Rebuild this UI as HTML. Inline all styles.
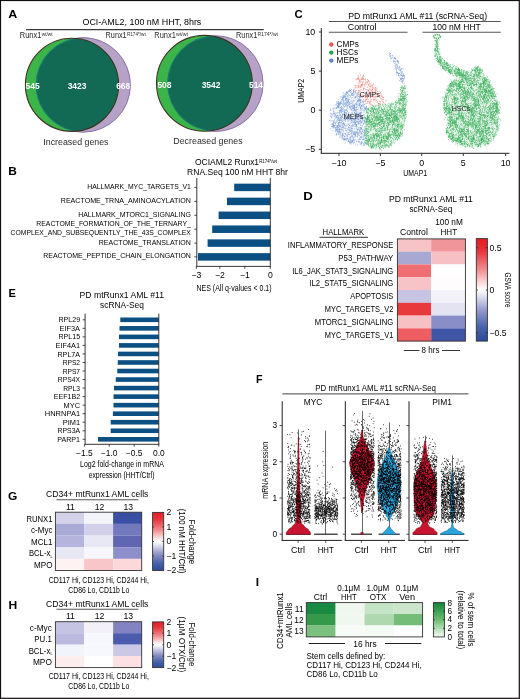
<!DOCTYPE html>
<html><head><meta charset="utf-8"><style>
html,body{margin:0;padding:0;background:#fff;}
body{width:520px;height:699px;overflow:hidden;}
svg{display:block;font-family:"Liberation Sans", sans-serif;filter:blur(0.3px);}

</style></head><body>
<svg width="520" height="699" viewBox="0 0 520 699">
<rect x="0" y="0" width="520" height="699" fill="#fff"/>
<text x="8.38" y="18.30" font-size="11.34" font-weight="bold" fill="#000" textLength="9.02" lengthAdjust="spacingAndGlyphs">A</text>
<text x="82.49" y="25.00" font-size="9.29" textLength="118.84" lengthAdjust="spacingAndGlyphs">OCI-AML2, 100 nM HHT, 8hrs</text>
<line x1="26" y1="29.6" x2="263.7" y2="29.6" stroke="#3a3a3a" stroke-width="1.1"/>
<text x="19.74" y="37.80" font-size="8.42" fill="#2a2a2a" textLength="21.76" lengthAdjust="spacingAndGlyphs">Runx1</text>
<text x="41.73" y="36.10" font-size="4.86" fill="#2a2a2a" textLength="10.94" lengthAdjust="spacingAndGlyphs">wt/wt</text>
<text x="105.54" y="37.50" font-size="8.42" fill="#2a2a2a" textLength="21.16" lengthAdjust="spacingAndGlyphs">Runx1</text>
<text x="126.93" y="35.80" font-size="4.86" fill="#2a2a2a" textLength="18.74" lengthAdjust="spacingAndGlyphs">R174*/wt</text>
<text x="154.34" y="37.50" font-size="8.42" fill="#2a2a2a" textLength="21.56" lengthAdjust="spacingAndGlyphs">Runx1</text>
<text x="176.13" y="35.80" font-size="4.86" fill="#2a2a2a" textLength="11.94" lengthAdjust="spacingAndGlyphs">wt/wt</text>
<text x="236.04" y="37.50" font-size="8.42" fill="#2a2a2a" textLength="21.26" lengthAdjust="spacingAndGlyphs">Runx1</text>
<text x="257.53" y="35.80" font-size="4.86" fill="#2a2a2a" textLength="20.44" lengthAdjust="spacingAndGlyphs">R174*/wt</text>
<defs><clipPath id="cp1"><circle cx="83.1" cy="84.9" r="47.3"/></clipPath><clipPath id="cg1"><circle cx="72.0" cy="84.8" r="46.6"/></clipPath></defs>
<circle cx="83.1" cy="84.9" r="47.3" fill="#b6a2c7" stroke="#8b72a9" stroke-width="1.0"/>
<circle cx="72.0" cy="84.8" r="46.6" fill="#3bb54a"/>
<circle cx="72.0" cy="84.8" r="46.6" fill="#126a54" clip-path="url(#cp1)"/>
<circle cx="83.1" cy="84.9" r="47.0" fill="none" stroke="#1f8a86" stroke-width="0.7" clip-path="url(#cg1)"/>
<circle cx="72.0" cy="84.8" r="46.6" fill="none" stroke="#3d3322" stroke-width="1.1"/>
<text x="32.60" y="89.10" font-size="8.42" text-anchor="middle" font-weight="bold" fill="#fff">545</text>
<text x="77.00" y="89.10" font-size="8.42" text-anchor="middle" font-weight="bold" fill="#fff">3423</text>
<text x="123.20" y="89.10" font-size="8.42" text-anchor="middle" font-weight="bold" fill="#fff">668</text>
<defs><clipPath id="cp2"><circle cx="215.2" cy="83.6" r="47.9"/></clipPath><clipPath id="cg2"><circle cx="204.4" cy="83.3" r="47.9"/></clipPath></defs>
<circle cx="215.2" cy="83.6" r="47.9" fill="#b6a2c7" stroke="#8b72a9" stroke-width="1.0"/>
<circle cx="204.4" cy="83.3" r="47.9" fill="#3bb54a"/>
<circle cx="204.4" cy="83.3" r="47.9" fill="#126a54" clip-path="url(#cp2)"/>
<circle cx="215.2" cy="83.6" r="47.6" fill="none" stroke="#1f8a86" stroke-width="0.7" clip-path="url(#cg2)"/>
<circle cx="204.4" cy="83.3" r="47.9" fill="none" stroke="#3d3322" stroke-width="1.1"/>
<text x="164.40" y="88.20" font-size="8.42" text-anchor="middle" font-weight="bold" fill="#fff">508</text>
<text x="211.00" y="88.20" font-size="8.42" text-anchor="middle" font-weight="bold" fill="#fff">3542</text>
<text x="256.00" y="88.20" font-size="8.42" text-anchor="middle" font-weight="bold" fill="#fff">514</text>
<text x="43.30" y="144.60" font-size="9.18" fill="#2a2a2a" textLength="65.23" lengthAdjust="spacingAndGlyphs">Increased genes</text>
<text x="173.30" y="144.30" font-size="9.18" fill="#2a2a2a" textLength="69.33" lengthAdjust="spacingAndGlyphs">Decreased genes</text>
<text x="8.28" y="175.40" font-size="11.34" font-weight="bold" fill="#000" textLength="8.62" lengthAdjust="spacingAndGlyphs">B</text>
<text x="194.92" y="165.00" font-size="8.75" textLength="64.19" lengthAdjust="spacingAndGlyphs">OCIAML2 Runx1</text>
<text x="259.13" y="162.60" font-size="4.97" textLength="17.75" lengthAdjust="spacingAndGlyphs">R174*/wt</text>
<text x="187.12" y="175.00" font-size="8.75" textLength="100.79" lengthAdjust="spacingAndGlyphs">RNA.Seq 100 nM HHT 8hr</text>
<rect x="234.20" y="183.65" width="36.10" height="7.50" fill="#0b4f83"/>
<line x1="194.3" y1="187.4" x2="196.8" y2="187.4" stroke="#231f20" stroke-width="0.8"/>
<rect x="227.00" y="197.65" width="43.30" height="7.50" fill="#0b4f83"/>
<line x1="194.3" y1="201.4" x2="196.8" y2="201.4" stroke="#231f20" stroke-width="0.8"/>
<rect x="218.60" y="211.55" width="51.70" height="7.50" fill="#0b4f83"/>
<line x1="194.3" y1="215.3" x2="196.8" y2="215.3" stroke="#231f20" stroke-width="0.8"/>
<rect x="212.20" y="225.45" width="58.10" height="7.50" fill="#0b4f83"/>
<line x1="194.3" y1="229.2" x2="196.8" y2="229.2" stroke="#231f20" stroke-width="0.8"/>
<rect x="207.60" y="239.35" width="62.70" height="7.50" fill="#0b4f83"/>
<line x1="194.3" y1="243.1" x2="196.8" y2="243.1" stroke="#231f20" stroke-width="0.8"/>
<rect x="198.00" y="253.15" width="72.30" height="7.50" fill="#0b4f83"/>
<line x1="194.3" y1="256.9" x2="196.8" y2="256.9" stroke="#231f20" stroke-width="0.8"/>
<text x="190.87" y="189.00" font-size="7.78" text-anchor="end" textLength="103.60" lengthAdjust="spacingAndGlyphs">HALLMARK_MYC_TARGETS_V1</text>
<text x="190.87" y="202.80" font-size="7.78" text-anchor="end" textLength="130.10" lengthAdjust="spacingAndGlyphs">REACTOME_TRNA_AMINOACYLATION</text>
<text x="190.87" y="216.50" font-size="7.78" text-anchor="end" textLength="112.70" lengthAdjust="spacingAndGlyphs">HALLMARK_MTORC1_SIGNALING</text>
<text x="190.87" y="226.10" font-size="7.78" text-anchor="end" textLength="154.60" lengthAdjust="spacingAndGlyphs">REACTOME_FORMATION_OF_THE_TERNARY_</text>
<text x="190.87" y="235.30" font-size="7.78" text-anchor="end" textLength="180.30" lengthAdjust="spacingAndGlyphs">COMPLEX_AND_SUBSEQUENTLY_THE_43S_COMPLEX</text>
<text x="190.87" y="245.30" font-size="7.78" text-anchor="end" textLength="92.10" lengthAdjust="spacingAndGlyphs">REACTOME_TRANSLATION</text>
<text x="190.87" y="258.40" font-size="7.78" text-anchor="end" textLength="147.60" lengthAdjust="spacingAndGlyphs">REACTOME_PEPTIDE_CHAIN_ELONGATION</text>
<line x1="196.8" y1="178" x2="196.8" y2="266.8" stroke="#231f20" stroke-width="0.9"/>
<line x1="196.4" y1="266.4" x2="270.7" y2="266.4" stroke="#231f20" stroke-width="0.9"/>
<line x1="270.3" y1="178" x2="270.3" y2="266.4" stroke="#231f20" stroke-width="0.9"/>
<line x1="196.4" y1="266.4" x2="196.4" y2="268.8" stroke="#231f20" stroke-width="0.8"/>
<text x="196.40" y="278.30" font-size="8.64" text-anchor="middle">−3</text>
<line x1="219.8" y1="266.4" x2="219.8" y2="268.8" stroke="#231f20" stroke-width="0.8"/>
<text x="219.80" y="278.30" font-size="8.64" text-anchor="middle">−2</text>
<line x1="244.8" y1="266.4" x2="244.8" y2="268.8" stroke="#231f20" stroke-width="0.8"/>
<text x="244.80" y="278.30" font-size="8.64" text-anchor="middle">−1</text>
<line x1="270.3" y1="266.4" x2="270.3" y2="268.8" stroke="#231f20" stroke-width="0.8"/>
<text x="270.30" y="278.30" font-size="8.64" text-anchor="middle">0</text>
<text x="196.40" y="291.00" font-size="9.07" textLength="75.22" lengthAdjust="spacingAndGlyphs">NES (All q-values &lt; 0.1)</text>
<text x="294.58" y="18.20" font-size="11.34" font-weight="bold" fill="#000" textLength="8.22" lengthAdjust="spacingAndGlyphs">C</text>
<text x="348.31" y="18.60" font-size="8.86" textLength="138.80" lengthAdjust="spacingAndGlyphs">PD mtRunx1 AML #11 (scRNA-Seq)</text>
<line x1="328.8" y1="21.5" x2="500.7" y2="21.5" stroke="#555" stroke-width="1.1"/>
<text x="347.71" y="29.80" font-size="8.86" textLength="28.80" lengthAdjust="spacingAndGlyphs">Control</text>
<text x="432.51" y="29.80" font-size="8.86" textLength="48.30" lengthAdjust="spacingAndGlyphs">100 nM HHT</text>
<line x1="328.8" y1="32.2" x2="407.5" y2="32.2" stroke="#555" stroke-width="1.1"/>
<line x1="422.5" y1="32.2" x2="500.7" y2="32.2" stroke="#555" stroke-width="1.1"/>
<line x1="321.3" y1="28" x2="321.3" y2="153.5" stroke="#231f20" stroke-width="1.0"/>
<line x1="320.8" y1="153.3" x2="509.4" y2="153.3" stroke="#231f20" stroke-width="1.0"/>
<line x1="318.8" y1="32" x2="321.3" y2="32" stroke="#231f20" stroke-width="0.9"/>
<text x="315.30" y="34.90" font-size="8.86" text-anchor="end">10</text>
<line x1="318.8" y1="71.1" x2="321.3" y2="71.1" stroke="#231f20" stroke-width="0.9"/>
<text x="315.30" y="74.00" font-size="8.86" text-anchor="end">5</text>
<line x1="318.8" y1="110.2" x2="321.3" y2="110.2" stroke="#231f20" stroke-width="0.9"/>
<text x="315.30" y="113.10" font-size="8.86" text-anchor="end">0</text>
<line x1="318.8" y1="149.3" x2="321.3" y2="149.3" stroke="#231f20" stroke-width="0.9"/>
<text x="315.30" y="152.20" font-size="8.86" text-anchor="end">−5</text>
<line x1="339" y1="153.3" x2="339" y2="156" stroke="#231f20" stroke-width="0.9"/>
<text x="339.00" y="165.70" font-size="8.86" text-anchor="middle">−10</text>
<line x1="380.4" y1="153.3" x2="380.4" y2="156" stroke="#231f20" stroke-width="0.9"/>
<text x="380.40" y="165.70" font-size="8.86" text-anchor="middle">−5</text>
<line x1="421.7" y1="153.3" x2="421.7" y2="156" stroke="#231f20" stroke-width="0.9"/>
<text x="421.70" y="165.70" font-size="8.86" text-anchor="middle">0</text>
<line x1="463.3" y1="153.3" x2="463.3" y2="156" stroke="#231f20" stroke-width="0.9"/>
<text x="463.30" y="165.70" font-size="8.86" text-anchor="middle">5</text>
<line x1="505.6" y1="153.3" x2="505.6" y2="156" stroke="#231f20" stroke-width="0.9"/>
<text x="505.60" y="165.70" font-size="8.86" text-anchor="middle">10</text>
<text x="403.32" y="176.40" font-size="8.64" textLength="23.78" lengthAdjust="spacingAndGlyphs">UMAP1</text>
<text x="304.30" y="102.68" font-size="8.64" textLength="23.78" lengthAdjust="spacingAndGlyphs" transform="rotate(-90 304.30 102.68)">UMAP2</text>
<circle cx="331.3" cy="44.5" r="2.2" fill="#e8574f"/>
<text x="336.60" y="47.20" font-size="8.21">CMPs</text>
<circle cx="331.3" cy="52.6" r="2.2" fill="#2ca14b"/>
<text x="336.60" y="55.30" font-size="8.21">HSCs</text>
<circle cx="331.3" cy="60.6" r="2.2" fill="#5c86c9"/>
<text x="336.60" y="63.30" font-size="8.21">MEPs</text>
<ellipse cx="437" cy="36.5" rx="3.4" ry="1.9" fill="none" stroke="#34ad55" stroke-width="1.5" stroke-dasharray="1.4 0.6" stroke-opacity="0.85"/>
<polygon points="348.8,90.8 353.5,88.5 360.0,96.0 367.0,106.0 366.0,120.0 365.2,135.0 365.2,144.6 358.5,145.5 348.8,142.7 339.2,137.5 332.0,128.0 329.2,117.7 331.5,109.0 337.0,101.0 343.0,94.0" fill="#6a90d0" fill-opacity="0.06"/>
<path d="M331.0 117.6h.6M333.1 113.2h.6M350.7 144.2h.6M343.9 120.0h.6M354.0 112.3h.6M339.6 120.1h.6M334.3 113.3h.6M357.5 122.6h.6M353.0 119.5h.6M346.7 125.0h.6M341.1 110.6h.6M342.8 138.6h.6M341.6 110.5h.6M350.6 103.9h.6M349.2 142.7h.6M343.8 111.0h.6M335.9 107.9h.6M334.0 108.2h.6M344.2 106.7h.6M347.5 116.6h.6M341.6 136.1h.6M361.4 128.6h.6M358.0 119.5h.6M338.0 118.0h.6M340.8 103.0h.6M365.4 109.9h.6M361.1 115.4h.6M357.8 114.9h.6M357.5 145.3h.6M357.9 100.0h.6M345.1 120.0h.6M345.8 138.9h.6M340.2 103.3h.6M343.4 114.0h.6M346.0 98.4h.6M341.6 117.6h.6M350.5 101.5h.6M349.1 132.3h.6M347.1 118.1h.6M339.3 119.9h.6M333.8 114.1h.6M355.4 134.5h.6M342.0 99.5h.6M349.5 114.8h.6M349.2 89.6h.6M364.2 121.2h.6M356.5 112.2h.6M359.7 113.6h.6M349.3 102.4h.6M336.9 105.5h.6M360.7 112.3h.6M341.5 135.2h.6M358.9 104.0h.6M339.0 106.1h.6M366.8 119.5h.6M344.0 116.7h.6M333.4 111.4h.6M338.0 120.4h.6M336.7 130.3h.6M358.0 96.4h.6M334.9 108.0h.6M349.4 125.3h.6M364.6 116.9h.6M358.7 123.9h.6M338.7 130.8h.6M339.7 118.0h.6M360.1 144.4h.6M345.8 106.4h.6M359.0 135.6h.6M360.4 107.3h.6M339.0 104.5h.6M366.3 120.3h.6M346.9 105.4h.6M338.1 125.5h.6M332.7 108.8h.6M349.8 139.6h.6M336.5 104.6h.6M365.0 135.4h.6M346.6 119.2h.6M354.4 128.8h.6M351.1 110.5h.6M353.6 139.6h.6M366.7 128.8h.6M353.6 110.5h.6M342.6 114.2h.6M358.0 117.1h.6M360.3 100.8h.6M365.4 117.8h.6M353.8 143.0h.6M365.9 106.6h.6M343.5 109.9h.6M359.3 113.3h.6M360.2 132.3h.6M364.5 107.5h.6M339.1 129.4h.6M364.2 111.0h.6M358.0 124.0h.6M336.9 131.5h.6M363.0 145.0h.6M348.1 130.0h.6M361.7 125.7h.6M337.9 104.3h.6M352.2 107.0h.6M338.4 134.6h.6M352.0 140.7h.6M333.4 123.4h.6M338.9 122.8h.6M341.3 127.8h.6M360.1 120.3h.6M350.8 126.3h.6M345.5 104.4h.6M343.0 99.8h.6M344.6 139.0h.6M332.0 123.9h.6M340.8 118.9h.6M361.3 145.3h.6M367.0 115.6h.6M359.6 99.6h.6M343.4 93.4h.6M333.1 122.1h.6M347.9 100.8h.6M336.7 116.2h.6M334.0 114.1h.6M357.6 117.6h.6M358.0 134.8h.6M343.1 131.1h.6M360.6 96.4h.6M339.8 117.5h.6M355.0 139.1h.6M345.4 133.9h.6M336.2 130.2h.6M351.6 126.3h.6M332.7 123.4h.6M353.6 90.1h.6M342.1 100.9h.6M353.5 115.3h.6M343.6 102.5h.6M343.9 124.7h.6M350.5 143.4h.6M337.8 106.8h.6M359.7 127.9h.6M360.1 128.7h.6M357.4 116.3h.6M338.1 130.0h.6M363.7 106.5h.6M350.5 105.8h.6M364.6 108.2h.6M355.4 124.3h.6M361.7 137.7h.6M354.4 105.9h.6M337.7 106.8h.6M338.8 131.6h.6M356.1 118.8h.6M360.7 99.8h.6M348.2 117.6h.6M343.1 135.6h.6M338.4 129.3h.6M354.9 134.2h.6M344.3 139.1h.6M343.2 105.9h.6M357.4 96.9h.6M339.0 107.9h.6M359.7 131.6h.6M334.4 120.7h.6M346.4 100.3h.6M353.3 92.5h.6M353.7 140.1h.6M331.1 117.1h.6M348.4 127.9h.6M337.2 127.0h.6M366.3 109.8h.6M365.0 117.6h.6M347.8 120.3h.6M352.5 135.3h.6M342.1 137.5h.6M345.2 98.3h.6M337.2 106.3h.6M354.3 108.9h.6M361.7 141.6h.6M354.5 88.9h.6M360.0 107.2h.6M353.6 131.9h.6M359.3 99.4h.6M345.7 139.5h.6M333.9 116.7h.6M347.8 116.8h.6M360.0 113.5h.6M333.4 125.1h.6M347.2 138.3h.6M340.8 137.8h.6M357.2 101.1h.6M359.5 105.9h.6M353.6 134.4h.6M362.6 119.7h.6M346.6 132.2h.6M342.4 135.1h.6M339.3 113.1h.6M351.1 89.5h.6M362.9 114.8h.6M364.3 144.6h.6M353.7 100.6h.6M341.7 129.2h.6M330.1 110.0h.6M342.1 125.7h.6M352.2 104.9h.6M352.7 105.5h.6M355.4 122.0h.6M350.1 131.6h.6M346.8 98.5h.6M346.7 92.8h.6M349.2 116.3h.6M335.1 128.1h.6M349.7 97.0h.6M334.0 125.7h.6M345.2 118.7h.6M340.7 132.4h.6M360.8 143.6h.6M352.6 111.0h.6M355.9 113.1h.6M363.7 134.7h.6M341.2 122.8h.6M348.3 99.3h.6M336.2 113.2h.6M360.8 116.3h.6M339.0 113.9h.6M340.9 100.0h.6M338.0 105.5h.6M342.7 95.4h.6M338.2 122.6h.6M357.3 100.4h.6M346.7 103.1h.6M361.4 122.4h.6M345.0 128.8h.6M363.2 138.0h.6M348.0 139.9h.6M343.0 97.8h.6M360.7 107.9h.6M350.0 119.0h.6M339.9 136.0h.6M351.7 120.9h.6M362.9 130.2h.6M347.7 104.7h.6M350.1 136.9h.6M362.6 117.8h.6M339.4 103.3h.6M354.1 109.7h.6M337.1 126.6h.6M341.0 106.8h.6M364.1 118.0h.6M338.3 101.8h.6M352.7 122.5h.6M347.1 107.4h.6M342.5 123.5h.6M337.6 123.1h.6M342.2 133.3h.6M344.4 114.0h.6M355.3 122.5h.6M359.4 121.6h.6M345.5 130.5h.6M361.7 117.8h.6M346.6 140.8h.6M344.5 140.1h.6M348.0 118.6h.6M354.1 119.2h.6M361.6 116.8h.6M343.9 97.3h.6M354.4 122.8h.6M330.3 113.4h.6M336.5 118.3h.6M351.8 113.3h.6M354.1 134.6h.6M341.8 130.0h.6M348.0 124.5h.6M361.2 105.5h.6M343.2 131.4h.6M347.9 134.5h.6M339.2 120.3h.6M342.3 103.2h.6M349.3 102.6h.6M350.9 109.0h.6M348.7 118.5h.6M353.7 121.1h.6M340.5 125.9h.6M347.8 106.1h.6M332.2 130.6h.6M353.4 107.2h.6M344.2 125.8h.6M357.5 129.3h.6M337.5 106.0h.6M349.4 130.0h.6M362.6 133.3h.6M353.5 92.3h.6M352.6 113.3h.6M348.6 141.1h.6M353.2 133.7h.6M354.2 119.8h.6M345.8 101.2h.6M353.5 102.0h.6M365.0 108.2h.6M349.2 130.7h.6M342.7 100.9h.6M355.2 115.0h.6M346.0 98.3h.6M337.6 118.8h.6M340.4 102.8h.6M359.7 103.9h.6M340.0 110.9h.6M347.5 118.2h.6M329.8 128.6h.6M347.7 99.4h.6M339.1 126.6h.6M340.0 114.3h.6M353.3 105.1h.6M353.8 105.4h.6M337.6 127.9h.6M342.0 121.4h.6M345.2 94.2h.6M348.6 102.6h.6M352.4 93.6h.6M342.4 97.6h.6M354.4 137.2h.6M335.7 129.5h.6M352.2 93.7h.6M364.6 128.0h.6M361.4 121.7h.6M359.1 100.5h.6M349.7 127.7h.6M343.4 95.8h.6M359.6 127.3h.6M352.7 94.9h.6M350.8 91.8h.6M353.8 104.0h.6M351.0 118.6h.6M350.6 131.0h.6M353.8 107.2h.6M352.9 108.7h.6M347.5 110.4h.6M351.5 106.1h.6M341.7 129.6h.6M364.6 122.9h.6M343.3 138.2h.6M340.0 103.9h.6M356.2 102.2h.6M361.6 122.9h.6M362.8 109.1h.6M352.2 107.1h.6M358.9 112.0h.6M354.0 122.0h.6M355.5 133.6h.6M350.1 142.2h.6M354.7 132.6h.6M358.0 93.9h.6M349.1 119.8h.6M358.8 141.3h.6M359.9 114.5h.6M337.0 103.2h.6M335.9 134.8h.6M338.7 119.4h.6M339.1 132.2h.6M347.0 138.1h.6M356.8 93.7h.6M358.4 127.8h.6M346.3 94.4h.6M335.9 126.4h.6M366.0 108.0h.6M356.8 104.4h.6M349.7 107.8h.6M351.8 119.6h.6M354.0 112.6h.6M346.1 113.3h.6M344.9 103.5h.6M358.5 139.5h.6M353.7 119.8h.6M341.6 125.7h.6M348.3 100.6h.6M349.0 119.2h.6M361.3 112.9h.6M344.0 136.3h.6M342.3 134.4h.6M359.0 130.9h.6M348.4 102.9h.6M350.6 91.0h.6M333.0 125.8h.6M360.2 124.0h.6M341.9 129.9h.6M352.6 140.9h.6M344.8 127.2h.6M362.3 131.0h.6M345.9 139.3h.6M355.0 119.6h.6M350.3 90.5h.6M359.5 139.2h.6M339.5 105.4h.6M351.0 117.9h.6M338.0 99.8h.6M345.6 117.7h.6M349.2 91.2h.6M350.8 106.1h.6M353.8 134.9h.6M344.7 139.1h.6M333.1 121.9h.6M359.1 116.2h.6M355.0 97.1h.6M360.0 104.8h.6M342.3 133.8h.6M343.1 124.9h.6M349.1 103.9h.6M349.4 95.6h.6M362.5 101.7h.6M353.3 91.6h.6M360.2 122.7h.6M332.1 124.9h.6M344.5 128.4h.6M347.7 96.7h.6M347.4 119.2h.6M349.8 118.3h.6M349.3 138.9h.6M337.8 131.5h.6M344.4 117.8h.6M358.9 130.4h.6M342.3 134.6h.6M356.6 127.6h.6M348.7 115.9h.6M361.0 132.4h.6M355.7 128.9h.6M351.0 142.1h.6M339.1 137.3h.6M366.0 136.3h.6M360.6 133.7h.6M344.7 123.6h.6M342.5 137.1h.6M338.5 126.9h.6M334.0 126.9h.6M349.8 139.5h.6M336.4 120.7h.6M346.1 135.0h.6M362.2 125.7h.6M364.8 108.4h.6M355.1 118.2h.6M356.5 131.7h.6M335.6 122.3h.6M357.5 124.2h.6M351.8 136.1h.6M356.7 129.0h.6M335.2 130.9h.6M337.3 107.3h.6M358.7 105.3h.6M349.1 106.7h.6M337.6 101.9h.6M356.9 132.0h.6M341.7 111.4h.6M354.3 140.2h.6M353.7 121.1h.6M332.8 126.8h.6M353.3 137.1h.6M350.9 103.1h.6M340.8 101.5h.6M343.3 127.6h.6M331.5 113.6h.6M337.1 125.5h.6M338.4 132.2h.6M347.2 111.5h.6M330.4 116.2h.6M356.4 115.4h.6M348.5 112.9h.6M340.9 120.2h.6M358.4 92.2h.6M356.1 124.9h.6M360.1 114.8h.6M363.9 133.3h.6M338.4 102.0h.6M364.8 143.4h.6M360.6 136.5h.6M352.2 108.6h.6M362.2 120.2h.6M355.9 113.2h.6M356.5 114.7h.6M355.4 132.3h.6M365.6 103.7h.6M335.8 115.6h.6M333.4 125.8h.6M333.1 108.9h.6M354.4 122.9h.6M360.0 127.6h.6M346.5 138.2h.6M355.4 103.6h.6M340.3 102.8h.6M362.9 139.3h.6M364.3 134.9h.6M338.5 123.6h.6M350.9 141.2h.6M338.3 102.5h.6M352.3 121.3h.6M340.2 96.7h.6M339.1 112.4h.6M342.5 135.3h.6M334.8 125.5h.6M352.7 101.4h.6M343.1 129.0h.6M343.1 120.1h.6M340.1 110.9h.6M360.4 102.1h.6M347.4 129.8h.6M345.1 96.1h.6M364.9 121.7h.6M365.8 120.2h.6M345.8 130.4h.6M339.1 128.3h.6M346.7 97.8h.6M348.4 101.0h.6M363.5 132.3h.6M351.9 140.2h.6M345.8 95.2h.6M339.1 115.3h.6M346.0 102.3h.6M341.8 127.0h.6M350.5 129.6h.6M347.9 94.0h.6M362.9 120.3h.6M359.6 101.6h.6M343.3 126.8h.6M338.0 104.4h.6M346.3 92.5h.6M335.6 115.4h.6M336.6 134.0h.6M351.4 136.6h.6M338.1 103.6h.6M340.9 118.8h.6M332.5 125.8h.6M357.6 110.1h.6M350.0 90.5h.6M360.8 134.4h.6M350.1 96.1h.6M352.1 102.8h.6M355.6 99.9h.6M351.9 141.3h.6M337.2 130.0h.6M359.2 105.8h.6M351.7 93.5h.6M348.1 117.0h.6M357.6 95.3h.6M338.3 127.6h.6M354.0 133.2h.6M363.1 124.2h.6M358.4 132.9h.6M358.8 96.5h.6M350.1 137.5h.6M345.4 110.4h.6M351.7 103.4h.6M359.9 108.9h.6M361.5 105.9h.6M361.9 119.9h.6M364.3 141.3h.6M338.7 110.1h.6M364.3 130.7h.6M357.2 134.0h.6M364.5 130.7h.6M362.1 101.2h.6M360.8 102.1h.6M358.1 141.3h.6M349.9 115.1h.6M365.7 128.0h.6M346.2 92.2h.6M342.9 100.5h.6M341.1 108.4h.6M352.4 125.4h.6M351.5 133.1h.6M364.4 142.4h.6M333.4 125.1h.6M337.9 104.1h.6M338.8 104.3h.6M351.0 128.1h.6M346.4 92.0h.6M358.7 103.3h.6M352.7 106.2h.6M337.3 115.6h.6M364.4 115.1h.6M342.2 111.8h.6M352.2 141.3h.6M341.8 136.2h.6M351.6 112.9h.6M340.0 117.4h.6M343.8 124.2h.6M349.8 103.7h.6M360.4 97.1h.6M366.9 121.1h.6M346.2 98.7h.6M356.3 125.0h.6M345.9 113.5h.6M353.8 107.0h.6M364.2 121.3h.6M352.2 108.7h.6M340.8 131.3h.6M362.0 116.2h.6M364.5 130.3h.6M363.9 121.8h.6M360.1 95.7h.6M345.7 128.5h.6M335.8 127.4h.6M355.9 115.9h.6M335.9 127.1h.6M331.7 114.0h.6M357.0 129.8h.6M349.1 107.2h.6M359.3 104.9h.6M359.0 123.6h.6M334.8 127.8h.6M334.3 116.3h.6M351.2 133.7h.6M344.4 119.8h.6M352.6 119.7h.6M339.2 122.0h.6M351.7 136.1h.6M345.9 125.8h.6M352.6 124.5h.6M350.1 134.1h.6M345.3 103.9h.6M358.7 100.2h.6M348.4 141.5h.6M332.1 126.6h.6M355.8 116.7h.6M343.0 96.9h.6M342.0 104.7h.6M356.4 113.6h.6M336.8 125.9h.6M365.2 135.8h.6M331.6 126.3h.6M350.9 128.8h.6M363.0 123.6h.6M363.9 120.6h.6M341.3 109.4h.6M338.4 117.9h.6M336.4 117.3h.6M359.8 117.5h.6M342.9 103.3h.6M346.5 130.5h.6M340.7 108.3h.6M337.4 131.9h.6M355.3 104.2h.6M367.3 118.0h.6M338.3 106.1h.6M346.1 109.7h.6M346.4 112.4h.6M363.0 111.9h.6M342.8 111.3h.6M341.9 127.4h.6M355.3 125.2h.6M350.3 108.1h.6M352.2 118.4h.6M340.1 122.4h.6M356.9 104.2h.6M330.0 109.0h.6M339.5 131.4h.6M347.0 100.9h.6M342.8 114.7h.6M343.9 136.9h.6M341.8 124.0h.6M364.6 108.5h.6M341.0 108.1h.6M366.1 110.3h.6M338.5 132.7h.6M346.1 98.5h.6M338.5 124.8h.6M349.2 107.3h.6M352.0 95.0h.6M352.7 134.0h.6M360.1 125.5h.6M364.3 145.8h.6M355.8 120.9h.6M332.4 124.8h.6M347.5 133.0h.6M358.0 100.9h.6M352.0 136.6h.6M359.7 114.3h.6M357.0 134.9h.6M336.8 129.3h.6M338.7 125.6h.6M337.7 112.7h.6M353.7 132.8h.6M345.1 119.5h.6M343.3 96.7h.6M345.3 119.1h.6M358.6 122.7h.6M339.5 129.3h.6M342.3 114.7h.6M346.8 103.0h.6M359.0 129.8h.6M345.2 105.9h.6M358.9 116.8h.6M343.3 126.5h.6M339.3 120.7h.6M361.5 143.2h.6M360.6 116.8h.6M353.2 126.3h.6M351.4 107.0h.6M359.3 105.5h.6M342.1 98.7h.6M340.0 126.4h.6M362.9 102.2h.6M344.6 139.9h.6M344.0 95.8h.6M345.1 102.6h.6M355.2 123.1h.6M335.5 113.0h.6M340.0 124.0h.6M347.7 118.0h.6M355.4 135.6h.6M331.4 126.4h.6M356.1 90.7h.6M356.1 125.1h.6M360.4 99.9h.6M361.0 137.5h.6M342.1 107.9h.6M353.9 97.9h.6M335.6 128.6h.6M361.2 105.8h.6M346.3 109.4h.6M339.1 103.8h.6M350.6 119.8h.6M354.3 134.1h.6M334.5 119.7h.6M355.0 120.2h.6M363.0 136.8h.6M342.6 92.1h.6M358.7 113.0h.6M333.4 125.3h.6M337.5 115.5h.6M344.2 136.6h.6M340.0 115.6h.6M337.1 107.8h.6M347.0 135.8h.6M350.8 122.1h.6M351.8 93.1h.6M357.8 121.4h.6M359.6 139.1h.6M339.8 133.0h.6M355.0 144.3h.6M359.7 103.6h.6M352.1 142.7h.6M359.9 96.2h.6M348.4 141.0h.6M349.6 141.9h.6M360.5 100.2h.6M361.8 142.7h.6M361.3 122.1h.6M362.6 101.9h.6M359.3 132.7h.6M358.6 115.5h.6M343.9 139.4h.6M332.7 128.0h.6M338.6 132.3h.6M355.4 96.5h.6M356.7 102.7h.6M350.6 138.1h.6M345.4 133.6h.6M361.8 108.7h.6M346.5 105.3h.6M336.7 131.7h.6M360.1 130.1h.6M345.2 110.6h.6M354.2 109.8h.6M346.0 110.6h.6M351.5 120.3h.6M351.0 101.1h.6M359.0 138.1h.6M350.9 119.5h.6M355.6 109.4h.6M356.4 124.4h.6M359.0 115.8h.6M351.1 125.5h.6M349.0 125.5h.6M356.1 104.9h.6M354.9 107.6h.6M358.6 105.2h.6M357.9 115.7h.6M351.5 130.9h.6M340.5 116.3h.6M339.2 131.0h.6M364.7 143.8h.6M363.9 104.7h.6M338.2 122.6h.6M360.0 128.9h.6M351.8 117.2h.6M336.2 129.5h.6M335.0 118.2h.6M353.1 139.2h.6M345.0 143.1h.6M350.8 140.7h.6M358.0 122.6h.6M358.4 128.8h.6M346.8 134.7h.6M347.2 92.1h.6M366.2 106.4h.6M358.3 99.6h.6M356.2 117.5h.6M343.7 104.0h.6M347.7 139.0h.6M341.4 106.5h.6M339.3 129.6h.6M359.3 96.4h.6M359.9 117.2h.6M354.1 120.8h.6M332.9 113.3h.6M341.0 112.7h.6M355.7 110.5h.6M361.4 142.2h.6M360.2 100.5h.6M347.5 108.7h.6M357.7 115.3h.6M363.6 123.1h.6M356.1 96.5h.6M342.1 115.0h.6M366.0 107.8h.6M353.3 125.0h.6M352.5 141.2h.6M339.5 134.2h.6M337.3 106.4h.6M349.0 127.9h.6M347.0 119.3h.6M354.7 118.4h.6M349.8 107.9h.6M358.4 107.9h.6M353.8 109.3h.6M357.4 106.1h.6M331.3 124.4h.6M363.4 101.6h.6M336.8 117.3h.6M363.1 115.0h.6M359.7 94.6h.6M332.8 127.9h.6M354.6 107.6h.6M357.7 118.8h.6M361.8 106.7h.6M356.5 133.3h.6M356.5 111.2h.6M342.0 117.1h.6M355.5 110.2h.6M360.3 108.3h.6M348.1 120.8h.6M356.1 141.6h.6M362.4 131.2h.6M353.1 106.0h.6M341.7 139.1h.6M354.9 91.7h.6M343.3 104.4h.6M343.3 122.5h.6M357.3 136.2h.6M360.8 143.4h.6M347.9 105.1h.6M340.3 129.3h.6M345.4 105.1h.6M347.4 95.6h.6M344.0 109.7h.6M342.9 105.6h.6M350.2 130.1h.6M365.1 138.3h.6M339.0 111.0h.6M344.2 96.7h.6M361.4 118.5h.6M344.9 98.5h.6M356.9 94.2h.6M351.2 109.6h.6M352.7 95.7h.6M342.0 107.4h.6M355.9 107.4h.6M353.2 108.5h.6M346.3 114.8h.6M349.1 106.0h.6M364.6 126.8h.6M349.7 123.7h.6M364.7 108.7h.6M338.4 106.8h.6M341.8 124.3h.6M356.4 95.3h.6M354.1 105.7h.6M345.6 93.2h.6M360.7 96.4h.6M360.9 117.5h.6M338.1 107.0h.6M348.1 127.6h.6M362.6 104.8h.6M345.3 121.3h.6M336.5 129.2h.6M353.0 142.9h.6M348.4 115.3h.6M354.1 133.3h.6M359.4 97.2h.6M339.8 110.3h.6M337.9 107.7h.6M357.3 118.7h.6M346.9 99.9h.6M347.6 121.7h.6M354.4 124.6h.6M362.0 139.5h.6M343.1 98.2h.6M339.1 122.2h.6M337.2 119.5h.6M353.0 92.8h.6M350.7 122.0h.6M352.4 118.4h.6M352.1 128.7h.6M357.3 101.1h.6M357.7 101.2h.6M346.6 92.8h.6M348.2 118.9h.6M339.8 107.4h.6M344.2 111.0h.6M353.3 122.6h.6M366.9 119.6h.6M344.2 124.7h.6M338.1 103.9h.6M335.7 134.8h.6M356.9 133.1h.6M346.9 103.2h.6M349.8 137.8h.6M346.3 114.1h.6M363.2 145.3h.6M339.7 131.8h.6M344.5 94.3h.6M341.4 129.2h.6M334.2 123.2h.6M340.5 104.7h.6M352.9 132.9h.6M353.9 94.8h.6M342.5 115.6h.6M339.7 122.9h.6M339.4 102.9h.6M358.1 118.9h.6M364.6 142.6h.6M354.6 107.2h.6M351.3 94.6h.6M351.3 120.4h.6M344.6 118.5h.6M341.4 99.7h.6M365.8 132.3h.6M353.0 90.3h.6M352.0 138.1h.6M343.1 97.4h.6M351.1 142.6h.6M348.9 141.2h.6M354.6 115.5h.6M347.1 128.7h.6M340.3 133.1h.6M361.7 131.5h.6M335.4 130.0h.6M349.7 117.7h.6M338.6 133.4h.6M357.0 136.9h.6M355.4 116.2h.6M342.0 127.6h.6M339.6 125.9h.6M349.7 95.0h.6M363.7 139.6h.6M355.6 126.8h.6M335.1 124.1h.6M356.8 118.4h.6M353.6 100.4h.6M365.9 108.0h.6M345.5 96.5h.6M352.3 97.6h.6M344.8 112.2h.6M354.4 110.3h.6M340.7 118.0h.6M354.5 104.6h.6M354.3 113.3h.6M354.3 108.7h.6M355.5 120.1h.6M346.8 93.4h.6M361.1 109.7h.6M366.8 138.3h.6M344.9 112.5h.6M350.2 138.1h.6M359.8 100.1h.6M359.5 101.8h.6M339.3 125.4h.6M346.1 116.4h.6M344.1 103.9h.6M343.6 123.1h.6M336.9 125.7h.6M348.4 101.5h.6M337.0 127.2h.6M342.9 133.8h.6M354.1 119.3h.6M348.5 95.1h.6M356.6 126.4h.6M364.1 117.7h.6M356.8 94.1h.6M350.8 109.3h.6M362.5 136.1h.6M346.7 138.5h.6M357.3 113.3h.6M344.8 100.3h.6M355.0 116.4h.6M361.2 119.2h.6M346.9 102.6h.6M353.1 95.1h.6M352.7 140.9h.6M355.1 135.1h.6M346.8 136.5h.6M338.5 124.0h.6M336.1 108.1h.6M338.0 126.9h.6M348.7 129.4h.6M348.4 104.0h.6M342.8 139.9h.6M351.6 95.0h.6M364.0 104.3h.6M336.5 134.7h.6M349.9 131.1h.6M349.5 99.2h.6M348.4 127.4h.6M336.9 117.0h.6M360.2 137.6h.6M350.6 127.3h.6M342.1 117.0h.6M351.8 128.5h.6M357.2 121.7h.6M360.6 106.4h.6M339.7 110.8h.6M357.6 118.2h.6M330.8 115.1h.6M363.1 105.0h.6M359.9 142.6h.6M338.6 118.3h.6M354.8 97.7h.6M360.1 136.8h.6M354.1 105.7h.6M365.0 132.3h.6M334.9 127.6h.6M357.0 117.9h.6M349.4 104.4h.6M336.1 116.9h.6M340.1 112.1h.6M357.5 109.4h.6M354.3 141.9h.6M344.6 106.4h.6M363.8 132.3h.6M336.3 108.0h.6M353.5 111.1h.6M340.6 127.9h.6M347.4 92.7h.6M336.3 121.9h.6M359.9 131.5h.6M351.1 95.1h.6M343.9 133.2h.6M360.7 108.6h.6M348.2 132.7h.6M361.3 128.3h.6M346.5 101.7h.6M354.5 126.3h.6M357.3 116.1h.6M341.2 112.5h.6M360.1 110.2h.6M353.0 107.8h.6M352.1 131.4h.6M351.3 97.8h.6M348.4 91.0h.6M365.1 108.6h.6M350.3 142.8h.6M350.2 119.4h.6M341.8 96.6h.6M354.8 123.4h.6M340.9 122.1h.6M359.7 129.8h.6M352.9 90.2h.6M361.1 141.9h.6M346.8 96.2h.6M355.3 113.7h.6M350.5 107.1h.6M365.9 120.2h.6M335.3 117.2h.6M344.8 96.7h.6M356.1 121.7h.6M343.4 118.3h.6M348.3 117.4h.6M344.6 115.6h.6M340.0 135.0h.6M331.6 116.6h.6M356.9 121.6h.6M366.9 130.8h.6M336.1 102.0h.6M348.2 134.0h.6M346.8 136.0h.6M359.9 107.6h.6M351.7 100.1h.6M333.8 122.4h.6M351.6 131.6h.6M362.7 105.6h.6M356.7 132.7h.6M344.4 103.9h.6M351.5 130.6h.6M340.3 119.0h.6M354.8 116.3h.6M356.3 107.0h.6M349.0 116.9h.6M345.2 125.5h.6M355.8 112.9h.6M351.4 115.6h.6M337.8 120.5h.6M351.1 93.4h.6M364.8 110.0h.6M345.6 114.9h.6M355.1 126.5h.6M338.2 107.0h.6M346.3 104.4h.6M343.5 123.8h.6M355.4 131.8h.6M358.7 133.8h.6M366.9 109.3h.6M347.0 106.1h.6M366.5 118.9h.6M347.7 92.6h.6M349.3 134.5h.6M357.2 129.5h.6M356.3 109.4h.6M343.4 108.4h.6M350.8 140.6h.6M357.8 132.7h.6M361.2 129.6h.6M344.4 116.2h.6M334.9 131.7h.6M356.0 106.9h.6M361.6 139.2h.6M355.8 136.4h.6M344.9 113.1h.6M358.6 122.0h.6M341.8 121.1h.6M339.0 129.0h.6M357.7 119.9h.6M362.3 121.8h.6M351.4 135.1h.6M349.0 143.0h.6M353.6 108.9h.6M352.5 130.2h.6M355.7 97.8h.6M356.2 124.7h.6M341.5 111.4h.6M344.5 112.8h.6M334.8 114.9h.6M332.7 115.0h.6M336.6 103.5h.6M361.6 133.8h.6M333.1 110.3h.6M345.8 91.3h.6M356.5 132.3h.6M357.6 117.2h.6M358.0 94.2h.6M361.3 106.2h.6M338.6 117.2h.6M360.7 113.0h.6M350.8 114.5h.6M345.2 99.4h.6M362.7 106.9h.6M354.2 131.3h.6M361.9 110.3h.6M354.8 113.9h.6M359.5 121.5h.6M359.1 100.1h.6M355.7 113.5h.6M363.2 139.6h.6M353.9 93.2h.6M362.3 104.3h.6M357.8 119.8h.6M349.5 90.6h.6M354.4 106.6h.6M359.7 113.8h.6M355.2 92.4h.6M335.0 114.6h.6M333.7 125.8h.6M348.1 123.9h.6M347.7 117.8h.6M360.7 114.5h.6M358.7 100.1h.6M350.9 128.5h.6M350.4 90.5h.6M357.6 134.1h.6M332.9 121.0h.6M344.5 95.9h.6M356.7 140.9h.6M361.3 133.4h.6M337.8 118.9h.6M355.6 93.4h.6M356.1 104.1h.6M353.8 123.0h.6M343.3 101.9h.6M356.2 103.9h.6M340.1 109.8h.6M356.7 118.3h.6M345.0 99.8h.6M351.2 132.9h.6M349.8 141.8h.6M333.0 124.2h.6M338.7 129.5h.6M339.1 129.9h.6M350.1 92.6h.6M339.3 110.9h.6M354.9 124.1h.6M335.5 104.7h.6M340.2 107.6h.6M347.8 91.5h.6M343.1 123.7h.6M338.2 118.4h.6M342.5 114.4h.6M351.3 122.5h.6M352.8 105.7h.6M353.0 138.0h.6M361.0 136.2h.6M337.0 121.8h.6M345.3 94.1h.6M341.6 116.9h.6M360.4 102.6h.6M344.6 136.3h.6M347.8 97.9h.6M356.6 119.1h.6M335.4 122.3h.6M356.1 109.1h.6M336.6 129.3h.6M330.7 120.5h.6M365.0 134.1h.6M344.7 97.4h.6M337.1 130.4h.6M358.7 119.6h.6M337.8 112.4h.6M342.3 98.2h.6M333.8 112.1h.6M343.3 139.4h.6M340.1 120.5h.6M344.9 134.6h.6M355.0 111.4h.6M349.5 116.1h.6M360.1 112.5h.6M356.2 117.8h.6M337.4 128.2h.6M347.4 101.9h.6M357.6 129.6h.6M352.0 124.9h.6M365.6 119.1h.6M356.3 121.9h.6M366.8 109.3h.6M341.0 116.0h.6M341.5 120.4h.6M333.0 126.7h.6M338.6 124.5h.6M358.1 113.9h.6M355.0 110.2h.6M336.5 133.6h.6M355.3 136.0h.6M359.0 141.9h.6M339.7 102.2h.6M361.4 112.1h.6M340.3 102.1h.6M349.2 91.3h.6M348.4 113.5h.6M363.8 110.3h.6M358.3 101.2h.6M359.7 120.5h.6M352.3 126.8h.6M343.8 112.5h.6M338.4 104.2h.6M342.3 119.9h.6M360.3 139.0h.6M350.3 141.0h.6M360.1 121.0h.6M360.7 127.6h.6M329.0 120.5h.6M363.4 143.6h.6M357.7 98.5h.6M365.1 109.0h.6M341.7 109.5h.6M359.6 118.8h.6M345.0 120.1h.6M354.7 97.0h.6M343.7 101.2h.6M330.4 110.3h.6M366.1 106.8h.6M335.6 123.6h.6M354.1 112.5h.6M363.7 117.7h.6M360.4 121.0h.6M344.0 113.3h.6M333.3 126.8h.6M347.6 141.5h.6M333.9 125.6h.6M345.0 139.2h.6M362.6 129.7h.6M365.3 119.0h.6M361.7 127.6h.6M345.9 99.8h.6M341.4 116.4h.6M358.6 142.5h.6M359.1 104.1h.6M341.8 97.6h.6M342.2 109.6h.6M359.6 98.1h.6M338.6 116.1h.6M356.1 126.0h.6M357.5 130.7h.6M357.7 135.2h.6M332.8 121.0h.6M354.1 107.2h.6M353.6 132.0h.6M341.1 103.6h.6M354.7 115.9h.6M364.8 131.4h.6M359.8 113.3h.6M363.2 102.8h.6M353.2 108.5h.6M337.8 114.1h.6M344.4 111.9h.6M356.5 115.2h.6" stroke="#6a90d0" stroke-width="0.8" fill="none"/>
<polygon points="357.5,73.6 360.0,75.0 367.0,79.5 373.0,85.0 379.0,91.0 383.0,96.5 385.4,102.3 378.0,104.5 370.0,106.5 367.0,106.0 360.0,96.0 353.5,88.5 356.0,80.0" fill="#e8665c" fill-opacity="0.03"/>
<path d="M368.0 94.8h.6M372.9 83.9h.6M369.6 96.9h.6M357.8 90.1h.6M375.4 90.0h.6M366.7 83.0h.6M359.9 97.0h.6M361.5 85.4h.6M378.9 95.8h.6M381.7 100.0h.6M355.8 86.1h.6M371.0 85.4h.6M359.4 92.1h.6M375.0 99.1h.6M368.3 85.0h.6M376.3 90.0h.6M358.4 87.2h.6M368.3 93.5h.6M366.6 89.9h.6M371.4 96.9h.6M354.7 85.5h.6M365.3 97.0h.6M383.9 103.8h.6M378.7 91.7h.6M367.1 97.3h.6M362.7 78.0h.6M368.2 90.7h.6M371.7 105.5h.6M376.4 94.3h.6M365.2 101.5h.6M362.0 84.8h.6M358.0 79.0h.6M358.3 77.9h.6M358.0 85.9h.6M380.0 92.7h.6M359.6 82.4h.6M374.2 99.7h.6M379.5 95.6h.6M368.8 95.5h.6M375.6 98.0h.6M376.9 101.7h.6M365.0 80.0h.6M361.4 85.8h.6M360.2 87.6h.6M367.9 81.5h.6M354.9 87.5h.6M386.6 100.3h.6M370.4 97.1h.6M382.6 97.8h.6M375.2 101.0h.6M357.5 92.4h.6M382.6 97.1h.6M365.3 83.2h.6M380.7 98.3h.6M366.0 99.4h.6M367.4 97.9h.6M360.1 91.0h.6M360.5 89.6h.6M372.5 91.5h.6M355.3 85.8h.6M383.1 102.3h.6M364.6 84.8h.6M358.5 77.2h.6M359.4 90.9h.6M362.1 76.9h.6M363.8 88.3h.6M360.4 81.4h.6M367.6 98.0h.6M367.4 101.9h.6M366.0 95.3h.6M378.7 93.3h.6M360.9 84.9h.6M363.5 79.2h.6M372.5 89.4h.6M361.9 79.4h.6M368.9 86.8h.6M373.1 96.2h.6M369.1 82.1h.6M367.3 101.8h.6M373.2 94.9h.6M378.0 104.1h.6M359.6 80.1h.6M365.1 89.7h.6M369.5 88.6h.6M376.6 102.5h.6M367.0 90.1h.6M372.3 105.4h.6M360.7 79.3h.6M361.3 79.3h.6M361.0 96.4h.6M360.4 75.3h.6M359.2 81.3h.6M367.4 79.7h.6M364.6 79.4h.6M379.3 104.3h.6M370.2 102.0h.6M366.5 96.7h.6M378.3 103.7h.6M370.3 101.8h.6M379.6 97.3h.6M373.5 99.7h.6M372.7 88.4h.6M376.0 93.1h.6M358.8 83.0h.6M357.9 87.3h.6M373.1 95.0h.6M366.6 96.5h.6M365.3 94.0h.6M362.2 96.4h.6M365.1 100.7h.6M362.3 82.2h.6M370.1 86.2h.6M368.2 101.3h.6M358.9 95.5h.6M374.7 97.0h.6M359.2 81.2h.6M365.1 79.0h.6M370.1 90.0h.6M362.5 78.2h.6M356.6 78.7h.6M371.9 87.2h.6M375.7 88.8h.6M364.6 86.1h.6M363.2 88.4h.6M368.9 89.7h.6M368.2 84.4h.6M380.9 93.9h.6M369.8 103.5h.6M370.6 99.8h.6M361.6 87.1h.6M367.9 80.5h.6M385.6 101.1h.6M373.3 93.4h.6M363.0 95.5h.6M375.0 90.9h.6M358.8 85.4h.6M366.3 99.8h.6M358.8 78.9h.6M361.2 85.1h.6M364.0 84.6h.6M353.6 91.0h.6M359.7 87.0h.6M370.2 104.7h.6M368.7 85.1h.6M365.0 97.9h.6M370.4 94.4h.6M373.6 87.6h.6M375.6 88.0h.6M363.4 75.8h.6M380.5 98.5h.6M373.7 97.1h.6M362.7 82.8h.6M362.5 77.1h.6M381.8 99.4h.6M362.6 95.5h.6M372.2 85.7h.6M374.6 88.8h.6M359.6 73.3h.6M376.3 100.1h.6M363.0 92.5h.6M369.6 92.2h.6M363.4 89.7h.6M371.9 90.8h.6M366.0 91.4h.6M370.4 97.1h.6M363.8 95.5h.6M358.8 93.9h.6M368.5 96.4h.6M370.5 84.0h.6M371.9 85.9h.6M357.1 79.2h.6M367.8 99.4h.6M363.8 76.6h.6M366.5 97.8h.6M365.2 82.4h.6M358.5 86.6h.6M381.8 96.8h.6M366.6 92.3h.6M356.7 87.9h.6M369.3 83.2h.6M371.7 90.1h.6M368.2 90.6h.6M374.6 94.7h.6M358.5 84.1h.6M371.8 88.0h.6M370.8 104.6h.6M371.0 96.4h.6M373.3 100.2h.6M378.1 96.0h.6M360.6 86.2h.6M372.0 89.6h.6M366.8 82.0h.6M374.2 93.0h.6M366.7 81.5h.6M374.8 91.8h.6M380.4 104.5h.6M376.8 88.1h.6M367.1 87.2h.6M373.8 96.8h.6M363.0 75.7h.6M379.6 101.5h.6M369.5 92.1h.6M380.4 101.9h.6M368.0 90.7h.6M355.2 90.8h.6M357.4 78.1h.6M358.0 75.7h.6M363.3 88.4h.6M375.5 92.5h.6M371.1 90.8h.6M377.2 91.4h.6M362.1 97.6h.6M371.3 92.4h.6M369.4 103.3h.6M361.1 81.8h.6M361.9 84.9h.6M372.9 95.2h.6M373.0 84.6h.6M359.6 97.0h.6M368.8 102.3h.6M378.3 103.5h.6M367.4 82.8h.6M367.4 96.3h.6M375.2 90.9h.6M371.2 94.7h.6M368.6 90.6h.6M381.5 96.2h.6M354.6 91.4h.6M359.9 86.6h.6M358.2 90.9h.6M369.4 101.9h.6M380.7 95.3h.6M383.1 97.5h.6M365.2 96.3h.6M367.9 96.8h.6M377.6 95.8h.6M363.1 78.9h.6M364.2 101.0h.6M360.3 95.3h.6M370.2 85.0h.6M361.0 85.0h.6M358.5 79.6h.6M382.4 101.6h.6M361.6 78.9h.6M383.2 99.5h.6M362.9 84.7h.6M362.6 83.4h.6M360.7 94.5h.6M375.2 96.6h.6M380.3 92.5h.6M366.8 103.3h.6M370.6 87.0h.6M363.3 81.1h.6M366.4 84.3h.6M368.4 80.3h.6M362.4 79.3h.6M363.1 99.7h.6M370.8 99.8h.6M369.0 93.1h.6M365.1 99.5h.6M355.8 79.5h.6M356.9 85.8h.6M383.5 103.1h.6M373.2 98.9h.6M363.1 95.9h.6M359.6 80.4h.6M375.3 87.6h.6M360.7 85.0h.6M367.8 92.7h.6M361.0 77.8h.6M357.8 92.6h.6M357.6 78.7h.6M380.4 103.8h.6" stroke="#e8665c" stroke-width="0.8" fill="none"/>
<polygon points="370.0,106.5 378.0,104.8 385.4,104.0 392.0,103.0 397.5,100.5 399.5,94.0 401.0,88.0 402.5,85.5 405.0,86.5 406.0,95.0 406.0,110.0 405.2,122.0 403.0,132.0 398.0,140.5 390.0,146.0 380.0,148.8 370.0,147.5 365.2,144.6 364.5,135.0 365.5,120.0 367.0,108.0" fill="#34ad55" fill-opacity="0.1"/>
<path d="M368.7 126.6h.6M400.6 127.7h.6M371.6 115.3h.6M372.8 114.9h.6M399.4 110.3h.6M391.0 122.3h.6M398.5 128.8h.6M388.2 141.4h.6M392.5 109.7h.6M400.8 99.8h.6M370.5 129.3h.6M380.7 131.9h.6M386.1 125.6h.6M387.7 127.2h.6M391.4 111.9h.6M377.7 136.5h.6M383.9 137.1h.6M396.3 120.6h.6M385.5 147.0h.6M379.7 143.4h.6M366.8 131.6h.6M402.2 99.0h.6M386.6 129.2h.6M379.1 103.7h.6M370.7 146.2h.6M397.1 130.7h.6M375.1 124.8h.6M367.3 110.0h.6M394.1 111.6h.6M387.9 124.7h.6M396.0 104.0h.6M390.9 137.6h.6M407.2 101.2h.6M382.7 111.4h.6M397.1 140.3h.6M373.4 111.9h.6M395.5 104.7h.6M393.1 139.2h.6M376.7 144.8h.6M387.7 140.8h.6M393.8 117.7h.6M396.2 130.0h.6M377.0 143.8h.6M398.7 124.1h.6M399.8 98.9h.6M372.7 139.7h.6M384.0 140.5h.6M398.4 137.3h.6M397.6 135.3h.6M395.3 109.2h.6M378.9 130.7h.6M378.4 112.9h.6M378.6 116.9h.6M402.1 133.0h.6M380.7 134.3h.6M374.2 120.2h.6M396.4 119.0h.6M371.8 127.3h.6M380.3 146.6h.6M392.0 125.0h.6M366.9 116.9h.6M402.7 92.5h.6M395.5 112.8h.6M385.8 118.6h.6M379.8 142.6h.6M405.6 105.5h.6M405.0 106.1h.6M383.5 145.3h.6M385.1 118.2h.6M371.6 126.3h.6M397.6 115.4h.6M370.1 111.1h.6M393.2 123.9h.6M383.4 137.9h.6M381.6 146.2h.6M381.1 142.0h.6M397.0 131.3h.6M397.4 112.8h.6M393.9 120.1h.6M370.1 137.6h.6M370.1 130.5h.6M391.5 115.7h.6M389.2 114.0h.6M399.3 102.2h.6M370.2 143.4h.6M394.6 120.4h.6M376.8 131.9h.6M365.7 140.5h.6M378.5 107.1h.6M402.7 104.8h.6M404.6 110.9h.6M395.7 117.0h.6M400.7 134.0h.6M400.2 98.9h.6M378.8 119.7h.6M367.4 114.9h.6M404.7 97.8h.6M370.8 139.7h.6M389.6 110.1h.6M395.2 115.4h.6M404.8 88.3h.6M380.5 119.9h.6M372.6 148.1h.6M373.6 106.5h.6M378.7 122.1h.6M365.9 122.7h.6M367.4 118.6h.6M367.4 133.2h.6M372.9 133.8h.6M378.1 146.1h.6M368.9 139.5h.6M374.2 137.7h.6M396.4 137.7h.6M386.8 139.1h.6M381.2 122.3h.6M372.9 111.1h.6M398.9 100.5h.6M390.2 112.3h.6M369.9 124.0h.6M376.2 135.3h.6M366.7 129.4h.6M376.2 111.9h.6M395.9 130.7h.6M374.3 107.9h.6M370.9 141.3h.6M389.1 115.5h.6M378.5 141.5h.6M372.6 109.3h.6M389.4 124.2h.6M404.2 104.5h.6M364.0 138.8h.6M366.3 121.5h.6M393.1 120.9h.6M396.1 113.7h.6M387.7 106.1h.6M372.8 124.7h.6M381.4 126.5h.6M404.6 98.6h.6M372.2 115.9h.6M376.8 137.6h.6M385.4 106.2h.6M396.8 117.5h.6M399.6 111.2h.6M389.5 118.4h.6M383.5 118.9h.6M394.8 127.0h.6M398.7 109.1h.6M368.8 146.7h.6M403.5 98.2h.6M385.5 135.3h.6M380.5 117.1h.6M377.9 135.0h.6M378.7 145.6h.6M387.7 146.1h.6M383.0 126.6h.6M385.0 130.1h.6M380.8 140.5h.6M385.1 144.8h.6M373.2 123.5h.6M386.1 116.6h.6M376.6 124.4h.6M374.7 146.6h.6M377.7 121.0h.6M364.8 126.6h.6M395.8 106.8h.6M403.7 119.9h.6M379.8 116.4h.6M403.1 108.8h.6M397.4 127.4h.6M374.6 145.0h.6M397.8 133.7h.6M378.7 144.4h.6M395.3 104.4h.6M404.9 108.4h.6M404.4 112.9h.6M397.6 132.3h.6M366.3 136.9h.6M398.2 133.2h.6M400.3 100.5h.6M387.2 115.3h.6M379.6 143.1h.6M380.9 139.0h.6M395.3 116.8h.6M393.9 125.1h.6M401.6 85.7h.6M368.2 109.3h.6M366.5 121.6h.6M372.0 146.2h.6M375.2 106.7h.6M384.9 127.9h.6M381.2 136.6h.6M374.0 109.7h.6M400.6 126.3h.6M389.4 136.2h.6M400.9 129.4h.6M374.7 138.1h.6M387.2 126.3h.6M383.4 136.7h.6M392.3 107.3h.6M397.1 136.6h.6M379.6 124.4h.6M382.3 141.7h.6M398.2 131.2h.6M388.5 106.9h.6M398.1 100.4h.6M375.2 117.2h.6M403.0 105.8h.6M367.9 137.4h.6M385.6 110.5h.6M403.7 114.0h.6M396.6 107.8h.6M371.0 119.5h.6M398.9 137.9h.6M394.0 115.6h.6M375.4 117.2h.6M389.2 134.2h.6M400.9 95.9h.6M390.5 114.1h.6M368.3 108.5h.6M371.4 111.9h.6M387.3 137.2h.6M370.8 137.3h.6M401.9 116.0h.6M384.9 145.4h.6M369.1 138.8h.6M383.0 112.9h.6M378.0 118.3h.6M394.9 132.9h.6M387.0 124.9h.6M387.6 110.1h.6M400.9 87.6h.6M380.7 131.0h.6M405.5 93.9h.6M375.3 130.7h.6M383.2 126.4h.6M376.6 133.6h.6M371.9 145.9h.6M375.2 124.6h.6M389.3 120.0h.6M375.3 134.1h.6M373.8 138.9h.6M380.8 115.8h.6M371.1 122.2h.6M393.3 111.1h.6M394.3 130.7h.6M376.6 112.9h.6M386.3 141.0h.6M372.9 126.2h.6M369.5 139.2h.6M403.8 95.7h.6M390.7 131.6h.6M399.5 134.0h.6M383.5 111.1h.6M373.7 140.1h.6M405.1 112.3h.6M381.8 119.7h.6M381.0 135.1h.6M404.5 85.7h.6M375.3 110.9h.6M377.9 122.8h.6M369.8 110.3h.6M371.9 147.8h.6M384.0 145.0h.6M398.0 137.8h.6M403.7 101.1h.6M398.8 102.2h.6M398.1 98.6h.6M377.6 105.1h.6M397.3 119.8h.6M381.4 121.4h.6M391.5 120.3h.6M371.6 147.6h.6M393.9 112.6h.6M387.7 135.7h.6M396.3 125.6h.6M374.9 117.0h.6M370.6 111.5h.6M378.4 131.9h.6M387.4 142.1h.6M367.3 135.3h.6M395.9 130.2h.6M376.0 144.8h.6M388.5 136.4h.6M395.1 117.5h.6M369.8 121.3h.6M382.9 148.4h.6M383.5 134.9h.6M385.1 147.2h.6M375.9 112.4h.6M386.1 145.4h.6M394.5 128.8h.6M377.5 142.1h.6M393.1 122.4h.6M400.9 126.8h.6M401.7 126.2h.6M370.8 148.4h.6M375.4 141.5h.6M398.7 134.2h.6M390.6 107.4h.6M379.9 106.1h.6M389.6 109.3h.6M399.6 111.4h.6M391.7 114.1h.6M392.8 135.6h.6M405.0 98.5h.6M370.7 136.3h.6M384.2 128.6h.6M377.6 118.6h.6M381.2 108.1h.6M383.2 124.9h.6M374.2 120.0h.6M397.9 96.1h.6M367.5 116.7h.6M401.8 109.3h.6M378.9 122.5h.6M365.5 118.5h.6M386.5 125.3h.6M404.3 106.4h.6M404.1 109.9h.6M386.1 112.2h.6M366.2 141.2h.6M397.7 102.5h.6M373.7 144.0h.6M392.7 111.2h.6M402.4 90.9h.6M378.2 140.6h.6M381.5 137.7h.6M379.7 147.9h.6M384.0 108.8h.6M381.2 141.4h.6M387.0 117.3h.6M402.7 115.8h.6M395.5 135.3h.6M383.5 114.1h.6M398.3 93.5h.6M366.0 140.6h.6M393.4 113.3h.6M404.9 112.1h.6M397.9 138.3h.6M366.3 126.4h.6M397.8 102.9h.6M387.8 122.3h.6M367.9 141.3h.6M388.6 129.5h.6M389.2 120.7h.6M401.5 92.2h.6M387.4 114.9h.6M371.3 109.5h.6M399.2 120.8h.6M396.6 116.6h.6M402.9 102.6h.6M402.7 98.6h.6M371.1 115.1h.6M381.0 120.1h.6M368.3 109.5h.6M373.2 144.0h.6M386.6 144.6h.6M377.2 132.9h.6M374.9 119.1h.6M399.5 112.9h.6M400.7 99.6h.6M376.4 131.3h.6M376.5 136.0h.6M387.8 119.0h.6M373.1 106.0h.6M395.0 133.1h.6M402.5 97.2h.6M372.0 107.0h.6M371.4 126.4h.6M373.3 116.9h.6M402.9 103.1h.6M382.6 112.7h.6M399.6 135.3h.6M392.4 127.4h.6M382.2 104.9h.6M372.5 109.0h.6M379.3 147.8h.6M405.5 114.4h.6M389.2 145.7h.6M395.7 132.3h.6M384.0 143.8h.6M389.2 114.2h.6M380.1 128.7h.6M402.3 96.4h.6M387.0 109.0h.6M397.4 109.7h.6M384.1 143.4h.6M376.2 115.4h.6M381.4 109.0h.6M367.9 119.6h.6M398.1 133.5h.6M400.7 133.4h.6M386.0 113.1h.6M366.7 121.1h.6M379.1 128.8h.6M403.8 99.4h.6M397.7 119.3h.6M386.4 145.1h.6M374.7 125.7h.6M383.0 117.0h.6M400.4 111.3h.6M391.7 131.1h.6M371.2 136.9h.6M374.2 113.5h.6M385.7 109.0h.6M393.2 133.2h.6M391.4 117.6h.6M371.2 147.0h.6M386.5 116.0h.6M402.8 107.3h.6M373.3 110.2h.6M366.8 122.8h.6M366.8 119.8h.6M372.2 139.9h.6M397.7 136.1h.6M377.7 135.1h.6M383.7 141.1h.6M373.3 113.0h.6M379.0 133.8h.6M394.6 113.4h.6M379.6 118.0h.6M370.2 134.6h.6M368.0 118.0h.6M381.4 139.6h.6M371.3 147.7h.6M394.3 131.3h.6M372.6 108.9h.6M404.3 91.8h.6M394.9 101.4h.6M377.6 136.4h.6M391.0 145.7h.6M394.5 114.0h.6M396.9 126.1h.6M379.0 122.3h.6M381.6 120.3h.6M396.6 103.0h.6M387.5 127.8h.6M390.3 109.0h.6M375.3 118.7h.6M400.7 126.1h.6M375.5 149.2h.6M382.3 119.1h.6M363.7 135.0h.6M403.8 116.9h.6M382.5 128.0h.6M397.5 127.0h.6M398.0 108.2h.6M370.7 125.4h.6M367.1 140.5h.6M391.2 134.8h.6M393.7 111.1h.6M395.8 106.4h.6M368.3 121.2h.6M387.0 122.3h.6M381.0 140.8h.6M398.0 100.8h.6M379.2 125.5h.6M395.9 132.2h.6M403.9 100.6h.6M376.4 145.5h.6M370.6 115.9h.6M384.1 139.0h.6M394.4 117.0h.6M386.9 119.6h.6M371.7 135.5h.6M391.2 112.1h.6M379.1 117.9h.6M390.9 137.3h.6M392.9 122.6h.6M404.8 112.7h.6M392.3 120.1h.6M399.2 128.1h.6M369.5 136.1h.6M397.2 129.9h.6M386.8 133.4h.6M369.9 111.4h.6M379.9 110.6h.6M382.1 137.1h.6M383.7 111.7h.6M372.6 138.1h.6M401.8 109.7h.6M386.7 123.5h.6M384.4 122.2h.6M388.5 123.7h.6M377.6 117.4h.6M399.4 99.1h.6M380.8 110.4h.6M377.4 128.8h.6M403.7 97.6h.6M372.5 119.4h.6M387.5 118.0h.6M371.2 117.7h.6M405.7 95.8h.6M397.6 136.7h.6M371.2 107.9h.6M381.4 140.7h.6M380.7 141.7h.6M389.4 134.9h.6M398.5 118.7h.6M397.3 110.6h.6M374.3 122.4h.6M401.3 110.2h.6M405.1 110.7h.6M393.3 114.5h.6M367.2 124.7h.6M407.3 94.5h.6M393.8 130.4h.6M375.1 120.0h.6M381.0 138.6h.6M370.7 134.5h.6M377.6 120.4h.6M404.1 100.2h.6M375.7 118.9h.6M401.1 106.3h.6M381.4 147.0h.6M383.0 124.0h.6M388.7 115.5h.6M395.8 139.0h.6M379.3 149.0h.6M394.7 124.0h.6M393.7 117.1h.6M389.8 121.7h.6M405.5 105.7h.6M376.6 113.2h.6M389.7 135.0h.6M385.1 123.8h.6M385.0 134.0h.6M377.9 112.4h.6M393.3 122.7h.6M402.0 93.8h.6M389.2 113.9h.6M401.3 93.1h.6M398.3 119.4h.6M392.4 124.9h.6M395.4 115.9h.6M372.9 147.5h.6M366.8 116.4h.6M403.7 125.3h.6M374.3 108.6h.6M379.4 138.5h.6M388.3 125.4h.6M367.4 142.0h.6M384.2 142.6h.6M381.4 147.4h.6M381.8 146.0h.6M383.9 129.2h.6M396.3 137.4h.6M388.1 132.3h.6M403.2 98.5h.6M396.0 130.0h.6M394.9 112.1h.6M392.1 142.8h.6M394.8 133.3h.6M397.7 121.6h.6M400.3 110.6h.6M397.2 139.3h.6M386.0 145.8h.6M399.8 93.7h.6M379.8 116.7h.6M406.1 114.6h.6M402.5 91.2h.6M387.2 139.2h.6M374.8 118.3h.6M383.9 108.6h.6M382.3 145.8h.6M398.9 103.7h.6M376.0 108.2h.6M397.5 129.8h.6M405.0 118.4h.6M367.1 133.5h.6M401.6 125.1h.6M389.1 131.5h.6M379.8 114.5h.6M381.0 140.6h.6M394.0 129.3h.6M387.6 111.0h.6M400.4 108.4h.6M366.5 129.6h.6M368.2 135.6h.6M403.9 104.6h.6M400.9 111.1h.6M375.2 134.1h.6M381.3 139.7h.6M377.3 115.0h.6M390.1 145.1h.6M377.1 119.1h.6M381.3 109.2h.6M376.5 124.7h.6M392.5 121.7h.6M396.0 119.1h.6M393.3 119.1h.6M394.0 111.5h.6M401.9 114.1h.6M368.8 123.3h.6M372.7 141.7h.6M378.2 107.9h.6M370.6 147.6h.6M404.5 96.4h.6M406.1 95.1h.6M382.4 104.3h.6M390.2 105.6h.6M370.1 145.2h.6M388.5 121.0h.6M390.2 108.7h.6M384.9 146.4h.6M395.1 133.4h.6M368.7 116.3h.6M397.5 136.1h.6M385.7 132.4h.6M388.6 123.4h.6M385.6 136.5h.6M400.3 133.3h.6M380.7 130.5h.6M371.4 147.3h.6M403.4 88.7h.6M376.6 126.2h.6M388.3 135.0h.6M382.6 146.9h.6M390.1 144.3h.6M387.1 122.7h.6M366.4 119.3h.6M373.2 122.5h.6M366.8 140.6h.6M402.8 122.1h.6M397.1 135.6h.6M388.0 137.5h.6M394.8 112.2h.6M368.5 141.7h.6M395.6 121.1h.6M382.3 117.8h.6M382.6 128.5h.6M370.3 138.8h.6M386.3 118.1h.6M366.9 119.1h.6M402.4 118.2h.6M401.7 112.8h.6M402.2 112.9h.6M399.9 122.8h.6M396.9 119.3h.6M382.2 129.5h.6M392.2 110.7h.6M391.0 142.8h.6M385.8 139.7h.6M368.6 116.3h.6M403.8 108.4h.6M380.5 144.1h.6M386.2 138.4h.6M366.0 134.1h.6M370.3 120.2h.6M366.2 111.8h.6M396.8 110.8h.6M367.5 117.3h.6M393.0 124.3h.6M378.1 105.8h.6M376.0 136.8h.6M393.9 122.0h.6M385.9 136.5h.6M392.1 134.2h.6M375.1 144.6h.6M392.1 131.4h.6M399.3 135.6h.6M386.0 119.8h.6M379.1 122.2h.6M393.6 129.2h.6M378.3 108.2h.6M372.7 146.1h.6M378.3 120.6h.6M387.7 139.3h.6M366.5 124.6h.6M388.6 118.8h.6M401.9 96.9h.6M381.1 132.6h.6M373.3 118.1h.6M389.0 130.6h.6M371.8 124.4h.6M371.8 146.5h.6M396.8 110.6h.6M402.0 111.1h.6M378.9 115.0h.6M398.6 118.9h.6M403.5 103.7h.6M399.6 136.2h.6M399.0 108.3h.6M376.4 145.3h.6M370.0 122.4h.6M390.3 141.2h.6M376.0 121.6h.6M403.6 109.8h.6M386.7 123.3h.6M404.4 109.1h.6M379.3 116.9h.6M372.2 118.4h.6M385.0 140.7h.6M376.7 114.1h.6M365.3 140.7h.6M384.6 139.1h.6M376.3 120.0h.6M401.6 134.4h.6M406.8 91.6h.6M372.9 135.6h.6M393.1 133.0h.6M397.0 123.9h.6M366.4 111.8h.6M373.4 106.7h.6M395.2 136.0h.6M366.9 119.4h.6M400.8 133.9h.6M388.1 110.3h.6M371.9 114.9h.6M398.1 124.4h.6M381.0 123.6h.6M397.5 121.7h.6M391.2 109.8h.6M403.6 107.7h.6M388.7 125.5h.6M368.9 115.4h.6M403.7 126.8h.6M401.7 99.6h.6M365.4 140.4h.6M380.1 122.0h.6M365.6 142.5h.6M373.2 111.0h.6M375.2 114.0h.6M370.6 128.3h.6M370.3 122.0h.6M396.0 118.7h.6M381.7 117.9h.6M401.6 117.5h.6M384.2 140.8h.6M379.6 147.3h.6M397.3 126.4h.6M382.0 145.1h.6M402.2 88.3h.6M367.7 118.2h.6M384.7 122.7h.6M400.6 110.3h.6M394.9 116.3h.6M387.5 138.7h.6M403.0 113.4h.6M385.4 135.1h.6M395.9 119.0h.6M374.6 145.4h.6M400.3 133.7h.6M402.8 89.7h.6M369.6 121.8h.6M384.5 111.6h.6M379.9 119.1h.6M396.3 117.4h.6M371.3 124.7h.6M366.8 142.5h.6M398.0 99.1h.6M389.7 103.9h.6M368.0 144.9h.6M372.4 111.5h.6M373.8 112.7h.6M400.6 91.1h.6M382.6 111.9h.6M387.5 107.1h.6M395.6 105.6h.6M399.0 121.7h.6M388.6 105.3h.6M400.3 96.2h.6M382.4 110.1h.6M391.3 140.7h.6M367.9 133.0h.6M386.6 120.8h.6M403.0 107.4h.6M398.9 115.9h.6M369.4 127.7h.6M392.7 104.2h.6M382.4 140.4h.6M399.7 116.6h.6M400.4 94.7h.6M382.8 142.3h.6M384.8 129.0h.6M398.6 107.7h.6M388.9 136.8h.6M403.1 88.0h.6M378.6 119.6h.6M399.4 114.3h.6M371.0 123.4h.6M381.5 126.9h.6M397.1 124.5h.6M395.1 134.0h.6M368.2 110.3h.6M400.6 99.6h.6M393.0 122.1h.6M381.0 142.2h.6M391.3 114.1h.6M376.4 131.3h.6M402.3 94.4h.6M401.8 112.6h.6M395.8 136.8h.6M395.0 107.6h.6M394.8 128.9h.6M376.3 117.9h.6M384.3 109.5h.6M402.0 98.3h.6M376.9 136.2h.6M388.1 137.3h.6M374.3 123.1h.6M391.5 113.5h.6M390.7 143.5h.6M386.9 137.6h.6M387.5 145.5h.6M373.2 147.7h.6M369.1 120.5h.6M382.4 142.6h.6M378.6 123.4h.6M386.1 141.4h.6M372.7 111.1h.6M388.0 142.3h.6M400.4 98.2h.6M390.2 141.4h.6M392.2 138.6h.6M389.4 107.5h.6M366.9 136.2h.6M392.9 128.8h.6M366.9 128.4h.6M392.8 122.5h.6M402.3 109.9h.6M395.8 124.7h.6M399.2 119.0h.6M388.5 103.6h.6M379.1 137.1h.6M378.6 122.5h.6M390.1 129.7h.6M387.8 138.9h.6M401.1 90.9h.6M372.7 113.4h.6M378.6 134.3h.6M402.3 91.0h.6M396.8 115.8h.6M388.4 124.5h.6M380.7 124.4h.6M382.7 109.4h.6M368.5 145.6h.6M392.8 116.1h.6M401.6 88.1h.6M401.7 100.9h.6M369.4 126.0h.6M390.4 121.0h.6M393.8 115.6h.6M368.1 117.3h.6M405.3 104.6h.6M396.8 131.5h.6M382.4 119.7h.6M392.8 128.5h.6M364.1 133.4h.6M395.4 115.8h.6M374.4 135.1h.6M384.4 120.0h.6M394.0 132.4h.6M376.1 120.6h.6M376.8 117.4h.6M395.9 102.3h.6M402.3 107.5h.6M367.9 117.7h.6M393.1 117.3h.6M374.5 137.2h.6M395.1 113.6h.6M399.5 134.4h.6M388.3 113.5h.6M404.8 115.3h.6M405.6 112.2h.6M365.9 118.9h.6M402.3 91.1h.6M383.9 126.6h.6M376.1 120.0h.6M396.6 118.5h.6M395.7 135.2h.6M385.4 128.9h.6M391.7 134.5h.6M372.2 121.4h.6M374.9 126.3h.6M402.5 101.0h.6M393.7 129.8h.6M375.1 128.8h.6M374.8 125.1h.6M404.0 88.4h.6M383.2 111.0h.6M380.7 121.7h.6M405.7 117.0h.6M377.5 120.1h.6M402.5 103.0h.6M395.1 118.8h.6M383.3 138.3h.6M406.6 112.1h.6M383.3 140.7h.6M384.8 142.1h.6M383.2 141.1h.6M402.8 105.4h.6M393.4 111.1h.6M377.6 120.3h.6M397.2 122.1h.6M385.7 115.1h.6M377.0 125.7h.6M371.8 138.8h.6M387.7 113.9h.6M405.3 113.2h.6M386.2 105.5h.6M381.0 150.3h.6M396.9 102.8h.6M395.9 130.1h.6M402.2 125.3h.6M373.2 137.4h.6M379.4 109.9h.6M393.1 134.7h.6M384.2 124.9h.6M389.3 132.2h.6M373.2 125.5h.6M402.2 100.5h.6M366.6 143.8h.6M383.8 145.8h.6M369.3 140.6h.6M398.7 124.5h.6M394.3 135.4h.6M376.7 139.4h.6M384.6 130.6h.6M378.4 117.4h.6M373.2 115.9h.6M377.4 114.0h.6M380.2 140.1h.6M400.8 128.4h.6M381.0 128.0h.6M390.2 121.2h.6M402.9 101.5h.6M397.6 126.1h.6M395.9 128.6h.6M392.0 112.0h.6M387.9 115.4h.6M399.7 112.1h.6M380.8 121.2h.6M365.6 122.0h.6M402.5 127.5h.6M374.8 105.7h.6M374.5 117.8h.6M376.0 133.6h.6M403.8 118.0h.6M384.6 111.4h.6M382.9 111.5h.6M393.6 140.2h.6M380.9 121.7h.6M401.6 86.7h.6M377.7 135.4h.6M400.5 100.0h.6M402.7 98.5h.6M366.3 143.6h.6M377.1 116.9h.6M393.4 142.0h.6M405.1 94.5h.6M401.0 92.6h.6M376.9 108.7h.6M378.1 118.5h.6M373.7 117.5h.6M392.1 120.9h.6M404.6 119.1h.6M390.4 135.0h.6M400.0 102.8h.6M387.4 112.3h.6M378.3 119.4h.6M364.7 122.7h.6M402.4 130.8h.6M381.5 137.8h.6M390.0 116.1h.6M367.5 117.6h.6M388.3 119.0h.6M400.5 132.3h.6M374.0 109.1h.6M374.0 128.4h.6M381.5 137.4h.6M370.7 126.2h.6M399.3 136.2h.6M372.1 107.7h.6M374.4 125.2h.6M368.5 139.2h.6M380.6 142.7h.6M373.9 145.6h.6M392.3 119.6h.6M378.0 111.9h.6M392.1 119.8h.6M372.9 145.3h.6M397.3 131.0h.6M375.2 120.7h.6M372.4 119.6h.6M390.2 137.7h.6M368.2 141.4h.6M396.5 134.8h.6M383.1 106.0h.6M375.7 147.7h.6M366.9 121.7h.6M366.7 143.0h.6M397.2 113.9h.6M397.4 135.3h.6M393.0 118.5h.6M401.9 127.8h.6M401.0 123.7h.6M380.3 125.9h.6M384.4 115.8h.6M386.4 137.6h.6M368.2 109.9h.6M398.8 135.6h.6M369.4 140.7h.6M403.0 115.0h.6M395.8 123.2h.6M403.7 98.3h.6M371.3 108.7h.6M380.9 139.9h.6M376.8 117.3h.6M385.5 114.0h.6M394.4 110.7h.6M380.6 135.0h.6M401.7 99.8h.6M400.0 109.6h.6M385.1 137.1h.6M391.3 111.8h.6M372.8 125.9h.6M393.7 122.3h.6M371.7 143.1h.6M367.9 126.4h.6M402.4 135.1h.6M377.6 136.9h.6M396.1 100.3h.6M376.6 138.2h.6M380.3 111.1h.6M388.7 114.7h.6M365.1 130.0h.6M368.3 145.0h.6M402.9 124.2h.6M392.4 125.7h.6M374.1 136.9h.6M373.3 141.3h.6M370.0 124.5h.6M370.7 146.6h.6M379.8 143.6h.6M403.5 110.6h.6M387.9 110.5h.6M387.5 133.1h.6M379.6 122.0h.6M394.5 107.0h.6M387.9 133.3h.6M386.1 117.4h.6M383.8 119.0h.6M386.2 113.7h.6M378.8 140.4h.6M383.9 126.8h.6M390.8 105.1h.6M365.0 128.6h.6M401.0 125.7h.6M403.8 92.6h.6M383.5 111.5h.6M388.5 123.8h.6M368.3 122.1h.6M385.6 114.7h.6M374.1 136.5h.6M369.5 118.5h.6M395.0 102.2h.6M376.6 113.9h.6M397.9 125.0h.6M395.4 117.9h.6M398.3 117.1h.6M371.7 108.4h.6M378.0 105.5h.6M393.3 117.8h.6M372.3 119.8h.6M371.8 118.7h.6M395.6 131.3h.6M380.6 145.0h.6M401.3 100.4h.6M394.6 116.7h.6M379.8 129.4h.6M405.0 96.1h.6M393.7 134.3h.6M398.9 108.9h.6M376.5 129.8h.6M403.6 88.1h.6M369.3 120.5h.6M400.0 129.3h.6M365.5 143.0h.6M387.3 128.6h.6M389.0 114.9h.6M395.3 102.7h.6M367.2 116.2h.6M379.8 119.7h.6M392.1 126.8h.6M404.2 112.6h.6M394.4 118.5h.6M367.1 121.2h.6M379.2 143.1h.6M369.4 123.2h.6M392.1 124.9h.6M382.6 120.2h.6M392.2 131.4h.6M378.7 122.8h.6M373.3 135.7h.6M401.9 109.0h.6M389.4 115.4h.6M373.0 141.6h.6M398.3 122.9h.6M396.2 117.1h.6M379.1 116.8h.6M385.4 115.0h.6M401.5 100.1h.6M400.7 96.9h.6M398.5 133.9h.6M392.9 124.6h.6M369.8 127.1h.6M389.8 115.2h.6M401.0 125.4h.6M403.2 94.5h.6M375.9 135.7h.6M367.5 141.4h.6M375.5 135.1h.6M381.8 109.9h.6M390.5 121.8h.6M375.7 123.7h.6M387.1 115.7h.6M389.0 129.6h.6M382.4 122.6h.6M372.4 109.3h.6M402.5 96.1h.6M389.8 135.0h.6M393.7 107.9h.6M366.5 135.2h.6M388.3 138.5h.6M366.1 144.4h.6M374.6 120.3h.6M369.1 120.5h.6M366.2 132.0h.6M383.0 113.5h.6M396.7 116.5h.6M400.2 89.5h.6M390.2 115.7h.6M379.1 124.4h.6M397.2 120.7h.6M385.9 111.5h.6M390.7 122.0h.6M390.4 107.0h.6M379.7 107.2h.6M394.4 131.1h.6M382.0 117.7h.6M389.2 135.6h.6M382.2 132.2h.6M387.7 117.7h.6M398.1 125.2h.6M371.4 123.8h.6M366.5 130.7h.6M383.4 130.4h.6M396.3 111.2h.6M378.8 123.8h.6M366.2 112.7h.6M390.0 135.2h.6M396.6 129.4h.6M403.0 87.4h.6M368.4 143.7h.6M366.1 125.0h.6M381.0 108.1h.6M376.7 143.4h.6M399.4 116.0h.6M373.8 134.3h.6M400.2 131.8h.6M389.9 119.0h.6M376.2 118.7h.6M379.3 119.3h.6M383.1 136.8h.6M378.2 143.8h.6M380.4 121.4h.6M372.2 120.2h.6M393.3 103.7h.6M377.0 110.3h.6M387.2 112.3h.6M368.9 139.8h.6M387.7 138.6h.6M386.5 136.2h.6M391.8 104.7h.6M398.8 110.4h.6M394.7 136.1h.6M385.4 116.3h.6M403.8 108.7h.6M389.5 112.1h.6M377.7 134.1h.6M364.4 120.0h.6M384.4 141.1h.6M370.0 113.6h.6M387.2 130.3h.6M379.0 108.2h.6M366.1 140.7h.6M368.3 137.8h.6M401.7 105.9h.6M384.4 114.9h.6M370.6 121.0h.6M401.6 126.4h.6M375.6 126.2h.6M393.5 119.4h.6M382.2 127.9h.6M366.9 117.3h.6M376.6 124.0h.6M370.3 125.5h.6M394.4 116.5h.6M374.5 116.3h.6M402.6 94.6h.6M371.5 141.4h.6M402.9 109.2h.6M388.8 116.8h.6M399.7 132.4h.6M375.9 135.3h.6M400.2 135.3h.6M385.2 120.7h.6M387.5 112.5h.6M364.9 129.1h.6M375.7 131.6h.6M379.9 118.5h.6M370.1 111.0h.6M374.8 127.1h.6M382.8 137.0h.6M399.3 135.5h.6M401.2 122.1h.6M375.4 109.4h.6M374.4 112.7h.6M389.6 133.1h.6M374.0 114.8h.6M388.3 146.2h.6M400.3 110.7h.6M387.1 144.7h.6M399.0 100.0h.6M395.8 114.8h.6M369.8 141.4h.6M385.6 121.3h.6M394.1 129.2h.6M403.9 109.7h.6M368.4 117.8h.6M382.3 141.8h.6M374.6 108.7h.6M368.7 108.2h.6M394.9 121.0h.6M362.9 118.2h.6M405.3 108.0h.6M366.8 123.1h.6M382.9 121.6h.6M374.0 126.0h.6M379.9 132.7h.6M379.9 135.2h.6M375.2 109.3h.6M382.9 148.2h.6M376.9 118.2h.6M373.3 121.5h.6M383.5 113.1h.6M367.5 116.9h.6M403.0 105.9h.6M391.5 117.2h.6M387.1 120.7h.6M401.2 116.5h.6M381.4 128.7h.6M382.5 121.0h.6M399.5 124.6h.6M389.3 121.3h.6M375.8 143.9h.6M368.1 136.2h.6M381.7 130.6h.6M391.4 109.8h.6M406.1 97.3h.6M403.6 115.7h.6M383.0 106.6h.6M394.0 119.1h.6M377.8 134.4h.6M390.1 138.0h.6M387.1 118.0h.6M365.8 138.6h.6M388.4 135.2h.6M376.7 129.5h.6M373.0 123.3h.6M377.3 123.4h.6M370.5 145.2h.6M382.3 121.3h.6M382.8 137.1h.6M371.7 138.3h.6M401.9 118.5h.6M371.4 146.9h.6M365.7 138.5h.6M389.9 128.8h.6M402.3 105.6h.6M390.2 143.6h.6M394.5 120.1h.6M370.8 122.3h.6M403.2 96.6h.6M383.8 131.0h.6M404.9 88.4h.6M374.4 120.9h.6M396.7 102.8h.6M404.6 95.6h.6M369.7 129.8h.6M374.5 113.9h.6M379.7 106.0h.6M387.9 117.9h.6M370.8 122.3h.6M364.6 136.3h.6M374.5 123.1h.6M386.0 119.2h.6M399.4 109.8h.6M399.9 99.9h.6M367.0 116.2h.6M404.3 129.9h.6M395.2 129.6h.6M397.6 126.9h.6M371.7 140.7h.6M395.0 139.9h.6M404.6 86.6h.6M378.3 134.5h.6M380.9 116.3h.6M369.1 121.8h.6M371.5 107.8h.6M406.3 104.5h.6M384.6 134.0h.6M369.7 115.4h.6M402.6 102.7h.6M380.0 114.5h.6M384.7 122.4h.6M380.8 123.2h.6M374.9 134.8h.6M384.8 112.9h.6M385.3 104.7h.6M371.0 137.9h.6M399.0 104.6h.6M393.5 124.4h.6M385.0 115.6h.6M383.6 134.4h.6M396.2 119.0h.6M378.4 115.2h.6M391.1 110.2h.6M394.5 128.3h.6M394.9 126.6h.6M404.7 103.7h.6M404.7 101.8h.6M394.1 130.7h.6M386.1 115.3h.6M403.0 96.8h.6M375.9 140.4h.6M369.3 140.5h.6M367.9 117.0h.6M383.4 136.8h.6M385.9 138.2h.6M396.5 116.0h.6M387.5 139.4h.6M368.3 140.1h.6M394.9 125.1h.6M372.9 110.5h.6M371.7 144.3h.6M390.3 136.5h.6M400.5 96.0h.6M396.1 119.0h.6M402.6 133.2h.6M388.2 136.1h.6M380.8 119.0h.6M391.9 103.8h.6M385.2 118.6h.6M368.6 119.5h.6M392.4 131.9h.6M402.7 104.5h.6M391.0 140.7h.6M380.0 149.1h.6M395.6 115.9h.6M388.3 134.3h.6M401.0 129.2h.6M400.1 112.3h.6M400.4 102.7h.6M374.3 140.7h.6M368.5 122.9h.6M399.4 126.3h.6M383.3 123.5h.6M368.6 144.0h.6M376.9 124.4h.6M391.7 117.4h.6M378.0 124.3h.6M382.2 113.4h.6M379.5 107.2h.6M387.9 135.1h.6M380.4 120.4h.6M392.7 129.2h.6M376.7 109.4h.6M384.8 116.3h.6M368.4 123.4h.6M373.1 112.0h.6M368.5 139.0h.6M379.8 129.1h.6M403.6 116.1h.6M400.2 126.0h.6M375.6 129.1h.6M394.8 139.2h.6M390.9 103.9h.6M381.2 112.1h.6M377.5 111.0h.6M401.9 119.2h.6M403.4 96.1h.6M391.9 121.1h.6M386.5 137.0h.6M389.2 118.1h.6M397.7 112.0h.6M387.7 133.2h.6M388.4 126.2h.6M371.4 114.6h.6M376.0 116.8h.6M371.8 146.5h.6M376.0 138.8h.6M392.5 114.8h.6M392.4 118.4h.6M404.6 115.5h.6M387.6 138.8h.6M394.3 116.8h.6M387.9 147.2h.6M393.9 123.1h.6M371.8 123.1h.6M374.9 134.6h.6M378.4 113.6h.6M394.2 118.6h.6M392.5 117.7h.6M370.1 114.0h.6M379.9 131.0h.6M402.8 98.1h.6M377.5 136.2h.6M399.0 103.4h.6M388.6 115.2h.6M383.8 130.6h.6M400.1 111.1h.6M394.4 120.2h.6M367.9 121.2h.6M399.1 126.8h.6M402.5 90.1h.6M391.9 120.9h.6M394.1 106.7h.6M387.0 128.1h.6M375.8 122.7h.6M402.3 108.3h.6M373.0 136.2h.6M400.5 87.7h.6M406.1 116.3h.6M377.8 146.1h.6M400.2 131.1h.6M365.8 121.7h.6M376.2 116.4h.6M378.3 128.7h.6M396.2 120.9h.6M376.0 140.6h.6M397.7 134.5h.6M383.1 126.1h.6M389.9 108.9h.6M371.8 143.8h.6M372.5 133.7h.6M395.2 111.4h.6M400.3 117.4h.6M387.0 119.1h.6M398.3 127.0h.6M389.9 116.0h.6M374.8 124.0h.6M395.9 114.8h.6M402.1 127.1h.6M382.8 110.4h.6M397.3 117.6h.6M401.6 109.7h.6M403.8 115.3h.6M395.7 125.3h.6M379.2 137.7h.6M381.9 109.7h.6M379.6 116.1h.6M396.6 127.6h.6M398.0 124.5h.6M379.3 112.5h.6M399.1 112.9h.6M404.0 93.8h.6M396.6 118.2h.6M401.3 110.4h.6M366.9 121.4h.6M392.4 109.7h.6M395.4 130.5h.6M394.9 111.2h.6M393.2 136.1h.6M394.4 121.1h.6M375.2 140.2h.6M380.1 115.6h.6M403.2 99.8h.6M367.6 131.5h.6M380.0 122.5h.6M378.6 131.1h.6M390.4 115.8h.6M395.5 119.5h.6M387.1 134.2h.6M372.1 124.7h.6M367.4 124.8h.6M396.7 130.4h.6M374.9 125.8h.6M385.0 111.8h.6M401.5 96.4h.6M387.5 109.9h.6M373.9 117.0h.6M398.2 111.1h.6M404.6 89.0h.6M388.6 113.4h.6M380.9 135.2h.6M384.5 146.8h.6M373.9 108.0h.6M399.2 138.9h.6M386.1 114.1h.6M373.7 137.7h.6M391.4 117.2h.6M405.3 118.0h.6M388.6 135.9h.6M393.8 114.7h.6M399.7 136.8h.6M371.6 127.5h.6M370.8 128.8h.6M394.4 130.5h.6M404.9 114.4h.6M394.4 108.4h.6M387.2 136.6h.6M371.0 118.0h.6M394.3 133.7h.6M379.7 125.4h.6M398.7 123.0h.6M397.9 118.8h.6M373.2 135.0h.6M373.5 144.8h.6M378.9 111.9h.6M380.2 137.7h.6M396.1 138.2h.6M370.3 143.5h.6M384.0 140.9h.6M365.7 123.4h.6M398.0 112.5h.6M395.9 121.6h.6M367.5 113.8h.6M398.2 109.8h.6M375.2 123.5h.6M378.4 134.2h.6M405.6 100.1h.6M382.5 121.0h.6M371.3 121.7h.6M380.0 133.3h.6M385.3 138.1h.6M367.0 112.5h.6M379.2 127.5h.6M371.4 121.5h.6M401.0 103.8h.6M372.1 108.4h.6M382.2 130.8h.6M400.5 89.7h.6M394.8 111.9h.6M383.8 114.0h.6M398.3 118.3h.6M385.7 111.2h.6M379.3 110.9h.6M377.9 109.0h.6M400.3 99.7h.6M386.7 117.6h.6M379.3 131.6h.6M374.0 138.7h.6M377.7 136.2h.6M373.0 111.9h.6M402.3 106.1h.6M406.3 101.1h.6M402.8 105.0h.6M377.5 123.7h.6M396.2 135.5h.6M393.8 134.3h.6M383.3 123.0h.6M383.5 138.3h.6M396.2 135.1h.6M372.3 123.9h.6M390.7 114.1h.6M377.8 142.4h.6M380.4 143.7h.6M391.1 129.0h.6M391.1 116.1h.6M389.3 122.6h.6M389.7 108.0h.6M380.1 141.4h.6M402.3 87.1h.6M391.1 114.6h.6M375.7 105.6h.6M402.9 96.8h.6M388.5 120.6h.6M394.0 131.7h.6M389.0 117.7h.6M376.2 117.6h.6M389.5 119.5h.6M378.2 144.2h.6M382.2 117.2h.6M379.5 135.9h.6M384.9 128.0h.6M378.5 146.1h.6M397.7 101.6h.6M375.8 116.5h.6M389.4 118.3h.6M384.4 121.4h.6M391.8 123.2h.6M399.7 104.0h.6M396.5 116.9h.6M369.2 115.6h.6M374.1 135.8h.6M373.8 123.2h.6M392.1 132.4h.6M387.8 118.6h.6M400.0 103.5h.6M401.4 107.9h.6M386.9 138.9h.6M399.3 103.5h.6M385.7 130.5h.6M398.1 130.3h.6M366.4 129.6h.6M389.7 144.7h.6M393.8 132.3h.6M376.1 138.7h.6M364.7 131.4h.6M393.6 134.0h.6M386.7 127.3h.6M405.3 102.3h.6M371.6 124.6h.6M371.6 112.3h.6M382.9 143.6h.6M405.3 92.8h.6M388.5 135.2h.6M383.9 125.7h.6M381.7 120.1h.6M370.9 110.5h.6M405.7 103.5h.6M378.7 130.7h.6M388.5 143.2h.6M371.9 143.8h.6M392.7 120.7h.6M382.6 119.8h.6M388.9 122.4h.6M389.9 144.9h.6M369.8 137.0h.6M383.7 116.5h.6M404.0 99.2h.6M380.5 113.9h.6M386.3 107.8h.6M374.4 115.7h.6M376.8 110.0h.6M377.7 110.2h.6M381.1 117.5h.6M383.5 136.6h.6M383.7 123.1h.6M376.8 111.5h.6M366.7 112.2h.6M403.3 100.2h.6M368.1 129.4h.6M398.9 106.2h.6M375.6 109.5h.6M377.1 123.8h.6M381.4 131.8h.6M373.6 129.3h.6M395.6 120.2h.6M403.0 109.0h.6M400.1 115.7h.6M382.5 121.3h.6M402.1 125.1h.6M396.0 116.9h.6M376.6 110.0h.6M401.2 93.7h.6M373.0 129.2h.6M391.5 112.2h.6M405.9 110.7h.6M397.9 129.3h.6M386.7 126.5h.6M380.4 142.8h.6M404.0 86.7h.6M393.2 135.7h.6M394.6 123.7h.6M367.1 108.2h.6M369.4 121.7h.6M390.0 122.3h.6M388.5 146.6h.6M402.2 111.4h.6M381.5 124.3h.6M383.2 125.6h.6M384.5 123.1h.6M368.4 142.9h.6M374.5 138.4h.6M379.0 147.7h.6M400.6 124.0h.6M375.6 130.1h.6M383.4 119.0h.6M380.4 117.7h.6M379.2 135.7h.6M381.3 129.1h.6M386.3 136.8h.6M374.2 126.0h.6M367.3 118.8h.6M380.2 128.0h.6M368.1 119.3h.6M367.8 131.7h.6M390.0 109.8h.6M367.8 140.2h.6M391.1 121.1h.6M400.5 115.1h.6M389.7 118.0h.6M367.0 144.4h.6M367.6 139.8h.6M382.3 118.3h.6M373.6 108.7h.6M370.0 108.1h.6M379.2 119.8h.6M381.3 120.1h.6M388.1 118.1h.6M376.3 134.7h.6M374.2 126.5h.6M373.4 127.2h.6M391.6 102.6h.6M370.2 144.3h.6M376.4 135.1h.6M396.7 118.8h.6M373.0 142.7h.6M380.2 142.3h.6M377.7 135.8h.6M404.8 85.8h.6M366.8 118.6h.6M380.7 117.4h.6M397.3 132.7h.6M382.1 145.6h.6M375.1 113.0h.6M372.0 137.7h.6M370.4 138.6h.6M396.4 133.0h.6M395.0 120.0h.6M379.2 141.5h.6M389.1 109.9h.6M390.5 121.7h.6M366.5 134.9h.6M382.5 109.6h.6M377.5 126.7h.6M394.8 121.1h.6M372.9 140.2h.6M402.4 128.3h.6M398.7 101.4h.6M374.6 123.7h.6M391.0 106.4h.6M382.8 139.8h.6M370.2 141.8h.6M400.0 104.8h.6M403.5 124.3h.6M390.3 106.0h.6M372.6 138.3h.6M396.5 135.1h.6M379.7 144.0h.6M384.0 135.6h.6M394.1 118.1h.6M399.7 109.5h.6M369.8 120.4h.6M393.1 111.3h.6M395.1 114.8h.6M401.7 133.5h.6M397.5 125.6h.6M389.0 106.1h.6M367.8 135.4h.6M397.0 124.3h.6M377.9 135.3h.6M373.0 126.7h.6M395.0 138.3h.6M401.2 99.1h.6M390.6 115.4h.6M399.4 108.0h.6M401.4 136.4h.6M398.2 137.7h.6M376.8 117.2h.6M383.4 135.7h.6M363.9 135.5h.6M378.8 136.5h.6M389.2 139.9h.6M394.5 143.0h.6M366.2 138.1h.6M368.2 124.7h.6M376.4 146.2h.6M369.4 122.1h.6M385.0 141.3h.6M369.2 110.7h.6M373.1 125.5h.6M393.6 111.2h.6M404.8 87.9h.6M392.3 114.6h.6M403.9 98.4h.6M390.6 118.6h.6M404.6 110.3h.6M400.6 127.3h.6M382.9 122.0h.6M377.4 130.7h.6M397.4 120.9h.6M391.3 144.9h.6M365.2 117.7h.6M373.6 136.6h.6M396.8 114.5h.6M404.1 96.7h.6M383.1 138.4h.6M378.4 143.3h.6M378.3 139.9h.6M387.1 122.1h.6M381.6 109.7h.6M374.0 112.8h.6M384.4 107.9h.6M382.4 127.7h.6M376.1 136.7h.6M373.6 120.7h.6M391.0 142.0h.6M397.2 119.3h.6M392.1 138.3h.6M368.8 132.0h.6M388.5 132.7h.6M367.1 143.3h.6M371.6 112.8h.6M385.7 115.1h.6M406.5 102.4h.6M385.8 144.4h.6M392.8 129.6h.6M378.5 120.1h.6M372.4 123.7h.6M378.8 131.7h.6M400.4 94.7h.6M370.5 119.5h.6M400.8 98.8h.6M397.1 118.1h.6M389.3 147.1h.6M368.7 139.0h.6M391.5 113.1h.6M375.6 111.9h.6M375.2 133.2h.6M373.8 135.3h.6M406.1 99.6h.6M380.5 133.8h.6M377.3 133.5h.6M395.8 111.2h.6M382.9 125.7h.6M366.7 139.6h.6M391.2 134.1h.6M403.4 114.1h.6M401.6 115.3h.6M398.9 110.6h.6M386.5 125.5h.6M375.0 130.4h.6M379.1 122.8h.6M386.7 113.2h.6M401.7 126.2h.6M393.2 130.0h.6M401.1 113.1h.6M387.4 127.5h.6M401.7 111.2h.6M368.3 129.1h.6M368.5 112.4h.6M387.4 115.7h.6M389.9 120.3h.6M398.0 135.3h.6M388.1 111.6h.6M392.6 120.5h.6M400.3 132.6h.6M395.8 119.1h.6M390.6 135.2h.6M386.9 136.8h.6M368.1 113.7h.6M376.2 147.8h.6M379.4 140.1h.6M364.9 132.7h.6M366.6 134.1h.6M390.5 104.4h.6M394.3 137.7h.6M371.5 130.8h.6M371.6 145.2h.6M377.6 115.9h.6M399.3 120.3h.6M394.6 113.6h.6M392.4 121.8h.6M386.3 140.8h.6M402.0 94.3h.6M388.4 137.1h.6M372.7 134.8h.6M379.1 137.3h.6M407.0 94.3h.6M368.2 141.9h.6M369.4 117.3h.6M385.9 138.3h.6M400.6 125.9h.6M373.0 136.6h.6M403.3 115.4h.6M373.3 109.7h.6M387.1 129.7h.6M380.3 117.3h.6M377.2 140.6h.6M381.8 126.9h.6M389.8 115.3h.6M384.3 124.3h.6M391.4 127.3h.6M395.1 133.9h.6M392.6 121.1h.6M367.0 125.9h.6M383.4 119.8h.6M368.9 124.5h.6M373.9 126.1h.6M388.0 113.1h.6M404.8 112.6h.6M385.7 143.1h.6M385.6 140.3h.6M385.1 140.9h.6M388.2 123.3h.6M389.0 119.0h.6M365.0 133.8h.6M385.9 136.0h.6M395.1 109.2h.6M372.7 145.1h.6M393.4 113.6h.6M405.5 98.4h.6M378.5 143.0h.6M380.9 120.4h.6M378.7 113.6h.6M381.7 139.2h.6M367.9 132.0h.6M375.7 123.9h.6M404.2 121.4h.6M402.6 90.3h.6M394.9 131.4h.6M373.0 143.9h.6M389.9 112.2h.6M370.2 111.0h.6M384.3 136.7h.6M404.7 111.2h.6M396.9 126.1h.6M369.0 119.7h.6M385.6 118.9h.6M366.0 130.8h.6M381.0 112.1h.6M400.8 111.1h.6M403.7 118.2h.6M395.5 135.8h.6M403.3 110.1h.6M377.7 139.5h.6M370.7 129.3h.6M403.8 108.9h.6M392.1 132.7h.6M378.5 123.4h.6M388.2 133.8h.6M385.1 104.4h.6M385.9 112.0h.6M393.1 116.2h.6M368.4 127.2h.6M366.5 128.7h.6M374.0 128.0h.6M372.2 123.2h.6M368.5 132.1h.6M373.6 146.4h.6M396.9 139.4h.6M380.9 120.0h.6M365.2 137.6h.6M377.2 119.3h.6M389.8 124.6h.6M390.3 107.2h.6M401.2 88.0h.6M401.4 113.4h.6M381.8 114.4h.6M392.7 113.7h.6M399.8 112.0h.6M373.3 126.9h.6M381.5 114.4h.6M368.7 121.4h.6M382.3 123.5h.6M403.9 120.7h.6M367.0 111.9h.6M404.7 108.8h.6" stroke="#34ad55" stroke-width="0.8" fill="none"/>
<polygon points="388.8,52.6 391.5,54.5 395.5,58.5 399.5,63.5 402.2,69.0 403.8,75.0 404.3,80.0 403.5,83.5 400.5,83.0 398.0,78.0 396.0,72.0 394.8,66.0 392.0,60.0 389.2,55.5" fill="#5c86c9" fill-opacity="0.03"/>
<path d="M400.8 78.6h.6M397.4 65.1h.6M389.5 54.4h.6M400.6 81.1h.6M403.9 83.8h.6M395.3 59.1h.6M402.2 82.2h.6M401.8 81.1h.6M401.9 78.7h.6M390.1 58.8h.6M395.9 64.2h.6M396.6 72.1h.6M402.7 78.6h.6M397.2 61.2h.6M399.3 66.7h.6M403.5 78.5h.6M401.6 68.4h.6M400.0 70.5h.6M397.9 73.7h.6M389.0 55.2h.6M388.9 52.9h.6M396.7 65.2h.6M394.5 63.5h.6M399.1 73.7h.6M403.3 75.9h.6M398.6 63.3h.6M401.8 78.0h.6M394.8 57.8h.6M402.8 69.0h.6M394.8 58.6h.6M404.1 76.0h.6M401.4 75.4h.6M399.8 75.4h.6M400.3 78.5h.6M404.5 78.8h.6M403.2 76.0h.6M396.9 72.5h.6M402.8 80.0h.6M396.6 60.1h.6M401.5 75.5h.6M398.1 75.7h.6M399.8 72.6h.6M396.8 67.7h.6M391.1 58.5h.6M392.8 61.2h.6M397.0 72.6h.6M395.3 62.7h.6M395.2 58.7h.6M395.5 67.1h.6M394.8 65.2h.6M398.1 73.6h.6M398.2 75.2h.6M398.3 62.4h.6M397.5 61.0h.6M400.8 79.5h.6M404.3 75.8h.6M401.5 71.8h.6M402.1 75.8h.6M402.3 78.5h.6M389.6 56.7h.6M390.4 53.5h.6M392.0 57.8h.6M402.6 78.6h.6M390.4 55.8h.6M400.0 74.6h.6M402.9 75.4h.6M390.3 56.9h.6M396.6 66.7h.6M401.0 73.1h.6M401.8 80.7h.6M391.7 57.3h.6M393.8 61.6h.6M396.9 73.0h.6M397.5 68.4h.6M397.0 60.6h.6M401.0 79.1h.6M400.5 69.1h.6M402.8 74.4h.6M396.0 69.8h.6M395.8 67.9h.6M394.3 58.2h.6M400.6 79.1h.6M398.6 75.0h.6M399.1 80.6h.6M399.3 68.9h.6M394.2 61.3h.6M396.3 72.1h.6M401.1 81.6h.6M401.0 73.6h.6M402.8 80.2h.6M398.8 70.1h.6M394.8 58.4h.6M393.1 60.3h.6M402.4 76.4h.6M397.2 62.0h.6M395.7 64.3h.6M396.3 74.0h.6M402.6 83.1h.6M400.9 69.1h.6M398.0 68.9h.6M399.5 77.1h.6M394.7 68.8h.6M398.6 73.3h.6M391.9 55.4h.6M402.5 72.4h.6M400.8 78.1h.6M398.7 67.6h.6M404.4 77.4h.6M391.8 55.7h.6M400.4 70.8h.6M395.6 65.7h.6M400.1 79.4h.6M393.3 61.9h.6M396.5 71.2h.6M401.6 76.0h.6M402.8 81.1h.6M400.9 69.4h.6M401.7 71.6h.6M399.1 66.8h.6M394.4 57.8h.6M390.0 53.6h.6M399.7 70.3h.6M395.9 69.1h.6M397.0 66.5h.6M401.4 75.1h.6M398.2 61.2h.6M395.6 61.5h.6M397.9 61.6h.6M402.9 73.8h.6" stroke="#5c86c9" stroke-width="0.8" fill="none"/>
<polygon points="458.0,71.5 464.0,71.5 470.0,70.5 474.0,67.5 477.6,65.8 481.0,70.0 484.0,75.0 489.0,82.0 493.0,89.5 496.0,97.0 498.0,105.0 499.0,113.0 498.8,121.0 497.5,129.0 495.9,135.8 492.0,140.5 487.2,143.6 480.0,146.5 473.7,147.6 466.0,146.5 458.3,143.8 452.0,141.0 448.6,137.8 446.0,133.0 446.0,128.0 448.6,124.0 446.5,119.0 444.0,113.0 443.6,105.0 444.2,97.0 446.0,90.0 450.0,83.5 455.0,78.5 458.0,76.5" fill="#34ad55" fill-opacity="0.1"/>
<path d="M483.5 84.7h.6M477.9 108.3h.6M469.3 121.2h.6M468.5 106.8h.6M466.4 104.5h.6M492.2 107.0h.6M455.2 83.7h.6M471.0 87.8h.6M493.5 119.3h.6M485.6 91.8h.6M450.7 98.0h.6M466.5 137.1h.6M456.4 88.3h.6M449.6 108.3h.6M453.1 127.0h.6M450.0 96.2h.6M462.8 84.5h.6M450.3 118.6h.6M488.8 112.1h.6M483.9 137.8h.6M466.0 141.6h.6M467.1 85.1h.6M448.5 108.6h.6M482.6 120.4h.6M465.4 121.9h.6M467.8 123.8h.6M472.3 145.8h.6M472.1 138.2h.6M459.3 88.9h.6M450.9 112.5h.6M491.8 106.1h.6M491.7 117.4h.6M484.3 130.3h.6M445.0 95.3h.6M492.1 124.3h.6M475.1 72.0h.6M479.8 110.0h.6M447.2 95.4h.6M469.3 81.9h.6M472.2 127.7h.6M478.8 139.1h.6M472.1 83.0h.6M473.7 116.5h.6M445.6 97.6h.6M463.2 98.9h.6M457.7 130.8h.6M447.6 89.7h.6M450.2 124.0h.6M488.7 86.0h.6M461.9 85.0h.6M468.3 125.6h.6M466.6 107.1h.6M471.6 106.9h.6M456.6 129.7h.6M474.1 142.7h.6M488.5 128.4h.6M493.3 88.9h.6M460.9 87.5h.6M461.4 97.9h.6M452.1 92.4h.6M458.9 79.1h.6M462.9 128.2h.6M488.1 85.7h.6M457.4 84.8h.6M481.5 115.0h.6M446.4 115.3h.6M486.9 133.7h.6M486.1 134.9h.6M483.6 81.8h.6M454.3 123.3h.6M458.4 101.8h.6M471.5 136.6h.6M474.7 100.4h.6M455.7 103.2h.6M480.5 85.1h.6M462.5 136.8h.6M469.1 85.5h.6M468.8 134.8h.6M491.8 135.0h.6M478.4 100.1h.6M469.9 73.1h.6M492.5 96.0h.6M471.6 139.0h.6M475.6 145.0h.6M481.6 139.5h.6M469.2 124.0h.6M445.0 97.4h.6M484.1 120.8h.6M477.5 70.4h.6M497.1 102.7h.6M466.4 99.6h.6M453.0 141.5h.6M455.8 105.7h.6M455.7 94.8h.6M463.5 92.7h.6M480.5 79.1h.6M445.8 103.5h.6M480.4 119.2h.6M484.3 99.8h.6M470.5 115.9h.6M489.9 92.8h.6M448.2 100.8h.6M484.0 77.5h.6M471.5 85.2h.6M457.3 117.7h.6M485.2 84.6h.6M470.0 87.6h.6M464.8 108.5h.6M447.4 131.7h.6M467.4 103.8h.6M477.3 68.2h.6M487.8 113.2h.6M498.2 105.1h.6M449.6 116.5h.6M466.3 75.6h.6M463.6 81.8h.6M471.6 110.0h.6M470.7 138.2h.6M464.8 92.6h.6M469.4 133.3h.6M452.8 114.7h.6M485.6 111.6h.6M461.1 89.3h.6M465.8 134.9h.6M476.4 112.4h.6M468.0 105.4h.6M495.1 104.5h.6M446.1 98.6h.6M468.2 106.7h.6M467.9 98.5h.6M492.8 134.9h.6M492.6 126.6h.6M444.5 107.4h.6M479.4 134.9h.6M486.0 97.1h.6M467.8 125.0h.6M479.3 130.5h.6M458.8 141.9h.6M459.1 82.8h.6M482.2 98.8h.6M474.2 130.8h.6M470.6 94.6h.6M493.4 98.4h.6M488.7 135.9h.6M461.3 144.6h.6M484.3 107.7h.6M487.6 103.7h.6M486.9 107.5h.6M449.7 125.6h.6M475.1 128.2h.6M485.8 89.7h.6M467.8 92.7h.6M447.5 129.8h.6M470.2 136.6h.6M492.5 91.5h.6M467.4 94.6h.6M453.8 99.2h.6M464.0 121.5h.6M485.9 128.8h.6M486.0 98.0h.6M474.2 84.5h.6M472.1 141.5h.6M456.9 105.5h.6M470.9 136.6h.6M462.2 138.3h.6M472.1 143.7h.6M480.9 140.2h.6M469.5 89.2h.6M475.9 129.0h.6M470.7 108.5h.6M471.0 117.3h.6M476.5 97.7h.6M471.0 74.8h.6M463.7 141.4h.6M484.8 84.4h.6M470.2 78.3h.6M460.9 115.2h.6M458.0 83.6h.6M474.5 106.4h.6M484.1 122.8h.6M465.4 147.2h.6M464.4 89.4h.6M470.4 83.5h.6M492.2 97.6h.6M476.9 140.2h.6M471.1 86.0h.6M480.5 144.8h.6M451.4 111.9h.6M487.9 143.6h.6M462.2 143.7h.6M475.3 128.1h.6M489.0 93.5h.6M496.3 107.5h.6M476.7 70.8h.6M477.0 121.9h.6M462.1 117.0h.6M462.5 76.2h.6M448.7 85.5h.6M450.9 86.8h.6M496.2 123.0h.6M487.8 112.6h.6M488.6 90.8h.6M486.9 95.4h.6M466.9 124.4h.6M448.8 109.1h.6M451.5 138.1h.6M478.5 112.1h.6M455.1 103.6h.6M487.4 116.4h.6M449.6 116.9h.6M487.5 100.6h.6M475.0 125.4h.6M449.8 130.0h.6M472.0 83.8h.6M453.2 112.1h.6M494.5 115.8h.6M456.9 126.3h.6M464.0 134.5h.6M475.0 70.1h.6M462.1 91.4h.6M497.8 113.3h.6M466.6 106.5h.6M468.8 113.0h.6M464.6 127.6h.6M496.9 118.4h.6M467.3 106.8h.6M458.5 113.9h.6M450.5 83.7h.6M461.1 131.0h.6M480.1 94.2h.6M461.6 74.6h.6M470.5 118.4h.6M477.9 91.3h.6M452.3 137.7h.6M494.9 117.1h.6M494.3 121.3h.6M475.0 101.4h.6M480.2 116.4h.6M469.9 110.3h.6M489.0 97.1h.6M496.7 120.0h.6M492.4 119.4h.6M489.9 89.6h.6M474.3 67.5h.6M449.1 104.3h.6M461.8 115.5h.6M444.4 100.4h.6M479.3 125.3h.6M466.3 113.8h.6M475.3 127.3h.6M490.7 113.4h.6M493.5 116.6h.6M485.0 91.1h.6M492.7 114.6h.6M464.6 122.3h.6M480.9 134.0h.6M451.0 104.6h.6M477.6 70.0h.6M485.3 125.2h.6M480.5 146.1h.6M466.7 97.8h.6M480.0 136.1h.6M483.9 101.2h.6M467.2 145.1h.6M451.9 84.7h.6M465.8 133.5h.6M466.2 72.5h.6M478.6 126.0h.6M472.6 90.3h.6M480.4 139.9h.6M470.0 87.0h.6M466.6 81.0h.6M452.3 123.4h.6M486.8 124.8h.6M451.8 139.3h.6M483.7 122.4h.6M478.7 121.3h.6M484.7 80.5h.6M485.1 125.0h.6M471.1 141.3h.6M480.7 124.7h.6M456.3 119.4h.6M473.9 113.0h.6M456.1 119.7h.6M470.1 74.1h.6M491.6 116.9h.6M483.8 116.3h.6M480.3 132.6h.6M448.5 112.7h.6M484.3 78.5h.6M487.0 143.9h.6M482.4 111.3h.6M458.0 83.8h.6M465.2 102.2h.6M482.5 123.5h.6M470.0 88.9h.6M464.9 97.3h.6M474.0 110.6h.6M467.2 111.8h.6M475.1 128.0h.6M484.0 79.2h.6M469.5 123.8h.6M479.8 143.6h.6M475.3 70.3h.6M483.5 116.0h.6M466.4 136.5h.6M480.7 87.7h.6M470.7 95.9h.6M488.2 140.8h.6M490.1 81.0h.6M477.9 118.9h.6M466.5 79.1h.6M479.8 107.2h.6M482.1 97.7h.6M472.9 93.6h.6M472.6 73.3h.6M447.2 119.2h.6M455.0 100.4h.6M476.9 101.7h.6M463.1 129.4h.6M449.8 124.7h.6M485.6 77.5h.6M473.2 122.4h.6M466.6 90.4h.6M476.9 96.0h.6M478.1 141.0h.6M496.6 128.9h.6M494.1 103.2h.6M477.0 80.1h.6M479.6 124.9h.6M494.5 112.1h.6M484.7 86.2h.6M458.9 126.8h.6M490.1 138.3h.6M476.4 123.6h.6M491.3 127.9h.6M480.1 76.8h.6M481.0 96.6h.6M496.4 130.9h.6M494.9 113.6h.6M454.2 129.5h.6M474.5 82.6h.6M487.0 116.6h.6M463.7 81.0h.6M474.6 80.2h.6M464.0 82.5h.6M476.6 99.8h.6M464.3 84.9h.6M463.0 88.5h.6M468.1 138.8h.6M446.8 113.0h.6M457.4 72.5h.6M449.7 120.5h.6M467.3 125.3h.6M477.3 147.1h.6M467.5 129.7h.6M498.3 119.6h.6M491.6 86.8h.6M488.4 93.9h.6M472.1 115.5h.6M456.3 118.5h.6M491.7 117.3h.6M472.8 135.3h.6M462.1 131.7h.6M489.0 97.6h.6M482.3 132.1h.6M462.9 74.8h.6M456.9 104.1h.6M451.8 83.2h.6M455.9 124.5h.6M476.3 131.0h.6M478.5 124.8h.6M452.5 120.4h.6M474.2 112.0h.6M461.9 134.8h.6M480.0 88.7h.6M462.0 116.5h.6M455.5 109.1h.6M466.7 139.3h.6M481.6 125.0h.6M489.3 127.3h.6M451.8 121.2h.6M476.9 112.0h.6M483.8 128.9h.6M451.6 107.3h.6M459.5 139.4h.6M459.6 127.6h.6M454.4 98.1h.6M455.6 82.7h.6M476.1 126.2h.6M474.8 123.7h.6M477.3 132.9h.6M488.7 82.5h.6M485.0 135.8h.6M476.8 68.7h.6M478.1 106.1h.6M445.9 95.9h.6M464.4 97.4h.6M473.4 112.1h.6M470.2 124.4h.6M470.8 98.5h.6M451.1 98.6h.6M480.2 99.3h.6M467.2 123.4h.6M477.9 98.4h.6M461.1 113.6h.6M446.1 90.1h.6M480.0 109.6h.6M479.1 110.5h.6M474.4 103.7h.6M443.1 105.2h.6M446.2 96.5h.6M467.4 145.7h.6M486.5 143.5h.6M450.8 125.7h.6M464.6 75.5h.6M468.2 95.4h.6M478.4 130.7h.6M478.3 131.6h.6M445.2 108.3h.6M494.4 122.3h.6M480.0 83.8h.6M474.7 119.2h.6M450.7 91.5h.6M477.4 71.2h.6M475.2 95.8h.6M496.3 102.8h.6M462.5 136.1h.6M451.5 141.3h.6M461.7 79.5h.6M451.4 120.9h.6M463.9 134.8h.6M489.3 134.7h.6M480.2 136.5h.6M451.2 136.2h.6M445.9 107.4h.6M466.9 92.2h.6M478.8 70.6h.6M463.2 104.6h.6M484.9 78.8h.6M460.1 97.9h.6M482.0 134.1h.6M476.1 142.6h.6M480.8 84.1h.6M485.4 127.5h.6M460.7 124.0h.6M495.5 111.1h.6M461.0 115.0h.6M496.8 111.5h.6M464.3 146.5h.6M494.0 98.8h.6M476.9 67.6h.6M484.6 102.1h.6M471.0 111.0h.6M465.6 94.0h.6M462.0 97.5h.6M460.2 140.8h.6M450.4 130.7h.6M494.5 136.2h.6M470.8 84.1h.6M485.7 115.0h.6M488.0 90.5h.6M451.2 112.6h.6M471.8 126.0h.6M472.0 108.4h.6M452.8 126.0h.6M489.1 108.4h.6M475.3 105.8h.6M473.1 82.6h.6M497.6 102.2h.6M477.2 104.4h.6M473.6 76.4h.6M452.8 138.8h.6M493.2 108.2h.6M464.4 89.1h.6M458.2 83.3h.6M456.9 98.2h.6M449.7 122.2h.6M469.4 95.4h.6M458.8 138.8h.6M465.6 103.5h.6M452.6 136.2h.6M479.2 91.0h.6M492.1 101.4h.6M465.4 116.0h.6M476.8 76.0h.6M467.9 90.7h.6M484.6 121.3h.6M455.6 123.1h.6M485.7 123.6h.6M478.5 119.4h.6M494.3 119.7h.6M487.9 91.1h.6M461.4 81.8h.6M447.6 123.0h.6M460.7 133.8h.6M462.9 120.1h.6M463.5 136.8h.6M469.8 91.8h.6M497.1 127.0h.6M479.8 70.1h.6M478.3 145.6h.6M485.7 83.4h.6M475.2 84.3h.6M470.2 103.6h.6M479.6 139.6h.6M452.4 106.5h.6M479.5 71.9h.6M462.7 120.7h.6M452.9 123.2h.6M472.8 138.8h.6M465.5 88.0h.6M491.1 139.9h.6M448.8 86.7h.6M449.5 120.5h.6M476.5 121.0h.6M476.2 144.3h.6M479.3 80.2h.6M473.2 136.1h.6M479.9 76.3h.6M476.5 74.7h.6M470.3 131.5h.6M470.1 84.1h.6M445.2 111.7h.6M451.2 111.8h.6M496.1 126.0h.6M463.8 134.3h.6M455.3 99.3h.6M470.8 124.1h.6M468.1 112.8h.6M484.3 82.5h.6M456.3 81.0h.6M455.8 97.6h.6M456.5 83.2h.6M463.9 101.1h.6M454.0 98.0h.6M492.9 106.3h.6M476.3 129.4h.6M456.3 86.1h.6M453.8 80.3h.6M459.8 128.8h.6M448.9 89.5h.6M494.1 92.7h.6M479.1 71.9h.6M486.5 79.7h.6M487.3 142.3h.6M488.6 92.2h.6M460.0 129.0h.6M482.4 102.5h.6M462.8 113.4h.6M462.5 117.9h.6M472.8 134.4h.6M462.2 117.0h.6M480.9 114.9h.6M487.7 126.0h.6M489.4 82.3h.6M465.7 136.1h.6M458.2 80.8h.6M472.5 129.1h.6M468.2 92.9h.6M481.5 91.8h.6M484.8 91.1h.6M454.8 116.6h.6M480.0 144.4h.6M478.6 96.6h.6M461.9 119.3h.6M467.9 94.8h.6M488.0 86.6h.6M459.0 87.9h.6M466.5 129.5h.6M461.4 79.3h.6M474.7 140.6h.6M485.7 123.0h.6M470.0 92.4h.6M482.5 79.7h.6M466.8 126.1h.6M456.6 88.9h.6M444.3 101.2h.6M464.5 99.0h.6M475.0 68.5h.6M485.0 116.2h.6M494.4 112.4h.6M466.2 79.0h.6M477.9 66.2h.6M477.5 130.8h.6M479.8 136.5h.6M491.5 89.0h.6M461.1 129.5h.6M475.1 104.2h.6M464.7 90.2h.6M473.1 116.0h.6M466.3 129.5h.6M442.8 106.9h.6M451.1 82.7h.6M473.4 136.3h.6M481.9 93.6h.6M471.4 96.6h.6M461.1 134.3h.6M475.8 101.1h.6M473.2 136.1h.6M453.3 130.0h.6M475.3 134.0h.6M468.5 76.6h.6M487.8 95.9h.6M447.1 127.1h.6M490.6 110.8h.6M485.1 105.0h.6M466.0 144.1h.6M468.1 103.6h.6M443.7 99.0h.6M464.4 88.6h.6M493.6 95.2h.6M454.7 139.7h.6M451.5 139.9h.6M484.8 102.1h.6M450.0 121.6h.6M480.3 76.4h.6M461.3 119.8h.6M450.4 121.6h.6M454.1 119.8h.6M483.4 89.9h.6M488.8 127.8h.6M465.8 104.8h.6M468.3 106.4h.6M461.9 94.8h.6M454.4 102.3h.6M458.6 94.5h.6M464.6 96.4h.6M487.8 100.3h.6M486.4 88.3h.6M462.0 135.3h.6M466.3 134.0h.6M465.9 99.1h.6M456.8 119.2h.6M474.9 105.8h.6M473.6 138.7h.6M458.0 136.5h.6M467.7 132.2h.6M488.7 119.7h.6M466.8 71.1h.6M450.7 133.1h.6M482.2 94.0h.6M460.8 118.1h.6M493.2 137.8h.6M454.6 99.7h.6M485.8 120.0h.6M471.3 140.8h.6M496.3 120.2h.6M452.7 137.6h.6M485.4 83.5h.6M479.8 119.7h.6M499.1 110.1h.6M486.4 100.5h.6M461.3 74.6h.6M470.5 106.0h.6M470.8 86.8h.6M467.2 85.1h.6M495.7 134.5h.6M475.5 75.8h.6M473.0 121.6h.6M473.7 110.1h.6M496.5 111.3h.6M461.4 134.0h.6M470.4 77.6h.6M491.2 120.7h.6M466.1 123.9h.6M449.7 122.9h.6M493.8 134.1h.6M462.1 74.9h.6M461.6 130.6h.6M464.7 100.0h.6M494.2 112.0h.6M455.6 103.3h.6M481.9 119.9h.6M446.1 93.3h.6M458.5 128.6h.6M491.4 122.9h.6M465.0 104.1h.6M475.8 124.9h.6M475.8 144.6h.6M488.1 87.6h.6M485.9 137.8h.6M468.2 75.5h.6M472.8 139.9h.6M465.1 90.9h.6M466.8 146.3h.6M456.7 95.9h.6M483.6 86.0h.6M470.2 141.9h.6M476.8 146.1h.6M459.9 81.2h.6M484.6 140.0h.6M491.8 92.5h.6M478.5 139.7h.6M450.1 117.0h.6M452.0 118.5h.6M496.5 126.2h.6M470.7 122.8h.6M448.7 111.2h.6M498.6 111.9h.6M452.6 91.1h.6M479.4 112.7h.6M470.8 100.1h.6M493.2 121.0h.6M455.8 85.0h.6M489.8 115.0h.6M480.4 146.6h.6M459.6 99.8h.6M479.1 141.5h.6M476.7 105.5h.6M477.9 103.6h.6M477.8 146.5h.6M481.5 117.9h.6M479.5 127.2h.6M466.2 95.6h.6M456.0 101.6h.6M481.7 138.8h.6M471.5 78.5h.6M464.4 106.9h.6M491.4 108.6h.6M452.6 114.2h.6M474.4 77.7h.6M494.6 119.3h.6M483.6 78.2h.6M462.8 131.1h.6M458.6 84.6h.6M445.8 108.9h.6M459.0 141.9h.6M449.5 92.2h.6M462.2 118.2h.6M479.0 72.7h.6M455.4 95.7h.6M459.8 114.9h.6M452.0 89.0h.6M475.9 122.4h.6M463.3 81.3h.6M481.2 89.9h.6M474.3 98.4h.6M495.0 124.0h.6M482.9 139.6h.6M454.1 101.8h.6M451.8 124.0h.6M476.2 132.3h.6M469.4 94.3h.6M486.3 81.8h.6M449.6 91.6h.6M480.8 86.8h.6M454.5 122.5h.6M485.1 94.3h.6M486.7 133.5h.6M481.6 139.1h.6M480.9 92.2h.6M481.8 70.5h.6M466.6 77.6h.6M444.3 112.5h.6M488.7 143.4h.6M460.8 82.1h.6M478.2 100.6h.6M454.1 107.6h.6M494.8 106.5h.6M452.4 137.0h.6M493.7 136.2h.6M496.6 114.4h.6M485.5 130.6h.6M467.5 82.5h.6M479.8 105.2h.6M484.3 97.6h.6M461.8 108.1h.6M447.0 109.1h.6M492.8 120.2h.6M480.4 115.0h.6M448.9 104.9h.6M453.3 128.3h.6M484.5 136.4h.6M445.9 100.8h.6M453.1 141.4h.6M453.6 104.1h.6M478.0 139.1h.6M462.8 145.5h.6M483.0 96.1h.6M486.9 90.8h.6M445.9 132.4h.6M467.0 121.6h.6M472.8 126.1h.6M448.5 135.9h.6M499.6 106.8h.6M463.2 91.4h.6M484.8 115.5h.6M487.8 84.7h.6M480.3 122.8h.6M449.8 126.9h.6M455.0 131.4h.6M492.8 107.5h.6M464.7 127.7h.6M493.5 102.7h.6M458.9 116.3h.6M487.5 132.1h.6M459.1 115.4h.6M488.2 143.2h.6M469.8 75.7h.6M465.5 120.3h.6M470.5 126.3h.6M447.9 123.1h.6M468.2 126.9h.6M478.3 77.3h.6M493.9 96.4h.6M499.0 119.0h.6M450.1 90.0h.6M467.5 85.7h.6M483.0 127.0h.6M446.9 107.9h.6M492.4 118.5h.6M449.8 130.8h.6M464.3 126.1h.6M449.1 102.9h.6M449.9 124.7h.6M480.7 141.2h.6M450.7 123.1h.6M462.9 92.0h.6M491.2 103.1h.6M476.0 81.9h.6M479.4 114.2h.6M483.6 139.7h.6M474.9 102.9h.6M450.5 126.2h.6M474.3 70.1h.6M485.4 144.7h.6M472.7 138.0h.6M461.4 101.0h.6M485.7 135.6h.6M451.2 117.1h.6M453.6 136.3h.6M479.2 116.7h.6M484.2 90.6h.6M482.3 106.6h.6M458.3 86.5h.6M490.5 132.6h.6M483.0 106.5h.6M483.4 87.8h.6M455.2 124.3h.6M450.0 86.0h.6M480.0 100.9h.6M460.5 96.8h.6M484.0 117.2h.6M472.2 121.6h.6M487.0 109.4h.6M449.1 124.2h.6M460.0 132.4h.6M448.1 92.5h.6M447.6 106.2h.6M469.9 93.5h.6M480.5 114.5h.6M486.7 130.4h.6M463.2 98.5h.6M480.0 118.9h.6M449.5 112.0h.6M450.4 119.5h.6M490.4 116.5h.6M474.4 81.8h.6M495.9 109.5h.6M484.8 128.1h.6M482.0 138.8h.6M497.1 126.6h.6M497.6 121.8h.6M475.4 126.5h.6M496.2 122.4h.6M471.3 141.5h.6M493.5 105.1h.6M490.1 98.9h.6M478.2 75.8h.6M479.7 108.2h.6M465.9 91.3h.6M494.0 103.6h.6M487.2 130.5h.6M479.6 142.1h.6M450.2 110.3h.6M465.7 93.1h.6M478.0 88.1h.6M473.7 76.5h.6M490.3 109.5h.6M484.0 97.0h.6M477.3 67.3h.6M484.4 81.6h.6M457.4 118.7h.6M477.8 73.0h.6M458.9 135.3h.6M460.8 103.0h.6M474.0 75.1h.6M485.2 91.2h.6M485.1 94.6h.6M480.6 86.7h.6M468.8 105.3h.6M469.0 93.9h.6M474.1 124.0h.6M457.0 113.8h.6M471.4 118.5h.6M489.6 91.5h.6M462.0 90.5h.6M495.8 105.0h.6M469.6 141.0h.6M497.3 111.9h.6M455.2 85.4h.6M480.3 114.3h.6M489.8 134.9h.6M468.9 93.8h.6M492.2 128.8h.6M460.9 141.2h.6M465.9 103.4h.6M452.7 123.0h.6M478.8 96.0h.6M445.9 109.0h.6M462.4 85.2h.6M450.6 117.8h.6M478.2 90.9h.6M487.5 84.3h.6M480.5 147.1h.6M488.8 127.5h.6M474.3 91.2h.6M495.3 114.6h.6M459.4 140.4h.6M477.0 144.7h.6M476.2 134.4h.6M462.3 145.0h.6M473.8 144.1h.6M463.7 117.9h.6M478.9 100.0h.6M471.9 97.2h.6M472.9 104.0h.6M456.5 120.4h.6M461.7 125.3h.6M489.0 129.1h.6M491.6 132.4h.6M472.5 81.4h.6M479.5 121.5h.6M469.3 85.0h.6M458.3 137.3h.6M453.8 96.9h.6M472.3 96.3h.6M458.2 136.4h.6M460.0 140.3h.6M492.5 104.2h.6M478.7 116.7h.6M476.4 68.0h.6M454.0 115.2h.6M494.9 94.8h.6M490.1 107.1h.6M472.5 138.2h.6M489.5 86.2h.6M458.4 88.7h.6M460.8 125.0h.6M451.6 112.4h.6M461.4 117.7h.6M451.7 84.7h.6M493.0 103.4h.6M466.9 118.4h.6M492.5 117.9h.6M456.0 124.6h.6M460.5 121.3h.6M478.0 108.1h.6M447.8 117.3h.6M478.0 123.5h.6M456.0 110.1h.6M448.9 104.2h.6M447.5 108.5h.6M475.2 71.1h.6M453.2 86.0h.6M479.7 94.0h.6M458.9 135.1h.6M457.6 133.8h.6M458.6 116.7h.6M446.8 103.1h.6M451.4 120.4h.6M486.6 134.3h.6M480.5 103.2h.6M486.9 138.0h.6M491.2 124.8h.6M476.7 118.9h.6M477.7 136.7h.6M491.8 92.7h.6M477.7 113.6h.6M482.5 117.0h.6M447.3 130.3h.6M480.0 133.9h.6M486.1 97.3h.6M473.5 116.4h.6M470.5 120.2h.6M476.0 111.3h.6M479.2 97.5h.6M456.4 116.9h.6M493.8 119.3h.6M485.7 139.3h.6M465.7 77.9h.6M449.0 113.4h.6M455.5 121.5h.6M484.8 78.0h.6M486.0 80.6h.6M453.4 134.6h.6M473.7 76.8h.6M454.5 84.5h.6M487.6 127.8h.6M475.6 114.2h.6M451.0 115.0h.6M484.3 96.2h.6M495.9 104.9h.6M478.0 129.6h.6M462.0 129.7h.6M462.6 100.9h.6M467.6 81.7h.6M453.8 84.5h.6M490.2 113.4h.6M493.3 106.4h.6M478.3 146.8h.6M482.6 83.3h.6M478.0 99.8h.6M481.3 138.3h.6M460.9 131.1h.6M491.9 89.6h.6M463.7 89.8h.6M458.7 137.7h.6M450.3 137.6h.6M456.3 135.2h.6M473.0 108.5h.6M465.0 125.2h.6M471.5 115.4h.6M478.7 92.8h.6M463.5 144.1h.6M467.4 125.7h.6M457.9 119.1h.6M490.4 108.0h.6M455.6 125.6h.6M447.2 86.3h.6M463.7 106.8h.6M447.3 127.7h.6M458.8 85.4h.6M470.7 75.4h.6M474.5 101.1h.6M497.8 104.5h.6M469.8 124.4h.6M482.6 78.0h.6M450.0 104.9h.6M455.2 130.1h.6M477.1 102.9h.6M478.4 138.9h.6M477.7 127.3h.6M486.4 88.0h.6M451.6 108.1h.6M485.8 125.3h.6M465.5 146.1h.6M471.5 111.5h.6M479.3 136.3h.6M487.5 124.0h.6M480.1 69.9h.6M492.6 129.1h.6M476.6 138.2h.6M452.3 138.6h.6M455.8 137.1h.6M490.3 101.0h.6M474.9 127.1h.6M462.3 141.5h.6M470.2 95.7h.6M473.4 113.4h.6M483.1 82.3h.6M482.3 79.6h.6M451.5 133.2h.6M464.7 141.8h.6M457.3 125.8h.6M474.8 81.7h.6M464.6 100.7h.6M484.4 115.7h.6M461.9 131.8h.6M487.3 88.3h.6M486.9 85.4h.6M462.9 120.6h.6M467.5 82.3h.6M463.4 121.9h.6M471.2 81.7h.6M450.1 127.0h.6M471.5 111.9h.6M461.8 135.9h.6M492.0 132.2h.6M468.2 116.9h.6M484.4 144.2h.6M466.6 137.6h.6M481.0 130.7h.6M468.3 139.3h.6M464.2 97.6h.6M476.0 85.0h.6M492.5 88.0h.6M493.7 92.0h.6M467.8 133.7h.6M481.6 140.1h.6M450.2 133.7h.6M473.6 139.2h.6M458.7 85.6h.6M449.7 91.9h.6M454.7 126.6h.6M486.4 89.6h.6M464.6 97.2h.6M489.0 110.1h.6M457.4 106.5h.6M473.9 121.3h.6M495.1 96.2h.6M478.9 74.3h.6M483.5 140.8h.6M484.6 98.5h.6M463.9 133.2h.6M484.1 82.2h.6M482.7 91.9h.6M461.0 101.3h.6M479.6 124.0h.6M489.8 91.2h.6M456.4 84.4h.6M476.2 126.0h.6M457.8 115.3h.6M471.1 142.7h.6M482.0 109.8h.6M473.0 80.5h.6M457.1 125.4h.6M467.2 96.6h.6M458.7 133.7h.6M469.1 97.8h.6M460.1 140.1h.6M468.1 87.6h.6M483.3 97.3h.6M471.0 88.9h.6M484.8 123.8h.6M487.1 113.4h.6M458.7 110.0h.6M491.2 113.1h.6M491.4 90.0h.6M479.1 70.2h.6M461.5 81.8h.6M459.9 77.0h.6M470.4 138.7h.6M481.4 139.8h.6M454.5 86.3h.6M463.2 95.8h.6M463.4 133.4h.6M474.5 111.8h.6M490.0 85.6h.6M483.1 133.3h.6M483.7 107.2h.6M475.4 121.4h.6M479.2 68.7h.6M492.0 101.8h.6M494.3 96.6h.6M459.6 106.6h.6M446.0 109.0h.6M462.1 139.6h.6M484.4 118.3h.6M456.5 85.7h.6M454.8 104.7h.6M482.5 91.2h.6M494.0 91.5h.6M453.3 84.6h.6M458.0 115.0h.6M485.8 92.1h.6M459.3 116.4h.6M466.6 134.2h.6M467.3 131.2h.6M487.0 123.3h.6M459.1 77.7h.6M464.2 140.7h.6M493.0 90.1h.6M468.9 75.2h.6M472.8 98.2h.6M482.4 115.0h.6M483.6 139.8h.6M466.2 93.1h.6M460.2 82.0h.6M464.8 123.3h.6M459.2 88.0h.6M483.0 121.9h.6M485.9 79.4h.6M473.9 84.1h.6M463.3 82.6h.6M460.8 139.5h.6M486.2 138.5h.6M491.8 97.7h.6M450.1 133.7h.6M484.2 94.9h.6M488.0 81.7h.6M472.1 81.6h.6M477.4 92.1h.6M487.6 115.5h.6M464.6 142.3h.6M488.3 132.8h.6M444.6 99.0h.6M448.3 131.0h.6M456.5 90.2h.6M470.5 106.0h.6M462.1 87.3h.6M488.0 94.4h.6M495.8 134.6h.6M459.0 84.7h.6M462.5 90.9h.6M466.5 107.5h.6M459.9 138.2h.6M449.3 108.4h.6M480.9 118.7h.6M451.7 112.0h.6M479.9 89.4h.6M467.9 138.0h.6M463.7 129.2h.6M480.9 142.7h.6M444.6 99.4h.6M464.0 130.0h.6M451.5 85.4h.6M486.7 141.4h.6M477.1 100.2h.6M477.6 89.1h.6M490.7 109.9h.6M451.6 134.3h.6M482.4 96.5h.6M456.6 88.9h.6M470.2 80.7h.6M450.0 91.1h.6M446.3 132.3h.6M462.8 130.4h.6M491.3 107.2h.6M488.9 132.9h.6M492.8 91.1h.6M468.3 91.3h.6M468.9 85.6h.6M481.8 87.9h.6M489.1 105.5h.6M460.1 118.7h.6M482.2 81.5h.6M455.9 83.2h.6M494.3 108.5h.6M478.8 72.4h.6M484.9 83.4h.6M493.6 105.9h.6M475.8 78.0h.6M477.3 82.0h.6M481.0 138.5h.6M452.9 106.7h.6M465.8 80.7h.6M487.2 80.2h.6M474.1 79.2h.6M464.2 139.9h.6M457.4 98.3h.6M455.8 109.1h.6M477.4 133.2h.6M473.9 125.1h.6M477.7 146.3h.6M474.2 122.1h.6M470.5 143.8h.6M457.0 76.3h.6M456.7 143.9h.6M484.3 110.3h.6M481.5 132.0h.6M452.0 85.1h.6M497.1 128.9h.6M452.2 123.1h.6M477.9 132.9h.6M453.5 83.8h.6M476.1 92.4h.6M461.0 75.9h.6M467.3 98.7h.6M471.9 89.4h.6M455.0 82.8h.6M475.6 100.4h.6M453.9 103.4h.6M478.1 82.5h.6M482.7 98.8h.6M453.3 102.5h.6M482.9 115.0h.6M494.2 93.7h.6M449.1 137.4h.6M487.2 120.1h.6M457.6 138.7h.6M498.7 128.6h.6M484.1 127.2h.6M456.5 140.8h.6M493.2 136.5h.6M456.8 97.5h.6M449.6 84.1h.6M484.8 93.1h.6M479.6 84.1h.6M480.2 92.6h.6M451.3 83.3h.6M463.5 93.5h.6M471.0 103.0h.6M447.5 104.1h.6M498.8 103.1h.6M453.4 81.2h.6M464.3 141.4h.6M479.0 113.4h.6M459.5 75.5h.6M472.1 104.4h.6M454.0 122.3h.6M449.3 121.0h.6M465.3 78.3h.6M456.1 91.6h.6M491.2 111.9h.6M478.0 137.3h.6M450.1 114.1h.6M472.7 135.8h.6M451.8 92.4h.6M467.0 106.5h.6M479.2 142.2h.6M447.6 132.3h.6M466.1 78.0h.6M496.6 129.3h.6M484.2 79.7h.6M450.6 79.8h.6M448.5 107.6h.6M484.2 91.6h.6M487.0 112.7h.6M457.4 143.3h.6M457.5 99.6h.6M491.7 90.0h.6M450.2 93.1h.6M488.2 113.4h.6M494.7 133.6h.6M459.1 112.8h.6M461.7 128.5h.6M484.1 125.7h.6M453.6 90.3h.6M478.1 130.9h.6M460.1 88.4h.6M460.8 81.2h.6M469.9 75.5h.6M472.3 70.2h.6M459.8 96.5h.6M492.5 93.5h.6M463.5 129.6h.6M471.4 127.4h.6M455.1 98.1h.6M459.5 128.6h.6M458.2 112.9h.6M461.8 139.3h.6M459.4 130.0h.6M494.2 96.8h.6M462.7 113.8h.6M468.0 119.4h.6M490.5 112.1h.6M473.4 115.0h.6M461.5 140.6h.6M472.7 139.0h.6M481.6 91.5h.6M448.9 90.0h.6M487.4 76.7h.6M446.7 96.8h.6M465.2 106.9h.6M476.3 133.0h.6M473.7 140.8h.6M464.6 143.8h.6M491.3 122.7h.6M452.7 122.3h.6M482.5 124.3h.6M446.9 128.0h.6M471.4 109.4h.6M486.5 91.8h.6M450.7 119.3h.6M478.1 73.0h.6M477.1 128.3h.6M454.5 122.8h.6M458.0 122.3h.6M454.5 139.9h.6M493.2 108.3h.6M488.7 90.7h.6M468.4 131.4h.6M499.4 124.5h.6M491.0 93.3h.6M483.6 85.8h.6M492.6 91.9h.6M469.0 122.8h.6M458.1 112.1h.6M464.2 98.6h.6M447.5 94.2h.6M482.9 136.1h.6M459.9 74.3h.6M459.4 91.5h.6M471.9 70.5h.6M494.9 132.6h.6M484.9 131.4h.6M481.0 72.3h.6M446.0 111.0h.6M486.4 121.5h.6M462.8 84.1h.6M496.6 113.1h.6M470.1 140.1h.6M462.1 138.8h.6M477.8 123.6h.6M473.4 98.8h.6M481.0 85.0h.6M475.7 101.6h.6M462.0 117.4h.6M493.9 136.7h.6M445.0 109.1h.6M473.9 142.6h.6M464.3 97.5h.6M460.4 145.0h.6M467.3 109.4h.6M473.6 103.4h.6M480.2 136.2h.6M477.7 131.3h.6M455.6 135.2h.6M479.4 94.4h.6M463.8 123.6h.6M490.9 141.2h.6M497.2 104.5h.6M473.0 78.9h.6M476.6 68.0h.6M456.8 138.6h.6M493.3 106.2h.6M478.7 78.3h.6M490.2 117.8h.6M443.9 101.5h.6M447.2 127.5h.6M471.5 126.6h.6M493.3 130.1h.6M479.2 107.8h.6M452.0 135.9h.6M484.2 101.5h.6M467.2 73.9h.6M484.7 122.9h.6M495.7 103.2h.6M473.8 70.7h.6M451.9 99.6h.6M469.2 136.4h.6M492.0 131.8h.6M463.7 100.7h.6M477.9 103.6h.6M481.2 139.8h.6M454.5 81.4h.6M444.3 108.4h.6M485.4 118.4h.6M483.6 86.9h.6M487.6 82.8h.6M456.5 126.2h.6M481.2 115.7h.6M469.8 113.6h.6M453.0 134.3h.6M470.6 134.9h.6M485.5 137.7h.6M479.5 76.3h.6M482.5 69.8h.6M473.1 85.4h.6M459.7 101.1h.6M474.9 104.8h.6M465.1 98.2h.6M497.3 124.6h.6M486.1 136.4h.6M472.5 109.7h.6M481.8 121.0h.6M480.1 114.4h.6M458.9 111.7h.6M453.9 84.6h.6M463.2 101.1h.6M444.0 103.3h.6M452.9 94.9h.6M465.3 101.2h.6M451.2 120.4h.6M487.6 128.8h.6M459.9 73.4h.6M471.0 83.3h.6M478.3 93.3h.6M467.0 131.4h.6M475.1 74.1h.6M459.7 137.9h.6M485.2 141.2h.6M494.5 122.9h.6M492.8 115.2h.6M452.8 86.2h.6M474.7 113.5h.6M493.7 96.1h.6M471.9 147.5h.6M455.2 124.0h.6M480.2 87.9h.6M492.1 136.4h.6M455.9 106.3h.6M456.4 128.2h.6M466.0 96.5h.6M469.6 103.2h.6M453.2 129.2h.6M481.9 122.8h.6M484.9 116.3h.6M479.1 118.5h.6M461.6 89.4h.6M489.6 92.4h.6M477.1 75.0h.6M476.0 75.2h.6M454.5 140.6h.6M466.4 136.0h.6M476.3 137.7h.6M479.6 94.5h.6M487.7 110.5h.6M472.0 70.7h.6M469.0 96.8h.6M487.5 83.3h.6M475.8 99.9h.6M456.4 122.4h.6M479.2 137.2h.6M490.4 131.7h.6M469.9 112.0h.6M482.4 121.8h.6M449.8 123.8h.6M453.3 135.0h.6M472.9 98.8h.6M491.5 120.3h.6M460.9 103.8h.6M485.2 141.1h.6M478.8 129.0h.6M460.8 87.1h.6M476.0 83.6h.6M495.0 111.2h.6M471.7 146.7h.6M451.3 90.5h.6M448.6 112.4h.6M471.2 105.0h.6M464.1 135.7h.6M498.7 113.5h.6M489.8 114.7h.6M464.3 122.5h.6M483.2 99.5h.6M452.3 109.0h.6M447.7 110.3h.6M484.9 128.0h.6M488.5 91.0h.6M498.6 110.9h.6M483.7 82.2h.6M462.6 101.3h.6M472.1 111.1h.6M480.2 144.5h.6M490.3 92.4h.6M449.8 85.5h.6M483.2 83.6h.6M463.7 92.9h.6M462.6 103.8h.6M454.6 122.2h.6M454.5 105.0h.6M463.1 115.0h.6M489.6 114.4h.6M451.4 119.3h.6M490.4 103.6h.6M481.3 83.4h.6M474.3 115.3h.6M497.6 108.7h.6M480.0 117.7h.6M491.8 132.7h.6M496.9 100.8h.6M483.5 86.1h.6M472.9 90.2h.6M475.1 104.9h.6M459.0 83.1h.6M464.1 133.6h.6M460.6 137.7h.6M454.0 98.7h.6M473.2 137.6h.6M451.8 94.1h.6M486.1 101.3h.6M454.7 118.5h.6M462.9 86.9h.6M466.8 97.1h.6M461.6 112.2h.6M482.2 108.2h.6M477.4 123.3h.6M482.2 136.3h.6M466.4 81.9h.6M474.7 106.2h.6M480.6 142.4h.6M465.7 121.3h.6M460.2 141.9h.6M493.0 113.5h.6M472.9 100.1h.6M485.1 80.6h.6M481.5 115.9h.6M472.8 100.0h.6M442.0 97.2h.6M467.6 97.0h.6M469.7 98.6h.6M474.3 134.5h.6M471.6 125.4h.6M457.8 72.2h.6M478.4 103.9h.6M473.5 79.3h.6M489.7 87.3h.6M495.8 106.4h.6M462.6 121.3h.6M451.8 117.3h.6M479.1 132.7h.6M472.4 141.0h.6M486.0 102.7h.6M452.5 136.8h.6M460.9 141.7h.6M474.5 75.5h.6M451.2 116.8h.6M464.4 88.7h.6M461.3 92.6h.6M467.6 130.8h.6M496.9 123.1h.6M498.9 102.0h.6M476.3 103.9h.6M451.9 99.9h.6M487.3 137.6h.6M468.2 135.3h.6M468.5 92.5h.6M462.4 139.4h.6M482.3 89.4h.6M483.0 82.4h.6M470.8 110.1h.6M468.4 124.5h.6M488.0 139.8h.6M487.0 121.7h.6M483.5 98.6h.6M484.6 112.9h.6M475.3 127.3h.6M463.3 117.9h.6M479.3 108.7h.6M447.6 123.4h.6M480.6 90.8h.6M457.9 138.1h.6M478.6 94.9h.6M493.3 136.3h.6M475.2 72.8h.6M470.6 95.4h.6M455.7 140.8h.6M451.6 125.2h.6M489.1 127.6h.6M465.5 125.7h.6M445.4 96.7h.6M465.3 100.7h.6M483.7 89.2h.6M478.0 129.5h.6M481.8 104.1h.6M459.6 82.6h.6M487.6 99.7h.6M479.1 84.8h.6M471.1 112.5h.6M454.8 102.1h.6M496.4 111.0h.6M464.4 98.6h.6M478.0 80.3h.6M480.1 70.8h.6M475.2 104.3h.6M482.0 109.9h.6M444.4 109.7h.6M447.8 137.0h.6M480.6 69.7h.6M472.1 95.3h.6M480.7 127.3h.6M471.7 124.4h.6M450.3 126.5h.6M474.8 109.1h.6M461.1 128.3h.6M480.7 115.1h.6M457.0 88.7h.6M468.3 143.8h.6M446.2 133.1h.6M460.1 86.7h.6M486.8 86.0h.6M480.0 138.3h.6M471.2 136.1h.6M458.4 90.3h.6M468.0 131.3h.6M489.8 86.7h.6M456.4 118.1h.6M459.5 84.1h.6M475.3 90.1h.6M461.4 113.1h.6M482.3 131.9h.6M495.5 101.5h.6M454.1 122.2h.6M456.8 141.1h.6M485.8 90.4h.6M468.1 112.9h.6M473.8 142.6h.6M489.7 91.0h.6M469.8 124.9h.6M445.5 108.7h.6M452.2 82.2h.6M464.4 128.5h.6M494.7 117.2h.6M455.2 138.3h.6M496.8 122.9h.6M471.1 87.9h.6M491.4 93.3h.6M484.4 85.3h.6M486.1 125.6h.6M477.6 125.7h.6M460.9 108.7h.6M484.1 79.2h.6M473.6 122.3h.6M465.2 79.7h.6M471.3 73.1h.6M472.9 112.1h.6M461.4 129.7h.6M453.0 134.5h.6M461.3 79.9h.6M452.7 140.8h.6M455.9 123.6h.6M449.7 121.8h.6M493.9 117.6h.6M456.3 112.1h.6M445.6 107.9h.6M465.5 135.2h.6M471.4 133.3h.6M446.1 105.1h.6M470.8 97.4h.6M496.7 124.1h.6M478.1 121.5h.6M466.2 83.1h.6M448.9 91.2h.6M444.5 109.5h.6M492.2 116.0h.6M472.8 137.3h.6M476.6 113.8h.6M482.1 133.4h.6M480.1 126.4h.6M448.6 87.6h.6M451.1 134.8h.6M482.2 91.1h.6M476.2 126.7h.6M463.6 121.9h.6M461.0 81.5h.6M457.4 102.2h.6M459.5 111.0h.6M480.8 142.9h.6M489.2 128.5h.6M477.7 111.4h.6M467.1 105.7h.6M479.1 123.8h.6M498.0 130.1h.6M448.5 113.1h.6M483.0 138.6h.6M455.4 125.8h.6M466.3 94.0h.6M491.3 89.4h.6M473.9 102.4h.6M463.2 97.5h.6M470.3 143.4h.6M454.2 89.4h.6M471.3 87.8h.6M460.2 142.2h.6M486.7 136.2h.6M470.1 85.0h.6M452.8 99.0h.6M477.7 130.4h.6M462.5 106.3h.6M481.8 139.5h.6M454.2 99.1h.6M448.6 137.4h.6M449.2 90.7h.6M473.5 107.8h.6M462.1 79.0h.6M469.9 87.6h.6M465.4 79.7h.6M471.0 85.9h.6M464.5 89.6h.6M458.3 92.6h.6M458.1 98.4h.6M468.8 96.0h.6M484.7 129.9h.6M490.9 115.3h.6M454.9 103.4h.6M478.3 120.7h.6M479.7 83.2h.6M468.0 108.8h.6M449.6 108.9h.6M492.8 111.5h.6M462.6 98.7h.6M479.2 105.5h.6M480.3 92.0h.6M486.5 97.0h.6M450.4 121.9h.6M462.7 104.8h.6M485.9 116.3h.6M454.8 93.8h.6M480.0 73.9h.6M470.5 119.2h.6M483.1 100.5h.6M480.6 138.2h.6M444.5 107.4h.6M456.2 133.8h.6M456.9 107.8h.6M472.0 126.2h.6M464.7 88.2h.6M477.6 70.0h.6M452.0 137.8h.6M489.5 85.5h.6M491.6 114.8h.6M483.1 126.5h.6M473.5 124.6h.6M485.2 99.0h.6M471.7 124.3h.6M488.3 139.7h.6M459.2 138.1h.6M478.0 83.8h.6M468.5 117.3h.6M460.0 94.8h.6M445.0 117.6h.6M485.4 121.8h.6M457.9 103.2h.6M479.2 134.1h.6M475.8 93.7h.6M496.5 107.3h.6M459.6 142.0h.6M449.9 138.8h.6M456.4 140.6h.6M488.3 92.0h.6M466.0 124.7h.6M495.8 126.3h.6M496.4 103.0h.6M496.0 105.3h.6M472.8 94.0h.6M481.0 133.6h.6M481.2 95.9h.6M478.8 73.7h.6M468.9 112.1h.6M491.7 94.4h.6M486.4 124.8h.6M460.3 80.2h.6M466.7 119.6h.6M462.5 117.1h.6M479.4 113.6h.6M460.1 104.9h.6M460.2 88.3h.6M487.9 129.1h.6M472.2 93.0h.6M468.5 83.4h.6M465.1 92.7h.6M446.6 106.9h.6M452.2 129.7h.6M484.7 89.4h.6M466.1 108.1h.6M476.0 101.8h.6M482.8 73.5h.6M458.4 85.7h.6M448.3 113.7h.6M490.9 96.5h.6M486.8 98.9h.6M486.1 117.6h.6M471.6 88.8h.6M482.4 130.6h.6M484.5 97.1h.6M458.7 110.4h.6M482.8 95.4h.6M464.6 102.9h.6M496.5 108.6h.6M488.4 109.9h.6M455.9 79.2h.6M446.2 128.6h.6M466.6 127.7h.6M464.6 143.8h.6M454.1 124.6h.6M476.5 140.1h.6M459.6 139.6h.6M488.7 84.1h.6M474.4 94.8h.6M483.2 101.8h.6M487.9 102.4h.6M483.6 122.8h.6M459.8 83.8h.6M460.4 93.9h.6M445.7 107.7h.6M473.3 137.7h.6M470.3 116.1h.6M483.1 108.0h.6M481.8 112.7h.6M463.1 131.7h.6M486.4 81.9h.6M458.0 138.8h.6M476.1 98.8h.6M481.8 70.2h.6M490.7 90.2h.6M468.3 97.3h.6M483.2 87.0h.6M461.0 140.0h.6M491.5 115.0h.6M482.2 139.0h.6M486.5 115.4h.6M493.8 100.3h.6M451.6 86.0h.6M449.2 118.6h.6M461.9 101.0h.6M485.6 132.4h.6M479.9 131.6h.6M446.5 130.1h.6M452.0 95.4h.6M463.9 101.3h.6M454.0 123.5h.6M449.8 84.1h.6M482.3 129.0h.6M480.0 133.4h.6M452.9 110.6h.6M493.4 132.0h.6M459.6 129.7h.6M451.2 117.7h.6M487.8 143.7h.6M449.5 112.2h.6M479.3 101.7h.6M497.0 108.8h.6M452.6 125.3h.6M479.0 128.4h.6M479.1 97.5h.6M482.0 117.5h.6M475.7 103.2h.6M486.7 85.7h.6M483.5 112.7h.6M487.7 120.3h.6M484.0 110.0h.6M468.3 113.0h.6M477.3 141.7h.6M472.3 123.1h.6M450.4 110.2h.6M471.3 80.6h.6M479.8 112.7h.6M464.8 78.0h.6M446.8 105.8h.6M474.4 107.7h.6M473.9 74.7h.6M445.1 101.1h.6M475.6 106.7h.6M490.7 84.8h.6M444.3 109.5h.6M464.4 121.4h.6M469.3 119.9h.6M461.1 135.2h.6M476.7 78.3h.6M482.0 111.7h.6M460.2 134.3h.6M482.1 98.9h.6M472.3 108.6h.6M466.0 117.0h.6M463.7 126.5h.6M489.9 95.7h.6M488.2 130.8h.6M460.8 88.8h.6M486.4 86.7h.6M450.0 122.4h.6M474.7 84.3h.6M480.1 84.8h.6M471.9 143.4h.6M462.0 143.7h.6M462.1 78.2h.6M474.4 116.9h.6M452.7 99.0h.6M487.1 118.5h.6M444.3 97.3h.6M474.3 74.1h.6M472.1 97.1h.6M451.0 131.9h.6M462.0 112.9h.6M475.4 106.9h.6M490.8 100.1h.6M485.2 90.1h.6M452.0 101.0h.6M448.3 132.9h.6M497.2 102.1h.6M444.2 113.0h.6M480.0 118.0h.6M476.0 101.6h.6M487.6 100.8h.6M465.1 120.5h.6M471.9 118.7h.6M463.7 143.4h.6M473.0 127.2h.6M478.3 107.6h.6M461.3 83.3h.6M475.5 141.3h.6M490.4 136.4h.6M453.4 86.4h.6M462.7 94.3h.6M467.9 99.5h.6M467.0 142.1h.6M467.4 107.7h.6M468.2 78.0h.6M468.2 90.6h.6M454.7 81.8h.6M491.0 95.4h.6M454.9 140.6h.6M478.6 74.3h.6M462.8 87.5h.6M490.5 121.1h.6M490.6 105.6h.6M488.2 115.5h.6M457.3 88.5h.6M497.4 119.6h.6M462.6 105.9h.6M462.1 110.0h.6M464.9 99.8h.6M454.9 127.2h.6M486.5 119.6h.6M498.3 118.1h.6M448.1 91.7h.6M489.0 87.1h.6M449.6 113.7h.6M489.6 140.7h.6M475.4 101.3h.6M472.4 69.9h.6M445.4 96.6h.6M488.4 86.3h.6M491.4 114.2h.6M460.1 141.6h.6M482.4 142.3h.6M454.1 118.2h.6M478.0 88.0h.6M451.4 118.0h.6M475.6 71.5h.6M474.9 130.0h.6M469.8 110.0h.6M476.5 95.6h.6M446.7 110.7h.6M449.5 111.8h.6M462.0 80.1h.6M455.2 108.1h.6M479.6 131.8h.6M471.9 107.5h.6M457.4 139.5h.6M497.7 112.9h.6M488.2 96.9h.6M462.4 81.7h.6M474.4 69.6h.6M443.7 103.5h.6M446.0 104.8h.6M458.9 109.2h.6M482.9 87.7h.6M451.6 128.8h.6M490.0 94.4h.6M488.1 79.6h.6M474.4 119.9h.6M452.2 116.7h.6M481.3 86.8h.6M482.8 128.8h.6M492.5 118.3h.6M478.6 69.4h.6M476.3 93.4h.6M448.3 107.8h.6M472.8 96.9h.6M470.7 132.1h.6M471.7 139.4h.6M468.1 134.2h.6M452.7 109.9h.6M461.8 142.0h.6M496.8 107.1h.6M450.6 136.0h.6M483.2 131.1h.6M451.1 106.5h.6M478.8 117.7h.6M455.5 97.7h.6M476.1 105.8h.6M461.9 85.9h.6M468.3 91.8h.6M471.5 99.2h.6M464.4 144.5h.6M465.2 99.4h.6M464.7 142.4h.6M493.4 105.4h.6M447.6 120.3h.6M497.3 111.0h.6M457.8 132.9h.6M462.5 120.4h.6M493.6 115.5h.6M481.3 69.6h.6M462.0 101.0h.6M454.6 125.0h.6M489.2 88.0h.6M483.2 84.5h.6M495.9 104.2h.6M457.3 106.0h.6M453.0 138.0h.6M456.2 119.2h.6M480.6 83.2h.6M451.5 135.9h.6M448.3 108.3h.6M458.4 124.1h.6M474.3 85.4h.6M460.4 98.2h.6M468.0 126.0h.6M471.8 88.5h.6M457.5 139.2h.6M491.5 107.6h.6M463.5 123.9h.6M480.9 112.9h.6M457.3 131.2h.6M446.2 114.6h.6M495.9 111.1h.6M450.4 84.4h.6M484.8 91.2h.6M481.9 138.7h.6M470.1 80.2h.6M492.6 111.6h.6M451.4 81.6h.6M483.4 114.8h.6M474.7 70.5h.6M485.7 125.5h.6M458.0 139.6h.6M479.8 89.7h.6M459.5 137.1h.6M454.3 121.3h.6M455.5 114.0h.6M468.8 116.8h.6M478.1 72.8h.6M453.5 110.9h.6M470.7 141.4h.6M455.4 124.1h.6M461.1 105.6h.6M464.7 112.8h.6M462.7 76.2h.6M443.7 104.1h.6M467.3 83.1h.6M477.8 91.9h.6M461.4 115.7h.6M463.0 132.2h.6M450.6 105.6h.6M454.4 135.6h.6M491.0 112.2h.6M474.8 122.5h.6M481.9 140.1h.6M474.0 142.2h.6M485.4 133.0h.6M472.2 114.1h.6M467.7 83.4h.6M487.3 87.3h.6M455.9 139.9h.6M492.5 134.5h.6M486.8 141.8h.6M492.2 103.7h.6M477.5 66.6h.6M448.8 133.9h.6M449.9 112.9h.6M461.6 136.0h.6M444.1 105.6h.6M489.4 95.1h.6M469.2 145.1h.6M451.7 113.5h.6M472.0 108.0h.6M478.6 103.0h.6M453.5 122.3h.6M480.7 97.2h.6M484.0 140.6h.6M483.8 74.3h.6M462.0 119.2h.6M458.9 106.8h.6M458.9 85.1h.6M479.7 140.7h.6M480.6 114.9h.6M468.2 88.4h.6M485.6 146.1h.6M473.2 118.7h.6M460.0 133.9h.6M470.4 72.2h.6M497.5 129.2h.6M490.1 93.2h.6M493.1 118.7h.6M476.4 135.2h.6M477.2 80.7h.6M463.7 115.9h.6M493.7 135.1h.6M467.9 134.0h.6M462.0 84.9h.6M461.1 82.2h.6M473.7 105.5h.6M454.9 137.8h.6M458.0 89.7h.6M470.0 107.2h.6M475.9 135.9h.6M450.1 125.8h.6M467.8 76.4h.6M490.6 125.1h.6M447.5 113.5h.6M469.0 137.3h.6M472.1 96.0h.6M460.0 140.9h.6M472.2 120.3h.6M457.8 74.6h.6M463.5 118.9h.6M478.4 75.9h.6M461.4 97.0h.6M481.8 84.0h.6M479.3 105.4h.6M483.2 81.1h.6M456.6 141.7h.6M455.7 142.1h.6M473.1 118.1h.6M497.1 120.1h.6M455.0 122.0h.6M493.5 104.1h.6M453.8 111.6h.6M479.3 145.4h.6M485.4 91.9h.6M456.2 87.2h.6M495.7 110.5h.6M449.7 89.9h.6M450.6 125.6h.6M452.0 121.6h.6M471.3 72.4h.6M453.3 85.1h.6M462.2 100.2h.6M461.6 130.2h.6M452.4 119.5h.6M483.2 82.7h.6M473.8 75.2h.6M491.8 114.5h.6M480.3 98.2h.6M485.7 105.4h.6M467.4 138.4h.6M479.2 88.2h.6M449.8 86.1h.6M472.2 78.4h.6M479.2 134.5h.6M466.5 96.9h.6M496.7 112.3h.6M474.8 84.6h.6M447.7 88.3h.6M471.9 142.2h.6M448.9 133.2h.6M480.4 88.6h.6M446.7 97.3h.6M452.0 90.0h.6M448.3 136.9h.6M464.8 78.5h.6M476.7 125.2h.6M458.5 119.1h.6M492.1 121.9h.6M465.6 84.7h.6M454.9 144.0h.6M458.3 142.5h.6M485.7 79.3h.6M482.8 87.1h.6M465.2 126.1h.6M498.1 110.8h.6M460.5 134.8h.6M488.9 128.8h.6M480.0 68.8h.6M490.3 106.1h.6M458.7 127.9h.6M452.4 121.1h.6M465.6 84.1h.6M480.5 93.4h.6M444.2 104.3h.6M476.4 132.1h.6M481.5 128.8h.6M475.1 106.6h.6M477.8 80.4h.6M475.6 108.2h.6M484.2 96.3h.6M477.5 68.2h.6M476.5 115.6h.6M483.6 89.2h.6M480.8 89.8h.6M473.2 70.0h.6M490.5 93.7h.6M479.8 135.3h.6M459.3 74.6h.6M490.6 104.5h.6M445.6 94.5h.6M464.3 98.1h.6M455.8 120.4h.6M496.8 109.0h.6M448.4 137.0h.6M475.8 69.0h.6M474.5 99.3h.6M471.0 133.8h.6M463.0 74.9h.6M494.4 108.1h.6M470.8 123.2h.6M457.8 88.8h.6M450.3 112.6h.6M485.4 92.7h.6M465.4 72.2h.6M467.4 80.7h.6M465.7 143.9h.6M458.9 88.2h.6M461.8 71.9h.6M465.4 123.4h.6M496.2 116.9h.6M466.9 105.8h.6M484.4 128.3h.6M463.0 93.2h.6M462.8 80.1h.6M468.1 113.1h.6M465.8 91.8h.6M470.3 109.2h.6M479.7 71.1h.6M444.3 119.2h.6M471.9 143.8h.6M498.2 127.7h.6M456.9 114.3h.6M481.7 137.9h.6M449.4 89.0h.6M468.0 133.0h.6M484.8 123.8h.6M473.5 90.9h.6M448.3 111.7h.6M450.0 115.5h.6M482.7 129.3h.6M481.1 135.4h.6M471.8 145.5h.6M465.4 133.7h.6M467.0 79.6h.6M448.2 123.5h.6M484.1 96.1h.6M480.7 80.1h.6M458.7 131.2h.6M476.8 137.6h.6M452.4 83.5h.6M487.0 141.9h.6M461.1 101.6h.6M457.8 99.4h.6M482.3 131.6h.6M463.7 91.2h.6M472.3 111.9h.6M474.2 131.5h.6M486.4 78.8h.6M483.2 131.6h.6M467.6 85.4h.6M462.4 133.6h.6M463.9 97.2h.6M490.4 93.7h.6M462.8 126.8h.6M483.1 126.5h.6M488.4 123.9h.6M472.9 117.7h.6M472.4 110.9h.6M459.7 86.3h.6M479.6 93.1h.6M474.6 99.4h.6M473.3 139.0h.6M464.6 91.3h.6M454.6 98.6h.6M474.0 98.2h.6M454.1 121.1h.6M481.8 78.3h.6M482.0 115.2h.6M483.1 83.1h.6M456.1 89.2h.6M464.8 93.1h.6M454.6 82.0h.6M476.5 84.6h.6M448.8 86.1h.6M463.6 123.0h.6M446.1 108.8h.6M453.0 123.5h.6M478.4 130.2h.6M476.6 127.6h.6M483.2 87.5h.6M470.6 95.9h.6M448.7 120.8h.6M493.6 115.9h.6M457.9 138.4h.6M477.0 77.2h.6M452.8 130.2h.6M487.2 91.9h.6M466.9 134.3h.6M464.7 90.0h.6M484.8 102.5h.6M461.9 130.0h.6M470.8 108.7h.6M476.0 108.4h.6M451.1 84.8h.6M444.0 106.0h.6M461.1 79.2h.6M450.9 88.8h.6M452.2 117.7h.6M492.3 116.3h.6M466.2 123.3h.6M472.6 114.3h.6M479.6 131.7h.6M471.9 83.3h.6M473.8 84.4h.6M451.5 126.4h.6M456.7 119.2h.6M478.1 100.0h.6M479.2 104.3h.6M474.4 105.7h.6M479.7 143.5h.6M496.1 108.7h.6M454.3 98.1h.6M466.9 144.7h.6M453.9 120.4h.6M487.5 93.5h.6M497.3 122.3h.6M496.1 125.4h.6M471.8 137.9h.6M495.7 112.8h.6M486.2 91.6h.6M481.8 83.4h.6M455.1 126.5h.6M448.4 90.3h.6M459.5 116.8h.6M463.9 118.7h.6M472.8 134.0h.6M484.5 94.0h.6M451.6 123.2h.6M446.9 101.4h.6M470.3 109.7h.6M471.9 70.3h.6M462.1 118.0h.6M452.9 110.4h.6M457.3 127.1h.6M473.1 104.9h.6M485.4 98.4h.6M486.4 90.6h.6M488.1 127.5h.6M492.9 108.4h.6M449.7 116.5h.6M491.6 107.8h.6M461.2 115.1h.6M456.8 93.6h.6M480.3 72.7h.6M480.5 140.1h.6M461.8 98.1h.6M480.4 129.3h.6M499.4 112.6h.6M472.9 83.8h.6M476.6 77.0h.6M457.0 89.2h.6M460.0 140.8h.6M479.2 72.7h.6M472.3 120.0h.6M455.4 131.5h.6M485.9 91.7h.6M471.8 87.1h.6M486.5 91.2h.6M475.3 105.8h.6M493.6 123.0h.6M446.3 112.0h.6M485.3 109.8h.6M479.8 91.8h.6M458.2 116.7h.6M466.1 135.9h.6M487.0 101.9h.6M476.8 129.6h.6M465.2 79.5h.6M457.2 124.9h.6M483.7 112.6h.6M485.4 106.8h.6M448.0 91.9h.6M495.1 123.8h.6M461.4 129.1h.6M467.0 116.5h.6M467.6 137.1h.6M493.8 103.0h.6M487.7 130.0h.6M479.1 118.8h.6M482.0 99.1h.6M484.3 117.5h.6M496.3 103.7h.6M459.7 142.1h.6M491.8 128.5h.6M489.8 89.0h.6M461.3 141.8h.6M455.7 128.0h.6M451.1 95.9h.6M460.0 131.6h.6M475.3 70.5h.6M475.9 72.2h.6M479.8 119.1h.6M474.0 99.9h.6M466.5 78.0h.6M477.3 92.4h.6M460.2 118.0h.6M451.2 139.0h.6M476.6 75.0h.6M451.6 106.3h.6M484.8 96.6h.6M488.2 139.4h.6M457.3 137.8h.6M487.0 115.8h.6M486.9 95.3h.6M490.9 97.1h.6M481.7 93.1h.6M460.5 134.9h.6M485.0 115.2h.6M465.9 131.3h.6M472.3 107.2h.6M471.4 139.5h.6M465.1 96.3h.6M492.4 103.5h.6M495.1 124.0h.6M459.4 72.5h.6M479.2 121.4h.6M482.8 118.2h.6M469.3 145.7h.6M491.8 96.2h.6M473.5 110.8h.6M446.0 98.1h.6M479.4 86.9h.6M469.9 146.4h.6M472.1 123.5h.6M459.1 82.5h.6M493.4 115.8h.6M484.2 125.8h.6M488.9 90.6h.6M467.5 79.4h.6M488.9 127.9h.6M486.6 123.2h.6M473.3 103.6h.6M479.0 136.5h.6M459.8 87.8h.6M445.9 103.4h.6M496.7 114.7h.6M474.7 105.3h.6M470.8 105.8h.6M459.8 75.8h.6M483.6 140.4h.6M478.5 129.5h.6M495.7 94.6h.6M476.7 71.8h.6M461.6 89.6h.6M460.0 124.5h.6M495.4 95.2h.6M468.0 119.7h.6M474.5 139.8h.6M466.5 113.4h.6M448.7 93.0h.6M458.7 75.8h.6M463.1 106.3h.6M448.3 135.9h.6M448.9 133.4h.6M473.2 77.0h.6M473.0 85.7h.6M471.4 81.3h.6M463.3 74.2h.6M493.2 95.1h.6M477.8 87.8h.6M495.4 107.8h.6M487.6 120.8h.6M477.8 119.0h.6M443.6 110.8h.6M447.0 102.7h.6M448.2 105.7h.6M478.0 105.8h.6M464.8 109.0h.6M493.1 106.6h.6M472.0 122.7h.6M449.5 91.0h.6M468.2 128.8h.6M471.8 124.9h.6M453.8 138.0h.6M469.3 80.4h.6M480.4 85.5h.6M448.1 98.6h.6M474.1 115.6h.6M469.1 92.8h.6M479.4 88.2h.6M489.1 91.7h.6M459.5 131.7h.6M470.9 111.5h.6M466.0 124.9h.6M473.9 85.7h.6M464.8 92.4h.6M494.5 100.4h.6M485.4 107.1h.6M459.6 81.7h.6M478.8 130.2h.6M483.3 84.4h.6M459.4 130.8h.6M468.4 78.9h.6M476.6 93.5h.6M496.6 103.6h.6M464.0 143.1h.6M450.1 120.6h.6M468.2 124.9h.6M479.9 124.7h.6M489.0 96.1h.6M484.4 94.9h.6M474.9 118.5h.6M483.5 136.6h.6M484.8 89.4h.6M460.8 118.1h.6M487.5 143.6h.6M480.4 111.5h.6M472.3 140.3h.6M446.4 110.0h.6M447.1 93.6h.6M497.2 105.8h.6M444.3 110.1h.6M479.5 90.0h.6M485.8 90.5h.6M485.1 100.6h.6M458.9 86.9h.6M469.8 82.6h.6M475.9 125.2h.6M475.7 111.3h.6M461.5 103.7h.6M488.3 84.7h.6M468.8 83.1h.6M486.2 112.9h.6M475.3 135.7h.6M467.8 107.6h.6M453.7 90.7h.6M473.9 116.6h.6M461.6 116.0h.6M461.6 115.5h.6M462.1 104.8h.6M486.6 124.7h.6M467.4 109.5h.6M488.3 140.7h.6M489.4 87.8h.6M473.6 139.2h.6M460.1 112.9h.6M456.8 126.1h.6M460.6 128.4h.6M457.6 99.7h.6M491.6 98.0h.6M476.6 134.9h.6M489.2 85.6h.6M497.3 110.6h.6M481.5 142.6h.6M467.1 144.7h.6M470.5 130.7h.6M443.5 101.3h.6M488.2 100.3h.6M464.0 126.0h.6M446.4 125.2h.6M454.7 94.1h.6M479.0 86.4h.6M471.5 109.7h.6M489.7 107.6h.6M454.1 101.0h.6M464.6 93.4h.6M455.3 90.5h.6M462.7 122.0h.6M480.8 86.8h.6M455.4 127.6h.6M457.3 141.0h.6M495.3 131.2h.6M461.9 73.4h.6M455.9 90.5h.6M463.8 78.2h.6M483.9 138.1h.6M468.1 92.0h.6M488.8 90.4h.6M478.8 113.5h.6M477.5 84.8h.6M500.1 120.0h.6M468.4 86.0h.6M448.8 136.1h.6M468.4 78.5h.6M479.7 96.1h.6M469.2 108.1h.6M490.3 122.3h.6M464.8 80.8h.6M485.4 108.2h.6M463.7 118.9h.6M458.7 82.4h.6M467.0 75.8h.6M453.1 121.8h.6M485.5 132.5h.6M461.9 139.3h.6M473.0 74.6h.6M497.3 125.4h.6M496.8 93.5h.6M474.6 128.1h.6M484.7 101.0h.6M471.1 71.6h.6M448.4 123.2h.6M478.7 70.7h.6M449.7 109.0h.6M451.6 110.3h.6M477.5 76.3h.6M492.9 96.6h.6M497.8 125.7h.6M457.4 99.2h.6M444.0 105.7h.6M489.3 111.7h.6M487.9 95.1h.6M460.9 136.6h.6M493.2 120.1h.6M447.1 106.5h.6M479.2 87.2h.6M488.0 107.3h.6M462.2 105.4h.6M485.8 142.5h.6M462.4 81.2h.6M480.0 84.6h.6M489.6 106.2h.6M443.4 107.9h.6M458.6 90.7h.6M449.9 85.8h.6M449.5 112.3h.6M473.8 76.1h.6M487.8 86.8h.6M481.4 97.6h.6M476.6 76.1h.6M456.2 100.2h.6M484.5 132.1h.6M468.7 84.6h.6M450.6 107.3h.6M474.1 136.9h.6M488.2 114.1h.6M470.3 122.7h.6M481.5 113.2h.6M495.7 103.6h.6M471.2 79.7h.6M463.9 78.4h.6M460.3 141.2h.6M475.7 131.8h.6M449.0 86.9h.6M446.2 114.5h.6M478.3 101.4h.6M459.8 116.0h.6M463.5 76.0h.6M467.5 100.2h.6M448.0 97.4h.6M446.2 97.9h.6M453.4 97.9h.6M485.3 143.9h.6M459.1 130.9h.6M466.9 78.8h.6M485.7 80.4h.6M476.5 104.5h.6M473.1 94.4h.6M487.2 116.7h.6M471.8 141.0h.6M471.2 117.7h.6M473.7 124.7h.6M492.0 119.0h.6M485.3 94.1h.6M462.2 100.4h.6M453.1 140.1h.6M483.5 142.3h.6M477.6 136.4h.6M448.5 90.6h.6M479.7 117.3h.6M490.3 128.3h.6M452.0 132.1h.6M493.3 93.9h.6M456.0 122.1h.6M468.1 128.9h.6M485.9 141.1h.6M450.0 85.1h.6M466.6 115.7h.6M475.7 117.7h.6M493.0 113.0h.6M489.2 135.5h.6M461.0 75.0h.6M465.7 106.9h.6M488.3 99.9h.6M475.1 125.1h.6M479.5 143.5h.6M477.1 68.3h.6M475.2 123.8h.6M470.6 132.5h.6M466.9 124.5h.6M469.3 108.9h.6M462.5 99.2h.6M495.1 110.0h.6M474.2 96.6h.6M460.8 94.1h.6M468.0 137.4h.6M492.7 111.3h.6M471.9 83.4h.6M447.8 124.5h.6M453.0 113.8h.6M457.8 140.6h.6M464.7 98.6h.6M496.2 97.0h.6M463.3 77.2h.6M459.4 114.1h.6M476.6 127.3h.6M455.1 120.7h.6M481.9 88.1h.6M465.6 105.8h.6M450.7 90.9h.6M474.3 139.2h.6M475.7 67.7h.6M446.0 132.5h.6M497.5 103.8h.6M460.8 93.6h.6M465.9 131.7h.6M452.5 123.0h.6M492.1 112.0h.6M491.2 88.7h.6M481.3 130.0h.6M477.7 101.2h.6M478.1 103.6h.6M488.6 127.9h.6M455.3 98.0h.6M461.5 87.1h.6M448.2 125.6h.6M466.8 92.5h.6M469.3 146.6h.6M460.9 102.6h.6M455.8 138.5h.6M466.7 111.1h.6M468.5 97.8h.6M467.5 105.3h.6M461.2 114.7h.6M470.4 92.5h.6M460.7 111.0h.6M489.3 130.5h.6M456.5 83.5h.6M459.9 116.5h.6M464.8 100.1h.6M445.4 112.0h.6M484.3 89.2h.6M461.7 110.9h.6M486.1 130.5h.6M448.9 90.8h.6M490.7 95.9h.6M489.9 112.5h.6M452.4 138.2h.6M487.8 144.3h.6M475.6 115.7h.6M459.1 73.3h.6M470.3 111.0h.6M464.0 102.1h.6M473.2 128.5h.6M481.3 77.0h.6M463.6 78.1h.6M486.3 111.2h.6M465.4 134.2h.6M474.3 98.6h.6M462.8 131.5h.6M461.2 131.8h.6M476.0 83.9h.6M469.5 78.7h.6M462.7 116.3h.6M467.5 90.0h.6M462.7 100.7h.6M456.4 129.5h.6M492.3 134.1h.6M471.3 84.1h.6M453.4 132.5h.6M486.9 92.6h.6M489.7 111.1h.6M451.4 85.3h.6M457.9 92.9h.6M459.0 109.8h.6M458.0 110.9h.6M458.2 113.8h.6M462.7 138.9h.6M471.0 125.2h.6M476.3 94.0h.6M483.3 129.8h.6M448.7 96.9h.6M470.6 121.1h.6M447.8 119.9h.6M488.6 107.1h.6M479.9 95.3h.6M484.8 90.9h.6M472.7 133.2h.6M487.7 89.4h.6M480.3 114.5h.6M490.9 96.7h.6M456.1 114.7h.6M452.3 104.4h.6M471.3 113.2h.6M489.3 109.2h.6M471.5 92.8h.6M464.3 134.2h.6M477.9 100.6h.6M491.7 118.1h.6M486.1 120.8h.6M497.5 130.6h.6M496.1 112.5h.6M494.2 88.4h.6M469.8 108.0h.6M471.2 94.8h.6M469.4 77.8h.6M458.7 114.0h.6M473.8 133.4h.6M481.0 139.6h.6M475.1 99.5h.6M463.0 133.9h.6M466.0 110.2h.6M495.9 109.6h.6M453.8 96.2h.6M478.9 85.0h.6M470.6 78.9h.6M473.3 136.1h.6M454.8 140.2h.6M471.7 118.7h.6M455.3 111.0h.6M487.6 127.2h.6M483.6 141.3h.6M482.9 134.1h.6M472.8 111.6h.6M485.6 126.1h.6M484.2 82.9h.6M451.9 124.8h.6M485.0 82.2h.6M482.8 98.2h.6M473.0 141.5h.6M468.5 121.0h.6M446.2 132.8h.6M452.9 101.4h.6M477.0 124.3h.6M464.2 130.0h.6M472.1 125.4h.6M479.4 113.5h.6M477.1 118.5h.6M490.1 120.4h.6M452.3 125.4h.6M476.3 133.5h.6M471.6 109.8h.6M482.4 91.7h.6M460.8 142.2h.6M458.9 87.5h.6M488.9 98.5h.6M475.5 111.2h.6M492.2 88.1h.6M457.8 83.8h.6M483.2 143.7h.6M467.1 106.1h.6M451.5 81.2h.6M478.3 105.1h.6M462.1 131.7h.6M475.0 130.0h.6M454.4 116.7h.6M455.5 98.7h.6M472.1 100.7h.6M473.6 107.2h.6M490.8 91.2h.6M476.9 144.2h.6M485.4 79.3h.6M463.8 106.5h.6M452.1 82.5h.6M487.3 113.8h.6M470.9 91.5h.6M451.3 130.3h.6M467.0 130.2h.6M453.4 87.5h.6M485.6 132.7h.6M460.0 87.4h.6M463.9 117.9h.6M475.0 74.0h.6M481.2 134.5h.6M475.9 69.6h.6M490.3 109.8h.6M452.1 110.5h.6M472.5 94.1h.6M471.1 114.5h.6M466.9 95.4h.6M479.2 111.7h.6M463.5 87.9h.6M476.4 109.0h.6M478.9 114.2h.6M466.4 81.8h.6M477.2 132.8h.6M484.1 120.9h.6M462.2 143.8h.6M478.6 144.3h.6M470.6 119.1h.6M477.2 76.7h.6M467.8 122.0h.6M483.0 95.1h.6M456.2 100.2h.6M454.5 83.0h.6M455.7 86.1h.6M465.0 100.9h.6M467.1 89.7h.6M496.8 132.0h.6M494.3 120.8h.6M474.8 78.5h.6M495.0 107.1h.6M454.9 126.7h.6M463.7 95.4h.6M458.5 93.7h.6M480.7 86.5h.6M486.8 123.0h.6M489.2 134.4h.6M473.3 148.3h.6M447.9 110.3h.6M478.0 122.4h.6M477.1 75.3h.6M464.5 86.5h.6M452.8 114.7h.6M493.4 136.7h.6M454.7 103.7h.6M475.0 79.6h.6M452.6 119.9h.6M457.0 81.1h.6M478.0 101.3h.6M461.3 120.2h.6M468.0 129.3h.6M470.3 119.7h.6M475.3 125.5h.6M488.0 106.4h.6M472.7 123.9h.6M490.6 95.7h.6M487.1 98.2h.6M451.3 102.4h.6M473.3 81.1h.6M459.6 137.4h.6M472.1 116.1h.6M463.2 116.9h.6M458.7 135.3h.6M493.4 94.9h.6M458.4 119.0h.6M459.2 89.0h.6M462.4 92.3h.6M495.8 104.6h.6M460.0 82.8h.6M459.4 118.9h.6M475.1 69.0h.6M481.7 134.2h.6M452.4 142.5h.6M469.5 110.2h.6M465.2 94.9h.6M465.3 78.7h.6M472.5 139.2h.6M495.7 108.6h.6M454.3 122.1h.6M488.6 139.9h.6M481.6 131.0h.6M457.6 145.4h.6M471.8 143.2h.6M480.1 135.1h.6M468.7 74.6h.6M452.6 83.3h.6M480.3 73.2h.6M487.4 81.6h.6M484.3 94.8h.6M481.4 143.2h.6M463.3 102.0h.6M453.5 99.6h.6M499.2 110.2h.6M483.7 83.3h.6M478.9 124.0h.6M449.8 90.1h.6M479.5 120.4h.6M479.8 87.2h.6M495.7 129.2h.6M485.0 86.8h.6M446.9 112.5h.6M464.6 93.5h.6M482.9 131.6h.6M462.7 124.0h.6M492.2 109.3h.6M484.3 90.0h.6M494.5 98.8h.6M459.9 95.5h.6M483.1 96.8h.6M479.0 69.3h.6M479.4 128.9h.6M475.8 106.6h.6M455.6 80.5h.6M460.9 108.7h.6M465.3 135.6h.6M464.4 107.3h.6M464.6 102.6h.6M470.4 90.7h.6M455.3 114.7h.6M464.5 98.3h.6M496.3 106.8h.6M450.4 136.7h.6M450.8 94.1h.6M450.7 122.7h.6M482.2 120.8h.6M464.0 132.6h.6M475.2 82.2h.6M448.7 108.1h.6M474.2 110.6h.6M467.1 76.6h.6M463.0 119.5h.6M467.4 94.7h.6M475.7 104.3h.6M471.2 76.0h.6M449.1 127.3h.6M461.7 89.2h.6M448.6 109.5h.6M451.5 86.4h.6M453.3 128.3h.6M472.5 119.2h.6M483.9 96.9h.6M462.7 128.2h.6M469.0 85.3h.6M477.3 67.2h.6M452.3 122.4h.6M456.9 131.0h.6M470.9 120.7h.6M464.6 76.1h.6M467.5 112.2h.6M461.2 106.5h.6M492.7 127.4h.6M462.6 129.7h.6M466.7 132.8h.6M480.5 86.1h.6M471.1 96.5h.6M472.5 114.7h.6M461.2 143.8h.6M485.9 121.4h.6M495.5 118.8h.6M456.8 84.9h.6M453.5 90.7h.6M461.4 77.0h.6M444.3 98.6h.6M452.6 136.2h.6M460.1 132.5h.6M473.6 116.3h.6M496.3 103.5h.6M478.0 74.4h.6M495.4 121.7h.6M473.2 113.0h.6M454.6 124.0h.6M481.2 86.2h.6M460.8 123.5h.6M467.4 91.7h.6M485.9 136.3h.6M453.5 96.7h.6M465.9 100.2h.6M467.3 109.3h.6M470.3 114.8h.6M467.6 130.3h.6M458.9 114.8h.6M481.8 108.8h.6M480.6 100.6h.6M471.8 82.8h.6M490.8 89.0h.6M446.7 93.7h.6M448.8 84.5h.6M473.3 98.1h.6M461.7 143.3h.6M477.1 105.0h.6M466.2 139.2h.6M460.4 85.2h.6M482.9 126.7h.6M472.8 108.8h.6M479.9 117.2h.6M482.5 119.3h.6M486.7 77.3h.6M465.5 104.6h.6M449.4 117.4h.6M472.2 76.8h.6M476.2 140.6h.6M459.7 106.8h.6M490.4 116.2h.6M479.8 118.0h.6M467.3 104.6h.6M482.3 79.9h.6M469.5 83.7h.6M489.0 84.4h.6M485.3 121.7h.6M465.3 94.0h.6M483.2 132.7h.6M446.2 132.1h.6M471.6 78.1h.6M445.7 95.5h.6M485.6 80.6h.6M470.1 119.8h.6M474.8 112.7h.6M478.9 121.2h.6M448.0 128.6h.6M454.1 98.7h.6M483.9 97.9h.6M450.6 110.9h.6M471.7 88.6h.6M468.2 80.1h.6M450.9 88.8h.6M476.9 129.8h.6M469.3 141.0h.6M475.7 68.7h.6M474.4 129.3h.6M497.7 108.4h.6M459.6 131.7h.6M474.4 78.8h.6M481.6 137.7h.6M465.3 101.4h.6M479.9 136.2h.6M495.7 135.5h.6M460.1 86.4h.6M449.1 106.6h.6M464.7 144.1h.6M488.1 108.1h.6M493.8 128.5h.6M458.7 73.6h.6M460.6 84.3h.6M457.3 84.1h.6M460.9 116.4h.6M481.2 139.8h.6M484.0 97.4h.6M460.2 115.5h.6M462.0 96.5h.6M446.9 132.5h.6M462.1 117.9h.6M496.5 110.4h.6M452.0 129.6h.6M465.0 114.5h.6M478.8 70.3h.6M471.2 144.3h.6M448.0 90.9h.6M458.5 112.0h.6M457.8 87.4h.6M465.0 136.4h.6M448.6 88.9h.6M453.3 83.8h.6M486.6 92.3h.6M473.6 100.2h.6M450.3 129.7h.6M487.9 111.3h.6M486.9 130.8h.6M460.9 120.7h.6M483.5 98.6h.6M486.3 101.8h.6M454.2 101.2h.6M463.3 94.1h.6M466.2 80.0h.6M445.2 114.7h.6M459.3 86.4h.6M456.8 111.1h.6M494.4 123.2h.6M446.3 130.3h.6M475.9 131.9h.6M491.8 123.2h.6M458.0 139.1h.6M495.0 108.4h.6M465.8 80.0h.6M477.8 126.0h.6M462.5 103.9h.6M458.3 80.7h.6M471.4 69.1h.6M459.8 117.3h.6M483.5 88.3h.6M463.4 95.9h.6M476.8 99.2h.6M487.5 99.7h.6M454.1 138.9h.6M462.6 81.1h.6M448.8 120.3h.6M478.1 75.4h.6M452.5 123.8h.6M459.1 85.3h.6M464.2 87.5h.6M451.7 138.7h.6M493.5 113.7h.6M450.7 119.6h.6M481.4 139.5h.6M479.8 121.8h.6M496.2 127.3h.6M489.1 108.9h.6M473.5 126.0h.6M456.9 140.9h.6M473.3 123.9h.6M479.7 132.0h.6M462.0 78.9h.6M458.2 132.5h.6M451.3 133.0h.6M482.5 138.4h.6M479.4 73.6h.6M495.9 121.6h.6M463.8 90.7h.6M465.4 123.9h.6M491.4 119.3h.6M483.4 135.0h.6M482.6 81.9h.6M485.6 90.4h.6M488.8 85.1h.6M464.9 146.6h.6M479.1 128.0h.6M495.1 111.2h.6M491.1 92.7h.6M483.4 131.5h.6M494.4 122.1h.6M484.2 80.1h.6M449.3 135.7h.6M449.4 112.3h.6M480.6 125.9h.6M490.7 112.5h.6M479.0 78.0h.6M486.1 90.6h.6M467.2 109.4h.6M463.8 138.5h.6M492.9 129.9h.6M450.1 109.3h.6M455.3 120.9h.6M485.2 94.4h.6M479.8 95.0h.6M484.7 126.1h.6M481.4 128.5h.6M489.0 132.6h.6M482.8 141.7h.6M485.9 91.6h.6M455.9 102.8h.6M482.4 141.6h.6M451.2 105.6h.6M479.2 91.5h.6M460.4 105.5h.6M472.9 100.6h.6M462.1 108.6h.6M473.6 108.2h.6M494.3 112.0h.6M488.8 80.8h.6M476.0 81.3h.6M481.8 131.9h.6M457.2 125.7h.6M476.2 83.2h.6M488.9 109.7h.6M462.3 94.4h.6M449.3 108.9h.6M488.7 101.6h.6M454.0 84.5h.6M486.7 103.8h.6M452.4 102.4h.6M462.2 77.1h.6M458.9 143.7h.6M452.4 123.5h.6M451.0 111.1h.6M460.0 82.5h.6M492.0 93.3h.6M497.1 107.3h.6M468.0 115.9h.6M463.5 91.2h.6M447.9 95.9h.6M454.2 94.5h.6M474.1 103.9h.6M456.0 102.5h.6M471.7 108.3h.6M474.6 120.3h.6M473.8 121.0h.6M459.1 125.8h.6M454.3 84.0h.6M484.8 80.5h.6M461.8 130.0h.6M496.6 105.4h.6M452.1 91.9h.6M463.2 91.1h.6M469.7 125.4h.6M476.0 126.2h.6M488.0 129.7h.6M468.0 121.8h.6M496.8 109.1h.6M490.4 141.4h.6M452.9 121.8h.6M468.3 106.0h.6M471.8 113.2h.6M449.2 136.6h.6M485.8 91.9h.6M460.3 100.4h.6M495.6 133.0h.6M475.3 132.9h.6M475.9 108.1h.6M469.3 93.4h.6M478.2 95.4h.6M449.5 117.2h.6M485.9 80.4h.6M466.2 87.3h.6M481.2 92.0h.6M458.4 106.5h.6M448.6 117.7h.6M445.6 108.4h.6M462.0 78.0h.6M484.6 103.4h.6M488.1 92.9h.6M483.7 84.4h.6M468.4 139.0h.6M468.3 117.8h.6M488.5 141.2h.6M474.5 116.9h.6M482.2 83.5h.6M462.1 131.5h.6M467.4 97.5h.6M452.5 140.4h.6M471.6 140.0h.6M473.3 114.6h.6M488.4 96.0h.6M446.3 131.4h.6M468.4 136.8h.6M454.5 101.4h.6M443.6 101.4h.6M477.6 70.5h.6M475.7 73.8h.6M464.1 131.1h.6M491.8 115.0h.6M492.4 95.9h.6M460.1 142.1h.6M497.1 107.4h.6M492.6 94.4h.6M491.9 118.9h.6M497.7 109.4h.6M475.4 114.6h.6M456.8 127.3h.6M474.4 103.2h.6M462.9 80.1h.6M484.0 114.8h.6M455.6 98.6h.6M460.9 131.2h.6M467.4 144.3h.6M458.0 141.0h.6M476.6 89.7h.6M473.6 148.6h.6M494.8 105.8h.6M457.1 139.0h.6M471.3 115.4h.6M497.9 117.1h.6M449.1 94.6h.6M475.5 120.3h.6M493.9 122.6h.6M452.1 128.6h.6M455.0 103.3h.6M482.2 89.6h.6M481.1 101.5h.6M489.7 107.0h.6M476.5 125.5h.6M467.2 125.2h.6M449.9 136.3h.6M458.0 85.6h.6M495.6 123.2h.6M480.8 84.2h.6M492.7 114.1h.6M472.4 82.5h.6M459.3 87.3h.6M452.5 137.9h.6M480.6 123.9h.6M482.6 135.9h.6M469.8 78.1h.6M472.9 119.4h.6M461.7 87.0h.6M474.3 71.9h.6M477.0 99.7h.6M461.2 131.4h.6M455.7 125.7h.6M452.2 129.0h.6M477.4 127.4h.6M478.1 86.3h.6M460.9 141.7h.6M465.9 131.6h.6M471.6 111.9h.6M494.4 135.3h.6M473.8 120.8h.6M486.9 87.0h.6M458.6 117.6h.6M448.3 111.3h.6M481.4 72.9h.6M451.1 114.3h.6M481.6 71.7h.6M446.0 131.3h.6M456.0 117.8h.6M468.1 145.7h.6M467.5 93.7h.6M467.7 122.5h.6M459.5 112.3h.6M480.3 124.2h.6M465.1 104.0h.6M488.0 99.2h.6M470.5 91.0h.6M481.8 140.7h.6M488.0 135.4h.6M482.3 132.3h.6M470.3 144.2h.6M494.8 103.3h.6M454.2 96.3h.6M483.6 135.6h.6M477.4 131.4h.6M456.6 114.9h.6M486.9 122.5h.6M455.7 84.2h.6M462.8 75.5h.6M488.9 116.6h.6M490.3 115.7h.6M485.2 92.5h.6M469.2 138.7h.6M464.7 79.2h.6M457.8 130.9h.6M461.8 137.9h.6M468.1 144.0h.6M489.7 91.9h.6M485.7 142.2h.6M486.6 111.9h.6M453.1 115.7h.6M477.9 94.9h.6M490.0 113.5h.6M481.0 131.1h.6M481.8 130.5h.6M474.4 138.0h.6M454.9 110.8h.6M486.4 131.0h.6M479.0 122.3h.6M446.2 103.5h.6M479.0 125.8h.6M483.8 80.6h.6M467.7 130.5h.6M485.4 130.2h.6M451.9 91.3h.6M486.6 96.2h.6M485.5 81.6h.6M490.4 118.3h.6M495.1 111.2h.6M485.3 88.9h.6M466.9 97.5h.6M478.8 73.2h.6M494.3 122.9h.6M458.3 132.9h.6M475.4 127.7h.6M449.9 87.5h.6M491.5 118.1h.6M476.3 89.9h.6M478.0 102.2h.6M481.3 127.6h.6M449.7 134.1h.6M467.6 121.7h.6M479.8 96.3h.6M450.6 86.8h.6M449.2 127.4h.6M458.9 140.4h.6M467.6 78.3h.6M453.6 82.1h.6M475.0 139.9h.6M488.3 132.4h.6M455.6 98.7h.6M445.8 99.6h.6M471.0 138.2h.6M467.6 93.2h.6M483.4 82.1h.6M452.3 125.5h.6M461.9 136.1h.6M487.1 98.5h.6M459.7 130.9h.6M446.1 131.3h.6M455.4 122.4h.6M472.2 119.7h.6M481.4 131.2h.6M465.7 115.5h.6M467.3 129.7h.6M484.3 109.0h.6M478.7 125.6h.6M477.6 101.9h.6M452.2 86.5h.6M492.9 109.2h.6M484.0 135.4h.6M488.0 95.3h.6M460.4 86.8h.6M450.5 125.0h.6M489.6 120.2h.6M489.7 108.3h.6M493.7 116.5h.6M483.3 99.3h.6M457.2 99.8h.6M460.9 143.6h.6M466.8 91.5h.6M467.1 92.6h.6M455.5 83.7h.6M476.2 109.4h.6M454.6 100.5h.6M457.2 86.6h.6M486.3 95.0h.6M467.3 94.0h.6M485.3 128.6h.6M459.3 94.8h.6M460.5 142.1h.6M474.0 120.3h.6M474.8 72.0h.6M482.4 71.4h.6M472.7 78.2h.6M484.5 111.2h.6M499.9 107.6h.6M489.4 97.7h.6M463.2 117.1h.6M495.2 114.6h.6M445.5 100.9h.6M482.8 86.7h.6M491.3 113.9h.6M482.7 83.4h.6M485.5 125.9h.6M494.9 100.6h.6M495.0 104.7h.6M467.9 133.1h.6M473.4 76.0h.6M454.0 79.9h.6M496.2 107.6h.6M476.5 72.9h.6M445.1 111.5h.6M482.9 120.5h.6M487.4 139.2h.6M449.4 115.0h.6M458.0 118.2h.6M476.9 69.9h.6M453.7 86.1h.6M481.1 140.6h.6M458.3 90.7h.6M452.6 122.8h.6M463.6 133.6h.6M470.7 81.9h.6M466.1 121.3h.6M491.0 86.3h.6M461.8 134.7h.6M461.0 113.0h.6M474.7 98.9h.6M460.6 136.9h.6M496.2 101.8h.6M495.8 100.0h.6M475.1 142.9h.6M493.6 96.8h.6M449.8 109.5h.6M477.6 113.8h.6M452.7 134.2h.6M489.4 138.5h.6M468.2 109.7h.6M447.6 90.4h.6M496.2 111.4h.6M477.1 98.4h.6M476.0 115.4h.6M466.0 103.9h.6M473.8 138.5h.6M465.6 127.5h.6M483.1 140.5h.6M475.8 86.4h.6M473.4 84.0h.6M487.4 102.6h.6M475.8 89.9h.6M479.4 132.7h.6M497.2 112.7h.6M450.3 122.1h.6M470.6 130.8h.6M447.0 90.0h.6M473.5 135.5h.6M490.4 105.6h.6M455.1 114.3h.6M467.5 94.2h.6M474.5 101.8h.6M459.7 144.6h.6M474.3 120.9h.6M490.8 117.8h.6M467.9 125.0h.6M485.6 129.0h.6M473.3 117.8h.6M484.4 82.1h.6M458.4 114.3h.6M468.6 126.6h.6M477.2 97.0h.6M477.6 82.6h.6M446.0 108.7h.6M459.9 132.4h.6M444.8 92.3h.6M486.3 134.2h.6M481.3 96.3h.6M459.9 91.0h.6M474.1 138.4h.6M472.8 113.8h.6M497.0 127.3h.6M489.7 122.5h.6M490.1 116.3h.6M478.0 122.0h.6M463.1 142.1h.6M473.9 124.9h.6M470.9 87.7h.6M496.4 106.4h.6M468.1 131.7h.6M480.9 129.0h.6M458.9 86.6h.6M467.8 137.9h.6M453.7 127.8h.6M476.0 68.4h.6M443.8 104.2h.6M483.1 115.2h.6M460.8 144.9h.6M455.5 84.2h.6M456.9 86.1h.6M452.8 110.5h.6M450.7 139.1h.6M459.1 107.7h.6M462.6 79.3h.6M486.1 84.1h.6M493.1 111.3h.6M495.4 120.6h.6M485.6 133.9h.6M488.9 91.7h.6M468.8 122.0h.6M455.9 118.1h.6M479.6 86.9h.6M486.8 130.5h.6M473.1 92.6h.6M455.7 104.9h.6M456.7 86.1h.6M479.7 106.7h.6M464.8 135.3h.6M489.1 84.2h.6M445.4 110.5h.6M486.1 133.8h.6M488.5 132.1h.6M483.5 137.3h.6M485.7 138.8h.6M476.5 132.3h.6M477.6 130.1h.6M449.2 119.4h.6M484.8 123.8h.6M461.9 86.8h.6M460.9 87.3h.6M479.2 78.2h.6M488.7 128.4h.6M457.5 118.5h.6M469.2 114.3h.6M473.5 104.7h.6M481.4 112.8h.6M478.0 146.0h.6M491.7 112.3h.6M483.9 83.1h.6M488.7 124.9h.6M467.9 81.8h.6M472.9 131.9h.6M462.0 143.7h.6M468.1 130.9h.6M460.0 88.5h.6M464.2 105.4h.6M465.1 137.2h.6M492.7 93.1h.6M483.3 135.1h.6M471.2 108.5h.6M491.8 109.4h.6M469.4 80.2h.6M488.4 138.8h.6M482.2 92.8h.6M475.1 131.9h.6M459.7 74.6h.6M454.9 108.3h.6M480.2 84.4h.6M484.2 91.8h.6M493.9 128.7h.6M453.9 99.2h.6M473.0 84.6h.6M498.5 109.2h.6M450.0 93.6h.6M460.7 132.2h.6M491.5 99.2h.6M479.6 134.1h.6M470.8 116.1h.6M470.3 138.0h.6M483.1 78.6h.6M470.5 111.2h.6M489.5 132.0h.6M461.3 114.4h.6M475.4 142.3h.6M494.4 105.1h.6M463.8 95.7h.6M455.8 91.5h.6M490.1 93.1h.6M483.5 77.5h.6M468.1 92.0h.6M464.9 133.8h.6M458.4 117.1h.6M456.9 101.8h.6M476.4 143.2h.6M490.3 134.9h.6M448.1 139.7h.6M452.5 94.8h.6M451.1 88.7h.6M485.7 131.5h.6M456.2 124.8h.6M469.9 135.2h.6M464.1 78.0h.6M459.4 83.7h.6M452.2 122.1h.6M466.0 94.7h.6M486.8 112.3h.6M475.8 80.6h.6M494.4 113.1h.6M458.8 120.9h.6M472.2 94.7h.6M450.9 91.6h.6M465.6 94.7h.6M461.4 102.7h.6M460.1 141.2h.6M461.5 74.1h.6M465.3 118.5h.6M478.1 66.8h.6M465.2 92.3h.6M456.4 128.9h.6M449.8 117.5h.6M483.7 120.1h.6M496.9 106.2h.6M460.9 117.9h.6M479.7 67.3h.6M485.8 108.7h.6M479.2 104.5h.6M472.4 115.0h.6M483.7 124.5h.6M494.7 105.1h.6M482.4 102.5h.6M471.6 112.4h.6M490.0 90.1h.6M472.2 94.2h.6M458.3 141.5h.6M474.9 66.7h.6M485.6 127.9h.6M484.1 117.6h.6M473.2 88.7h.6M446.4 131.1h.6M489.6 102.1h.6M469.3 120.6h.6M456.5 127.3h.6M449.3 89.9h.6M487.1 128.7h.6M471.2 110.5h.6M460.0 84.5h.6M486.8 88.5h.6M492.4 129.9h.6M453.7 89.4h.6M479.0 75.3h.6M466.2 143.7h.6M486.8 143.8h.6M487.9 106.6h.6M468.1 123.3h.6M481.1 133.0h.6M472.0 132.0h.6M459.6 85.1h.6M485.7 97.7h.6M483.5 95.4h.6M477.4 116.5h.6M449.0 123.7h.6M468.7 80.8h.6M460.6 116.9h.6M476.8 68.9h.6M462.4 93.2h.6M455.8 140.2h.6M486.6 124.9h.6M472.7 98.7h.6M489.3 127.6h.6M490.0 131.6h.6M483.4 92.3h.6M453.9 113.6h.6M470.6 94.2h.6M462.8 116.0h.6M487.3 85.2h.6M498.0 110.6h.6M492.4 104.9h.6M446.5 100.2h.6M456.6 100.2h.6M450.4 83.4h.6M482.6 76.4h.6M476.9 71.9h.6M461.0 133.7h.6M468.2 79.9h.6M474.2 108.7h.6M464.5 75.6h.6M492.4 106.9h.6M458.2 84.7h.6M462.3 104.2h.6M453.4 109.2h.6M479.7 143.7h.6M461.1 105.8h.6M460.2 73.0h.6M478.5 105.3h.6M485.6 93.3h.6M478.6 73.7h.6M466.5 106.3h.6M492.6 110.7h.6M468.3 122.7h.6M443.3 108.2h.6M476.0 122.9h.6M475.4 126.3h.6M473.0 126.8h.6M491.8 96.3h.6M475.4 97.4h.6M482.7 103.2h.6M495.3 103.9h.6M454.8 103.5h.6M467.9 72.5h.6M448.9 111.3h.6M470.9 93.0h.6M455.2 134.8h.6M476.5 126.2h.6M469.5 139.7h.6M465.2 76.9h.6M484.7 89.3h.6M472.3 120.0h.6M462.8 119.1h.6M483.0 121.6h.6M477.4 144.7h.6M478.1 145.5h.6M452.7 139.8h.6M467.1 85.5h.6M482.9 115.8h.6M485.7 100.9h.6M474.0 97.1h.6M470.8 122.4h.6M493.1 123.7h.6M477.5 108.0h.6M484.4 115.5h.6M473.0 115.3h.6M470.1 84.7h.6M451.9 134.1h.6M484.6 101.4h.6M481.9 118.8h.6M452.6 88.0h.6M449.2 110.4h.6M453.8 96.8h.6M446.8 131.8h.6M490.8 95.3h.6M467.1 98.5h.6M460.8 77.5h.6M461.0 103.5h.6M470.5 82.8h.6M469.0 112.3h.6M448.9 95.3h.6M463.5 129.8h.6M493.2 138.8h.6M494.1 115.4h.6M471.8 107.4h.6M482.5 131.4h.6M478.1 127.0h.6M495.6 107.7h.6M446.6 134.3h.6M498.7 126.3h.6M481.6 136.9h.6M454.8 122.5h.6M473.7 80.4h.6M493.3 93.6h.6M476.9 104.5h.6M446.4 106.1h.6M452.6 138.8h.6M483.9 102.1h.6M482.0 126.5h.6M455.9 91.1h.6M491.2 133.3h.6M453.1 137.1h.6M482.9 90.1h.6M465.6 124.5h.6M456.0 138.5h.6M468.4 136.7h.6M469.8 124.2h.6M487.5 93.2h.6M475.5 124.4h.6M460.9 94.9h.6M445.0 107.7h.6M448.8 113.9h.6M476.4 105.5h.6M456.6 129.4h.6M484.9 116.9h.6M450.9 94.6h.6M445.9 102.4h.6M458.6 113.5h.6M481.5 103.4h.6M490.7 138.3h.6M454.0 79.9h.6M488.8 81.3h.6M449.4 134.5h.6M464.3 96.9h.6M472.4 122.2h.6M464.9 91.6h.6M458.4 137.4h.6M473.3 138.4h.6M471.8 115.3h.6M469.9 117.8h.6M447.0 90.5h.6M476.9 105.6h.6M464.2 113.6h.6M459.6 135.5h.6M459.1 107.8h.6M460.7 132.4h.6M452.3 134.0h.6M484.4 141.6h.6M490.0 87.4h.6M460.4 142.0h.6M475.7 97.7h.6M448.2 99.6h.6M455.8 98.4h.6M495.4 115.3h.6M459.0 81.6h.6M449.3 128.0h.6M465.1 91.1h.6M489.6 118.6h.6M480.6 106.7h.6M466.4 96.4h.6M486.8 96.4h.6M497.0 121.9h.6M463.3 133.2h.6M480.3 120.5h.6M490.4 117.3h.6M485.1 86.5h.6M492.6 112.2h.6M484.2 81.8h.6M456.3 94.5h.6M472.4 110.4h.6M486.3 92.7h.6M486.0 104.1h.6M497.2 108.4h.6M485.7 128.6h.6M467.3 89.6h.6M487.0 79.5h.6M484.5 142.6h.6M495.3 122.9h.6M498.1 110.7h.6M478.3 74.4h.6M476.2 84.7h.6M461.8 125.7h.6M480.0 109.7h.6M491.5 108.2h.6M464.8 124.0h.6M483.1 97.5h.6M480.6 111.6h.6M461.7 80.8h.6M485.3 95.8h.6M476.7 87.2h.6M447.6 92.9h.6M469.0 78.4h.6M456.9 140.4h.6M458.8 126.8h.6M446.9 106.4h.6M467.3 94.5h.6M459.8 82.5h.6M492.8 88.5h.6M473.7 123.9h.6M454.8 140.3h.6M465.1 73.8h.6M449.3 127.8h.6M449.3 135.8h.6M479.2 113.5h.6M466.9 127.2h.6M482.1 137.2h.6M450.7 138.6h.6M487.9 133.5h.6M491.4 95.3h.6M466.4 77.0h.6M462.4 74.2h.6M468.4 106.1h.6M453.5 137.2h.6M474.6 75.9h.6M446.6 89.3h.6M470.6 119.8h.6M471.2 115.7h.6M489.5 117.4h.6M471.9 141.4h.6M472.9 109.7h.6M450.5 83.9h.6M446.4 97.0h.6M477.3 121.4h.6M452.1 135.5h.6M476.0 103.0h.6M466.2 122.4h.6M472.6 122.9h.6M484.5 138.4h.6M474.0 90.9h.6M486.5 138.0h.6M478.5 144.3h.6M487.1 123.1h.6M492.1 98.6h.6M471.5 112.8h.6M496.6 106.9h.6M485.4 99.1h.6M473.7 80.3h.6M482.3 92.2h.6M486.7 107.8h.6M486.2 103.7h.6M478.0 144.9h.6M475.5 144.6h.6M477.3 130.5h.6M479.0 133.5h.6M457.2 92.2h.6M477.8 140.8h.6M479.9 132.0h.6M446.5 105.2h.6M452.8 82.2h.6M482.9 126.2h.6M471.2 110.4h.6M479.3 140.6h.6M462.0 84.9h.6M483.5 75.0h.6M455.7 140.4h.6M472.7 107.5h.6M474.4 70.2h.6M474.3 135.1h.6M491.9 117.2h.6M449.6 84.8h.6M483.4 105.0h.6M476.7 109.0h.6M456.0 121.4h.6M451.3 114.5h.6M470.3 123.3h.6M478.0 72.4h.6M460.9 90.5h.6M463.1 122.1h.6M488.9 82.0h.6M484.1 145.5h.6M480.2 99.8h.6M466.7 91.6h.6M449.1 107.7h.6M478.5 119.1h.6M488.9 140.1h.6M464.9 121.2h.6M468.6 88.8h.6M493.0 139.9h.6M489.8 108.6h.6M487.0 134.1h.6M469.1 123.7h.6M456.7 141.1h.6M458.3 86.0h.6M474.8 100.1h.6M462.6 102.1h.6M470.1 80.6h.6M445.6 128.8h.6M489.8 104.1h.6M488.3 87.2h.6M475.3 111.0h.6M474.0 80.1h.6M481.5 85.5h.6M482.5 136.2h.6M453.4 119.6h.6M454.1 124.7h.6M490.8 114.9h.6M476.2 84.1h.6M481.0 142.0h.6M451.5 117.3h.6M480.7 110.4h.6M490.5 90.6h.6M479.7 76.3h.6M471.4 112.9h.6M473.0 96.8h.6M460.2 91.1h.6M485.8 117.6h.6M484.8 121.8h.6M451.1 139.1h.6M447.9 132.3h.6M477.8 143.3h.6M478.5 91.6h.6M494.1 104.7h.6M480.1 95.0h.6M478.9 129.2h.6M453.0 120.5h.6M472.8 135.6h.6M479.1 144.4h.6M473.0 139.9h.6M487.9 117.2h.6M448.0 88.3h.6M488.7 142.3h.6M484.9 131.3h.6M448.1 110.3h.6M489.3 109.1h.6M447.0 113.9h.6M473.2 76.6h.6M487.8 84.6h.6M463.8 97.4h.6M469.1 85.1h.6M486.7 139.8h.6M457.6 118.0h.6M474.2 106.1h.6M481.0 141.1h.6M486.0 130.9h.6M453.9 110.5h.6M484.8 126.4h.6M478.5 102.6h.6M485.1 95.1h.6M490.3 111.3h.6M447.3 108.7h.6M496.4 104.5h.6M485.0 88.3h.6M463.7 88.4h.6M495.0 96.5h.6M477.8 90.3h.6M474.9 102.4h.6M467.2 104.6h.6M493.9 117.7h.6M443.3 97.4h.6M488.3 89.4h.6M465.3 142.2h.6M481.2 140.5h.6M456.2 80.4h.6M447.5 110.8h.6M459.8 87.0h.6M471.5 144.2h.6M449.3 107.9h.6M465.1 96.1h.6M452.4 83.0h.6M489.4 122.6h.6M484.4 114.9h.6M483.2 80.8h.6M448.9 109.1h.6M476.6 74.1h.6M483.1 97.3h.6M464.0 130.8h.6M461.6 89.8h.6M483.2 114.7h.6" stroke="#34ad55" stroke-width="0.8" fill="none"/>
<polygon points="434.6,39.5 438.0,39.5 438.2,50.0 439.2,55.5 442.5,59.5 448.0,63.2 455.0,66.8 462.0,69.8 468.0,71.5 466.0,77.0 460.0,77.0 452.0,74.5 444.0,70.0 438.5,64.0 435.2,57.0 434.4,48.0" fill="#34ad55" fill-opacity="0.04"/>
<path d="M447.0 67.1h.6M437.5 59.9h.6M449.4 72.4h.6M443.5 64.2h.6M445.9 65.0h.6M445.7 68.8h.6M434.5 50.9h.6M448.0 68.0h.6M449.2 67.5h.6M442.4 58.7h.6M458.4 70.7h.6M459.3 69.4h.6M445.3 66.3h.6M447.2 63.2h.6M449.9 73.3h.6M445.4 63.6h.6M435.8 42.7h.6M444.2 64.4h.6M442.9 68.2h.6M435.0 48.9h.6M455.6 71.9h.6M440.8 62.0h.6M437.4 61.9h.6M438.8 60.1h.6M435.9 58.2h.6M438.6 58.0h.6M442.9 67.7h.6M436.8 48.1h.6M462.0 75.0h.6M448.9 69.7h.6M434.9 41.6h.6M450.4 69.6h.6M457.1 71.6h.6M445.2 66.5h.6M449.7 73.0h.6M434.5 56.6h.6M440.4 62.0h.6M451.4 67.5h.6M447.1 68.8h.6M444.5 66.8h.6M447.4 63.6h.6M440.4 61.0h.6M439.7 60.1h.6M437.2 43.9h.6M455.9 72.4h.6M448.9 69.6h.6M448.1 70.1h.6M447.4 63.1h.6M458.4 68.6h.6M439.7 59.9h.6M447.0 70.3h.6M452.4 67.4h.6M438.9 39.9h.6M458.0 70.5h.6M453.0 70.9h.6M437.7 48.3h.6M454.8 73.0h.6M442.4 68.2h.6M436.5 50.8h.6M437.0 56.4h.6M464.6 75.5h.6M443.8 68.8h.6M437.2 50.6h.6M434.8 56.3h.6M454.7 73.5h.6M450.1 72.5h.6M456.4 75.4h.6M442.9 62.4h.6M459.4 75.5h.6M450.7 71.5h.6M448.7 71.2h.6M455.5 67.1h.6M454.1 71.4h.6M458.9 70.4h.6M451.5 71.0h.6M437.6 55.0h.6M458.6 70.3h.6M437.5 46.7h.6M466.9 71.9h.6M442.2 63.9h.6M464.5 74.9h.6M444.2 69.0h.6M438.7 60.8h.6M458.1 73.6h.6M443.9 66.3h.6M461.3 71.4h.6M448.7 72.1h.6M444.4 62.1h.6M444.2 66.1h.6M438.7 59.4h.6M455.5 74.6h.6M439.2 48.9h.6M441.3 61.9h.6M456.8 70.6h.6M436.5 50.5h.6M435.5 46.1h.6M436.0 47.5h.6M452.4 73.5h.6M457.3 73.6h.6M436.5 43.8h.6M437.6 41.2h.6M454.3 73.3h.6M439.6 57.1h.6M437.5 41.0h.6M456.4 68.5h.6M448.3 68.0h.6M443.1 68.0h.6M459.3 70.4h.6M443.7 63.0h.6M458.5 73.9h.6M437.6 57.3h.6M449.6 70.5h.6M462.6 75.6h.6M441.9 66.4h.6M458.0 72.4h.6M436.4 46.0h.6M445.9 63.6h.6M442.3 67.2h.6M457.0 69.8h.6M450.3 72.3h.6M439.1 56.9h.6M436.8 46.6h.6M456.9 69.2h.6M438.9 61.7h.6M466.1 73.2h.6M460.1 70.9h.6M455.0 69.1h.6M451.2 70.5h.6M446.7 64.9h.6M437.3 42.2h.6M444.1 67.3h.6M448.0 64.1h.6M443.9 66.2h.6M438.1 46.2h.6M456.7 67.3h.6M465.3 74.3h.6M435.2 49.0h.6M435.5 40.6h.6M450.7 69.9h.6M451.5 73.3h.6M454.6 70.1h.6M458.6 75.3h.6M465.8 75.8h.6M440.5 56.8h.6M446.2 69.9h.6M463.0 71.8h.6M436.1 53.3h.6M437.3 59.5h.6M437.2 47.0h.6M455.7 73.5h.6M435.9 48.0h.6M440.0 62.7h.6M446.5 67.8h.6M437.3 58.1h.6M436.2 46.3h.6M445.4 66.9h.6M450.2 67.7h.6M435.7 55.1h.6M447.5 66.8h.6M445.5 67.3h.6M445.7 63.2h.6M436.8 53.8h.6M446.7 65.2h.6M465.0 75.3h.6M436.0 45.6h.6M449.5 70.1h.6M434.8 49.1h.6M439.8 54.5h.6M459.0 72.1h.6M438.7 61.8h.6M448.3 67.9h.6M451.7 68.8h.6M434.7 53.8h.6M446.4 64.1h.6M451.6 69.7h.6M445.4 70.5h.6M464.3 70.4h.6M458.1 75.1h.6M465.0 77.0h.6M436.7 45.9h.6M450.8 70.4h.6M460.3 72.2h.6M448.8 66.2h.6M450.1 71.5h.6M437.5 57.0h.6M442.2 68.1h.6M445.2 65.0h.6M438.9 64.6h.6M456.5 76.8h.6M466.6 72.9h.6M438.4 54.2h.6M466.8 74.2h.6M461.4 73.2h.6M435.7 50.2h.6M456.2 74.0h.6M440.5 63.6h.6M438.6 64.0h.6M440.6 60.4h.6M446.4 62.7h.6M437.7 42.8h.6M447.5 65.1h.6M437.3 51.3h.6M439.6 52.8h.6M442.1 66.9h.6M453.1 75.4h.6M454.5 71.4h.6M453.2 66.8h.6M452.3 75.1h.6M437.4 59.8h.6M438.5 61.3h.6M440.4 59.8h.6M447.5 65.3h.6M442.3 62.6h.6M439.0 62.3h.6M463.2 72.5h.6M461.6 70.2h.6M441.0 63.5h.6M459.8 75.1h.6M438.1 52.1h.6M448.9 69.7h.6M455.4 68.3h.6M460.8 75.6h.6M437.0 57.2h.6M440.8 65.5h.6M456.3 75.4h.6M461.8 75.3h.6M458.1 68.7h.6M448.4 71.0h.6M447.9 65.3h.6M435.8 54.1h.6M434.6 50.1h.6M460.4 74.1h.6M435.9 54.9h.6M440.7 65.4h.6M440.4 65.1h.6M439.7 56.3h.6M441.9 63.3h.6M463.9 75.5h.6M437.3 48.5h.6M434.7 55.1h.6M446.2 63.2h.6M444.2 60.8h.6M454.0 70.1h.6M446.2 67.1h.6M464.6 76.6h.6M437.5 61.9h.6M448.7 70.2h.6M446.2 68.5h.6M458.5 72.7h.6M440.5 63.8h.6M452.0 68.0h.6M449.8 66.0h.6M439.8 57.9h.6M437.0 45.7h.6M447.4 68.6h.6M436.1 41.1h.6M453.9 65.6h.6M448.7 71.9h.6M445.8 62.2h.6M452.1 64.6h.6M439.0 62.7h.6M462.3 75.9h.6M455.2 70.4h.6M446.2 69.9h.6M463.3 71.2h.6M439.2 58.9h.6M440.2 62.8h.6M448.4 69.6h.6M462.5 74.0h.6M467.6 76.7h.6M434.5 40.4h.6M457.9 69.8h.6M453.0 66.1h.6M449.1 72.2h.6M457.2 75.8h.6M453.8 69.7h.6M465.2 75.9h.6M438.2 61.3h.6M447.4 65.2h.6M438.2 62.7h.6M448.4 68.2h.6M465.7 74.4h.6M451.7 72.7h.6M439.4 54.4h.6M444.3 69.9h.6M457.9 69.5h.6M455.2 69.3h.6M434.4 50.6h.6M434.8 52.9h.6M461.1 70.1h.6M455.9 70.1h.6M447.6 65.8h.6M439.9 58.6h.6M436.6 58.4h.6M442.9 65.8h.6M454.8 75.3h.6M462.9 70.6h.6M444.6 63.2h.6M449.7 72.2h.6M436.6 43.6h.6M439.5 56.9h.6M450.0 66.6h.6M438.9 54.7h.6M458.8 71.3h.6M450.1 73.8h.6M436.3 44.8h.6M445.7 62.3h.6M444.5 68.5h.6M437.2 43.5h.6M441.7 64.4h.6M467.1 74.6h.6M457.0 69.3h.6M462.0 76.3h.6M443.5 60.1h.6M456.4 72.2h.6M457.9 68.3h.6M440.3 60.0h.6M458.6 72.9h.6M449.5 69.7h.6M440.0 57.2h.6M449.4 72.1h.6M442.7 67.8h.6M437.4 49.2h.6M436.5 47.0h.6M456.0 66.6h.6M448.2 70.2h.6M440.4 60.1h.6M438.3 51.4h.6M447.7 67.7h.6M467.6 72.1h.6M445.9 64.3h.6M448.5 71.5h.6M443.9 62.7h.6M446.3 68.4h.6M440.9 60.6h.6M459.0 72.2h.6M444.8 69.8h.6M444.3 60.5h.6M463.0 76.7h.6M452.2 69.6h.6M435.6 51.1h.6M461.3 72.9h.6M457.4 74.0h.6M465.8 71.8h.6M454.2 70.7h.6M434.8 55.8h.6M436.9 48.2h.6M434.8 44.5h.6M446.3 67.2h.6M437.6 61.6h.6M439.8 62.5h.6M447.5 72.3h.6M449.7 71.4h.6M455.3 74.0h.6M460.2 72.1h.6M440.3 60.1h.6M434.9 58.4h.6M445.7 63.9h.6M447.5 65.3h.6M445.0 70.9h.6M454.7 72.0h.6M460.9 72.6h.6M443.2 69.3h.6M437.0 51.2h.6M441.8 66.0h.6M461.8 69.4h.6M434.0 48.7h.6M435.8 40.2h.6M466.1 71.4h.6M458.0 68.4h.6M448.5 65.0h.6M455.7 74.9h.6M460.2 74.9h.6M441.9 58.6h.6M437.2 50.0h.6M453.9 72.3h.6M435.0 44.3h.6M437.9 58.9h.6M437.0 40.2h.6M456.4 76.1h.6M436.1 60.2h.6M448.9 65.2h.6M442.9 66.4h.6M442.1 65.5h.6M436.4 42.7h.6M445.3 68.4h.6M434.9 48.1h.6M437.1 49.4h.6M437.3 58.1h.6M440.5 61.6h.6M456.3 69.1h.6M444.2 64.6h.6M437.6 51.7h.6M450.2 64.8h.6M460.7 76.9h.6M439.0 59.1h.6M449.2 70.5h.6M439.1 61.5h.6M434.9 49.9h.6M435.1 49.3h.6M434.5 50.1h.6M436.8 51.1h.6M444.3 60.8h.6M443.2 64.3h.6M464.6 72.1h.6M436.6 39.9h.6M451.9 68.5h.6M441.0 64.8h.6M440.9 57.3h.6M450.6 69.0h.6M438.3 60.8h.6M437.8 52.1h.6M454.1 73.3h.6M441.4 59.7h.6M435.5 40.7h.6M459.5 69.9h.6M462.5 74.1h.6M435.4 51.1h.6M438.4 49.1h.6M459.7 74.8h.6M459.4 71.8h.6M458.2 69.6h.6M458.1 69.4h.6M459.1 70.0h.6M452.2 73.4h.6M437.5 39.6h.6M457.6 73.6h.6M449.7 71.9h.6M451.6 72.1h.6M458.4 67.9h.6M435.3 51.0h.6M440.5 66.0h.6M452.2 71.0h.6M448.7 70.8h.6M435.4 56.0h.6M455.7 71.7h.6M437.0 44.5h.6M439.3 60.2h.6M459.3 73.9h.6M436.2 41.7h.6M456.6 69.4h.6M455.8 73.2h.6M436.3 49.9h.6M437.7 52.1h.6M450.0 73.9h.6M461.4 75.8h.6M454.2 71.4h.6M456.4 73.4h.6M439.7 63.1h.6M442.6 66.5h.6M436.3 42.7h.6M450.7 71.8h.6M463.5 74.9h.6M457.6 71.8h.6M435.7 55.8h.6M459.1 74.2h.6M461.2 69.4h.6M446.7 67.8h.6M457.9 70.0h.6M438.4 60.4h.6M434.9 46.0h.6M463.3 73.3h.6M441.3 59.2h.6M457.4 72.4h.6M444.4 61.4h.6M459.1 69.3h.6M440.9 61.3h.6M438.8 53.2h.6M437.7 44.5h.6M456.9 71.7h.6M467.4 73.5h.6M448.9 65.9h.6M436.0 41.3h.6" stroke="#34ad55" stroke-width="0.8" fill="none"/>
<text x="369.80" y="97.30" font-size="7.56" text-anchor="middle" fill="#222">CMPs</text>
<text x="353.60" y="118.80" font-size="7.56" text-anchor="middle" fill="#222">MEPs</text>
<text x="461.00" y="111.20" font-size="7.13" text-anchor="middle" fill="#222">HSCs</text>
<text x="303.38" y="200.20" font-size="11.34" font-weight="bold" fill="#000" textLength="9.52" lengthAdjust="spacingAndGlyphs">D</text>
<text x="389.01" y="202.40" font-size="8.86" textLength="83.80" lengthAdjust="spacingAndGlyphs">PD mtRunx1 AML #11</text>
<text x="409.51" y="212.00" font-size="8.86" textLength="42.80" lengthAdjust="spacingAndGlyphs">scRNA-Seq</text>
<text x="322.55" y="235.40" font-size="8.21" textLength="41.74" lengthAdjust="spacingAndGlyphs">HALLMARK</text>
<line x1="319.5" y1="237.3" x2="368" y2="237.3" stroke="#231f20" stroke-width="0.9"/>
<text x="400.01" y="235.00" font-size="8.86" textLength="27.80" lengthAdjust="spacingAndGlyphs">Control</text>
<text x="435.21" y="225.40" font-size="8.86" textLength="27.60" lengthAdjust="spacingAndGlyphs">100 nM</text>
<text x="440.51" y="235.40" font-size="8.86" textLength="16.60" lengthAdjust="spacingAndGlyphs">HHT</text>
<rect x="397.40" y="238.90" width="33.80" height="12.83" fill="#f7c3c6"/>
<rect x="431.20" y="238.90" width="34.20" height="12.83" fill="#f0959a"/>
<text x="393.29" y="248.09" font-size="8.42" text-anchor="end" textLength="105.46" lengthAdjust="spacingAndGlyphs">INFLAMMATORY_RESPONSE</text>
<rect x="397.40" y="251.68" width="33.80" height="12.83" fill="#a7a9d3"/>
<rect x="431.20" y="251.68" width="34.20" height="12.83" fill="#f7c0c4"/>
<text x="393.29" y="260.87" font-size="8.42" text-anchor="end" textLength="54.96" lengthAdjust="spacingAndGlyphs">P53_PATHWAY</text>
<rect x="397.40" y="264.46" width="33.80" height="12.83" fill="#ee6e72"/>
<rect x="431.20" y="264.46" width="34.20" height="12.83" fill="#ffffff"/>
<text x="393.29" y="273.65" font-size="8.42" text-anchor="end" textLength="101.06" lengthAdjust="spacingAndGlyphs">IL6_JAK_STAT3_SIGNALING</text>
<rect x="397.40" y="277.24" width="33.80" height="12.83" fill="#f7c3c6"/>
<rect x="431.20" y="277.24" width="34.20" height="12.83" fill="#fefcfc"/>
<text x="393.29" y="286.43" font-size="8.42" text-anchor="end" textLength="83.96" lengthAdjust="spacingAndGlyphs">IL2_STAT5_SIGNALING</text>
<rect x="397.40" y="290.02" width="33.80" height="12.83" fill="#c6c4e2"/>
<rect x="431.20" y="290.02" width="34.20" height="12.83" fill="#f3f2f8"/>
<text x="393.29" y="299.21" font-size="8.42" text-anchor="end" textLength="43.06" lengthAdjust="spacingAndGlyphs">APOPTOSIS</text>
<rect x="397.40" y="302.80" width="33.80" height="12.83" fill="#e8393d"/>
<rect x="431.20" y="302.80" width="34.20" height="12.83" fill="#e4e3f1"/>
<text x="393.29" y="311.99" font-size="8.42" text-anchor="end" textLength="68.46" lengthAdjust="spacingAndGlyphs">MYC_TARGETS_V2</text>
<rect x="397.40" y="315.58" width="33.80" height="12.83" fill="#f7c0c3"/>
<rect x="431.20" y="315.58" width="34.20" height="12.83" fill="#8a8ec8"/>
<text x="393.29" y="324.77" font-size="8.42" text-anchor="end" textLength="78.46" lengthAdjust="spacingAndGlyphs">MTORC1_SIGNALING</text>
<rect x="397.40" y="328.36" width="33.80" height="12.83" fill="#ee5d62"/>
<rect x="431.20" y="328.36" width="34.20" height="12.83" fill="#3f56a6"/>
<text x="393.29" y="337.55" font-size="8.42" text-anchor="end" textLength="68.46" lengthAdjust="spacingAndGlyphs">MYC_TARGETS_V1</text>
<rect x="397.40" y="238.90" width="68.00" height="102.20" fill="none" stroke="#333" stroke-width="0.9"/>
<defs><linearGradient id="gsva" x1="0" y1="0" x2="0" y2="1"><stop offset="0" stop-color="#e31a22"/><stop offset="0.12" stop-color="#e6353b"/><stop offset="0.3" stop-color="#f08b8e"/><stop offset="0.44" stop-color="#fbdfe0"/><stop offset="0.5" stop-color="#ffffff"/><stop offset="0.56" stop-color="#e2e3f0"/><stop offset="0.7" stop-color="#9399ca"/><stop offset="0.86" stop-color="#4a62ac"/><stop offset="1" stop-color="#2a4a9a"/></linearGradient></defs>
<rect x="476.30" y="238.60" width="11.10" height="102.50" fill="url(#gsva)" stroke="#333" stroke-width="0.9"/>
<line x1="476.3" y1="247.7" x2="477.9" y2="247.7" stroke="#231f20" stroke-width="0.8"/>
<line x1="485.8" y1="247.7" x2="487.4" y2="247.7" stroke="#231f20" stroke-width="0.8"/>
<text x="489.50" y="250.60" font-size="8.64">0.5</text>
<line x1="476.3" y1="290" x2="477.9" y2="290" stroke="#231f20" stroke-width="0.8"/>
<line x1="485.8" y1="290" x2="487.4" y2="290" stroke="#231f20" stroke-width="0.8"/>
<text x="489.50" y="292.90" font-size="8.64">0</text>
<line x1="476.3" y1="332.6" x2="477.9" y2="332.6" stroke="#231f20" stroke-width="0.8"/>
<line x1="485.8" y1="332.6" x2="487.4" y2="332.6" stroke="#231f20" stroke-width="0.8"/>
<text x="489.50" y="335.50" font-size="8.64">−0.5</text>
<text x="504.70" y="272.39" font-size="9.29" textLength="35.14" lengthAdjust="spacingAndGlyphs" transform="rotate(90 504.70 272.39)">GSVA score</text>
<text x="430.50" y="353.20" font-size="8.64" text-anchor="middle" textLength="17.78" lengthAdjust="spacingAndGlyphs">8 hrs</text>
<line x1="403.8" y1="350.5" x2="419.5" y2="350.5" stroke="#231f20" stroke-width="0.9"/>
<line x1="442" y1="350.5" x2="460" y2="350.5" stroke="#231f20" stroke-width="0.9"/>
<text x="8.58" y="296.60" font-size="11.34" font-weight="bold" fill="#000" textLength="7.42" lengthAdjust="spacingAndGlyphs">E</text>
<text x="79.62" y="298.40" font-size="8.75" textLength="84.39" lengthAdjust="spacingAndGlyphs">PD mtRunx1 AML #11</text>
<text x="100.12" y="307.70" font-size="8.75" textLength="43.79" lengthAdjust="spacingAndGlyphs">scRNA-Seq</text>
<rect x="120.30" y="317.50" width="38.50" height="4.60" fill="#0b4f83"/>
<line x1="82.6" y1="319.8" x2="85.1" y2="319.8" stroke="#231f20" stroke-width="0.8"/>
<text x="80.07" y="322.40" font-size="7.78" text-anchor="end" textLength="21.60" lengthAdjust="spacingAndGlyphs">RPL29</text>
<rect x="119.50" y="326.04" width="39.30" height="4.60" fill="#0b4f83"/>
<line x1="82.6" y1="328.336" x2="85.1" y2="328.336" stroke="#231f20" stroke-width="0.8"/>
<text x="80.07" y="330.94" font-size="7.78" text-anchor="end" textLength="20.60" lengthAdjust="spacingAndGlyphs">EIF3A</text>
<rect x="119.00" y="334.57" width="39.80" height="4.60" fill="#0b4f83"/>
<line x1="82.6" y1="336.872" x2="85.1" y2="336.872" stroke="#231f20" stroke-width="0.8"/>
<text x="80.07" y="339.47" font-size="7.78" text-anchor="end" textLength="21.60" lengthAdjust="spacingAndGlyphs">RPL15</text>
<rect x="119.00" y="343.11" width="39.80" height="4.60" fill="#0b4f83"/>
<line x1="82.6" y1="345.408" x2="85.1" y2="345.408" stroke="#231f20" stroke-width="0.8"/>
<text x="80.07" y="348.01" font-size="7.78" text-anchor="end" textLength="24.60" lengthAdjust="spacingAndGlyphs">EIF4A1</text>
<rect x="118.00" y="351.64" width="40.80" height="4.60" fill="#0b4f83"/>
<line x1="82.6" y1="353.944" x2="85.1" y2="353.944" stroke="#231f20" stroke-width="0.8"/>
<text x="80.07" y="356.54" font-size="7.78" text-anchor="end" textLength="22.60" lengthAdjust="spacingAndGlyphs">RPL7A</text>
<rect x="117.75" y="360.18" width="41.05" height="4.60" fill="#0b4f83"/>
<line x1="82.6" y1="362.48" x2="85.1" y2="362.48" stroke="#231f20" stroke-width="0.8"/>
<text x="80.07" y="365.08" font-size="7.78" text-anchor="end" textLength="17.40" lengthAdjust="spacingAndGlyphs">RPS2</text>
<rect x="117.25" y="368.72" width="41.55" height="4.60" fill="#0b4f83"/>
<line x1="82.6" y1="371.016" x2="85.1" y2="371.016" stroke="#231f20" stroke-width="0.8"/>
<text x="80.07" y="373.62" font-size="7.78" text-anchor="end" textLength="17.40" lengthAdjust="spacingAndGlyphs">RPS7</text>
<rect x="115.75" y="377.25" width="43.05" height="4.60" fill="#0b4f83"/>
<line x1="82.6" y1="379.552" x2="85.1" y2="379.552" stroke="#231f20" stroke-width="0.8"/>
<text x="80.07" y="382.15" font-size="7.78" text-anchor="end" textLength="22.20" lengthAdjust="spacingAndGlyphs">RPS4X</text>
<rect x="114.00" y="385.79" width="44.80" height="4.60" fill="#0b4f83"/>
<line x1="82.6" y1="388.088" x2="85.1" y2="388.088" stroke="#231f20" stroke-width="0.8"/>
<text x="80.07" y="390.69" font-size="7.78" text-anchor="end" textLength="16.90" lengthAdjust="spacingAndGlyphs">RPL3</text>
<rect x="113.50" y="394.32" width="45.30" height="4.60" fill="#0b4f83"/>
<line x1="82.6" y1="396.624" x2="85.1" y2="396.624" stroke="#231f20" stroke-width="0.8"/>
<text x="80.07" y="399.22" font-size="7.78" text-anchor="end" textLength="26.30" lengthAdjust="spacingAndGlyphs">EEF1B2</text>
<rect x="113.50" y="402.86" width="45.30" height="4.60" fill="#0b4f83"/>
<line x1="82.6" y1="405.16" x2="85.1" y2="405.16" stroke="#231f20" stroke-width="0.8"/>
<text x="80.07" y="407.76" font-size="7.78" text-anchor="end" textLength="16.50" lengthAdjust="spacingAndGlyphs">MYC</text>
<rect x="112.90" y="411.40" width="45.90" height="4.60" fill="#0b4f83"/>
<line x1="82.6" y1="413.696" x2="85.1" y2="413.696" stroke="#231f20" stroke-width="0.8"/>
<text x="80.07" y="416.30" font-size="7.78" text-anchor="end" textLength="35.30" lengthAdjust="spacingAndGlyphs">HNRNPA1</text>
<rect x="110.70" y="419.93" width="48.10" height="4.60" fill="#0b4f83"/>
<line x1="82.6" y1="422.23199999999997" x2="85.1" y2="422.23199999999997" stroke="#231f20" stroke-width="0.8"/>
<text x="80.07" y="424.83" font-size="7.78" text-anchor="end" textLength="17.30" lengthAdjust="spacingAndGlyphs">PIM1</text>
<rect x="110.70" y="428.47" width="48.10" height="4.60" fill="#0b4f83"/>
<line x1="82.6" y1="430.76800000000003" x2="85.1" y2="430.76800000000003" stroke="#231f20" stroke-width="0.8"/>
<text x="80.07" y="433.37" font-size="7.78" text-anchor="end" textLength="22.50" lengthAdjust="spacingAndGlyphs">RPS3A</text>
<rect x="98.00" y="437.00" width="60.80" height="4.60" fill="#0b4f83"/>
<line x1="82.6" y1="439.304" x2="85.1" y2="439.304" stroke="#231f20" stroke-width="0.8"/>
<text x="80.07" y="441.90" font-size="7.78" text-anchor="end" textLength="22.90" lengthAdjust="spacingAndGlyphs">PARP1</text>
<line x1="85.1" y1="313.6" x2="85.1" y2="444.7" stroke="#231f20" stroke-width="0.9"/>
<line x1="84.7" y1="444.3" x2="159.3" y2="444.3" stroke="#231f20" stroke-width="0.9"/>
<line x1="158.8" y1="313.6" x2="158.8" y2="444.3" stroke="#231f20" stroke-width="0.9"/>
<line x1="84.4" y1="444.3" x2="84.4" y2="446.7" stroke="#231f20" stroke-width="0.8"/>
<text x="84.40" y="456.20" font-size="8.42" text-anchor="middle">−1.5</text>
<line x1="109.2" y1="444.3" x2="109.2" y2="446.7" stroke="#231f20" stroke-width="0.8"/>
<text x="109.20" y="456.20" font-size="8.42" text-anchor="middle">−1.0</text>
<line x1="134.2" y1="444.3" x2="134.2" y2="446.7" stroke="#231f20" stroke-width="0.8"/>
<text x="134.20" y="456.20" font-size="8.42" text-anchor="middle">−0.5</text>
<line x1="158.8" y1="444.3" x2="158.8" y2="446.7" stroke="#231f20" stroke-width="0.8"/>
<text x="158.80" y="456.20" font-size="8.42" text-anchor="middle">0.0</text>
<text x="80.07" y="467.40" font-size="9.61" textLength="83.86" lengthAdjust="spacingAndGlyphs">Log2 fold-change in mRNA</text>
<text x="88.67" y="478.40" font-size="9.61" textLength="65.76" lengthAdjust="spacingAndGlyphs">expression (HHT/Ctrl)</text>
<text x="255.88" y="383.20" font-size="11.34" font-weight="bold" fill="#000" textLength="6.62" lengthAdjust="spacingAndGlyphs">F</text>
<text x="315.35" y="390.80" font-size="8.21" textLength="120.64" lengthAdjust="spacingAndGlyphs">PD mtRunx1 AML #11 scRNA-Seq</text>
<line x1="282.3" y1="393.9" x2="468.5" y2="393.9" stroke="#444" stroke-width="1.0"/>
<text x="303.72" y="405.20" font-size="8.64" textLength="18.58" lengthAdjust="spacingAndGlyphs">MYC</text>
<line x1="282.2" y1="401.2" x2="282.2" y2="540.8" stroke="#231f20" stroke-width="1.0"/>
<line x1="281.7" y1="540.4" x2="341.8" y2="540.4" stroke="#231f20" stroke-width="1.0"/>
<line x1="279.59999999999997" y1="534.2" x2="282.2" y2="534.2" stroke="#231f20" stroke-width="0.8"/>
<line x1="279.59999999999997" y1="498.00000000000006" x2="282.2" y2="498.00000000000006" stroke="#231f20" stroke-width="0.8"/>
<line x1="279.59999999999997" y1="461.80000000000007" x2="282.2" y2="461.80000000000007" stroke="#231f20" stroke-width="0.8"/>
<line x1="279.59999999999997" y1="425.6" x2="282.2" y2="425.6" stroke="#231f20" stroke-width="0.8"/>
<line x1="298.1" y1="540.4" x2="298.1" y2="542.8" stroke="#231f20" stroke-width="0.8"/>
<text x="298.10" y="553.30" font-size="8.64" text-anchor="middle" textLength="13.98" lengthAdjust="spacingAndGlyphs">Ctrl</text>
<line x1="325.75" y1="540.4" x2="325.75" y2="542.8" stroke="#231f20" stroke-width="0.8"/>
<text x="325.75" y="553.30" font-size="8.64" text-anchor="middle" textLength="15.98" lengthAdjust="spacingAndGlyphs">HHT</text>
<text x="361.82" y="405.20" font-size="8.64" textLength="27.98" lengthAdjust="spacingAndGlyphs">EIF4A1</text>
<line x1="345.3" y1="401.2" x2="345.3" y2="540.8" stroke="#231f20" stroke-width="1.0"/>
<line x1="344.8" y1="540.4" x2="405.0" y2="540.4" stroke="#231f20" stroke-width="1.0"/>
<line x1="342.7" y1="534.2" x2="345.3" y2="534.2" stroke="#231f20" stroke-width="0.8"/>
<line x1="342.7" y1="498.00000000000006" x2="345.3" y2="498.00000000000006" stroke="#231f20" stroke-width="0.8"/>
<line x1="342.7" y1="461.80000000000007" x2="345.3" y2="461.80000000000007" stroke="#231f20" stroke-width="0.8"/>
<line x1="342.7" y1="425.6" x2="345.3" y2="425.6" stroke="#231f20" stroke-width="0.8"/>
<line x1="361.4" y1="540.4" x2="361.4" y2="542.8" stroke="#231f20" stroke-width="0.8"/>
<text x="361.40" y="553.30" font-size="8.64" text-anchor="middle" textLength="13.98" lengthAdjust="spacingAndGlyphs">Ctrl</text>
<line x1="388.7" y1="540.4" x2="388.7" y2="542.8" stroke="#231f20" stroke-width="0.8"/>
<text x="388.70" y="553.30" font-size="8.64" text-anchor="middle" textLength="15.98" lengthAdjust="spacingAndGlyphs">HHT</text>
<text x="432.22" y="405.20" font-size="8.64" textLength="19.68" lengthAdjust="spacingAndGlyphs">PIM1</text>
<line x1="409.0" y1="401.2" x2="409.0" y2="540.8" stroke="#231f20" stroke-width="1.0"/>
<line x1="408.5" y1="540.4" x2="468.5" y2="540.4" stroke="#231f20" stroke-width="1.0"/>
<line x1="406.4" y1="534.2" x2="409.0" y2="534.2" stroke="#231f20" stroke-width="0.8"/>
<line x1="406.4" y1="498.00000000000006" x2="409.0" y2="498.00000000000006" stroke="#231f20" stroke-width="0.8"/>
<line x1="406.4" y1="461.80000000000007" x2="409.0" y2="461.80000000000007" stroke="#231f20" stroke-width="0.8"/>
<line x1="406.4" y1="425.6" x2="409.0" y2="425.6" stroke="#231f20" stroke-width="0.8"/>
<line x1="425.0" y1="540.4" x2="425.0" y2="542.8" stroke="#231f20" stroke-width="0.8"/>
<text x="425.00" y="553.30" font-size="8.64" text-anchor="middle" textLength="13.98" lengthAdjust="spacingAndGlyphs">Ctrl</text>
<line x1="452.3" y1="540.4" x2="452.3" y2="542.8" stroke="#231f20" stroke-width="0.8"/>
<text x="452.30" y="553.30" font-size="8.64" text-anchor="middle" textLength="15.98" lengthAdjust="spacingAndGlyphs">HHT</text>
<text x="277.20" y="537.00" font-size="8.42" text-anchor="end">0</text>
<text x="277.20" y="500.80" font-size="8.42" text-anchor="end">1</text>
<text x="277.20" y="464.60" font-size="8.42" text-anchor="end">2</text>
<text x="277.20" y="428.40" font-size="8.42" text-anchor="end">3</text>
<text x="268.40" y="498.68" font-size="8.64" textLength="56.78" lengthAdjust="spacingAndGlyphs" transform="rotate(-90 268.40 498.68)">mRNA expression</text>
<line x1="298.5" y1="429.4" x2="298.5" y2="534" stroke="#444" stroke-width="0.8"/>
<rect x="286.60" y="533.6" width="23.60" height="1.2" fill="#222"/>
<path d="M298.20 437.00 L298.20 437.50 L298.20 438.00 L298.19 438.50 L298.19 439.00 L298.18 439.50 L298.17 440.00 L298.16 440.50 L298.15 441.00 L298.14 441.50 L298.13 442.00 L298.12 442.50 L298.10 443.00 L298.09 443.50 L298.07 444.00 L298.06 444.50 L298.04 445.00 L298.03 445.50 L298.01 446.00 L298.00 446.50 L297.98 447.00 L297.97 447.50 L297.96 448.00 L297.94 448.50 L297.93 449.00 L297.92 449.50 L297.90 450.00 L297.89 450.50 L297.88 451.00 L297.87 451.50 L297.87 452.00 L297.86 452.50 L297.86 453.00 L297.85 453.50 L297.85 454.00 L297.85 454.50 L297.85 455.00 L297.84 455.50 L297.84 456.00 L297.83 456.50 L297.82 457.00 L297.81 457.50 L297.80 458.00 L297.79 458.50 L297.78 459.00 L297.76 459.50 L297.75 460.00 L297.73 460.50 L297.72 461.00 L297.70 461.50 L297.68 462.00 L297.66 462.50 L297.65 463.00 L297.63 463.50 L297.61 464.00 L297.59 464.50 L297.58 465.00 L297.56 465.50 L297.55 466.00 L297.53 466.50 L297.52 467.00 L297.50 467.50 L297.49 468.00 L297.48 468.50 L297.47 469.00 L297.46 469.50 L297.46 470.00 L297.45 470.50 L297.45 471.00 L297.45 471.50 L297.45 472.00 L297.44 472.50 L297.44 473.00 L297.43 473.50 L297.42 474.00 L297.41 474.50 L297.39 475.00 L297.37 475.50 L297.36 476.00 L297.34 476.50 L297.32 477.00 L297.29 477.50 L297.27 478.00 L297.25 478.50 L297.23 479.00 L297.20 479.50 L297.18 480.00 L297.15 480.50 L297.13 481.00 L297.11 481.50 L297.08 482.00 L297.06 482.50 L297.04 483.00 L297.02 483.50 L297.00 484.00 L296.98 484.50 L296.96 485.00 L296.95 485.50 L296.93 486.00 L296.92 486.50 L296.91 487.00 L296.91 487.50 L296.90 488.00 L296.90 488.50 L296.90 489.00 L296.89 489.50 L296.88 490.00 L296.86 490.50 L296.83 491.00 L296.81 491.50 L296.78 492.00 L296.74 492.50 L296.71 493.00 L296.67 493.50 L296.63 494.00 L296.58 494.50 L296.54 495.00 L296.50 495.50 L296.45 496.00 L296.41 496.50 L296.37 497.00 L296.33 497.50 L296.29 498.00 L296.25 498.50 L296.22 499.00 L296.19 499.50 L296.16 500.00 L296.14 500.50 L296.12 501.00 L296.11 501.50 L296.10 502.00 L296.10 502.50 L296.10 503.00 L296.10 503.50 L296.10 504.00 L296.10 504.50 L296.10 505.00 L296.10 505.50 L296.10 506.00 L296.10 506.50 L296.10 507.00 L296.10 507.50 L296.10 508.00 L296.10 508.50 L296.10 509.00 L296.10 509.50 L296.10 510.00 L296.10 510.50 L296.10 511.00 L296.11 511.50 L296.14 512.00 L296.17 512.50 L296.23 513.00 L296.28 513.50 L296.35 514.00 L296.41 514.50 L296.48 515.00 L296.54 515.50 L296.60 516.00 L296.64 516.50 L296.68 517.00 L296.70 517.50 L296.69 518.00 L296.64 518.50 L296.52 519.00 L296.37 519.50 L296.20 520.00 L296.01 520.50 L295.83 521.00 L295.66 521.50 L295.53 522.00 L295.43 522.50 L295.40 523.00 L295.21 523.50 L294.74 524.00 L294.10 524.50 L293.43 525.00 L292.84 525.50 L292.47 526.00 L292.36 526.50 L291.98 527.00 L291.31 527.50 L290.49 528.00 L289.65 528.50 L288.93 529.00 L288.48 529.50 L288.36 530.00 L288.02 530.50 L287.46 531.00 L286.88 531.50 L286.48 532.00 L286.39 532.50 L286.32 533.00 L286.22 533.50 L286.13 534.00 L286.10 534.40 L310.70 534.40 L310.67 534.00 L310.58 533.50 L310.48 533.00 L310.41 532.50 L310.32 532.00 L309.92 531.50 L309.34 531.00 L308.78 530.50 L308.44 530.00 L308.32 529.50 L307.87 529.00 L307.15 528.50 L306.31 528.00 L305.49 527.50 L304.82 527.00 L304.44 526.50 L304.33 526.00 L303.96 525.50 L303.37 525.00 L302.70 524.50 L302.06 524.00 L301.59 523.50 L301.40 523.00 L301.37 522.50 L301.27 522.00 L301.14 521.50 L300.97 521.00 L300.79 520.50 L300.60 520.00 L300.43 519.50 L300.28 519.00 L300.16 518.50 L300.11 518.00 L300.10 517.50 L300.12 517.00 L300.16 516.50 L300.20 516.00 L300.26 515.50 L300.32 515.00 L300.39 514.50 L300.45 514.00 L300.52 513.50 L300.57 513.00 L300.63 512.50 L300.66 512.00 L300.69 511.50 L300.70 511.00 L300.70 510.50 L300.70 510.00 L300.70 509.50 L300.70 509.00 L300.70 508.50 L300.70 508.00 L300.70 507.50 L300.70 507.00 L300.70 506.50 L300.70 506.00 L300.70 505.50 L300.70 505.00 L300.70 504.50 L300.70 504.00 L300.70 503.50 L300.70 503.00 L300.70 502.50 L300.70 502.00 L300.69 501.50 L300.68 501.00 L300.66 500.50 L300.64 500.00 L300.61 499.50 L300.58 499.00 L300.55 498.50 L300.51 498.00 L300.47 497.50 L300.43 497.00 L300.39 496.50 L300.35 496.00 L300.30 495.50 L300.26 495.00 L300.22 494.50 L300.17 494.00 L300.13 493.50 L300.09 493.00 L300.06 492.50 L300.02 492.00 L299.99 491.50 L299.97 491.00 L299.94 490.50 L299.92 490.00 L299.91 489.50 L299.90 489.00 L299.90 488.50 L299.90 488.00 L299.89 487.50 L299.89 487.00 L299.88 486.50 L299.87 486.00 L299.85 485.50 L299.84 485.00 L299.82 484.50 L299.80 484.00 L299.78 483.50 L299.76 483.00 L299.74 482.50 L299.72 482.00 L299.69 481.50 L299.67 481.00 L299.65 480.50 L299.62 480.00 L299.60 479.50 L299.57 479.00 L299.55 478.50 L299.53 478.00 L299.51 477.50 L299.48 477.00 L299.46 476.50 L299.44 476.00 L299.43 475.50 L299.41 475.00 L299.39 474.50 L299.38 474.00 L299.37 473.50 L299.36 473.00 L299.36 472.50 L299.35 472.00 L299.35 471.50 L299.35 471.00 L299.35 470.50 L299.34 470.00 L299.34 469.50 L299.33 469.00 L299.32 468.50 L299.31 468.00 L299.30 467.50 L299.28 467.00 L299.27 466.50 L299.25 466.00 L299.24 465.50 L299.22 465.00 L299.21 464.50 L299.19 464.00 L299.17 463.50 L299.15 463.00 L299.14 462.50 L299.12 462.00 L299.10 461.50 L299.08 461.00 L299.07 460.50 L299.05 460.00 L299.04 459.50 L299.02 459.00 L299.01 458.50 L299.00 458.00 L298.99 457.50 L298.98 457.00 L298.97 456.50 L298.96 456.00 L298.96 455.50 L298.95 455.00 L298.95 454.50 L298.95 454.00 L298.95 453.50 L298.94 453.00 L298.94 452.50 L298.93 452.00 L298.93 451.50 L298.92 451.00 L298.91 450.50 L298.90 450.00 L298.88 449.50 L298.87 449.00 L298.86 448.50 L298.84 448.00 L298.83 447.50 L298.82 447.00 L298.80 446.50 L298.79 446.00 L298.77 445.50 L298.76 445.00 L298.74 444.50 L298.73 444.00 L298.71 443.50 L298.70 443.00 L298.68 442.50 L298.67 442.00 L298.66 441.50 L298.65 441.00 L298.64 440.50 L298.63 440.00 L298.62 439.50 L298.61 439.00 L298.61 438.50 L298.60 438.00 L298.60 437.50 L298.60 437.00Z" fill="#c8142f" stroke="#6e0d1a" stroke-width="0.5" stroke-linejoin="round"/>
<line x1="325.5" y1="430.6" x2="325.5" y2="534" stroke="#444" stroke-width="0.8"/>
<rect x="314.10" y="533.6" width="23.60" height="1.2" fill="#222"/>
<line x1="362.5" y1="410.8" x2="362.5" y2="534" stroke="#444" stroke-width="0.8"/>
<rect x="351.10" y="533.6" width="21.00" height="1.2" fill="#222"/>
<path d="M361.60 430.00 L361.59 430.50 L361.56 431.00 L361.51 431.50 L361.44 432.00 L361.37 432.50 L361.30 433.00 L361.23 433.50 L361.16 434.00 L361.09 434.50 L361.04 435.00 L361.01 435.50 L361.00 436.00 L360.96 436.50 L360.84 437.00 L360.66 437.50 L360.43 438.00 L360.18 438.50 L359.92 439.00 L359.66 439.50 L359.43 440.00 L359.23 440.50 L359.08 441.00 L359.01 441.50 L358.98 442.00 L358.84 442.50 L358.62 443.00 L358.31 443.50 L357.96 444.00 L357.58 444.50 L357.19 445.00 L356.82 445.50 L356.50 446.00 L356.24 446.50 L356.06 447.00 L356.00 447.50 L355.95 448.00 L355.81 448.50 L355.58 449.00 L355.30 449.50 L354.96 450.00 L354.59 450.50 L354.20 451.00 L353.80 451.50 L353.41 452.00 L353.04 452.50 L352.70 453.00 L352.42 453.50 L352.19 454.00 L352.05 454.50 L352.00 455.00 L351.97 455.50 L351.89 456.00 L351.77 456.50 L351.61 457.00 L351.42 457.50 L351.21 458.00 L350.98 458.50 L350.75 459.00 L350.52 459.50 L350.29 460.00 L350.08 460.50 L349.89 461.00 L349.73 461.50 L349.61 462.00 L349.53 462.50 L349.50 463.00 L349.52 463.50 L349.57 464.00 L349.65 464.50 L349.76 465.00 L349.88 465.50 L350.02 466.00 L350.16 466.50 L350.31 467.00 L350.45 467.50 L350.59 468.00 L350.72 468.50 L350.83 469.00 L350.91 469.50 L350.97 470.00 L351.00 470.50 L351.02 471.00 L351.11 471.50 L351.26 472.00 L351.45 472.50 L351.68 473.00 L351.94 473.50 L352.21 474.00 L352.50 474.50 L352.79 475.00 L353.06 475.50 L353.32 476.00 L353.55 476.50 L353.74 477.00 L353.89 477.50 L353.98 478.00 L354.00 478.50 L354.05 479.00 L354.17 479.50 L354.34 480.00 L354.56 480.50 L354.81 481.00 L355.09 481.50 L355.38 482.00 L355.68 482.50 L355.97 483.00 L356.24 483.50 L356.49 484.00 L356.70 484.50 L356.86 485.00 L356.96 485.50 L357.00 486.00 L357.02 486.50 L357.09 487.00 L357.19 487.50 L357.33 488.00 L357.48 488.50 L357.66 489.00 L357.85 489.50 L358.04 490.00 L358.23 490.50 L358.41 491.00 L358.58 491.50 L358.73 492.00 L358.85 492.50 L358.94 493.00 L358.99 493.50 L359.00 494.00 L359.03 494.50 L359.10 495.00 L359.19 495.50 L359.30 496.00 L359.42 496.50 L359.56 497.00 L359.71 497.50 L359.85 498.00 L359.99 498.50 L360.13 499.00 L360.25 499.50 L360.35 500.00 L360.43 500.50 L360.48 501.00 L360.50 501.50 L360.51 502.00 L360.54 502.50 L360.58 503.00 L360.63 503.50 L360.70 504.00 L360.77 504.50 L360.85 505.00 L360.92 505.50 L361.00 506.00 L361.07 506.50 L361.14 507.00 L361.20 507.50 L361.25 508.00 L361.28 508.50 L361.30 509.00 L361.31 509.50 L361.36 510.00 L361.43 510.50 L361.51 511.00 L361.57 511.50 L361.60 512.00 L362.40 512.00 L362.43 511.50 L362.49 511.00 L362.57 510.50 L362.64 510.00 L362.69 509.50 L362.70 509.00 L362.72 508.50 L362.75 508.00 L362.80 507.50 L362.86 507.00 L362.93 506.50 L363.00 506.00 L363.08 505.50 L363.15 505.00 L363.23 504.50 L363.30 504.00 L363.37 503.50 L363.42 503.00 L363.46 502.50 L363.49 502.00 L363.50 501.50 L363.52 501.00 L363.57 500.50 L363.65 500.00 L363.75 499.50 L363.87 499.00 L364.01 498.50 L364.15 498.00 L364.29 497.50 L364.44 497.00 L364.58 496.50 L364.70 496.00 L364.81 495.50 L364.90 495.00 L364.97 494.50 L365.00 494.00 L365.01 493.50 L365.06 493.00 L365.15 492.50 L365.27 492.00 L365.42 491.50 L365.59 491.00 L365.77 490.50 L365.96 490.00 L366.15 489.50 L366.34 489.00 L366.52 488.50 L366.67 488.00 L366.81 487.50 L366.91 487.00 L366.98 486.50 L367.00 486.00 L367.04 485.50 L367.14 485.00 L367.30 484.50 L367.51 484.00 L367.76 483.50 L368.03 483.00 L368.32 482.50 L368.62 482.00 L368.91 481.50 L369.19 481.00 L369.44 480.50 L369.66 480.00 L369.83 479.50 L369.95 479.00 L370.00 478.50 L370.02 478.00 L370.11 477.50 L370.26 477.00 L370.45 476.50 L370.68 476.00 L370.94 475.50 L371.21 475.00 L371.50 474.50 L371.79 474.00 L372.06 473.50 L372.32 473.00 L372.55 472.50 L372.74 472.00 L372.89 471.50 L372.98 471.00 L373.00 470.50 L373.03 470.00 L373.09 469.50 L373.17 469.00 L373.28 468.50 L373.41 468.00 L373.55 467.50 L373.69 467.00 L373.84 466.50 L373.98 466.00 L374.12 465.50 L374.24 465.00 L374.35 464.50 L374.43 464.00 L374.48 463.50 L374.50 463.00 L374.47 462.50 L374.39 462.00 L374.27 461.50 L374.11 461.00 L373.92 460.50 L373.71 460.00 L373.48 459.50 L373.25 459.00 L373.02 458.50 L372.79 458.00 L372.58 457.50 L372.39 457.00 L372.23 456.50 L372.11 456.00 L372.03 455.50 L372.00 455.00 L371.95 454.50 L371.81 454.00 L371.58 453.50 L371.30 453.00 L370.96 452.50 L370.59 452.00 L370.20 451.50 L369.80 451.00 L369.41 450.50 L369.04 450.00 L368.70 449.50 L368.42 449.00 L368.19 448.50 L368.05 448.00 L368.00 447.50 L367.94 447.00 L367.76 446.50 L367.50 446.00 L367.18 445.50 L366.81 445.00 L366.42 444.50 L366.04 444.00 L365.69 443.50 L365.38 443.00 L365.16 442.50 L365.02 442.00 L364.99 441.50 L364.92 441.00 L364.77 440.50 L364.57 440.00 L364.34 439.50 L364.08 439.00 L363.82 438.50 L363.57 438.00 L363.34 437.50 L363.16 437.00 L363.04 436.50 L363.00 436.00 L362.99 435.50 L362.96 435.00 L362.91 434.50 L362.84 434.00 L362.77 433.50 L362.70 433.00 L362.63 432.50 L362.56 432.00 L362.49 431.50 L362.44 431.00 L362.41 430.50 L362.40 430.00Z" fill="#c8142f" stroke="#6e0d1a" stroke-width="0.5" stroke-linejoin="round"/>
<path d="M360.80 532.40 L360.80 532.90 L360.80 533.40 L360.80 533.90 L360.80 534.40 L363.20 534.40 L363.20 533.90 L363.20 533.40 L363.20 532.90 L363.20 532.40Z" fill="#c8142f" stroke="#6e0d1a" stroke-width="0.5" stroke-linejoin="round"/>
<line x1="389.5" y1="422.4" x2="389.5" y2="534" stroke="#444" stroke-width="0.8"/>
<rect x="378.60" y="533.6" width="21.20" height="1.2" fill="#222"/>
<path d="M388.50 447.50 L388.47 448.00 L388.38 448.50 L388.25 449.00 L388.08 449.50 L387.88 450.00 L387.66 450.50 L387.42 451.00 L387.18 451.50 L386.94 452.00 L386.71 452.50 L386.50 453.00 L386.31 453.50 L386.16 454.00 L386.06 454.50 L386.00 455.00 L385.98 455.50 L385.90 456.00 L385.74 456.50 L385.53 457.00 L385.27 457.50 L384.97 458.00 L384.65 458.50 L384.32 459.00 L383.98 459.50 L383.65 460.00 L383.35 460.50 L383.07 461.00 L382.84 461.50 L382.66 462.00 L382.54 462.50 L382.50 463.00 L382.46 463.50 L382.36 464.00 L382.20 464.50 L381.99 465.00 L381.74 465.50 L381.47 466.00 L381.18 466.50 L380.88 467.00 L380.59 467.50 L380.31 468.00 L380.06 468.50 L379.84 469.00 L379.67 469.50 L379.55 470.00 L379.50 470.50 L379.48 471.00 L379.43 471.50 L379.33 472.00 L379.20 472.50 L379.05 473.00 L378.88 473.50 L378.69 474.00 L378.50 474.50 L378.31 475.00 L378.12 475.50 L377.95 476.00 L377.80 476.50 L377.67 477.00 L377.57 477.50 L377.52 478.00 L377.50 478.50 L377.49 479.00 L377.47 479.50 L377.44 480.00 L377.41 480.50 L377.36 481.00 L377.32 481.50 L377.27 482.00 L377.22 482.50 L377.17 483.00 L377.13 483.50 L377.09 484.00 L377.05 484.50 L377.02 485.00 L377.01 485.50 L377.00 486.00 L377.01 486.50 L377.05 487.00 L377.10 487.50 L377.16 488.00 L377.24 488.50 L377.33 489.00 L377.42 489.50 L377.52 490.00 L377.61 490.50 L377.71 491.00 L377.79 491.50 L377.86 492.00 L377.93 492.50 L377.97 493.00 L378.00 493.50 L378.00 494.00 L378.05 494.50 L378.13 495.00 L378.25 495.50 L378.40 496.00 L378.57 496.50 L378.75 497.00 L378.94 497.50 L379.14 498.00 L379.33 498.50 L379.50 499.00 L379.67 499.50 L379.80 500.00 L379.91 500.50 L379.98 501.00 L380.00 501.50 L380.04 502.00 L380.14 502.50 L380.30 503.00 L380.50 503.50 L380.74 504.00 L381.01 504.50 L381.30 505.00 L381.59 505.50 L381.88 506.00 L382.15 506.50 L382.41 507.00 L382.63 507.50 L382.80 508.00 L382.93 508.50 L382.99 509.00 L383.02 509.50 L383.16 510.00 L383.38 510.50 L383.69 511.00 L384.04 511.50 L384.42 512.00 L384.81 512.50 L385.18 513.00 L385.50 513.50 L385.76 514.00 L385.94 514.50 L386.00 515.00 L386.09 515.50 L386.31 516.00 L386.63 516.50 L387.00 517.00 L387.37 517.50 L387.69 518.00 L387.91 518.50 L388.00 519.00 L388.09 519.50 L388.30 520.00 L388.51 520.50 L388.60 521.00 L389.40 521.00 L389.49 520.50 L389.70 520.00 L389.91 519.50 L390.00 519.00 L390.09 518.50 L390.31 518.00 L390.63 517.50 L391.00 517.00 L391.37 516.50 L391.69 516.00 L391.91 515.50 L392.00 515.00 L392.06 514.50 L392.24 514.00 L392.50 513.50 L392.82 513.00 L393.19 512.50 L393.58 512.00 L393.96 511.50 L394.31 511.00 L394.62 510.50 L394.84 510.00 L394.98 509.50 L395.01 509.00 L395.07 508.50 L395.20 508.00 L395.37 507.50 L395.59 507.00 L395.85 506.50 L396.12 506.00 L396.41 505.50 L396.70 505.00 L396.99 504.50 L397.26 504.00 L397.50 503.50 L397.70 503.00 L397.86 502.50 L397.96 502.00 L398.00 501.50 L398.02 501.00 L398.09 500.50 L398.20 500.00 L398.33 499.50 L398.50 499.00 L398.67 498.50 L398.86 498.00 L399.06 497.50 L399.25 497.00 L399.43 496.50 L399.60 496.00 L399.75 495.50 L399.87 495.00 L399.95 494.50 L400.00 494.00 L400.00 493.50 L400.03 493.00 L400.07 492.50 L400.14 492.00 L400.21 491.50 L400.29 491.00 L400.39 490.50 L400.48 490.00 L400.58 489.50 L400.67 489.00 L400.76 488.50 L400.84 488.00 L400.90 487.50 L400.95 487.00 L400.99 486.50 L401.00 486.00 L400.99 485.50 L400.98 485.00 L400.95 484.50 L400.91 484.00 L400.87 483.50 L400.83 483.00 L400.78 482.50 L400.73 482.00 L400.68 481.50 L400.64 481.00 L400.59 480.50 L400.56 480.00 L400.53 479.50 L400.51 479.00 L400.50 478.50 L400.48 478.00 L400.43 477.50 L400.33 477.00 L400.20 476.50 L400.05 476.00 L399.88 475.50 L399.69 475.00 L399.50 474.50 L399.31 474.00 L399.12 473.50 L398.95 473.00 L398.80 472.50 L398.67 472.00 L398.57 471.50 L398.52 471.00 L398.50 470.50 L398.45 470.00 L398.33 469.50 L398.16 469.00 L397.94 468.50 L397.69 468.00 L397.41 467.50 L397.12 467.00 L396.82 466.50 L396.53 466.00 L396.26 465.50 L396.01 465.00 L395.80 464.50 L395.64 464.00 L395.54 463.50 L395.50 463.00 L395.46 462.50 L395.34 462.00 L395.16 461.50 L394.93 461.00 L394.65 460.50 L394.35 460.00 L394.02 459.50 L393.68 459.00 L393.35 458.50 L393.03 458.00 L392.73 457.50 L392.47 457.00 L392.26 456.50 L392.10 456.00 L392.02 455.50 L392.00 455.00 L391.94 454.50 L391.84 454.00 L391.69 453.50 L391.50 453.00 L391.29 452.50 L391.06 452.00 L390.82 451.50 L390.58 451.00 L390.34 450.50 L390.12 450.00 L389.92 449.50 L389.75 449.00 L389.62 448.50 L389.53 448.00 L389.50 447.50Z" fill="#2aa5dd" stroke="#155a7e" stroke-width="0.5" stroke-linejoin="round"/>
<path d="M388.50 526.60 L388.28 527.10 L387.80 527.60 L387.35 528.10 L387.19 528.60 L386.88 529.10 L386.30 529.60 L385.65 530.10 L385.15 530.60 L384.99 531.10 L384.61 531.60 L383.91 532.10 L383.15 532.60 L382.61 533.10 L382.47 533.60 L382.26 534.10 L382.20 534.40 L395.80 534.40 L395.74 534.10 L395.53 533.60 L395.39 533.10 L394.85 532.60 L394.09 532.10 L393.39 531.60 L393.01 531.10 L392.85 530.60 L392.35 530.10 L391.70 529.60 L391.12 529.10 L390.81 528.60 L390.65 528.10 L390.20 527.60 L389.72 527.10 L389.50 526.60Z" fill="#2aa5dd" stroke="#155a7e" stroke-width="0.5" stroke-linejoin="round"/>
<line x1="425.5" y1="435.7" x2="425.5" y2="534" stroke="#444" stroke-width="0.8"/>
<rect x="413.20" y="533.6" width="23.60" height="1.2" fill="#222"/>
<path d="M424.50 441.00 L424.49 441.50 L424.46 442.00 L424.42 442.50 L424.37 443.00 L424.30 443.50 L424.23 444.00 L424.14 444.50 L424.06 445.00 L423.97 445.50 L423.89 446.00 L423.81 446.50 L423.73 447.00 L423.66 447.50 L423.60 448.00 L423.55 448.50 L423.52 449.00 L423.50 449.50 L423.50 450.00 L423.47 450.50 L423.43 451.00 L423.36 451.50 L423.29 452.00 L423.20 452.50 L423.11 453.00 L423.01 453.50 L422.91 454.00 L422.81 454.50 L422.72 455.00 L422.63 455.50 L422.55 456.00 L422.49 456.50 L422.44 457.00 L422.41 457.50 L422.40 458.00 L422.36 458.50 L422.26 459.00 L422.11 459.50 L421.93 460.00 L421.71 460.50 L421.47 461.00 L421.21 461.50 L420.95 462.00 L420.69 462.50 L420.43 463.00 L420.19 463.50 L419.97 464.00 L419.79 464.50 L419.64 465.00 L419.54 465.50 L419.50 466.00 L419.48 466.50 L419.38 467.00 L419.23 467.50 L419.02 468.00 L418.78 468.50 L418.50 469.00 L418.19 469.50 L417.88 470.00 L417.56 470.50 L417.24 471.00 L416.95 471.50 L416.67 472.00 L416.43 472.50 L416.24 473.00 L416.09 473.50 L416.01 474.00 L416.00 474.50 L415.96 475.00 L415.89 475.50 L415.78 476.00 L415.65 476.50 L415.50 477.00 L415.34 477.50 L415.16 478.00 L414.98 478.50 L414.80 479.00 L414.63 479.50 L414.47 480.00 L414.32 480.50 L414.19 481.00 L414.10 481.50 L414.03 482.00 L414.00 482.50 L414.00 483.00 L413.99 483.50 L413.98 484.00 L413.97 484.50 L413.96 485.00 L413.94 485.50 L413.93 486.00 L413.91 486.50 L413.89 487.00 L413.87 487.50 L413.85 488.00 L413.84 488.50 L413.82 489.00 L413.81 489.50 L413.81 490.00 L413.80 490.50 L413.80 491.00 L413.80 491.50 L413.81 492.00 L413.82 492.50 L413.84 493.00 L413.85 493.50 L413.87 494.00 L413.89 494.50 L413.90 495.00 L413.92 495.50 L413.94 496.00 L413.96 496.50 L413.97 497.00 L413.98 497.50 L413.99 498.00 L414.00 498.50 L414.00 499.00 L414.01 499.50 L414.02 500.00 L414.04 500.50 L414.07 501.00 L414.11 501.50 L414.15 502.00 L414.20 502.50 L414.24 503.00 L414.29 503.50 L414.33 504.00 L414.37 504.50 L414.41 505.00 L414.44 505.50 L414.47 506.00 L414.49 506.50 L414.50 507.00 L414.51 507.50 L414.56 508.00 L414.65 508.50 L414.77 509.00 L414.92 509.50 L415.08 510.00 L415.25 510.50 L415.42 511.00 L415.58 511.50 L415.73 512.00 L415.85 512.50 L415.94 513.00 L415.99 513.50 L416.02 514.00 L416.21 514.50 L416.58 515.00 L417.07 515.50 L417.64 516.00 L418.24 516.50 L418.82 517.00 L419.33 517.50 L419.73 518.00 L419.96 518.50 L420.02 519.00 L420.19 519.50 L420.52 520.00 L420.93 520.50 L421.39 521.00 L421.82 521.50 L422.19 522.00 L422.43 522.50 L422.50 523.00 L422.37 523.50 L422.11 524.00 L421.78 524.50 L421.45 525.00 L421.17 525.50 L421.02 526.00 L420.88 526.50 L420.22 527.00 L419.19 527.50 L418.03 528.00 L416.96 528.50 L416.21 529.00 L415.99 529.50 L415.74 530.00 L415.22 530.50 L414.57 531.00 L413.90 531.50 L413.35 532.00 L413.03 532.50 L412.98 533.00 L412.86 533.50 L412.74 534.00 L412.70 534.40 L437.30 534.40 L437.26 534.00 L437.14 533.50 L437.02 533.00 L436.97 532.50 L436.65 532.00 L436.10 531.50 L435.43 531.00 L434.78 530.50 L434.26 530.00 L434.01 529.50 L433.79 529.00 L433.04 528.50 L431.97 528.00 L430.81 527.50 L429.78 527.00 L429.12 526.50 L428.98 526.00 L428.83 525.50 L428.55 525.00 L428.22 524.50 L427.89 524.00 L427.63 523.50 L427.50 523.00 L427.57 522.50 L427.81 522.00 L428.18 521.50 L428.61 521.00 L429.07 520.50 L429.48 520.00 L429.81 519.50 L429.98 519.00 L430.04 518.50 L430.27 518.00 L430.67 517.50 L431.18 517.00 L431.76 516.50 L432.36 516.00 L432.93 515.50 L433.42 515.00 L433.79 514.50 L433.98 514.00 L434.01 513.50 L434.06 513.00 L434.15 512.50 L434.27 512.00 L434.42 511.50 L434.58 511.00 L434.75 510.50 L434.92 510.00 L435.08 509.50 L435.23 509.00 L435.35 508.50 L435.44 508.00 L435.49 507.50 L435.50 507.00 L435.51 506.50 L435.53 506.00 L435.56 505.50 L435.59 505.00 L435.63 504.50 L435.67 504.00 L435.71 503.50 L435.76 503.00 L435.80 502.50 L435.85 502.00 L435.89 501.50 L435.93 501.00 L435.96 500.50 L435.98 500.00 L435.99 499.50 L436.00 499.00 L436.00 498.50 L436.01 498.00 L436.02 497.50 L436.03 497.00 L436.04 496.50 L436.06 496.00 L436.08 495.50 L436.10 495.00 L436.11 494.50 L436.13 494.00 L436.15 493.50 L436.16 493.00 L436.18 492.50 L436.19 492.00 L436.20 491.50 L436.20 491.00 L436.20 490.50 L436.19 490.00 L436.19 489.50 L436.18 489.00 L436.16 488.50 L436.15 488.00 L436.13 487.50 L436.11 487.00 L436.09 486.50 L436.07 486.00 L436.06 485.50 L436.04 485.00 L436.03 484.50 L436.02 484.00 L436.01 483.50 L436.00 483.00 L436.00 482.50 L435.97 482.00 L435.90 481.50 L435.81 481.00 L435.68 480.50 L435.53 480.00 L435.37 479.50 L435.20 479.00 L435.02 478.50 L434.84 478.00 L434.66 477.50 L434.50 477.00 L434.35 476.50 L434.22 476.00 L434.11 475.50 L434.04 475.00 L434.00 474.50 L433.99 474.00 L433.91 473.50 L433.76 473.00 L433.57 472.50 L433.33 472.00 L433.05 471.50 L432.76 471.00 L432.44 470.50 L432.12 470.00 L431.81 469.50 L431.50 469.00 L431.22 468.50 L430.98 468.00 L430.77 467.50 L430.62 467.00 L430.52 466.50 L430.50 466.00 L430.46 465.50 L430.36 465.00 L430.21 464.50 L430.03 464.00 L429.81 463.50 L429.57 463.00 L429.31 462.50 L429.05 462.00 L428.79 461.50 L428.53 461.00 L428.29 460.50 L428.07 460.00 L427.89 459.50 L427.74 459.00 L427.64 458.50 L427.60 458.00 L427.59 457.50 L427.56 457.00 L427.51 456.50 L427.45 456.00 L427.37 455.50 L427.28 455.00 L427.19 454.50 L427.09 454.00 L426.99 453.50 L426.89 453.00 L426.80 452.50 L426.71 452.00 L426.64 451.50 L426.57 451.00 L426.53 450.50 L426.50 450.00 L426.50 449.50 L426.48 449.00 L426.45 448.50 L426.40 448.00 L426.34 447.50 L426.27 447.00 L426.19 446.50 L426.11 446.00 L426.03 445.50 L425.94 445.00 L425.86 444.50 L425.77 444.00 L425.70 443.50 L425.63 443.00 L425.58 442.50 L425.54 442.00 L425.51 441.50 L425.50 441.00Z" fill="#c8142f" stroke="#6e0d1a" stroke-width="0.5" stroke-linejoin="round"/>
<line x1="452.5" y1="455.4" x2="452.5" y2="534" stroke="#444" stroke-width="0.8"/>
<rect x="440.50" y="533.6" width="23.60" height="1.2" fill="#222"/>
<path d="M451.90 470.00 L451.90 470.50 L451.89 471.00 L451.88 471.50 L451.87 472.00 L451.86 472.50 L451.84 473.00 L451.82 473.50 L451.79 474.00 L451.77 474.50 L451.74 475.00 L451.71 475.50 L451.68 476.00 L451.65 476.50 L451.62 477.00 L451.59 477.50 L451.55 478.00 L451.52 478.50 L451.48 479.00 L451.45 479.50 L451.41 480.00 L451.38 480.50 L451.35 481.00 L451.32 481.50 L451.29 482.00 L451.26 482.50 L451.23 483.00 L451.21 483.50 L451.18 484.00 L451.16 484.50 L451.14 485.00 L451.13 485.50 L451.12 486.00 L451.11 486.50 L451.10 487.00 L451.10 487.50 L451.09 488.00 L451.07 488.50 L451.04 489.00 L450.99 489.50 L450.94 490.00 L450.89 490.50 L450.83 491.00 L450.77 491.50 L450.71 492.00 L450.66 492.50 L450.61 493.00 L450.56 493.50 L450.53 494.00 L450.51 494.50 L450.50 495.00 L450.50 495.50 L450.51 496.00 L450.52 496.50 L450.54 497.00 L450.56 497.50 L450.59 498.00 L450.61 498.50 L450.64 499.00 L450.67 499.50 L450.70 500.00 L450.73 500.50 L450.76 501.00 L450.79 501.50 L450.81 502.00 L450.84 502.50 L450.86 503.00 L450.88 503.50 L450.89 504.00 L450.90 504.50 L450.90 505.00 L450.89 505.50 L450.88 506.00 L450.85 506.50 L450.82 507.00 L450.78 507.50 L450.74 508.00 L450.70 508.50 L450.66 509.00 L450.62 509.50 L450.58 510.00 L450.55 510.50 L450.52 511.00 L450.51 511.50 L450.50 512.00 L450.52 512.50 L450.58 513.00 L450.67 513.50 L450.78 514.00 L450.90 514.50 L451.02 515.00 L451.13 515.50 L451.22 516.00 L451.28 516.50 L451.30 517.00 L451.31 517.50 L451.33 518.00 L451.36 518.50 L451.41 519.00 L451.46 519.50 L451.51 520.00 L451.57 520.50 L451.62 521.00 L451.67 521.50 L451.72 522.00 L451.76 522.50 L451.78 523.00 L451.80 523.50 L451.79 524.00 L451.73 524.50 L451.63 525.00 L451.52 525.50 L451.41 526.00 L451.33 526.50 L451.30 527.00 L451.04 527.50 L450.39 528.00 L449.55 528.50 L448.71 529.00 L448.06 529.50 L447.80 530.00 L447.28 530.50 L446.04 531.00 L444.56 531.50 L443.32 532.00 L442.80 532.50 L442.07 533.00 L440.80 533.50 L440.30 534.00 L440.30 534.40 L464.30 534.40 L464.30 534.00 L463.80 533.50 L462.53 533.00 L461.80 532.50 L461.28 532.00 L460.04 531.50 L458.56 531.00 L457.32 530.50 L456.80 530.00 L456.54 529.50 L455.89 529.00 L455.05 528.50 L454.21 528.00 L453.56 527.50 L453.30 527.00 L453.27 526.50 L453.19 526.00 L453.08 525.50 L452.97 525.00 L452.87 524.50 L452.81 524.00 L452.80 523.50 L452.82 523.00 L452.84 522.50 L452.88 522.00 L452.93 521.50 L452.98 521.00 L453.03 520.50 L453.09 520.00 L453.14 519.50 L453.19 519.00 L453.24 518.50 L453.27 518.00 L453.29 517.50 L453.30 517.00 L453.32 516.50 L453.38 516.00 L453.47 515.50 L453.58 515.00 L453.70 514.50 L453.82 514.00 L453.93 513.50 L454.02 513.00 L454.08 512.50 L454.10 512.00 L454.09 511.50 L454.08 511.00 L454.05 510.50 L454.02 510.00 L453.98 509.50 L453.94 509.00 L453.90 508.50 L453.86 508.00 L453.82 507.50 L453.78 507.00 L453.75 506.50 L453.72 506.00 L453.71 505.50 L453.70 505.00 L453.70 504.50 L453.71 504.00 L453.72 503.50 L453.74 503.00 L453.76 502.50 L453.79 502.00 L453.81 501.50 L453.84 501.00 L453.87 500.50 L453.90 500.00 L453.93 499.50 L453.96 499.00 L453.99 498.50 L454.01 498.00 L454.04 497.50 L454.06 497.00 L454.08 496.50 L454.09 496.00 L454.10 495.50 L454.10 495.00 L454.09 494.50 L454.07 494.00 L454.04 493.50 L453.99 493.00 L453.94 492.50 L453.89 492.00 L453.83 491.50 L453.77 491.00 L453.71 490.50 L453.66 490.00 L453.61 489.50 L453.56 489.00 L453.53 488.50 L453.51 488.00 L453.50 487.50 L453.50 487.00 L453.49 486.50 L453.48 486.00 L453.47 485.50 L453.46 485.00 L453.44 484.50 L453.42 484.00 L453.39 483.50 L453.37 483.00 L453.34 482.50 L453.31 482.00 L453.28 481.50 L453.25 481.00 L453.22 480.50 L453.19 480.00 L453.15 479.50 L453.12 479.00 L453.08 478.50 L453.05 478.00 L453.01 477.50 L452.98 477.00 L452.95 476.50 L452.92 476.00 L452.89 475.50 L452.86 475.00 L452.83 474.50 L452.81 474.00 L452.78 473.50 L452.76 473.00 L452.74 472.50 L452.73 472.00 L452.72 471.50 L452.71 471.00 L452.70 470.50 L452.70 470.00Z" fill="#2aa5dd" stroke="#155a7e" stroke-width="0.5" stroke-linejoin="round"/>
<path d="M297.6 517.9h.7M298.7 496.0h.7M305.1 492.6h.7M305.5 510.4h.7M288.0 480.4h.7M301.0 435.0h.7M287.3 512.3h.7M292.5 477.3h.7M297.6 506.3h.7M301.6 501.7h.7M302.1 503.6h.7M309.7 515.5h.7M303.1 431.3h.7M288.6 507.7h.7M296.1 473.8h.7M306.3 518.2h.7M291.8 491.0h.7M296.1 503.0h.7M301.4 503.2h.7M294.6 488.0h.7M304.3 451.3h.7M288.4 508.7h.7M291.1 479.6h.7M303.7 497.2h.7M301.7 506.6h.7M293.2 515.5h.7M305.3 452.8h.7M296.0 503.3h.7M301.6 494.6h.7M292.9 501.4h.7M294.5 487.9h.7M300.3 504.6h.7M300.7 506.8h.7M298.0 500.9h.7M290.5 480.2h.7M305.6 465.9h.7M308.4 502.3h.7M308.7 492.3h.7M289.4 500.7h.7M308.9 515.7h.7M305.8 511.2h.7M293.7 499.2h.7M292.2 509.6h.7M306.4 493.2h.7M291.7 494.0h.7M293.1 485.0h.7M295.4 502.6h.7M290.0 483.4h.7M302.0 485.3h.7M300.3 516.1h.7M307.8 506.8h.7M309.0 486.5h.7M303.7 517.0h.7M309.8 518.3h.7M307.5 513.9h.7M307.9 495.4h.7M306.9 518.1h.7M300.1 503.4h.7M295.7 518.6h.7M301.6 492.3h.7M307.1 462.4h.7M300.2 507.4h.7M306.1 497.4h.7M300.7 508.9h.7M292.2 511.5h.7M308.0 509.6h.7M287.3 508.6h.7M290.9 512.0h.7M302.0 468.0h.7M302.2 501.3h.7M296.8 514.9h.7M295.8 458.3h.7M294.2 504.4h.7M306.4 508.4h.7M290.9 474.7h.7M293.3 511.6h.7M298.3 521.9h.7M306.1 501.0h.7M287.7 464.3h.7M287.9 485.3h.7M305.0 499.8h.7M290.1 512.9h.7M292.4 488.7h.7M288.1 505.7h.7M301.9 508.8h.7M308.9 479.6h.7M291.1 481.4h.7M297.8 497.1h.7M294.9 481.5h.7M298.9 475.4h.7M305.1 486.5h.7M289.0 474.5h.7M297.3 459.7h.7M307.7 495.6h.7M305.2 518.2h.7M291.7 481.2h.7M305.7 481.8h.7M307.5 489.4h.7M309.3 469.2h.7M307.7 483.5h.7M294.9 501.0h.7M304.5 521.7h.7M287.6 503.9h.7M290.9 460.3h.7M305.0 501.2h.7M303.5 501.1h.7M302.7 471.3h.7M289.0 497.9h.7M299.0 507.6h.7M298.9 510.9h.7M299.8 510.2h.7M307.5 494.6h.7M299.0 492.0h.7M291.6 521.7h.7M287.6 509.3h.7M298.8 458.6h.7M298.2 504.5h.7M288.5 507.0h.7M308.1 522.1h.7M297.8 494.8h.7M307.5 500.8h.7M301.1 511.8h.7M290.0 448.5h.7M292.2 476.5h.7M294.3 485.6h.7M303.7 512.6h.7M298.6 512.4h.7M297.0 504.6h.7M296.4 496.2h.7M301.4 481.2h.7M299.1 477.9h.7M292.3 511.7h.7M305.5 507.9h.7M308.0 463.9h.7M309.8 500.2h.7M303.6 450.2h.7M289.2 502.9h.7M289.9 512.5h.7M302.6 499.8h.7M307.8 503.9h.7M289.6 434.7h.7M302.6 486.2h.7M288.6 521.7h.7M298.7 495.5h.7M290.3 482.3h.7M309.6 502.9h.7M308.7 453.4h.7M304.4 506.7h.7M296.8 521.6h.7M287.3 483.1h.7M297.4 481.4h.7M296.2 495.7h.7M287.4 502.2h.7M305.3 441.4h.7M296.2 472.4h.7M298.5 504.8h.7M307.8 453.9h.7M304.7 499.0h.7M307.1 515.9h.7M304.5 467.8h.7M288.6 508.8h.7M297.7 499.2h.7M301.2 518.4h.7M308.5 496.7h.7M300.0 499.7h.7M295.9 466.8h.7M304.4 474.0h.7M287.5 477.9h.7M296.2 488.0h.7M291.5 517.2h.7M307.6 502.1h.7M298.6 480.0h.7M301.5 506.5h.7M288.7 509.2h.7M308.2 486.9h.7M297.8 512.2h.7M288.3 508.4h.7M300.6 475.7h.7M293.5 502.5h.7M303.3 499.5h.7M287.3 512.2h.7M304.2 502.7h.7M307.5 507.2h.7M308.5 440.7h.7M307.6 498.8h.7M292.6 504.8h.7M297.7 463.0h.7M305.6 468.2h.7M297.4 470.1h.7M288.2 498.8h.7M302.2 474.6h.7M293.0 500.6h.7M299.1 511.9h.7M308.7 444.5h.7M307.4 486.6h.7M301.2 479.2h.7M299.9 511.1h.7M301.4 462.6h.7M309.3 482.6h.7M307.0 446.7h.7M296.7 500.8h.7M289.3 482.3h.7M302.4 480.9h.7M301.4 484.1h.7M294.8 516.3h.7M306.1 485.6h.7M301.2 494.4h.7M291.9 466.9h.7M295.4 509.9h.7M309.6 457.5h.7M308.0 514.3h.7M307.0 512.2h.7M288.9 505.3h.7M293.8 511.8h.7M288.7 484.8h.7M293.9 511.2h.7M302.8 492.9h.7M303.6 502.5h.7M289.7 500.9h.7M308.4 520.2h.7M297.0 473.6h.7M296.1 491.9h.7M307.4 444.8h.7M295.3 515.5h.7M295.8 500.9h.7M299.3 516.4h.7M304.3 496.5h.7M293.4 491.0h.7M299.9 522.4h.7M301.8 460.2h.7M305.0 468.3h.7M288.9 503.5h.7M301.5 481.6h.7M304.0 511.6h.7M304.5 486.8h.7M304.4 475.6h.7M302.3 484.6h.7M303.1 512.5h.7M296.4 464.2h.7M305.4 503.1h.7M307.3 514.8h.7M303.2 470.8h.7M296.6 502.5h.7M309.6 498.0h.7M290.8 494.7h.7M309.1 516.9h.7M294.0 504.8h.7M291.1 520.1h.7M307.7 522.8h.7M289.5 505.2h.7M303.4 507.2h.7M292.1 475.5h.7M304.3 510.2h.7M299.5 502.3h.7M307.2 499.7h.7M294.8 456.6h.7M292.0 469.1h.7M308.6 512.2h.7M298.8 502.1h.7M309.6 500.1h.7M297.8 487.0h.7M305.2 507.3h.7M290.6 494.6h.7M292.9 512.8h.7M309.6 510.2h.7M299.2 510.4h.7M305.7 508.8h.7M305.7 488.0h.7M289.2 511.0h.7M297.7 491.8h.7M293.9 485.7h.7M296.5 503.8h.7M291.8 432.5h.7M299.0 470.7h.7M294.1 504.2h.7M294.0 517.0h.7M302.7 511.1h.7M296.0 518.9h.7M301.9 488.9h.7M295.6 513.1h.7M297.4 485.5h.7M309.6 494.9h.7M293.6 481.1h.7M299.3 494.4h.7M302.2 514.5h.7M291.6 499.6h.7M299.8 505.9h.7M294.6 452.7h.7M289.2 479.6h.7M303.1 482.2h.7M300.5 496.9h.7M289.8 507.9h.7M288.7 502.6h.7M301.8 475.7h.7M305.7 478.5h.7M287.4 514.3h.7M303.0 499.1h.7M300.9 452.3h.7M301.8 513.7h.7M295.6 500.2h.7M300.9 479.8h.7M299.5 506.4h.7M303.3 514.9h.7M298.8 458.2h.7M308.5 481.6h.7M291.5 496.4h.7M302.9 508.4h.7M308.2 494.6h.7M309.2 514.3h.7M307.6 507.6h.7M293.0 506.5h.7M309.6 466.0h.7M305.8 493.8h.7M307.5 512.2h.7M291.2 518.0h.7M291.1 483.5h.7M308.4 456.3h.7M303.8 495.8h.7M300.5 493.7h.7M297.7 476.3h.7M295.8 508.1h.7M293.0 478.0h.7M294.6 469.6h.7M290.3 463.5h.7M300.7 452.5h.7M302.7 521.8h.7M304.1 475.1h.7M306.5 488.1h.7M296.9 509.6h.7M299.0 470.7h.7M307.6 516.3h.7M307.5 492.4h.7M300.6 478.3h.7M288.6 494.5h.7M297.2 495.1h.7M302.8 491.4h.7M292.5 483.9h.7M288.6 515.2h.7M309.0 450.9h.7M305.4 475.8h.7M304.0 517.3h.7M305.1 481.0h.7M299.3 511.7h.7M293.8 446.0h.7M288.4 508.8h.7M295.1 451.6h.7M288.0 502.2h.7M298.4 501.4h.7M309.3 466.5h.7M308.0 506.4h.7M291.5 445.1h.7M290.9 498.4h.7M309.7 472.5h.7M307.1 513.6h.7M289.4 514.1h.7M306.8 500.6h.7M290.1 454.9h.7M288.8 470.8h.7M294.0 513.3h.7M292.4 483.7h.7M305.0 477.4h.7M300.4 520.7h.7M302.2 516.7h.7M301.6 485.3h.7M299.0 497.2h.7M288.0 489.0h.7M305.3 489.8h.7M293.5 500.8h.7M299.5 486.8h.7M307.5 500.1h.7M304.1 440.5h.7M308.2 506.3h.7M301.7 478.3h.7M302.0 496.3h.7M306.3 506.4h.7M298.9 489.2h.7M290.8 445.1h.7M292.4 462.0h.7M305.0 506.1h.7M300.2 516.5h.7M287.8 486.4h.7M306.9 491.8h.7M290.5 522.7h.7M297.1 520.5h.7M305.2 508.6h.7M299.4 497.1h.7M292.4 498.8h.7M294.2 510.1h.7M299.0 482.7h.7M305.7 512.8h.7M292.8 511.3h.7M304.9 516.3h.7M291.9 517.6h.7M288.0 449.9h.7M290.3 506.6h.7M292.5 509.0h.7M290.2 462.8h.7M288.7 512.3h.7M309.7 498.0h.7M292.8 488.3h.7M292.5 498.9h.7M294.7 499.4h.7M300.9 464.6h.7M288.3 521.8h.7M302.8 499.9h.7M297.5 515.7h.7M306.2 521.1h.7M294.9 507.4h.7M299.5 516.3h.7M297.7 506.7h.7M297.2 501.6h.7M291.7 472.2h.7M295.3 493.9h.7M287.4 501.5h.7M308.1 509.7h.7M293.1 470.9h.7M295.2 494.3h.7M303.5 455.7h.7M295.8 443.9h.7M307.1 507.6h.7M288.3 507.2h.7M292.4 521.9h.7M287.7 500.3h.7M296.7 497.0h.7M292.9 470.4h.7M302.2 467.9h.7M303.3 506.4h.7M295.8 500.4h.7M294.9 485.1h.7M287.9 499.9h.7M305.4 518.4h.7M293.8 473.6h.7M302.7 477.2h.7M308.8 492.7h.7M289.0 484.9h.7M295.9 493.6h.7M298.3 516.1h.7M290.6 502.4h.7M302.2 515.3h.7M289.1 507.8h.7M300.3 514.3h.7M299.6 482.8h.7M295.3 471.1h.7M296.2 507.3h.7M297.7 523.3h.7M292.8 508.5h.7M299.9 522.0h.7M302.2 490.1h.7M308.8 506.0h.7M304.6 520.8h.7M296.5 499.3h.7M305.9 516.6h.7M287.9 513.5h.7M298.6 492.8h.7M290.4 485.9h.7M292.3 506.7h.7M299.4 492.6h.7M301.8 508.0h.7M301.2 468.2h.7M294.6 466.2h.7M303.3 501.7h.7M302.7 496.4h.7M301.2 453.9h.7M299.9 495.7h.7M299.2 512.9h.7M292.7 491.3h.7M289.9 503.1h.7M288.6 497.1h.7M297.3 510.3h.7M298.0 494.8h.7M288.2 494.2h.7M295.9 509.8h.7M294.5 487.4h.7M304.3 491.6h.7M296.6 477.1h.7M301.2 505.7h.7M295.6 484.5h.7M292.3 495.1h.7M308.5 494.5h.7M290.0 456.3h.7M296.0 507.3h.7M309.5 447.0h.7M288.0 510.1h.7M303.7 514.2h.7M287.6 447.6h.7M298.0 477.1h.7M306.1 515.9h.7M295.9 490.7h.7M295.9 482.7h.7M290.3 515.2h.7M289.4 514.4h.7M289.7 458.3h.7M287.4 496.3h.7M293.2 473.0h.7M298.0 496.9h.7M288.5 509.1h.7M294.1 452.9h.7M309.7 503.7h.7M306.8 497.5h.7M296.0 498.8h.7M301.2 513.8h.7M309.7 488.7h.7M306.0 517.0h.7M290.8 485.4h.7M288.7 506.6h.7M298.7 508.7h.7M291.8 518.2h.7M305.5 438.3h.7M303.8 485.8h.7M304.5 502.2h.7M289.3 487.0h.7M292.7 479.0h.7M287.5 443.5h.7M295.4 484.8h.7M305.5 471.2h.7M293.4 515.4h.7M294.3 469.8h.7M291.8 517.9h.7M299.5 464.1h.7M290.3 483.7h.7M296.8 504.3h.7M294.3 519.9h.7M308.7 487.4h.7M304.2 501.9h.7M309.5 515.4h.7M296.3 501.4h.7M291.1 489.8h.7M294.3 520.5h.7M290.4 483.2h.7M291.8 504.0h.7M307.2 470.9h.7M299.9 500.5h.7M306.1 518.2h.7M296.6 510.2h.7M292.2 504.2h.7M287.7 504.7h.7M297.2 495.8h.7M290.5 518.4h.7M309.6 522.9h.7M309.6 497.4h.7M306.8 492.5h.7M292.3 496.3h.7M301.8 488.3h.7M298.7 444.3h.7M288.5 483.8h.7M305.4 490.1h.7M299.2 516.9h.7M301.7 482.7h.7M299.7 500.6h.7M305.2 499.2h.7M304.6 486.4h.7M290.5 463.0h.7M289.3 519.7h.7M306.0 521.2h.7M291.1 491.0h.7M307.6 500.1h.7M309.5 521.1h.7M302.2 509.9h.7M287.4 516.0h.7M293.4 515.0h.7M302.8 466.1h.7M297.6 497.3h.7M289.6 496.8h.7M291.5 470.0h.7M302.8 467.9h.7M296.3 496.1h.7M301.4 501.7h.7M297.4 504.1h.7M308.5 502.3h.7M300.2 511.1h.7M306.9 516.5h.7M297.4 498.9h.7M295.8 477.6h.7M288.5 501.4h.7M293.4 515.9h.7M302.8 500.2h.7M292.6 491.0h.7M292.7 493.3h.7M294.8 491.8h.7M299.4 474.3h.7M307.4 520.6h.7M303.5 515.7h.7M294.8 475.2h.7M301.4 454.8h.7M295.2 509.6h.7M300.8 515.4h.7M309.3 436.0h.7M301.8 482.4h.7M309.7 468.4h.7M302.0 519.6h.7M309.6 506.3h.7M296.0 513.0h.7M288.9 480.5h.7M303.9 517.9h.7M305.5 521.1h.7M297.7 485.8h.7M306.6 514.3h.7M295.0 455.3h.7M299.2 489.3h.7M298.6 506.6h.7M299.9 517.8h.7M293.7 497.8h.7M292.6 476.9h.7M297.3 501.7h.7M297.5 483.3h.7M290.5 462.0h.7M299.0 438.8h.7M309.0 522.9h.7M305.7 502.6h.7M303.2 486.5h.7M289.5 511.4h.7M309.0 509.4h.7M296.5 484.3h.7M292.9 511.6h.7M298.1 500.4h.7M307.2 494.2h.7M307.6 475.7h.7M293.8 514.2h.7M296.8 488.0h.7M295.2 498.5h.7M306.1 512.2h.7M299.0 507.8h.7M289.3 496.5h.7M294.2 504.3h.7M298.1 506.6h.7M296.3 490.9h.7M308.9 436.3h.7M300.6 508.2h.7M300.4 513.6h.7M298.3 494.7h.7M289.1 487.0h.7M293.2 512.4h.7M296.2 516.0h.7M302.5 499.1h.7M294.5 488.5h.7M305.7 510.9h.7M304.4 490.6h.7M301.2 511.8h.7M287.5 466.3h.7M304.2 468.4h.7M296.5 460.5h.7M309.4 486.2h.7M297.0 432.9h.7M295.6 474.3h.7M294.3 513.9h.7M288.6 484.0h.7M299.5 500.8h.7M289.7 522.8h.7M308.0 495.5h.7M296.5 512.8h.7M306.9 482.7h.7M287.7 513.6h.7M308.2 520.5h.7M302.7 470.2h.7M303.9 507.9h.7M300.4 513.9h.7M295.0 512.6h.7M298.9 479.1h.7M295.2 518.3h.7M294.5 481.5h.7M303.7 485.8h.7M292.9 474.5h.7M303.3 504.1h.7M301.1 518.3h.7M297.4 451.8h.7M292.3 512.5h.7M306.3 476.0h.7M302.9 503.3h.7M290.5 501.0h.7M304.4 462.8h.7M292.0 463.8h.7M299.2 497.9h.7M300.3 467.0h.7M308.1 439.1h.7M303.4 513.4h.7M306.6 488.7h.7M287.5 488.3h.7M292.8 474.9h.7M298.1 509.0h.7M293.5 503.1h.7M290.7 510.1h.7M299.4 473.5h.7M299.2 504.8h.7M292.9 462.5h.7M308.4 518.0h.7M297.3 507.0h.7M303.6 516.6h.7M295.0 479.2h.7M308.7 509.4h.7M288.6 494.1h.7M289.3 466.9h.7M294.1 451.5h.7M288.4 453.8h.7M300.0 483.5h.7M302.6 456.5h.7M288.8 482.8h.7M291.2 506.4h.7M291.5 498.8h.7M296.5 472.0h.7M299.7 497.8h.7M299.8 449.2h.7M303.0 511.9h.7M309.3 444.2h.7M308.3 429.4h.7M298.2 518.6h.7M301.0 496.0h.7M289.0 478.8h.7M289.5 483.1h.7M308.8 488.2h.7M302.7 488.8h.7M300.2 481.0h.7M288.5 486.9h.7M309.2 487.7h.7M294.9 499.5h.7M304.6 503.5h.7M294.6 520.3h.7M297.4 497.3h.7M290.4 503.9h.7M297.9 513.4h.7M301.9 493.1h.7M298.9 501.9h.7M292.3 503.9h.7M294.5 513.7h.7M299.3 500.4h.7M292.0 508.2h.7M309.6 517.0h.7M309.6 490.1h.7M304.8 496.2h.7M305.0 494.4h.7M303.9 512.2h.7M305.7 494.7h.7M288.5 519.5h.7M290.3 458.1h.7M308.2 489.0h.7M303.3 503.4h.7M291.4 462.0h.7M303.6 518.7h.7M297.3 488.5h.7M308.4 502.5h.7M291.2 502.9h.7M291.2 500.0h.7M299.0 506.0h.7M299.0 512.3h.7M288.9 469.6h.7M304.3 500.6h.7M298.5 451.7h.7M293.7 515.7h.7M309.2 468.7h.7M297.6 521.5h.7M287.6 480.7h.7M296.1 502.6h.7M303.8 505.4h.7M287.4 503.1h.7M301.9 505.0h.7M291.2 521.0h.7M292.9 509.9h.7M295.4 482.7h.7M295.1 515.6h.7M300.2 468.2h.7M294.6 520.5h.7M292.3 462.7h.7M290.7 437.9h.7M309.4 514.0h.7M292.4 500.6h.7M290.6 464.2h.7M302.7 459.7h.7M299.8 504.1h.7M295.6 469.8h.7M298.3 515.0h.7M297.5 522.6h.7M298.3 515.8h.7M288.9 511.1h.7M292.3 469.8h.7M307.6 483.4h.7M296.7 499.1h.7M298.0 469.3h.7M306.2 513.1h.7M291.9 493.1h.7M305.3 478.1h.7M305.2 436.7h.7M305.5 499.5h.7M293.9 473.8h.7M308.0 491.0h.7M305.1 518.8h.7M307.8 488.2h.7M302.2 461.8h.7M309.4 512.0h.7M302.8 491.0h.7M309.5 477.4h.7M288.3 468.6h.7M304.5 468.6h.7M308.5 472.3h.7M298.2 502.2h.7M290.7 510.3h.7M292.2 484.3h.7M298.8 483.2h.7M301.8 509.9h.7M308.5 476.8h.7M293.6 487.4h.7M301.1 474.0h.7M293.4 456.0h.7M298.1 501.6h.7M297.8 500.1h.7M292.7 502.5h.7M294.5 515.9h.7M288.2 512.8h.7M301.6 513.3h.7M297.8 515.5h.7M289.8 451.6h.7M299.7 516.1h.7M308.4 512.5h.7M309.7 458.3h.7M291.3 466.8h.7M299.6 478.4h.7M303.4 506.7h.7M301.8 498.9h.7M297.4 461.9h.7M308.8 499.2h.7M288.3 446.7h.7M297.0 510.9h.7M296.7 492.3h.7M301.8 487.7h.7M301.0 503.7h.7M288.2 510.3h.7M287.4 514.4h.7M289.4 518.3h.7M306.4 446.6h.7M309.4 516.9h.7M293.9 513.8h.7M296.4 500.3h.7M307.2 518.5h.7M297.2 504.5h.7M294.2 519.9h.7M296.4 480.2h.7M297.8 507.2h.7M297.4 504.9h.7M304.9 485.0h.7M293.8 517.3h.7M308.7 510.7h.7M301.9 495.6h.7M304.6 519.0h.7M303.2 472.4h.7M296.5 510.1h.7M292.0 488.5h.7M309.7 493.9h.7M300.3 505.6h.7M306.1 490.1h.7M304.4 523.3h.7M300.2 501.0h.7M299.4 512.7h.7M290.1 478.3h.7M308.7 499.0h.7M299.9 493.3h.7M301.3 497.0h.7M302.1 457.9h.7M290.3 505.0h.7M297.5 503.1h.7M308.7 466.0h.7M304.3 509.6h.7M302.7 514.0h.7M295.7 463.4h.7M287.6 517.4h.7M302.0 498.4h.7M308.3 517.1h.7M291.1 488.4h.7M303.8 492.3h.7M298.2 499.0h.7M306.6 457.5h.7M303.0 505.3h.7M292.0 504.5h.7M294.2 489.8h.7M300.9 503.5h.7M292.1 477.7h.7M309.0 513.4h.7M297.0 513.1h.7M302.4 497.5h.7M291.9 519.3h.7M306.9 438.0h.7M303.4 514.0h.7M302.9 503.0h.7M300.3 501.5h.7M288.0 520.3h.7M306.7 494.2h.7M289.3 510.3h.7M293.2 511.1h.7M302.9 496.7h.7M299.8 517.6h.7M295.2 507.0h.7M287.4 511.1h.7M300.5 500.7h.7M297.7 492.9h.7M294.1 466.6h.7M302.0 457.6h.7M298.4 509.9h.7M297.7 518.8h.7M299.2 474.8h.7M287.5 478.1h.7M287.7 513.7h.7M291.4 496.9h.7M306.1 496.3h.7M297.4 496.8h.7M309.6 516.2h.7M292.6 454.9h.7M299.4 463.7h.7M298.8 499.0h.7M287.3 434.6h.7M289.5 520.8h.7M308.4 472.3h.7M300.3 507.7h.7M302.4 503.6h.7M294.7 521.7h.7M301.4 480.5h.7M291.9 505.9h.7M304.4 493.3h.7M289.3 495.5h.7M293.0 492.6h.7M288.3 491.6h.7M291.6 507.1h.7M290.7 514.6h.7M292.9 499.6h.7M291.2 490.9h.7M288.0 515.7h.7M295.7 512.4h.7M291.2 487.5h.7M309.1 461.3h.7M302.4 513.2h.7M291.3 485.0h.7M303.0 514.1h.7M295.7 469.3h.7M298.3 507.2h.7M299.1 519.5h.7M287.6 508.3h.7M290.4 468.2h.7M307.9 476.6h.7M304.5 521.6h.7M292.4 487.2h.7M306.7 509.6h.7M291.3 513.2h.7M304.0 500.5h.7M303.5 506.0h.7M290.7 506.1h.7M287.6 514.3h.7M288.1 492.2h.7M300.7 482.4h.7M293.5 450.4h.7M289.6 507.6h.7M290.8 513.0h.7M295.6 494.8h.7M295.8 520.6h.7M287.9 514.2h.7M287.2 482.0h.7M300.4 444.4h.7M290.0 515.6h.7M303.1 511.6h.7M287.9 473.4h.7M304.9 513.7h.7M308.1 461.0h.7M304.5 495.7h.7M306.7 491.2h.7M300.8 511.1h.7M307.3 441.1h.7M306.1 471.0h.7M296.2 478.3h.7M290.0 489.4h.7M293.4 465.9h.7M300.8 503.0h.7M309.5 501.9h.7M291.3 520.0h.7M291.5 468.4h.7M287.0 487.5h.7M294.5 508.4h.7M288.5 493.4h.7M292.3 488.4h.7M308.3 512.5h.7M294.1 513.4h.7M297.6 472.2h.7M309.0 470.7h.7M301.1 493.4h.7M291.2 497.9h.7M300.0 483.4h.7M289.2 481.6h.7M297.5 509.6h.7M306.5 495.4h.7M289.6 521.4h.7M287.7 475.5h.7M288.5 507.6h.7M305.8 471.8h.7M289.7 498.2h.7M299.6 491.7h.7M306.7 520.6h.7M304.7 473.9h.7M297.7 489.2h.7M300.7 517.3h.7M298.6 485.3h.7M302.6 498.8h.7M305.1 441.8h.7M305.3 521.3h.7M308.0 505.3h.7M295.1 518.8h.7M288.1 447.0h.7M290.4 494.5h.7M296.7 501.0h.7M293.7 485.6h.7M307.3 520.6h.7M298.0 486.3h.7M290.1 507.2h.7M302.4 458.2h.7M297.2 512.8h.7M294.6 450.9h.7M304.8 500.9h.7M297.7 493.5h.7M305.0 452.7h.7M297.7 494.7h.7M307.9 504.7h.7M308.1 511.5h.7M301.1 463.2h.7M305.1 512.7h.7M299.5 514.8h.7M306.7 458.4h.7M290.8 517.9h.7M304.3 491.7h.7M303.6 500.8h.7M290.9 505.3h.7M298.3 482.2h.7M291.0 497.4h.7M300.8 446.4h.7M301.0 513.2h.7M300.9 508.2h.7M301.8 470.8h.7M296.4 511.0h.7M295.0 515.0h.7M305.2 499.3h.7M301.7 478.2h.7M294.2 517.8h.7M293.9 501.5h.7M301.6 504.4h.7M288.9 452.1h.7M307.0 508.4h.7M297.8 516.6h.7M293.3 511.8h.7M287.7 470.6h.7M291.4 482.4h.7M288.8 518.0h.7M297.3 489.4h.7M294.3 488.9h.7M309.2 517.8h.7M308.0 504.0h.7M305.4 494.7h.7M299.7 511.4h.7M290.6 499.5h.7M300.2 449.0h.7M301.7 431.8h.7M304.7 513.8h.7M296.4 476.2h.7M303.3 470.4h.7M305.8 513.2h.7M290.3 517.0h.7M294.1 494.2h.7M297.6 485.6h.7M294.6 492.3h.7M305.3 459.3h.7M307.2 513.4h.7M293.1 510.3h.7M296.4 507.5h.7" stroke="#000" stroke-width="1.0" fill="none"/>
<path d="M317.6 516.5h.7M323.0 518.9h.7M328.3 508.5h.7M329.6 520.0h.7M335.3 515.0h.7M333.3 510.5h.7M323.7 513.8h.7M314.7 508.3h.7M316.4 505.8h.7M336.3 489.8h.7M321.6 514.5h.7M318.1 510.3h.7M333.2 508.4h.7M324.0 510.6h.7M315.0 517.4h.7M336.7 510.9h.7M322.7 487.8h.7M329.9 516.4h.7M326.2 511.2h.7M325.9 494.1h.7M326.3 509.1h.7M324.2 517.3h.7M327.1 511.4h.7M330.4 514.4h.7M329.1 512.6h.7M325.0 506.5h.7M336.5 513.1h.7M336.5 505.3h.7M318.7 506.9h.7M335.5 514.3h.7M322.2 512.9h.7M314.5 501.9h.7M337.5 523.9h.7M314.9 523.1h.7M329.1 509.2h.7M326.5 522.4h.7M336.3 514.9h.7M318.1 506.1h.7M336.2 508.5h.7M330.4 515.1h.7M320.2 510.7h.7M330.4 507.1h.7M319.9 507.2h.7M337.0 515.7h.7M336.6 521.0h.7M324.0 520.9h.7M327.8 503.5h.7M322.8 517.7h.7M330.8 512.7h.7M332.8 502.2h.7M332.6 493.3h.7M316.6 515.6h.7M330.3 516.9h.7M328.7 499.3h.7M323.4 520.5h.7M323.7 513.7h.7M316.4 513.0h.7M330.4 514.7h.7M322.8 519.0h.7M325.6 523.2h.7M322.2 508.1h.7M321.9 504.0h.7M320.8 494.1h.7M324.3 511.5h.7M330.5 505.8h.7M325.1 515.1h.7M325.0 509.3h.7M333.6 506.7h.7M323.5 521.3h.7M329.7 514.1h.7M322.4 513.0h.7M321.8 514.7h.7M317.5 514.9h.7M326.9 507.9h.7M320.9 501.7h.7M328.2 497.5h.7M321.7 503.1h.7M329.2 520.6h.7M323.9 512.5h.7M320.4 518.1h.7M323.6 515.9h.7M318.2 496.2h.7M326.4 512.2h.7M333.7 496.3h.7M331.3 498.4h.7M317.5 516.7h.7M334.7 498.9h.7M321.5 515.2h.7M330.9 510.1h.7M318.7 508.7h.7M328.4 516.1h.7M330.2 501.1h.7M329.4 518.5h.7M326.0 498.5h.7M323.3 519.8h.7M326.3 510.1h.7M325.7 514.1h.7M330.3 483.8h.7M323.7 505.1h.7M331.8 517.3h.7M316.8 499.7h.7M315.6 510.2h.7M330.2 511.7h.7M336.7 508.9h.7M315.0 502.0h.7M319.1 505.9h.7M324.1 514.7h.7M316.3 513.5h.7M336.4 507.8h.7M322.7 476.3h.7M329.8 504.8h.7M319.6 515.4h.7M331.9 513.0h.7M323.2 522.5h.7M318.8 492.5h.7M326.7 512.2h.7M328.5 511.1h.7M326.8 506.1h.7M324.0 501.8h.7M331.4 516.2h.7M328.1 508.4h.7M323.1 505.3h.7M322.0 524.1h.7M325.0 495.9h.7M321.8 514.9h.7M322.4 509.4h.7M329.6 503.7h.7M326.3 506.8h.7M316.6 504.0h.7M333.1 507.9h.7M324.5 484.5h.7M333.8 514.9h.7M329.1 509.0h.7M325.4 504.0h.7M323.4 519.7h.7M322.6 508.2h.7M326.5 511.7h.7M325.9 516.0h.7M322.5 518.6h.7M314.9 517.9h.7M336.7 499.7h.7M317.8 509.3h.7M320.3 507.7h.7M315.5 509.4h.7M318.0 508.1h.7M333.6 508.4h.7M335.9 519.6h.7M319.6 511.3h.7M326.6 486.1h.7M318.7 519.0h.7M332.7 500.6h.7M326.7 519.1h.7M318.6 493.1h.7M333.8 494.7h.7M325.8 512.9h.7M323.6 511.3h.7M327.3 505.6h.7M335.1 506.3h.7M322.9 522.6h.7M314.9 505.8h.7M337.3 512.6h.7M323.8 513.2h.7M332.3 501.8h.7M334.5 518.8h.7M316.2 514.9h.7M315.3 508.2h.7M317.4 465.9h.7M326.7 493.3h.7M337.0 506.4h.7M323.6 521.9h.7M330.6 513.3h.7M333.4 504.4h.7M324.4 513.9h.7M314.8 502.3h.7M325.7 513.4h.7M321.8 509.8h.7M337.2 518.7h.7M321.2 504.0h.7M315.6 509.1h.7M335.9 499.3h.7M317.1 512.8h.7M315.8 506.8h.7M330.1 521.5h.7M332.4 467.2h.7M315.5 507.5h.7M334.7 505.3h.7M319.4 515.6h.7M316.5 511.3h.7M326.2 501.1h.7M325.2 519.9h.7M333.9 516.3h.7M325.2 514.7h.7M317.9 513.6h.7M328.8 514.8h.7M337.2 509.9h.7M323.4 517.9h.7M336.6 512.4h.7M317.6 508.4h.7M318.2 518.5h.7M319.7 514.8h.7M325.5 513.6h.7M336.1 499.8h.7M330.4 509.7h.7M325.8 502.3h.7M317.7 484.0h.7M334.2 515.9h.7M316.1 513.1h.7M334.7 513.7h.7M324.2 497.8h.7M318.9 510.3h.7M334.3 514.4h.7M314.5 500.1h.7M317.6 506.9h.7M335.7 510.1h.7M326.7 493.4h.7M332.7 509.6h.7M314.9 495.7h.7M316.2 508.5h.7M334.9 512.6h.7M329.6 512.3h.7M328.1 514.6h.7M337.1 507.3h.7M336.3 516.0h.7M320.6 497.9h.7M334.8 511.8h.7M314.4 511.0h.7M314.5 518.3h.7M334.3 503.8h.7M323.4 506.5h.7M316.4 516.8h.7M317.9 511.7h.7M333.5 515.4h.7M321.2 520.6h.7M321.6 500.5h.7M321.6 508.3h.7M315.8 510.3h.7M328.8 509.0h.7M322.5 461.8h.7M322.3 511.5h.7M315.7 515.8h.7M335.8 509.7h.7M331.4 501.2h.7M316.8 512.9h.7M317.6 490.3h.7M326.7 513.3h.7M328.7 508.0h.7M316.2 497.1h.7M317.5 515.7h.7M325.8 506.5h.7M324.6 510.5h.7M315.7 508.7h.7M332.1 502.8h.7M336.4 508.8h.7M316.0 517.0h.7M315.2 497.7h.7M315.7 501.1h.7M336.7 522.2h.7M325.5 519.1h.7M327.7 507.2h.7M327.9 518.5h.7M332.2 495.3h.7M325.5 512.5h.7M331.2 515.9h.7M328.7 509.5h.7M327.3 508.8h.7M328.2 506.7h.7M324.4 509.9h.7M337.2 513.9h.7M330.1 516.6h.7M335.8 500.0h.7M336.3 511.9h.7M327.4 502.1h.7M328.8 502.6h.7M314.4 516.7h.7M330.7 519.2h.7M317.7 511.3h.7M335.1 513.4h.7M323.2 509.3h.7M315.0 513.5h.7M318.4 510.0h.7M336.3 517.2h.7M320.8 515.8h.7M330.2 519.0h.7M319.1 511.3h.7M324.9 498.6h.7M328.8 505.6h.7M316.4 519.5h.7M323.0 520.6h.7M323.2 507.8h.7M315.6 513.5h.7M320.5 511.6h.7M322.0 501.5h.7M319.9 502.3h.7M316.3 519.7h.7M334.1 511.3h.7M317.8 514.7h.7M336.6 515.7h.7M325.4 511.8h.7M316.6 509.2h.7M328.7 508.2h.7M328.6 492.1h.7M327.4 509.5h.7M337.0 508.7h.7M333.9 516.6h.7M335.4 510.3h.7M330.1 513.4h.7M321.2 507.0h.7M321.3 508.9h.7M337.2 516.8h.7M332.7 513.3h.7M332.1 515.6h.7M316.9 503.6h.7M336.6 503.9h.7M329.3 520.4h.7M324.0 510.7h.7M330.1 502.7h.7M328.3 506.4h.7M334.4 502.2h.7M317.2 507.0h.7M318.9 503.8h.7M318.9 519.0h.7M331.7 504.2h.7M328.9 511.3h.7M323.0 521.5h.7M328.2 509.1h.7M333.3 502.1h.7M324.2 508.4h.7M321.8 518.3h.7M321.5 507.9h.7M326.4 509.9h.7M318.3 517.0h.7M326.2 516.8h.7M329.3 510.0h.7M336.8 504.8h.7M321.7 509.2h.7M335.1 515.4h.7M320.7 513.6h.7M327.3 508.2h.7M324.2 498.7h.7M333.8 501.8h.7M320.8 509.1h.7M316.8 514.9h.7M329.6 514.4h.7M324.3 505.6h.7M334.8 502.1h.7M329.1 517.8h.7M319.9 511.6h.7M335.8 516.3h.7M331.2 504.0h.7M332.5 508.3h.7M317.1 510.9h.7M322.2 506.9h.7M335.1 515.1h.7M326.3 509.3h.7M335.3 511.6h.7M334.5 501.0h.7M335.2 490.7h.7M314.8 507.1h.7M314.4 505.3h.7M322.2 518.0h.7M321.6 514.7h.7M329.4 506.5h.7M314.8 510.8h.7M331.3 505.4h.7M337.0 514.8h.7M333.2 508.7h.7M335.8 519.3h.7M322.8 451.4h.7M335.0 519.3h.7M314.6 510.2h.7M315.7 515.8h.7M318.0 510.4h.7M332.2 503.9h.7M314.8 500.5h.7M330.9 499.3h.7M316.5 519.0h.7M320.1 522.0h.7M332.9 519.7h.7M324.1 510.0h.7M323.4 505.5h.7M333.8 500.6h.7M326.6 489.1h.7M332.3 511.9h.7M329.8 504.3h.7M333.6 511.3h.7M329.7 508.1h.7M322.2 514.9h.7M320.7 502.4h.7M320.2 506.0h.7M316.1 523.4h.7M333.7 511.3h.7M337.3 493.6h.7M321.7 473.0h.7M335.1 512.8h.7M337.3 509.9h.7M335.2 507.8h.7M318.3 517.0h.7M316.9 508.0h.7M323.2 504.8h.7M319.6 514.6h.7M320.3 491.1h.7M315.4 521.0h.7M316.5 492.8h.7M326.2 514.1h.7M330.2 515.1h.7M319.4 507.4h.7M315.5 499.9h.7M334.3 511.4h.7M325.8 513.3h.7M325.7 511.8h.7M320.2 494.6h.7M316.7 507.3h.7M335.8 502.5h.7M321.8 523.3h.7M314.4 513.9h.7M334.3 517.1h.7M320.6 516.0h.7M330.4 507.5h.7M327.8 506.7h.7M329.3 484.6h.7M316.8 516.5h.7M327.3 504.6h.7M333.7 519.6h.7M322.1 507.5h.7M322.4 513.2h.7M328.7 503.9h.7M318.0 523.7h.7M327.7 503.2h.7M331.5 508.7h.7M318.3 512.8h.7M317.6 514.2h.7M327.0 509.9h.7M321.3 515.5h.7M331.5 507.4h.7M329.3 512.2h.7M329.7 504.9h.7M327.0 501.3h.7M317.0 495.6h.7M320.6 498.5h.7M321.4 516.2h.7M316.6 512.5h.7M333.6 511.5h.7M322.7 495.6h.7M331.8 508.7h.7M326.5 515.9h.7M319.6 513.1h.7M315.5 510.9h.7M319.9 515.9h.7M324.8 505.6h.7M330.8 509.8h.7M322.0 492.9h.7M315.9 520.8h.7M323.8 517.9h.7M318.0 503.8h.7M319.4 477.7h.7M331.8 520.5h.7M333.1 512.7h.7M329.3 506.5h.7M335.7 519.1h.7M331.7 512.5h.7M330.4 511.9h.7M317.3 513.9h.7M321.4 502.5h.7M321.1 505.3h.7M317.8 517.9h.7M333.6 519.1h.7M324.0 512.2h.7M333.8 518.2h.7M328.9 502.8h.7M320.8 515.7h.7M328.5 508.3h.7M314.8 514.6h.7M327.7 516.3h.7M317.7 499.2h.7M322.0 510.3h.7M332.5 510.2h.7M323.4 514.7h.7M321.0 515.4h.7M328.9 487.0h.7M333.1 507.9h.7M315.9 510.7h.7M332.4 499.5h.7M327.8 512.3h.7M315.0 514.9h.7M322.5 505.8h.7M322.4 501.2h.7M337.0 513.2h.7M337.3 505.8h.7M330.9 510.1h.7M330.7 508.2h.7M321.0 522.1h.7M317.6 508.2h.7M316.0 507.6h.7M326.6 510.6h.7M320.0 494.8h.7M324.2 517.9h.7M320.8 512.6h.7M322.2 516.3h.7M315.4 506.1h.7M332.1 510.4h.7M323.5 465.5h.7M319.0 499.3h.7M320.2 518.3h.7M324.2 508.2h.7M315.1 514.8h.7M324.1 515.8h.7M316.1 500.7h.7M315.0 494.7h.7M316.4 516.2h.7M333.4 504.3h.7M322.2 498.2h.7M330.0 510.8h.7M319.4 506.4h.7M315.9 515.7h.7M319.4 496.6h.7M319.6 507.4h.7M322.5 510.8h.7M324.7 512.6h.7M334.0 488.7h.7M331.4 514.3h.7M334.0 507.2h.7M327.9 514.9h.7M318.5 502.1h.7M327.3 521.5h.7M331.6 500.9h.7M320.2 504.6h.7M327.3 514.2h.7M315.4 508.8h.7M320.6 497.1h.7M315.0 504.3h.7M315.6 519.2h.7M331.9 503.4h.7M330.8 519.6h.7M320.5 508.8h.7M329.2 510.9h.7M318.1 514.2h.7M327.3 502.0h.7M334.4 507.2h.7M327.9 503.3h.7M328.4 510.8h.7M318.5 508.3h.7M316.5 516.5h.7M323.4 515.7h.7M331.9 513.4h.7M320.3 508.6h.7M323.6 505.5h.7M329.0 516.0h.7M318.0 511.9h.7M319.2 509.2h.7M318.1 513.9h.7M318.9 504.5h.7M320.1 510.9h.7M327.1 507.5h.7M325.8 507.1h.7M324.0 505.7h.7M320.0 510.3h.7M334.1 511.2h.7M316.0 506.6h.7M336.4 509.6h.7M317.6 518.3h.7M333.9 511.7h.7M325.6 511.0h.7M327.6 504.7h.7M332.4 521.5h.7M325.1 497.4h.7M334.8 509.9h.7M337.5 513.8h.7M326.1 508.2h.7M319.0 493.3h.7M332.5 505.1h.7M335.8 503.8h.7M328.1 508.0h.7M332.4 501.2h.7M321.0 504.5h.7M319.6 504.0h.7M333.1 508.6h.7M329.8 515.1h.7M332.4 518.8h.7M335.2 505.6h.7M334.1 506.9h.7M336.8 510.4h.7M317.7 517.4h.7M325.1 518.7h.7M329.2 498.5h.7M321.0 499.3h.7M316.7 480.2h.7M324.9 507.8h.7M336.7 491.2h.7M337.4 505.9h.7M324.4 504.1h.7M327.3 482.1h.7M315.2 512.1h.7M336.0 501.4h.7M315.4 517.6h.7M329.7 516.2h.7M325.3 501.2h.7M319.2 492.0h.7M326.9 493.2h.7M331.1 515.0h.7M317.6 509.1h.7M318.0 515.2h.7M330.9 508.5h.7M325.9 513.2h.7M321.1 506.5h.7M314.3 495.9h.7M330.4 509.1h.7M328.3 500.9h.7M320.7 515.8h.7M322.2 503.1h.7M332.8 521.9h.7M319.0 494.9h.7M329.5 506.3h.7M335.1 513.9h.7M319.1 514.5h.7M320.4 500.5h.7M331.9 505.7h.7M334.0 504.9h.7M323.0 511.8h.7M317.1 508.3h.7M320.5 510.1h.7M320.3 510.2h.7M328.0 512.6h.7M332.4 509.1h.7M330.9 513.6h.7M321.3 511.9h.7M331.5 509.5h.7M326.8 492.0h.7" stroke="#000" stroke-width="1.0" fill="none"/>
<path d="M370.4 472.7h.7M355.5 484.8h.7M353.1 459.8h.7M355.1 439.2h.7M364.6 490.0h.7M356.6 451.5h.7M369.3 444.5h.7M367.9 508.6h.7M370.4 434.2h.7M368.1 474.9h.7M360.3 476.7h.7M352.8 457.4h.7M366.6 473.0h.7M368.0 505.9h.7M354.2 470.9h.7M362.5 478.4h.7M359.5 483.7h.7M361.8 458.4h.7M358.8 462.7h.7M365.6 453.7h.7M372.4 449.8h.7M353.4 448.1h.7M353.8 474.9h.7M370.8 482.1h.7M370.5 483.5h.7M367.2 473.3h.7M367.3 443.3h.7M364.8 467.3h.7M367.5 475.7h.7M357.1 471.4h.7M355.4 466.6h.7M365.4 470.4h.7M360.6 467.7h.7M352.2 464.8h.7M357.2 455.9h.7M364.3 463.7h.7M370.0 477.9h.7M358.0 460.9h.7M361.4 445.6h.7M357.1 490.8h.7M367.7 497.0h.7M366.4 463.9h.7M358.5 488.3h.7M356.9 443.4h.7M359.5 466.1h.7M368.2 460.2h.7M354.6 437.4h.7M363.3 462.9h.7M353.3 467.6h.7M352.7 470.3h.7M359.3 484.4h.7M353.1 450.9h.7M373.8 492.7h.7M362.8 452.5h.7M371.4 459.2h.7M353.0 476.3h.7M353.6 463.2h.7M358.9 433.0h.7M367.2 460.2h.7M372.4 497.8h.7M363.8 449.2h.7M370.2 471.5h.7M362.8 480.5h.7M362.8 481.3h.7M352.1 451.2h.7M350.7 466.6h.7M370.8 466.9h.7M369.4 425.7h.7M367.2 484.3h.7M368.3 483.6h.7M361.3 481.8h.7M368.8 416.3h.7M356.2 459.9h.7M372.5 463.5h.7M360.0 446.1h.7M368.3 453.7h.7M371.6 464.8h.7M354.7 446.7h.7M363.8 473.4h.7M369.7 462.1h.7M357.4 447.4h.7M361.9 474.1h.7M367.9 458.3h.7M360.3 472.7h.7M353.4 415.0h.7M353.7 482.7h.7M356.2 498.3h.7M364.6 463.8h.7M360.8 465.7h.7M358.2 487.6h.7M360.3 441.2h.7M367.8 479.2h.7M369.6 433.4h.7M366.4 506.5h.7M356.2 498.0h.7M367.4 481.2h.7M364.6 443.2h.7M368.6 456.0h.7M362.0 509.1h.7M359.9 444.6h.7M358.1 473.4h.7M359.0 466.1h.7M361.5 475.6h.7M373.7 453.2h.7M359.9 488.1h.7M355.2 463.6h.7M357.8 469.8h.7M372.4 453.4h.7M354.9 465.7h.7M353.1 432.0h.7M359.3 459.7h.7M366.8 462.1h.7M355.6 461.3h.7M367.0 447.0h.7M369.1 503.1h.7M364.9 484.1h.7M362.5 459.4h.7M360.2 475.5h.7M355.9 442.5h.7M371.8 480.6h.7M367.2 472.8h.7M370.6 468.8h.7M356.1 441.7h.7M352.5 484.5h.7M352.5 450.9h.7M367.0 502.3h.7M358.0 470.9h.7M352.1 431.9h.7M369.1 463.2h.7M353.3 503.3h.7M362.5 458.5h.7M350.5 444.4h.7M368.0 436.8h.7M363.5 466.2h.7M372.6 448.0h.7M361.8 509.8h.7M369.6 478.8h.7M369.0 465.8h.7M360.3 461.4h.7M370.0 478.1h.7M363.4 468.9h.7M368.0 505.9h.7M367.8 479.8h.7M354.5 506.5h.7M360.4 470.5h.7M358.4 460.0h.7M361.0 490.0h.7M360.3 472.1h.7M351.4 441.6h.7M363.5 455.5h.7M350.9 487.0h.7M364.7 511.8h.7M371.0 455.5h.7M373.3 457.4h.7M360.7 465.3h.7M351.4 449.4h.7M365.3 488.6h.7M372.4 451.6h.7M361.2 476.0h.7M367.5 458.7h.7M373.1 472.6h.7M350.4 457.0h.7M357.1 487.0h.7M361.9 463.7h.7M356.0 469.0h.7M351.6 445.5h.7M354.3 447.4h.7M365.0 460.2h.7M371.3 485.8h.7M365.1 478.1h.7M354.2 463.8h.7M368.9 462.5h.7M363.7 467.3h.7M354.1 466.8h.7M355.9 481.5h.7M352.6 487.8h.7M355.6 456.0h.7M367.3 482.0h.7M355.2 474.5h.7M364.4 490.4h.7M368.8 470.1h.7M360.6 473.6h.7M356.5 481.5h.7M351.7 451.7h.7M352.6 499.3h.7M371.6 480.1h.7M363.7 478.9h.7M361.2 512.4h.7M373.0 481.9h.7M371.3 464.7h.7M370.6 502.1h.7M353.7 509.7h.7M366.5 445.6h.7M369.5 454.6h.7M363.9 460.4h.7M351.1 454.2h.7M366.4 446.6h.7M351.7 466.3h.7M364.8 461.7h.7M350.3 479.1h.7M357.9 430.0h.7M367.8 485.9h.7M353.2 471.8h.7M368.0 430.5h.7M366.2 484.2h.7M355.0 451.4h.7M373.7 477.2h.7M371.4 460.9h.7M370.2 472.1h.7M354.6 438.8h.7M373.3 435.2h.7M352.5 464.9h.7M360.6 499.2h.7M360.2 468.8h.7M370.7 465.7h.7M355.0 458.0h.7M354.1 468.1h.7M354.6 472.2h.7M353.0 476.3h.7M360.1 469.3h.7M358.8 467.4h.7M366.6 458.1h.7M351.6 452.1h.7M369.9 455.9h.7M365.0 475.5h.7M362.4 477.4h.7M352.6 441.9h.7M369.5 435.0h.7M352.5 508.4h.7M359.5 464.7h.7M362.5 442.8h.7M360.8 491.3h.7M358.8 475.9h.7M373.2 469.9h.7M356.9 435.3h.7M354.4 455.8h.7M352.1 472.6h.7M372.3 461.1h.7M357.0 441.7h.7M363.8 457.2h.7M358.4 462.4h.7M354.3 451.9h.7M351.7 462.2h.7M354.1 470.4h.7M368.2 462.0h.7M363.0 426.9h.7M351.9 466.5h.7M368.8 475.3h.7M357.1 473.5h.7M371.7 498.4h.7M364.5 468.6h.7M360.6 448.0h.7M368.5 482.7h.7M362.7 513.6h.7M357.6 482.1h.7M363.3 443.9h.7M355.0 435.4h.7M368.2 453.3h.7M360.3 491.7h.7M351.2 448.4h.7M362.2 449.3h.7M358.0 460.7h.7M372.0 493.8h.7M357.3 480.7h.7M368.8 454.8h.7M361.1 466.5h.7M350.1 437.2h.7M362.1 436.2h.7M357.2 483.3h.7M366.6 502.6h.7M359.3 471.6h.7M368.8 471.1h.7M362.5 497.0h.7M358.2 445.6h.7M351.0 449.8h.7M364.9 439.1h.7M355.0 442.4h.7M354.2 466.4h.7M371.6 458.2h.7M373.0 445.1h.7M356.1 473.8h.7M366.3 480.6h.7M352.4 504.5h.7M356.0 474.0h.7M357.9 465.7h.7M354.2 460.4h.7M359.7 473.5h.7M354.0 449.8h.7M353.6 434.1h.7M353.5 465.2h.7M352.5 449.8h.7M364.1 464.0h.7M358.7 446.4h.7M364.0 469.5h.7M356.0 503.3h.7M373.8 487.5h.7M353.8 466.9h.7M364.8 476.7h.7M370.6 496.0h.7M360.3 484.8h.7M362.6 452.2h.7M371.9 508.9h.7M367.1 460.4h.7M360.6 446.8h.7M351.4 493.8h.7M365.3 441.8h.7M365.9 511.2h.7M360.8 465.2h.7M368.6 441.6h.7M368.1 440.8h.7M361.2 455.3h.7M371.0 446.8h.7M371.2 480.3h.7M364.3 446.7h.7M373.4 482.8h.7M363.2 465.8h.7M351.1 452.6h.7M361.0 437.5h.7M350.7 474.6h.7M355.2 458.2h.7M357.4 420.1h.7M352.9 464.8h.7M372.0 460.2h.7M371.4 456.5h.7M366.6 454.7h.7M362.1 445.7h.7M360.7 476.8h.7M352.4 463.6h.7M366.2 457.8h.7M371.2 473.6h.7M371.8 457.2h.7M350.3 506.0h.7M370.8 463.6h.7M366.2 459.0h.7M365.6 447.0h.7M373.4 511.2h.7M363.1 478.4h.7M373.0 468.9h.7M372.8 440.5h.7M351.2 448.5h.7M356.1 481.5h.7M361.6 459.4h.7M362.1 427.2h.7M373.9 445.9h.7M360.8 505.8h.7M372.3 460.0h.7M361.2 466.8h.7M356.5 459.8h.7M361.6 452.1h.7M366.9 462.4h.7M356.8 468.3h.7M364.9 439.4h.7M373.3 497.6h.7M373.3 510.0h.7M353.0 511.2h.7M362.1 436.4h.7M355.0 478.8h.7M352.0 499.5h.7M353.5 469.1h.7M367.1 428.2h.7M351.8 460.1h.7M363.3 470.2h.7M371.1 480.4h.7M353.5 467.4h.7M352.7 449.8h.7M373.7 487.7h.7M351.1 438.6h.7M354.1 445.1h.7M357.9 475.4h.7M372.8 447.4h.7M355.4 439.6h.7M369.6 467.5h.7M357.1 468.8h.7M371.4 441.9h.7M356.4 483.0h.7M373.2 456.1h.7M361.4 461.3h.7M369.2 491.8h.7M361.2 424.8h.7M353.1 498.3h.7M362.2 468.9h.7M366.3 474.1h.7M371.9 476.1h.7M370.4 505.8h.7M369.5 462.6h.7M364.6 465.0h.7M353.3 450.5h.7M352.0 464.2h.7M365.8 479.3h.7M370.8 451.6h.7M364.7 458.3h.7M371.3 449.4h.7M353.8 478.3h.7M360.6 481.7h.7M354.9 471.8h.7M352.1 465.1h.7M355.3 466.1h.7M350.8 478.7h.7M364.0 464.2h.7M353.9 443.1h.7M358.9 464.1h.7M370.9 494.5h.7M369.3 469.2h.7M351.7 491.7h.7M364.0 451.5h.7M359.2 468.3h.7M360.3 465.8h.7M372.5 501.7h.7M360.8 476.8h.7M359.0 462.8h.7M363.9 470.7h.7M369.7 413.8h.7M350.5 479.9h.7M355.2 449.4h.7M350.6 430.9h.7M366.7 452.0h.7M366.7 491.8h.7M367.9 464.5h.7M372.0 503.5h.7M351.5 473.1h.7M368.6 494.0h.7M367.6 498.0h.7M351.3 460.7h.7M362.4 469.1h.7M359.0 473.7h.7M363.4 503.6h.7M369.1 478.5h.7M373.6 495.5h.7M357.0 511.3h.7M373.8 465.3h.7M367.1 478.0h.7M366.4 456.3h.7M365.5 457.5h.7M363.3 488.7h.7M361.0 484.4h.7M372.9 439.1h.7M369.9 455.6h.7M353.2 482.5h.7M364.2 465.4h.7M358.8 453.0h.7M355.0 446.1h.7M352.2 488.7h.7M358.6 442.5h.7M367.4 471.5h.7M365.1 469.4h.7M351.3 452.7h.7M351.5 495.5h.7M362.2 488.7h.7M352.6 460.9h.7M366.8 465.6h.7M359.6 488.6h.7M351.0 498.2h.7M359.4 479.7h.7M371.6 469.8h.7M373.1 477.4h.7M350.5 485.6h.7M372.8 496.5h.7M353.2 453.0h.7M366.8 481.8h.7M367.3 463.5h.7M365.0 467.6h.7M366.3 471.4h.7M360.6 460.5h.7M368.5 467.6h.7M355.8 496.7h.7M366.7 450.4h.7M367.5 461.8h.7M358.0 501.9h.7M363.6 469.5h.7M373.0 483.2h.7M368.3 484.4h.7M373.0 494.1h.7M363.1 470.0h.7M362.3 467.2h.7M371.1 485.4h.7M357.2 457.3h.7M364.1 454.2h.7M372.6 475.5h.7M356.5 492.2h.7M359.8 454.3h.7M369.7 487.2h.7M353.7 478.7h.7M369.6 496.9h.7M365.7 442.5h.7M356.5 486.5h.7M373.6 503.1h.7M373.3 485.3h.7M367.9 481.8h.7M368.4 472.8h.7M373.1 504.5h.7M357.1 474.5h.7M360.0 434.7h.7M360.6 476.3h.7M357.4 515.6h.7M357.1 438.7h.7M369.4 479.8h.7M353.7 481.1h.7M371.1 436.3h.7M368.8 452.9h.7M372.7 454.9h.7M363.3 464.5h.7M368.8 459.6h.7M365.8 501.7h.7M373.9 473.8h.7M371.2 460.3h.7M367.2 464.2h.7M361.4 453.7h.7M351.7 436.0h.7M360.3 471.8h.7M357.0 467.3h.7M358.7 449.3h.7M358.6 446.0h.7M355.1 486.8h.7M372.0 470.2h.7M356.2 459.7h.7M359.9 454.5h.7M357.8 471.5h.7M353.8 452.0h.7M352.0 442.8h.7M358.7 476.0h.7M355.8 463.7h.7M369.4 459.3h.7M372.3 504.3h.7M359.9 462.6h.7M357.9 497.0h.7M371.9 487.3h.7M372.3 496.0h.7M371.6 449.9h.7M354.7 501.0h.7M358.2 477.0h.7M356.8 448.1h.7M362.4 464.6h.7M353.8 478.9h.7M371.8 504.7h.7M356.2 452.8h.7M353.7 498.5h.7M370.5 488.9h.7M358.2 443.2h.7M364.7 478.3h.7M362.6 467.3h.7M362.3 494.8h.7M356.6 460.6h.7M363.4 492.6h.7M371.6 447.1h.7M368.4 470.1h.7M362.0 430.5h.7M350.6 484.2h.7M364.4 447.0h.7M367.8 451.3h.7M359.5 506.3h.7M364.8 467.8h.7M366.2 427.7h.7M373.2 470.4h.7M371.3 443.2h.7M368.2 430.0h.7M371.8 472.6h.7M363.9 490.8h.7M363.6 479.8h.7M362.4 453.7h.7M351.7 467.7h.7M370.0 469.6h.7M364.4 459.6h.7M364.7 478.0h.7M358.1 443.2h.7M366.1 498.2h.7M367.0 462.3h.7M351.0 477.2h.7M365.4 460.0h.7M366.6 453.0h.7M367.5 495.0h.7M350.8 454.1h.7M357.1 465.4h.7M350.9 447.7h.7M373.8 441.1h.7M358.6 470.3h.7M353.9 484.1h.7M350.9 473.0h.7M353.8 482.9h.7M372.7 418.0h.7M355.4 484.6h.7M367.9 474.6h.7M355.5 452.4h.7M369.7 486.3h.7M369.7 444.9h.7M372.7 453.2h.7M371.3 419.4h.7M365.9 463.9h.7M357.9 445.4h.7M353.2 490.9h.7M353.0 439.8h.7M356.5 488.0h.7M353.1 476.2h.7M370.1 445.8h.7M355.0 488.3h.7M358.5 484.6h.7M363.4 469.5h.7M373.5 494.8h.7M371.3 455.1h.7M367.4 459.7h.7M366.6 466.1h.7M355.4 473.4h.7M366.0 477.3h.7M361.3 424.8h.7M355.7 505.2h.7M351.3 457.8h.7M350.8 475.8h.7M360.7 458.8h.7M359.0 454.1h.7M363.2 490.2h.7M363.3 485.6h.7M363.2 503.9h.7M361.4 489.4h.7M368.5 455.8h.7M355.7 496.0h.7M360.9 440.8h.7M355.0 487.4h.7M365.6 463.0h.7M351.8 481.7h.7M353.2 476.4h.7M357.2 461.3h.7M367.1 459.9h.7M355.0 445.7h.7M373.9 494.1h.7M364.2 488.0h.7M360.5 477.9h.7M360.5 455.0h.7M371.6 511.0h.7M355.9 487.0h.7M359.0 456.7h.7M352.3 468.0h.7M369.0 478.4h.7M352.7 474.3h.7M369.6 471.0h.7M365.3 473.5h.7M369.6 500.9h.7M356.2 437.0h.7M357.6 457.5h.7M371.7 498.5h.7M354.3 430.3h.7M368.5 470.9h.7M350.6 451.4h.7M361.2 451.7h.7M363.6 483.2h.7M351.1 488.2h.7M364.3 484.5h.7M367.9 463.0h.7M365.7 495.0h.7M355.0 497.0h.7M360.7 471.7h.7M359.1 456.6h.7M355.8 478.3h.7M366.4 487.7h.7M351.5 445.0h.7M351.8 483.4h.7M365.2 490.7h.7M362.3 450.0h.7M364.6 460.5h.7M365.3 452.7h.7M354.0 463.2h.7M350.3 495.7h.7M350.0 487.8h.7M364.7 481.0h.7M356.6 460.2h.7M350.7 476.5h.7M370.2 475.4h.7M364.5 463.4h.7M367.1 471.9h.7M354.1 458.4h.7M368.4 510.2h.7M362.7 509.0h.7M351.0 458.1h.7M371.6 470.2h.7M368.3 466.0h.7M354.6 454.4h.7M368.8 490.4h.7M360.9 500.2h.7M350.8 490.5h.7M364.6 492.6h.7M353.6 458.4h.7M365.0 469.5h.7M350.9 475.7h.7M354.2 468.7h.7M362.2 501.2h.7M352.5 477.7h.7M371.9 460.8h.7M358.4 452.8h.7M359.5 465.1h.7M366.3 475.0h.7M372.7 423.6h.7M361.4 474.2h.7M364.3 467.3h.7M362.5 484.7h.7M369.6 508.9h.7M362.6 460.2h.7M350.3 452.7h.7M366.7 469.8h.7M360.0 473.6h.7M370.0 475.6h.7M356.2 477.3h.7M366.1 474.6h.7M358.4 447.3h.7M362.1 463.5h.7M373.6 421.3h.7M362.3 458.7h.7M371.7 446.5h.7M352.9 467.5h.7M352.9 473.5h.7M357.1 451.8h.7M360.6 459.2h.7M353.7 476.0h.7M353.9 422.3h.7M368.5 457.4h.7M372.7 469.4h.7M356.6 481.1h.7M368.0 443.8h.7M365.9 502.1h.7M365.5 439.8h.7M368.2 449.0h.7M371.3 443.1h.7M350.6 474.3h.7M351.0 469.2h.7M357.4 440.7h.7M369.1 461.9h.7M363.3 453.5h.7M373.6 477.0h.7M358.2 438.0h.7M373.3 456.9h.7M367.8 497.6h.7M368.2 474.0h.7M364.7 439.6h.7M368.1 476.4h.7M351.4 431.7h.7M368.4 473.3h.7M365.7 445.9h.7M367.0 487.2h.7M361.8 448.2h.7M367.4 493.9h.7M372.0 464.7h.7M351.0 508.8h.7M359.4 475.2h.7M367.5 469.0h.7M366.1 474.4h.7M373.5 503.4h.7M362.3 481.9h.7M373.4 491.6h.7M371.9 449.8h.7M357.5 477.4h.7M364.6 505.6h.7M358.6 501.9h.7M351.6 448.2h.7M372.2 446.9h.7M369.3 473.8h.7M363.8 462.5h.7M360.1 462.5h.7M356.2 469.2h.7M364.7 456.6h.7M359.1 489.5h.7M350.1 462.1h.7M351.2 478.3h.7M353.4 456.1h.7M366.6 449.4h.7M350.5 477.7h.7M373.4 456.0h.7M358.1 443.0h.7M370.8 453.2h.7M362.2 452.1h.7M360.3 454.7h.7M367.7 481.9h.7M361.9 489.8h.7M357.7 483.7h.7M353.0 447.4h.7M356.0 490.0h.7M362.3 446.4h.7M366.3 450.3h.7M353.4 460.8h.7M368.5 468.9h.7M370.4 461.5h.7M370.9 479.8h.7M361.1 465.2h.7M369.4 473.2h.7M368.8 462.3h.7M357.4 457.7h.7M372.0 486.8h.7M362.5 465.0h.7M358.1 459.0h.7M354.4 513.5h.7M353.5 494.2h.7M357.8 451.8h.7M365.4 467.0h.7M367.9 483.0h.7M372.9 442.5h.7M366.9 444.1h.7M353.9 470.4h.7M364.9 501.7h.7M353.1 476.7h.7M352.8 480.6h.7M373.0 491.6h.7M361.8 462.4h.7M353.3 439.5h.7M350.1 453.8h.7M354.5 475.2h.7M358.0 432.7h.7M352.3 446.3h.7M353.7 442.6h.7M356.7 437.3h.7M360.0 471.6h.7M360.4 456.4h.7M369.2 470.0h.7M352.1 459.5h.7M351.5 472.1h.7M373.6 472.9h.7M373.1 454.2h.7M362.1 461.2h.7M359.9 482.6h.7M359.4 472.7h.7M373.4 459.9h.7M363.5 477.5h.7M360.5 437.4h.7M354.6 489.6h.7M356.7 445.1h.7M362.1 508.0h.7M370.3 481.8h.7M360.8 486.0h.7M354.8 449.3h.7M362.2 461.6h.7M353.7 463.6h.7M363.8 454.0h.7M370.7 448.7h.7M367.3 459.8h.7M357.2 491.0h.7M363.2 481.8h.7M366.9 455.2h.7M358.7 452.1h.7M362.1 454.1h.7M354.8 461.4h.7M357.8 497.2h.7M358.1 481.7h.7M360.6 480.7h.7M362.0 450.7h.7M354.7 465.5h.7M367.2 456.6h.7M369.9 465.3h.7M362.6 466.9h.7M358.1 501.7h.7M366.6 510.7h.7M361.2 462.7h.7M359.2 495.0h.7M353.9 497.2h.7M362.2 439.4h.7M363.5 483.6h.7M351.3 470.2h.7M370.2 475.2h.7M356.1 476.8h.7M353.8 451.4h.7M351.7 420.8h.7M362.5 463.3h.7M371.5 459.7h.7M371.8 453.5h.7M363.1 428.3h.7M373.5 502.3h.7M353.4 492.1h.7M367.4 467.1h.7M358.3 460.8h.7M351.8 483.9h.7M372.4 494.7h.7M367.8 473.3h.7M364.7 473.2h.7M351.4 440.6h.7M363.1 504.8h.7M372.9 470.2h.7M361.6 470.8h.7M373.0 438.1h.7M366.5 479.0h.7M364.5 459.6h.7M361.3 479.6h.7M369.7 457.4h.7M352.9 484.0h.7M361.1 477.3h.7M351.2 484.4h.7M358.6 492.2h.7M361.1 484.4h.7M356.8 486.3h.7M350.5 435.3h.7M367.0 442.6h.7M370.0 447.7h.7M366.3 465.2h.7M372.1 463.7h.7M350.9 455.3h.7M367.2 453.8h.7M358.7 452.2h.7M356.9 478.3h.7M350.2 465.7h.7M362.4 448.8h.7M356.7 485.9h.7M356.1 439.5h.7M351.1 489.2h.7M366.9 453.2h.7M360.8 452.8h.7M366.2 490.6h.7M365.5 467.7h.7M362.9 482.6h.7M358.7 466.8h.7M370.6 442.1h.7M355.3 483.5h.7M354.5 462.5h.7M351.2 483.1h.7M367.3 471.1h.7M366.1 493.9h.7M354.6 467.6h.7M373.1 468.4h.7M364.6 466.5h.7M367.5 452.7h.7M357.7 453.4h.7M372.2 499.5h.7M354.5 431.0h.7M367.5 474.6h.7M357.7 481.6h.7M363.7 480.8h.7M362.6 495.4h.7M358.5 483.0h.7M371.4 451.6h.7M357.5 459.2h.7M352.4 455.4h.7M368.1 444.4h.7M356.7 476.6h.7M352.3 466.8h.7M373.5 470.8h.7M353.4 451.9h.7M352.4 481.7h.7M350.6 471.4h.7M371.5 490.8h.7M357.5 469.3h.7M363.8 488.7h.7M358.1 478.8h.7M365.2 466.1h.7M351.2 454.4h.7M352.6 452.6h.7M356.0 504.8h.7M355.7 439.4h.7M372.4 464.6h.7M357.4 503.1h.7M364.4 433.3h.7M354.8 425.1h.7M354.9 455.5h.7M358.3 488.3h.7M364.1 473.2h.7M355.9 446.3h.7M358.6 485.1h.7M358.9 456.6h.7M362.9 445.8h.7M366.2 457.8h.7M364.5 432.7h.7M366.7 429.1h.7M362.6 476.2h.7M370.5 449.9h.7M373.5 488.1h.7M363.6 461.2h.7M354.5 485.8h.7M366.4 451.7h.7M367.0 473.2h.7M363.0 449.6h.7M351.5 439.2h.7M357.1 466.7h.7M360.7 479.8h.7M372.9 492.7h.7M359.7 469.5h.7M369.1 474.2h.7M358.3 479.7h.7M354.3 498.8h.7M369.1 445.7h.7M360.8 450.6h.7M373.3 439.6h.7M365.9 465.0h.7M354.2 459.5h.7M369.8 455.9h.7M365.2 455.9h.7M373.8 481.4h.7M367.5 499.2h.7M360.5 463.6h.7M371.1 459.0h.7M371.9 497.0h.7M352.7 446.5h.7M372.0 455.9h.7M367.9 455.7h.7M370.5 471.5h.7M360.1 482.6h.7M361.2 452.7h.7M362.1 500.0h.7M359.8 453.3h.7M372.0 460.7h.7M353.1 475.8h.7M373.8 427.6h.7M368.3 458.0h.7M369.3 499.6h.7M354.7 501.9h.7M355.0 459.0h.7M358.8 458.6h.7M372.1 458.1h.7M355.8 457.6h.7M357.1 466.4h.7M361.5 510.9h.7M371.4 495.5h.7M363.2 488.7h.7M365.0 469.7h.7M359.1 458.1h.7M367.4 461.0h.7M361.2 498.6h.7M358.8 505.5h.7M361.6 467.8h.7M367.3 424.8h.7M361.1 470.3h.7M372.3 469.1h.7M352.6 464.0h.7M371.5 457.8h.7M355.5 434.3h.7M357.8 495.8h.7M363.2 505.4h.7M368.8 468.8h.7M369.1 486.8h.7M369.1 487.3h.7M373.7 475.3h.7M360.0 493.6h.7M373.7 486.5h.7M355.2 477.1h.7M350.5 487.6h.7M356.3 483.7h.7M355.0 477.7h.7M364.4 444.9h.7M360.2 457.2h.7M357.2 452.7h.7M352.4 480.7h.7M364.1 435.8h.7M367.8 478.6h.7M362.8 475.3h.7M366.8 516.8h.7M368.0 454.1h.7M363.1 461.0h.7M367.7 461.9h.7M351.7 460.8h.7M368.3 433.7h.7M356.2 471.2h.7M372.3 455.6h.7M369.9 456.3h.7M367.5 470.7h.7M365.9 475.3h.7M357.5 466.5h.7M354.2 495.4h.7M364.8 434.5h.7M361.1 495.3h.7M353.7 449.6h.7M358.0 491.2h.7M371.4 451.5h.7M369.1 462.0h.7M370.3 464.3h.7M354.7 466.7h.7M366.2 436.2h.7M361.3 470.3h.7M364.0 481.0h.7M363.9 471.9h.7M373.1 451.8h.7M355.9 482.7h.7M355.2 433.7h.7M355.8 462.3h.7M371.3 451.6h.7M359.4 471.9h.7M352.2 461.9h.7M366.8 494.2h.7M352.9 458.1h.7M361.3 445.2h.7M364.0 423.0h.7M366.9 470.0h.7M367.9 462.0h.7M370.3 440.9h.7M353.9 460.1h.7M373.8 493.4h.7M363.3 477.3h.7M368.7 456.8h.7M353.1 432.0h.7M352.0 438.1h.7M369.8 455.1h.7M356.0 465.3h.7M355.3 460.8h.7M355.3 489.6h.7M357.4 445.6h.7M362.8 441.3h.7M367.9 492.3h.7M360.8 432.9h.7M351.4 461.8h.7M361.5 458.0h.7M368.1 471.6h.7M354.3 455.9h.7M353.2 458.2h.7M364.7 436.3h.7M372.1 517.1h.7M365.3 454.8h.7M357.2 446.8h.7M367.9 490.9h.7M354.5 473.5h.7M355.3 456.5h.7M363.8 457.7h.7M355.3 458.9h.7M357.3 461.1h.7M373.6 463.7h.7M369.5 447.0h.7M354.6 471.8h.7M355.3 466.8h.7M351.9 464.8h.7M356.4 453.1h.7M353.0 457.3h.7M368.6 489.4h.7M356.9 425.1h.7M359.4 466.2h.7M350.5 477.8h.7M370.8 445.2h.7M368.9 476.4h.7M371.4 478.7h.7M356.2 439.6h.7M369.3 479.6h.7M359.8 466.6h.7M356.1 451.7h.7M366.2 478.1h.7M353.9 460.4h.7M364.5 468.1h.7M367.7 450.5h.7M354.3 476.7h.7M356.9 480.5h.7M364.7 469.3h.7M353.5 484.2h.7M361.4 473.4h.7M366.5 494.2h.7M360.1 449.8h.7M373.5 461.2h.7M365.0 472.4h.7M354.1 413.4h.7M362.1 469.1h.7M373.7 454.9h.7M363.8 446.7h.7M350.9 447.9h.7M359.6 488.4h.7M361.2 455.9h.7M368.3 503.1h.7M356.5 472.8h.7M351.8 486.7h.7M352.1 465.3h.7M361.0 464.2h.7M373.5 492.0h.7M365.5 435.2h.7M356.7 447.0h.7M353.6 460.4h.7M369.2 508.6h.7M373.8 469.4h.7M357.2 421.3h.7M367.8 466.6h.7M367.2 474.1h.7M370.3 456.7h.7M360.0 462.4h.7M373.9 468.6h.7M356.1 424.4h.7M354.6 494.8h.7M365.6 480.4h.7M359.0 458.5h.7M360.9 480.5h.7M364.7 483.2h.7M353.8 445.4h.7M358.2 495.0h.7M355.0 461.9h.7M357.8 481.1h.7M370.8 477.1h.7M350.1 460.1h.7M356.0 484.4h.7M360.3 476.4h.7M363.2 469.2h.7M362.8 452.1h.7M367.2 450.8h.7M364.0 475.8h.7M361.8 457.0h.7M367.2 466.6h.7M371.4 466.3h.7M356.9 456.1h.7M368.9 475.2h.7M359.6 459.2h.7M353.8 443.8h.7M353.1 469.5h.7M356.0 447.8h.7M354.3 475.0h.7M360.5 483.9h.7M355.6 516.3h.7M366.8 481.9h.7M360.1 450.3h.7M355.2 485.7h.7M372.3 485.0h.7M373.4 432.0h.7M363.4 468.8h.7M363.0 469.7h.7M372.3 476.6h.7M359.1 474.8h.7M368.4 428.9h.7M365.1 453.6h.7M371.3 439.5h.7M364.4 445.9h.7M362.1 480.1h.7M372.6 443.2h.7M363.7 460.3h.7M355.8 507.3h.7M362.1 431.9h.7M357.8 460.6h.7M373.5 467.0h.7M356.6 472.5h.7M369.9 430.7h.7M365.6 492.3h.7M352.0 472.0h.7M370.8 467.9h.7M357.0 468.9h.7M364.5 480.5h.7M359.9 464.9h.7M350.7 478.1h.7M373.3 454.7h.7M360.7 444.7h.7M354.7 478.3h.7M351.8 477.3h.7M373.1 493.0h.7M366.4 480.1h.7M358.2 504.3h.7M365.8 432.3h.7M363.2 460.0h.7M364.5 420.4h.7M359.1 471.4h.7M359.5 483.3h.7M373.3 447.3h.7M361.7 457.2h.7M371.3 488.2h.7M355.3 461.5h.7M355.9 449.9h.7M370.5 480.2h.7M351.8 460.2h.7M358.8 437.5h.7M364.9 441.2h.7M371.9 446.0h.7M371.8 483.6h.7M352.3 480.5h.7M352.9 453.1h.7M370.0 474.8h.7M362.3 443.1h.7M357.6 463.4h.7M356.0 483.4h.7M366.4 500.5h.7M350.9 466.8h.7M358.7 490.5h.7M361.8 445.9h.7M350.6 475.1h.7M368.2 452.3h.7M358.7 440.1h.7M371.5 479.5h.7M364.1 458.6h.7M356.1 459.0h.7M361.2 442.6h.7M361.3 457.3h.7M357.1 462.2h.7M373.5 464.9h.7M359.1 485.9h.7M362.6 462.8h.7M357.8 475.3h.7M368.2 494.4h.7M364.3 491.6h.7M361.8 478.4h.7M367.6 462.4h.7M362.3 478.6h.7M370.0 451.9h.7M353.2 465.9h.7M370.8 469.9h.7M353.9 468.6h.7M373.8 473.5h.7M351.8 474.4h.7M353.1 459.0h.7M369.0 497.7h.7M354.1 467.9h.7M370.1 451.5h.7M364.1 443.3h.7M358.0 463.8h.7M372.1 460.6h.7M360.7 499.4h.7M358.9 474.2h.7M367.4 445.3h.7M351.7 448.6h.7M359.2 422.7h.7M358.3 440.4h.7M362.8 475.7h.7M366.5 449.5h.7M367.4 470.1h.7M353.8 485.3h.7M365.7 465.2h.7M361.9 449.3h.7M361.5 480.1h.7M370.2 456.0h.7M350.8 458.1h.7M354.5 442.8h.7M373.7 458.5h.7M363.1 476.1h.7M360.8 437.2h.7M363.0 419.5h.7M371.2 443.1h.7M368.6 479.2h.7M366.9 450.7h.7M366.5 472.3h.7M368.7 479.2h.7M357.3 439.2h.7M358.3 474.4h.7M371.4 440.2h.7M350.8 468.1h.7M372.4 471.7h.7M371.8 489.5h.7M367.2 465.1h.7M356.8 463.3h.7M361.1 453.6h.7M360.7 458.8h.7M358.3 474.9h.7M350.1 477.7h.7M367.2 460.9h.7M358.2 464.4h.7M356.0 508.4h.7M362.2 467.1h.7M359.4 443.1h.7M370.6 465.9h.7M356.1 495.9h.7M357.8 478.7h.7M372.8 481.6h.7M362.1 488.1h.7M356.5 454.5h.7M361.3 421.4h.7M361.2 489.5h.7M357.6 422.4h.7M352.0 447.4h.7M354.8 451.0h.7M356.0 461.4h.7M362.5 445.4h.7M350.6 482.6h.7M372.9 453.4h.7M351.1 443.1h.7M364.6 471.8h.7M370.1 471.9h.7M358.2 436.0h.7M360.7 456.3h.7M355.4 490.4h.7M358.6 457.5h.7M369.9 473.0h.7M373.3 503.0h.7M369.6 466.6h.7M352.8 470.2h.7M350.3 463.6h.7M351.6 488.2h.7M373.8 499.1h.7M368.6 448.4h.7M365.9 439.4h.7M368.6 471.7h.7M369.8 482.5h.7M372.5 469.6h.7M350.1 476.5h.7M362.4 491.2h.7M354.1 462.9h.7M357.2 437.9h.7M368.4 466.7h.7M355.5 493.6h.7M352.8 475.6h.7M366.7 475.2h.7M359.5 469.2h.7M364.8 463.6h.7M373.0 460.2h.7M368.4 454.0h.7M366.9 465.3h.7M351.7 476.3h.7M359.9 456.4h.7M363.8 430.7h.7M368.4 473.0h.7M362.5 441.4h.7M358.9 496.6h.7M366.1 468.5h.7M371.5 466.9h.7M363.2 458.8h.7M351.8 474.6h.7M370.0 462.2h.7M371.3 442.2h.7M350.8 439.7h.7M364.3 495.1h.7M351.5 482.4h.7M351.5 488.9h.7M371.1 462.1h.7M363.8 464.9h.7M364.8 480.6h.7M356.6 444.2h.7M367.4 448.7h.7M351.0 498.5h.7M362.2 509.2h.7M355.1 461.6h.7M353.2 442.6h.7M351.9 445.4h.7M361.7 451.7h.7M356.2 514.4h.7M359.7 493.3h.7M361.5 450.4h.7M363.5 486.6h.7M352.4 496.3h.7M368.9 434.4h.7M360.2 485.9h.7M371.9 453.3h.7M365.9 485.7h.7M358.4 465.1h.7M371.3 451.8h.7M350.9 511.5h.7M365.3 500.1h.7M359.7 467.4h.7M355.0 471.9h.7M365.0 439.5h.7M367.8 467.6h.7M370.0 489.6h.7M360.2 458.6h.7M363.8 452.2h.7M352.2 457.4h.7M368.9 444.3h.7M364.6 439.2h.7M370.5 445.0h.7M360.1 493.0h.7M351.3 473.0h.7M350.1 459.4h.7M363.8 439.2h.7M356.5 471.2h.7M370.0 457.1h.7M361.2 494.5h.7M365.3 486.7h.7M355.4 497.0h.7M370.9 491.3h.7M368.3 478.6h.7M350.6 440.6h.7M350.2 461.1h.7M359.8 489.7h.7M366.4 467.9h.7M367.8 448.6h.7M353.8 442.2h.7M353.4 484.9h.7M361.7 441.3h.7M372.9 439.4h.7M359.0 479.1h.7M368.5 442.8h.7M370.1 456.2h.7M369.7 478.1h.7M351.9 473.4h.7M353.5 471.5h.7M357.0 455.8h.7M364.2 443.8h.7M368.3 472.4h.7M351.5 490.4h.7M356.3 477.1h.7M357.4 477.7h.7M361.9 454.6h.7M352.9 441.4h.7M362.2 455.0h.7M363.8 442.7h.7M358.5 473.2h.7M357.6 467.7h.7M369.7 454.6h.7M366.5 470.3h.7M371.1 439.8h.7M364.7 470.0h.7M372.2 507.2h.7M364.0 460.2h.7M361.0 457.6h.7M369.4 482.5h.7M362.9 456.4h.7M366.1 477.2h.7M373.6 443.7h.7M366.6 438.6h.7M358.6 476.7h.7M367.5 432.8h.7M370.3 479.6h.7M360.8 489.4h.7M359.6 470.6h.7M352.2 462.0h.7M372.0 435.3h.7M364.3 476.9h.7M351.2 469.2h.7M369.1 479.9h.7M351.4 486.6h.7M367.0 484.1h.7M357.4 440.5h.7M360.5 469.8h.7M350.3 469.6h.7M361.4 451.8h.7M360.6 446.0h.7M352.5 437.3h.7M352.2 484.3h.7M357.0 475.0h.7M366.8 444.6h.7M366.3 468.1h.7M357.2 476.5h.7M353.8 463.4h.7M364.8 484.1h.7M373.8 471.0h.7M361.8 503.4h.7M351.4 494.8h.7M369.2 486.6h.7M351.2 461.3h.7M367.7 445.4h.7M356.9 429.6h.7M373.5 475.1h.7M371.8 515.0h.7M355.0 470.9h.7M365.7 497.2h.7M365.8 455.7h.7M355.4 473.3h.7M357.6 491.4h.7M361.5 500.1h.7M370.3 436.5h.7M350.2 439.8h.7" stroke="#000" stroke-width="1.0" fill="none"/>
<path d="M399.4 491.5h.7M383.5 505.4h.7M393.5 471.1h.7M395.6 495.7h.7M385.9 480.1h.7M396.3 454.6h.7M393.0 451.5h.7M392.7 470.5h.7M382.3 488.5h.7M387.0 505.6h.7M397.8 520.3h.7M380.2 455.2h.7M379.8 491.4h.7M389.5 471.3h.7M396.1 495.0h.7M380.0 482.3h.7M378.2 452.4h.7M380.2 456.6h.7M393.5 471.5h.7M388.2 476.2h.7M379.8 503.3h.7M383.1 477.8h.7M380.9 458.0h.7M390.9 465.9h.7M387.4 495.0h.7M390.8 518.7h.7M382.0 509.5h.7M388.5 473.1h.7M384.8 488.3h.7M391.2 507.3h.7M383.4 472.8h.7M381.0 490.7h.7M383.7 481.6h.7M391.6 456.1h.7M386.2 512.8h.7M391.4 461.6h.7M397.1 508.4h.7M386.5 502.6h.7M384.9 513.3h.7M399.3 514.0h.7M385.5 492.4h.7M393.7 477.6h.7M383.6 479.5h.7M395.8 498.9h.7M386.2 489.3h.7M381.0 478.2h.7M381.0 455.2h.7M392.8 459.5h.7M399.2 464.8h.7M387.0 468.3h.7M388.5 486.9h.7M393.4 506.7h.7M390.2 511.3h.7M400.3 475.1h.7M396.8 476.4h.7M384.7 494.2h.7M386.4 474.6h.7M395.8 469.5h.7M389.9 484.8h.7M393.4 474.6h.7M377.6 465.8h.7M399.1 506.4h.7M397.4 481.8h.7M399.3 497.9h.7M380.8 480.8h.7M400.1 503.9h.7M397.0 506.6h.7M387.8 480.9h.7M396.0 488.5h.7M387.3 501.4h.7M378.3 519.7h.7M389.7 479.6h.7M382.8 483.2h.7M383.3 486.3h.7M397.7 456.7h.7M393.5 464.0h.7M395.6 459.3h.7M392.1 481.6h.7M381.9 437.0h.7M391.6 490.5h.7M395.1 498.6h.7M384.8 512.5h.7M392.4 485.0h.7M398.6 478.1h.7M381.2 494.4h.7M392.3 492.2h.7M399.9 500.6h.7M389.4 484.4h.7M380.7 488.4h.7M386.9 475.1h.7M391.6 492.4h.7M390.5 502.2h.7M396.6 462.5h.7M384.7 510.3h.7M381.6 508.2h.7M397.3 483.5h.7M386.6 492.2h.7M387.8 466.3h.7M395.3 445.4h.7M383.2 473.5h.7M382.4 509.4h.7M390.0 485.2h.7M397.6 499.4h.7M394.9 482.5h.7M390.5 490.5h.7M388.6 479.7h.7M386.6 489.3h.7M386.0 504.8h.7M388.2 512.7h.7M395.7 502.7h.7M377.9 446.3h.7M386.3 481.4h.7M395.8 471.6h.7M398.9 502.3h.7M387.4 469.1h.7M396.7 451.8h.7M399.5 463.8h.7M399.5 492.0h.7M383.3 489.4h.7M381.5 496.9h.7M392.3 503.9h.7M382.6 478.0h.7M394.8 485.1h.7M384.8 461.3h.7M400.0 514.8h.7M396.4 489.0h.7M387.4 432.0h.7M399.5 484.8h.7M398.1 485.1h.7M394.1 480.7h.7M399.3 425.7h.7M398.7 489.6h.7M378.3 470.6h.7M385.1 499.8h.7M390.1 488.6h.7M377.9 449.7h.7M387.8 484.5h.7M399.3 448.8h.7M383.1 496.3h.7M384.3 452.7h.7M394.8 507.6h.7M399.6 496.1h.7M388.1 495.6h.7M397.6 494.1h.7M386.1 485.5h.7M394.5 499.7h.7M396.9 508.6h.7M393.0 508.3h.7M387.2 481.0h.7M397.2 510.2h.7M378.5 479.2h.7M399.2 492.0h.7M382.4 493.2h.7M380.1 446.3h.7M382.8 483.1h.7M398.0 485.4h.7M391.9 509.0h.7M378.0 476.2h.7M378.2 457.2h.7M387.6 481.6h.7M380.0 464.7h.7M378.6 483.5h.7M385.1 450.0h.7M399.9 507.0h.7M398.0 447.1h.7M395.8 466.9h.7M383.9 481.7h.7M378.6 502.0h.7M396.0 468.8h.7M384.9 477.5h.7M390.3 500.1h.7M385.9 491.1h.7M378.3 510.7h.7M395.1 480.0h.7M395.3 507.5h.7M380.6 495.8h.7M380.4 475.7h.7M397.4 479.0h.7M397.8 488.7h.7M392.3 478.8h.7M400.7 517.6h.7M399.1 474.8h.7M392.4 466.6h.7M385.3 474.6h.7M379.6 514.6h.7M382.6 458.8h.7M388.9 456.4h.7M384.4 485.2h.7M390.4 497.1h.7M393.6 510.2h.7M388.7 495.4h.7M377.6 509.4h.7M399.0 458.7h.7M381.2 494.5h.7M391.9 465.4h.7M389.0 480.6h.7M382.3 454.2h.7M387.2 476.5h.7M380.0 466.2h.7M387.2 492.3h.7M387.0 484.4h.7M397.9 509.2h.7M383.4 515.6h.7M388.5 479.8h.7M386.9 443.6h.7M381.8 505.4h.7M386.4 459.5h.7M391.0 447.4h.7M388.7 481.5h.7M380.1 487.0h.7M394.3 482.5h.7M397.0 486.4h.7M380.9 437.1h.7M383.1 462.4h.7M382.6 485.8h.7M385.2 495.4h.7M388.0 514.7h.7M394.7 476.8h.7M388.7 479.4h.7M389.0 475.9h.7M395.7 502.4h.7M385.8 488.2h.7M400.1 475.0h.7M390.7 480.0h.7M378.1 471.8h.7M393.2 458.5h.7M400.7 482.4h.7M379.4 475.7h.7M389.9 488.8h.7M384.4 445.6h.7M396.1 498.7h.7M378.4 458.2h.7M378.4 483.9h.7M388.4 442.1h.7M381.1 468.9h.7M399.0 465.1h.7M379.4 445.5h.7M395.7 476.5h.7M389.6 496.8h.7M400.1 470.4h.7M384.2 460.4h.7M394.1 452.5h.7M387.8 467.9h.7M381.2 468.9h.7M395.7 482.4h.7M379.2 466.8h.7M400.6 511.4h.7M380.7 495.1h.7M398.1 489.3h.7M384.2 482.7h.7M382.5 503.5h.7M380.0 464.1h.7M399.4 454.6h.7M388.9 510.9h.7M398.8 480.1h.7M378.5 507.5h.7M385.6 432.3h.7M387.0 502.7h.7M395.6 483.7h.7M379.9 475.3h.7M389.6 506.4h.7M388.1 490.3h.7M392.1 475.1h.7M395.1 497.9h.7M388.8 514.9h.7M380.2 428.8h.7M377.8 470.7h.7M391.3 445.5h.7M400.7 482.5h.7M381.3 470.8h.7M382.9 463.2h.7M390.1 480.0h.7M392.6 479.9h.7M379.9 475.3h.7M385.1 491.4h.7M389.7 514.2h.7M389.4 489.6h.7M396.1 500.9h.7M388.2 494.5h.7M397.9 485.4h.7M390.8 490.3h.7M381.2 491.6h.7M384.5 487.5h.7M392.7 483.9h.7M381.8 491.9h.7M398.4 496.2h.7M389.6 494.9h.7M394.0 477.9h.7M388.7 469.4h.7M383.3 496.3h.7M388.8 462.8h.7M393.7 469.3h.7M390.1 485.5h.7M382.8 468.5h.7M380.6 491.5h.7M400.5 473.2h.7M386.6 452.2h.7M388.3 506.3h.7M380.6 486.5h.7M390.9 455.3h.7M392.5 497.7h.7M384.7 482.6h.7M388.2 493.9h.7M400.3 469.7h.7M389.6 476.0h.7M393.4 469.2h.7M396.7 478.4h.7M397.1 512.3h.7M385.6 490.4h.7M381.3 481.1h.7M384.6 474.6h.7M380.2 503.8h.7M382.1 464.7h.7M379.6 442.9h.7M382.5 501.4h.7M399.8 456.3h.7M385.5 474.9h.7M378.4 457.8h.7M382.5 501.2h.7M386.8 467.4h.7M380.6 506.6h.7M399.7 468.0h.7M393.2 464.2h.7M381.9 502.4h.7M389.3 487.0h.7M385.8 470.8h.7M390.7 459.9h.7M392.2 495.9h.7M391.8 473.4h.7M383.8 493.1h.7M383.0 481.2h.7M381.7 509.1h.7M385.9 474.1h.7M400.5 465.2h.7M393.9 501.6h.7M398.9 512.3h.7M393.3 512.8h.7M380.0 504.6h.7M377.8 458.9h.7M400.1 498.2h.7M379.6 480.4h.7M390.4 436.7h.7M385.8 511.2h.7M388.3 472.5h.7M392.1 489.9h.7M385.1 461.8h.7M393.6 458.3h.7M400.0 490.9h.7M385.9 507.4h.7M392.9 505.8h.7M384.1 468.7h.7M394.3 479.5h.7M389.6 485.6h.7M397.7 505.4h.7M398.0 492.7h.7M390.0 471.8h.7M382.8 479.5h.7M400.3 499.0h.7M398.9 480.5h.7M396.7 477.0h.7M380.0 518.6h.7M393.2 462.2h.7M396.0 483.3h.7M390.4 468.2h.7M378.5 447.4h.7M380.5 475.9h.7M388.8 482.9h.7M377.8 486.7h.7M392.2 509.2h.7M382.4 485.2h.7M400.6 465.2h.7M390.9 502.7h.7M378.7 448.6h.7M393.0 496.1h.7M396.2 487.5h.7M380.5 487.2h.7M386.6 457.7h.7M400.2 445.9h.7M393.5 482.6h.7M388.0 458.8h.7M389.9 477.2h.7M393.7 474.8h.7M392.1 489.0h.7M389.2 441.1h.7M393.5 502.1h.7M378.1 461.0h.7M392.5 509.6h.7M384.9 487.9h.7M394.5 477.8h.7M386.8 490.1h.7M390.1 483.9h.7M399.5 482.5h.7M381.3 500.6h.7M395.7 450.4h.7M393.7 458.7h.7M392.9 489.7h.7M386.2 461.8h.7M379.7 486.8h.7M395.4 459.2h.7M382.5 480.8h.7M392.4 469.4h.7M378.5 507.3h.7M396.4 487.0h.7M397.1 455.9h.7M390.4 486.7h.7M378.1 491.5h.7M379.9 455.6h.7M379.9 479.7h.7M381.1 511.9h.7M385.5 496.7h.7M394.2 482.2h.7M384.4 477.3h.7M381.2 471.3h.7M392.8 460.9h.7M379.1 492.1h.7M389.6 478.5h.7M395.0 463.6h.7M380.2 449.4h.7M396.0 456.3h.7M386.1 494.7h.7M385.2 490.9h.7M396.8 470.9h.7M392.9 484.1h.7M379.9 480.0h.7M381.3 475.6h.7M383.3 437.7h.7M388.2 481.3h.7M388.2 480.6h.7M395.4 505.9h.7M387.8 482.2h.7M396.4 454.5h.7M379.2 460.2h.7M399.6 486.3h.7M388.4 501.1h.7M392.1 463.0h.7M388.2 513.4h.7M384.3 483.2h.7M391.6 492.4h.7M383.3 479.3h.7M386.4 479.8h.7M395.1 479.7h.7M386.0 493.2h.7M389.5 493.9h.7M383.4 464.3h.7M399.0 448.2h.7M386.9 461.4h.7M398.3 511.2h.7M379.0 510.3h.7M379.4 475.8h.7M380.1 458.0h.7M381.7 451.7h.7M379.2 490.0h.7M387.1 505.3h.7M378.3 474.5h.7M387.7 464.2h.7M378.9 504.7h.7M381.1 434.7h.7M388.8 476.0h.7M381.6 478.5h.7M384.3 474.0h.7M393.1 496.1h.7M383.1 445.2h.7M389.6 494.8h.7M394.3 487.3h.7M381.2 478.8h.7M386.1 502.1h.7M378.4 500.3h.7M392.3 497.7h.7M396.7 498.9h.7M381.4 495.6h.7M398.4 485.1h.7M391.0 490.5h.7M379.4 457.9h.7M383.0 470.8h.7M393.4 480.6h.7M393.2 483.5h.7M398.1 482.6h.7M388.6 501.2h.7M398.8 504.4h.7M393.1 493.6h.7M379.4 486.8h.7M399.2 502.2h.7M400.0 480.9h.7M400.1 459.5h.7M388.2 501.4h.7M380.5 480.2h.7M382.0 476.1h.7M391.2 477.2h.7M397.7 502.0h.7M398.0 463.9h.7M388.1 518.8h.7M387.5 504.6h.7M387.4 484.6h.7M400.6 502.6h.7M387.0 478.7h.7M393.3 475.0h.7M382.7 448.8h.7M378.4 452.2h.7M391.0 491.0h.7M381.9 503.9h.7M392.4 468.9h.7M388.6 491.0h.7M392.6 482.5h.7M393.1 488.5h.7M397.1 466.5h.7M400.8 448.8h.7M387.1 487.2h.7M394.4 488.7h.7M377.9 484.9h.7M383.9 442.2h.7M390.1 512.6h.7M378.0 515.5h.7M383.4 487.9h.7M384.0 478.6h.7M388.6 489.3h.7M384.4 477.8h.7M392.4 462.0h.7M396.9 439.8h.7M399.9 453.6h.7M381.2 495.9h.7M381.8 440.3h.7M398.2 520.7h.7M391.1 488.6h.7M388.0 482.6h.7M384.2 511.6h.7M377.9 501.6h.7M384.0 489.9h.7M388.2 485.9h.7M397.3 480.7h.7M380.7 513.7h.7M391.4 471.0h.7M397.3 493.9h.7M387.0 466.2h.7M382.1 466.4h.7M383.7 491.9h.7M384.5 499.2h.7M382.6 490.5h.7M397.6 477.8h.7M397.5 478.3h.7M380.9 490.8h.7M383.8 448.9h.7M386.5 475.9h.7M397.5 482.6h.7M381.0 503.2h.7M391.3 456.9h.7M399.3 470.7h.7M377.9 463.7h.7M389.4 485.1h.7M382.4 452.4h.7M400.5 513.2h.7M394.3 495.3h.7M388.3 453.4h.7M386.1 506.3h.7M380.8 489.8h.7M378.7 450.4h.7M379.4 467.9h.7M391.3 477.3h.7M396.0 455.3h.7M390.3 491.1h.7M396.7 483.1h.7M393.5 482.2h.7M381.5 468.9h.7M395.5 494.3h.7M385.4 471.8h.7M393.3 446.0h.7M398.1 508.0h.7M383.8 479.9h.7M386.8 470.8h.7M390.3 471.5h.7M397.9 478.7h.7M395.2 482.6h.7M383.4 433.9h.7M392.7 475.5h.7M382.2 509.0h.7M391.7 505.0h.7M399.5 467.6h.7M399.1 487.5h.7M392.8 480.5h.7M391.1 449.2h.7M381.2 496.0h.7M386.0 469.4h.7M381.1 498.3h.7M378.0 500.5h.7M391.7 513.8h.7M395.9 474.9h.7M379.0 464.6h.7M388.8 492.1h.7M382.6 506.6h.7M397.2 497.6h.7M378.7 506.6h.7M379.1 472.0h.7M378.4 470.0h.7M395.6 480.6h.7M387.1 488.6h.7M380.3 468.6h.7M388.0 473.0h.7M392.7 488.6h.7M381.9 454.2h.7M379.4 489.2h.7M381.0 505.2h.7M381.4 482.0h.7M388.4 473.1h.7M386.5 478.7h.7M383.6 474.4h.7M390.4 456.1h.7M389.1 508.5h.7M384.3 482.1h.7M395.1 464.1h.7M393.7 484.1h.7M399.4 481.4h.7M383.0 424.7h.7M399.0 490.3h.7M387.2 480.7h.7M394.3 459.7h.7M384.2 479.3h.7M393.5 430.7h.7M400.0 495.4h.7M397.9 491.3h.7M398.0 482.8h.7M390.7 472.4h.7M388.1 468.6h.7M381.7 480.7h.7M399.9 516.3h.7M379.4 458.0h.7M398.1 475.4h.7M398.7 478.7h.7M379.2 460.0h.7M382.3 506.1h.7M395.9 504.1h.7M382.6 486.6h.7M397.7 489.6h.7M385.4 474.2h.7M396.9 439.9h.7M381.2 490.5h.7M393.4 482.3h.7M396.6 486.4h.7M398.5 494.0h.7M397.4 503.2h.7M386.3 503.5h.7M390.3 479.3h.7M378.1 497.1h.7M379.8 449.4h.7M377.8 440.9h.7M389.2 472.0h.7M395.8 467.0h.7M386.5 497.5h.7M392.5 468.9h.7M387.7 452.2h.7M386.4 501.5h.7M398.1 482.0h.7M396.4 455.2h.7M396.7 493.1h.7M399.6 476.3h.7M389.7 508.9h.7M377.8 474.4h.7M386.1 490.7h.7M399.9 500.0h.7M399.7 475.7h.7M387.6 486.2h.7M395.5 512.1h.7M378.9 490.0h.7M394.1 487.5h.7M388.0 491.2h.7M380.2 511.2h.7M398.3 466.3h.7M388.8 466.0h.7M378.6 468.9h.7M382.5 504.6h.7M394.3 509.4h.7M378.1 485.2h.7M395.1 475.2h.7M399.4 496.8h.7M390.1 476.7h.7M386.8 494.5h.7M381.4 449.9h.7M396.4 486.8h.7M392.2 519.3h.7M395.3 472.0h.7M385.5 471.0h.7M394.6 482.7h.7M385.2 450.6h.7M385.1 471.7h.7M398.8 476.8h.7M382.3 487.4h.7M393.3 484.2h.7M390.4 503.0h.7M383.1 488.0h.7M378.7 499.9h.7M391.6 483.2h.7M382.5 488.8h.7M388.5 469.9h.7M390.3 441.5h.7M382.0 456.0h.7M389.4 481.2h.7M399.2 455.0h.7M387.7 493.7h.7M378.1 488.1h.7M398.1 492.0h.7M389.1 464.0h.7M398.6 450.0h.7M384.1 477.6h.7M389.5 446.9h.7M383.0 497.8h.7M399.6 466.1h.7M397.5 475.6h.7M389.4 497.1h.7M390.1 465.1h.7M387.6 487.2h.7M396.6 487.3h.7M399.8 463.4h.7M393.8 497.9h.7M382.9 467.4h.7M396.2 469.9h.7M393.3 480.4h.7M400.0 473.9h.7M389.9 471.6h.7M387.2 470.6h.7M384.8 474.6h.7M386.3 478.8h.7M389.2 473.7h.7M386.5 451.8h.7M387.9 513.8h.7M378.8 495.8h.7M377.9 499.9h.7M385.7 470.8h.7M385.1 504.3h.7M393.1 489.0h.7M396.3 505.5h.7M389.0 498.2h.7M386.2 487.0h.7M380.0 480.0h.7M387.2 499.0h.7M381.3 474.2h.7M381.0 480.4h.7M391.1 488.4h.7M383.0 509.2h.7M396.7 516.4h.7M382.1 446.3h.7M378.0 498.7h.7M385.9 483.3h.7M380.2 473.9h.7M400.2 484.0h.7M398.0 496.6h.7M388.8 480.7h.7M399.7 509.4h.7M383.0 469.8h.7M381.1 509.7h.7M391.5 484.7h.7M386.9 475.4h.7M399.0 472.0h.7M392.1 465.0h.7M397.4 518.8h.7M383.0 480.7h.7M393.9 510.5h.7M397.7 514.4h.7M391.3 510.0h.7M378.0 516.5h.7M398.2 466.0h.7M385.9 483.2h.7M391.9 468.0h.7M384.1 461.0h.7M387.5 452.4h.7M398.3 474.5h.7M393.7 476.8h.7M381.6 469.7h.7M381.9 476.1h.7M380.4 449.8h.7M399.0 516.0h.7M380.0 485.7h.7M380.3 486.7h.7M397.2 503.0h.7M380.4 485.9h.7M378.1 473.0h.7M392.4 477.5h.7M396.2 492.0h.7M381.8 465.2h.7M390.6 456.8h.7M384.1 456.0h.7M389.4 476.4h.7M378.6 494.2h.7M389.1 513.7h.7M385.7 494.0h.7M387.5 481.2h.7M392.7 452.9h.7M379.7 489.5h.7M391.2 481.1h.7M391.4 488.7h.7M394.5 450.5h.7M398.8 466.1h.7M398.7 471.5h.7M384.1 489.7h.7M390.4 504.1h.7M384.2 504.0h.7M396.0 462.0h.7M382.1 492.9h.7M381.0 464.4h.7M388.2 496.5h.7M386.2 501.6h.7M399.4 495.7h.7M398.1 500.9h.7M384.0 513.2h.7M384.2 495.2h.7M400.3 483.8h.7M394.8 496.8h.7M390.0 434.6h.7M385.7 513.6h.7M400.2 454.0h.7M383.1 451.0h.7M388.7 498.6h.7M400.1 497.0h.7M385.6 481.3h.7M399.1 489.0h.7M385.8 481.6h.7M396.8 463.9h.7M392.1 491.3h.7M397.2 495.9h.7M397.4 476.4h.7M387.6 495.2h.7M392.0 460.8h.7M388.1 478.4h.7M378.4 509.9h.7M395.9 472.9h.7M389.4 502.4h.7M386.6 465.0h.7M381.8 500.9h.7M384.5 462.0h.7M400.0 491.7h.7M400.6 513.8h.7M385.1 441.9h.7M380.8 485.8h.7M400.7 515.1h.7M378.3 456.1h.7M382.1 495.0h.7M380.9 496.7h.7M398.8 491.1h.7M385.4 497.9h.7M392.1 509.3h.7M387.6 502.5h.7M398.4 468.5h.7M392.1 444.0h.7M385.9 450.1h.7M394.1 473.0h.7M384.0 510.5h.7M393.9 463.3h.7M394.7 433.4h.7M388.4 480.0h.7M386.3 503.2h.7M386.1 474.8h.7M393.0 490.8h.7M398.1 479.9h.7M379.4 503.9h.7M390.5 459.0h.7M392.4 490.3h.7M378.1 457.6h.7M385.6 487.1h.7M398.7 463.2h.7M392.2 496.6h.7M386.0 504.1h.7M394.8 488.5h.7M379.9 488.7h.7M395.4 483.5h.7M390.5 473.9h.7M386.4 492.8h.7M392.5 485.0h.7M394.8 518.2h.7M391.3 474.1h.7M398.4 463.9h.7M391.6 491.5h.7M380.8 504.5h.7M392.4 456.4h.7M388.4 466.6h.7M384.0 498.2h.7M378.6 477.8h.7M396.7 475.1h.7M379.4 482.9h.7M391.7 477.2h.7M392.8 472.0h.7M382.4 483.5h.7M387.2 495.9h.7M388.7 481.8h.7M381.7 467.2h.7M384.6 489.6h.7M388.7 506.1h.7M381.6 434.7h.7M392.3 473.6h.7M390.1 490.4h.7M394.5 479.8h.7M384.8 500.6h.7M385.9 461.8h.7M398.4 435.9h.7M397.6 485.7h.7M388.0 484.5h.7M398.2 489.5h.7M400.3 498.8h.7M396.9 483.4h.7M399.4 508.1h.7M393.6 478.3h.7M393.3 499.7h.7M396.8 505.0h.7M400.2 474.4h.7M397.4 494.3h.7M394.4 503.1h.7M387.7 479.0h.7M385.7 487.7h.7M383.6 486.1h.7M389.1 497.2h.7M388.3 515.8h.7M379.0 465.9h.7M397.8 463.7h.7M385.8 472.4h.7M382.1 460.0h.7M393.6 480.5h.7M379.8 501.6h.7M393.1 506.6h.7M384.6 458.6h.7M378.6 497.9h.7M398.2 484.0h.7M383.4 498.4h.7M383.4 479.6h.7M394.5 508.0h.7M394.7 501.1h.7M397.9 440.7h.7M389.5 481.9h.7M382.0 476.2h.7M399.1 476.6h.7M379.3 490.2h.7M382.2 471.8h.7M388.3 472.8h.7M379.2 503.3h.7M397.1 500.2h.7M378.5 458.2h.7M388.7 472.1h.7M390.3 435.6h.7M379.7 490.2h.7M396.1 431.4h.7M397.8 480.4h.7M390.3 485.3h.7M394.8 473.4h.7M383.0 453.9h.7M394.0 481.0h.7M385.0 511.4h.7M388.3 489.5h.7M387.5 472.1h.7M397.3 466.7h.7M397.4 459.6h.7M384.9 492.0h.7M384.6 483.2h.7M396.6 504.5h.7M383.2 467.9h.7M381.2 455.2h.7M397.7 458.5h.7M383.0 481.9h.7M395.5 474.4h.7M389.0 492.9h.7M393.0 495.7h.7M390.4 475.4h.7M384.7 452.6h.7M386.4 500.8h.7M399.9 462.6h.7M400.2 451.9h.7M395.2 477.1h.7M395.2 458.0h.7M396.1 475.3h.7M398.4 517.9h.7M378.9 515.6h.7M391.8 469.7h.7M386.2 467.6h.7M395.9 491.7h.7M398.4 474.3h.7M393.8 441.0h.7M392.6 505.1h.7M399.4 495.9h.7M380.8 507.3h.7M386.8 468.4h.7M390.8 466.9h.7M394.1 488.1h.7M395.4 505.3h.7M398.2 459.9h.7M396.1 510.9h.7M392.4 469.3h.7M394.5 489.4h.7M398.7 493.8h.7M395.8 486.4h.7M396.4 507.0h.7M399.1 480.7h.7M385.5 518.9h.7M378.6 480.5h.7M394.7 508.0h.7M377.8 469.9h.7M380.1 466.4h.7M387.3 484.3h.7M386.7 506.0h.7M395.9 489.6h.7M383.7 482.3h.7M383.1 479.4h.7M398.0 472.0h.7M398.4 472.6h.7M395.8 491.3h.7M396.8 517.1h.7M378.2 445.2h.7M392.2 442.5h.7M390.6 477.4h.7M385.0 471.7h.7M382.2 502.8h.7M385.2 503.0h.7M397.4 472.7h.7M385.8 485.2h.7M400.1 456.2h.7M380.6 506.5h.7M397.0 441.8h.7M389.9 474.6h.7M387.8 437.2h.7M399.7 471.8h.7M385.2 464.3h.7M386.5 448.7h.7M392.2 490.4h.7M380.2 482.9h.7M384.4 481.2h.7M387.4 458.4h.7M387.6 483.2h.7M399.1 479.9h.7M381.0 440.1h.7M397.3 490.6h.7M392.9 437.9h.7M379.5 478.1h.7M395.4 443.1h.7M389.0 488.4h.7M396.5 442.3h.7M385.1 497.2h.7M397.6 448.6h.7M399.3 507.5h.7M398.8 496.2h.7M393.3 504.9h.7M392.4 502.2h.7M393.2 475.8h.7M382.5 475.1h.7M385.6 487.3h.7M383.3 512.4h.7M380.1 487.2h.7M393.5 488.3h.7M397.0 429.5h.7M398.4 475.2h.7M392.6 497.1h.7M383.5 474.3h.7M400.1 471.9h.7M382.3 458.3h.7M380.2 507.6h.7M400.0 518.3h.7M397.4 497.2h.7M378.9 478.6h.7M381.7 488.2h.7M395.9 469.7h.7M382.5 520.0h.7M386.3 480.6h.7M393.5 508.3h.7M383.4 497.7h.7M398.8 488.0h.7M378.9 508.1h.7M378.4 506.7h.7M378.5 455.4h.7M395.2 505.5h.7M393.1 484.7h.7M395.5 501.4h.7M381.2 497.9h.7M386.6 478.2h.7M381.8 476.0h.7M395.7 466.0h.7M394.2 440.9h.7M400.3 469.4h.7M398.7 459.9h.7M399.8 501.2h.7M381.7 472.6h.7M394.8 508.6h.7M397.6 475.9h.7M389.7 511.3h.7M379.8 500.5h.7M397.7 464.6h.7M381.0 480.4h.7M389.5 476.9h.7M381.0 498.2h.7M381.7 456.7h.7M399.6 461.0h.7M378.6 480.8h.7M382.0 479.5h.7M381.5 494.5h.7M396.7 430.9h.7M385.1 492.6h.7M386.0 492.3h.7M395.6 513.5h.7M394.8 507.0h.7M396.9 456.2h.7M384.2 474.1h.7M381.6 476.8h.7M382.0 464.2h.7M398.5 467.5h.7M394.6 493.3h.7M387.4 451.2h.7M388.7 482.6h.7M379.0 464.1h.7M382.2 483.7h.7M382.5 456.0h.7M383.0 516.7h.7M382.7 479.0h.7M390.1 486.2h.7M388.0 496.0h.7M399.5 475.1h.7M399.5 496.8h.7M389.2 502.0h.7M380.3 493.3h.7M380.3 455.9h.7M384.8 486.4h.7M382.3 472.4h.7M382.0 477.7h.7M382.5 485.7h.7M380.5 508.3h.7M378.1 491.3h.7M387.3 496.9h.7M378.8 499.2h.7M395.4 473.9h.7M382.1 467.8h.7M392.4 481.0h.7M395.4 449.5h.7M388.6 497.3h.7M385.1 478.1h.7M399.3 518.7h.7M389.8 510.9h.7M393.0 468.3h.7M380.2 458.9h.7M395.2 473.2h.7M394.1 490.3h.7M400.1 471.8h.7M388.1 464.7h.7M387.7 505.9h.7M388.6 505.1h.7M378.4 484.5h.7M384.1 457.1h.7M393.3 498.6h.7M395.2 503.3h.7M391.1 480.5h.7M391.4 481.3h.7M390.2 478.3h.7M396.0 495.8h.7M393.4 489.6h.7M384.5 468.3h.7M397.8 461.5h.7M386.8 460.6h.7M378.6 465.1h.7M399.9 485.7h.7M384.6 454.9h.7M386.4 484.2h.7M379.0 515.1h.7M390.6 482.1h.7M400.2 475.5h.7M380.2 508.5h.7M395.3 492.9h.7M392.3 445.8h.7M399.7 454.0h.7M381.3 471.3h.7M380.5 497.0h.7M398.4 476.1h.7M379.5 476.6h.7M395.9 445.1h.7M391.9 486.5h.7M386.6 459.3h.7M378.4 460.4h.7M388.9 467.0h.7M378.1 487.3h.7M383.2 500.8h.7M386.4 487.5h.7M390.6 468.7h.7M396.1 498.8h.7M383.6 485.1h.7M400.4 505.7h.7M380.4 491.7h.7M381.6 497.2h.7M400.1 458.7h.7M381.1 473.5h.7M386.0 508.2h.7M399.2 483.4h.7M391.2 504.6h.7M398.6 494.5h.7M392.9 470.4h.7M383.0 489.2h.7M390.6 497.9h.7M393.2 507.8h.7M392.2 473.0h.7M383.7 448.8h.7M382.6 473.7h.7M400.3 500.4h.7M390.5 471.1h.7M381.3 458.1h.7M390.4 504.1h.7M384.0 513.2h.7M381.5 489.5h.7M395.7 496.4h.7M400.3 481.8h.7M396.7 516.8h.7M392.4 480.0h.7M389.7 449.4h.7M397.4 499.2h.7M390.0 472.8h.7M389.0 494.8h.7M385.3 490.5h.7M384.5 490.9h.7M387.8 436.5h.7M398.2 464.3h.7M379.8 508.5h.7M389.6 505.9h.7M383.9 437.7h.7M399.7 477.5h.7M396.4 508.7h.7M391.7 459.8h.7M384.4 502.7h.7M389.2 482.4h.7M379.8 453.4h.7M389.6 493.5h.7M381.2 475.8h.7M394.9 512.0h.7M381.2 470.6h.7M381.9 503.4h.7M379.4 462.9h.7M380.0 518.7h.7M396.8 505.2h.7M388.3 480.8h.7M378.6 482.5h.7M382.8 465.4h.7M397.7 488.0h.7M394.1 455.0h.7M385.3 482.9h.7M399.2 475.6h.7M383.9 438.2h.7M393.4 478.0h.7M382.5 464.3h.7M386.3 493.0h.7M387.4 490.5h.7M382.4 472.1h.7M389.2 476.6h.7M391.5 455.6h.7M393.2 478.3h.7M389.8 436.0h.7M389.9 457.3h.7M391.2 491.8h.7M380.9 455.8h.7M400.6 484.4h.7M383.0 487.3h.7M390.0 486.4h.7M395.3 504.2h.7M392.5 452.2h.7M390.1 513.8h.7M392.3 473.0h.7M400.6 490.6h.7M397.7 498.2h.7M381.0 491.3h.7M395.6 481.7h.7M393.4 497.3h.7M396.6 489.2h.7M388.2 477.5h.7M396.8 495.3h.7M396.7 464.0h.7M400.5 481.1h.7M378.2 482.3h.7M392.8 478.5h.7M391.7 505.0h.7M400.5 467.4h.7M398.9 495.4h.7M389.2 514.0h.7M389.4 475.8h.7M379.7 493.2h.7M395.3 509.5h.7M380.9 471.0h.7M392.8 491.6h.7M399.1 470.6h.7M390.0 439.0h.7M385.3 478.1h.7M394.6 444.4h.7M395.6 456.5h.7M389.2 461.6h.7M392.9 468.8h.7M378.4 497.1h.7M382.2 485.9h.7M387.9 487.1h.7M388.6 486.1h.7M382.0 479.2h.7M398.2 479.0h.7M384.3 498.7h.7M396.0 486.1h.7M393.9 477.7h.7M387.0 474.5h.7M381.9 470.0h.7M396.8 483.0h.7M386.0 488.2h.7M386.2 456.5h.7M396.2 473.9h.7M378.5 482.6h.7M400.2 477.8h.7M396.8 460.4h.7M391.7 513.5h.7M388.4 478.7h.7M384.2 498.7h.7M389.5 509.1h.7M393.4 470.8h.7M396.5 499.7h.7M383.8 496.9h.7M389.0 482.0h.7M386.9 520.4h.7M382.1 471.2h.7M389.3 498.5h.7M386.7 482.3h.7M387.6 499.0h.7M391.5 481.6h.7M382.5 474.7h.7M395.4 454.6h.7M386.5 473.5h.7M387.4 502.9h.7M378.2 456.1h.7M395.7 492.7h.7M397.3 494.3h.7M384.5 517.8h.7M392.4 512.4h.7M379.9 488.1h.7M387.5 487.8h.7M384.8 519.1h.7M396.4 507.3h.7M385.4 499.8h.7M377.7 462.8h.7M386.1 467.9h.7M394.4 473.9h.7M382.9 478.5h.7M394.0 494.0h.7M398.8 514.0h.7M378.3 508.7h.7M378.2 461.8h.7M377.7 504.5h.7M388.1 455.4h.7M379.8 503.2h.7M394.9 450.4h.7M394.9 512.0h.7M392.5 504.7h.7M383.1 435.6h.7M393.2 495.9h.7M393.9 511.3h.7M393.0 475.6h.7M386.5 453.3h.7M397.6 487.4h.7M397.9 482.7h.7M384.0 471.7h.7M386.3 507.8h.7M398.9 470.5h.7M390.0 468.5h.7M380.8 475.0h.7M397.8 490.9h.7M395.1 493.1h.7M385.2 484.1h.7M397.8 478.5h.7M389.5 466.9h.7M395.1 491.0h.7M379.8 510.8h.7M383.0 466.2h.7M380.4 499.7h.7M399.0 449.9h.7M398.4 478.4h.7M397.3 489.4h.7M399.5 492.3h.7M392.6 474.6h.7M399.4 496.8h.7M400.6 498.1h.7M382.9 444.1h.7M388.3 465.9h.7M387.5 495.1h.7M393.0 481.3h.7M394.3 456.7h.7M389.3 469.5h.7M384.5 510.9h.7M384.5 491.1h.7M377.6 474.2h.7M379.0 478.0h.7M396.8 499.6h.7M398.9 501.1h.7M388.5 440.5h.7M387.3 467.5h.7M381.4 503.3h.7M399.9 497.2h.7M384.6 468.1h.7M386.7 470.0h.7M391.5 478.1h.7M392.4 462.3h.7M392.5 451.1h.7M397.8 465.4h.7M383.9 499.6h.7M391.2 487.0h.7M399.3 510.5h.7M379.2 489.0h.7M392.0 484.1h.7M394.0 483.7h.7M386.4 481.4h.7M397.8 476.9h.7M385.1 474.9h.7M379.9 472.1h.7M391.2 455.6h.7M385.0 483.2h.7M379.0 469.7h.7M390.4 474.9h.7M396.8 497.2h.7M378.3 452.3h.7M380.3 499.8h.7M398.7 470.1h.7M379.5 462.8h.7M390.2 463.6h.7M390.0 504.9h.7M383.3 494.1h.7M400.6 494.3h.7M396.0 493.9h.7M382.5 500.6h.7M393.3 481.1h.7M380.2 476.6h.7M378.2 470.1h.7M381.2 474.3h.7M399.2 482.8h.7M388.3 477.8h.7M396.9 508.2h.7M378.6 486.0h.7M392.5 504.9h.7M380.6 488.6h.7M380.6 428.7h.7M377.8 480.0h.7M395.1 483.7h.7M394.6 488.5h.7M393.2 493.9h.7M386.5 495.8h.7M381.8 502.4h.7M379.4 467.0h.7M389.9 458.3h.7M393.9 491.6h.7M390.0 477.4h.7M382.9 473.1h.7M397.4 512.3h.7M382.7 469.5h.7M394.3 512.1h.7M394.8 451.4h.7M393.0 484.1h.7M385.1 488.6h.7M386.2 446.7h.7M379.8 515.3h.7M377.7 460.9h.7M379.5 504.3h.7M387.0 471.5h.7M397.7 497.7h.7M395.3 504.7h.7M385.2 466.9h.7M399.0 491.8h.7M380.5 449.7h.7M379.7 481.5h.7M386.2 493.3h.7M398.9 483.1h.7M394.4 455.9h.7M383.4 432.9h.7M379.7 483.3h.7M397.6 485.3h.7M396.4 479.4h.7M379.4 491.6h.7M396.6 493.6h.7M399.6 486.6h.7M390.1 501.6h.7M391.1 495.9h.7M385.8 464.9h.7M395.1 496.1h.7M391.3 483.9h.7M384.9 468.6h.7M393.8 494.8h.7M385.9 477.7h.7M384.6 494.7h.7M397.4 482.1h.7M387.8 481.8h.7M387.5 445.1h.7M399.5 505.9h.7M384.7 477.1h.7M398.6 486.0h.7M387.3 497.4h.7M397.7 474.4h.7M388.6 491.4h.7M399.6 517.6h.7M383.8 473.4h.7M381.5 468.8h.7M380.0 520.8h.7M386.8 462.8h.7M399.6 484.3h.7M400.2 485.3h.7M391.8 485.2h.7M380.9 492.1h.7M380.3 498.0h.7M394.7 473.1h.7M382.8 477.9h.7M386.4 499.5h.7M399.5 475.5h.7M398.7 473.2h.7M394.9 489.4h.7M396.0 468.0h.7M389.4 487.5h.7M389.6 506.9h.7M383.2 499.7h.7M386.5 489.9h.7M388.3 500.1h.7M395.8 511.1h.7M378.5 469.0h.7M381.3 471.6h.7M381.0 476.2h.7M389.9 468.4h.7M398.2 441.6h.7M393.3 456.9h.7M389.6 505.4h.7M389.2 478.0h.7M393.6 515.7h.7M390.0 495.1h.7M387.7 512.8h.7M390.0 444.6h.7M390.4 463.1h.7M378.0 502.3h.7M378.9 454.1h.7M396.0 490.7h.7M380.2 438.7h.7M385.0 474.8h.7M377.9 465.4h.7M397.5 480.4h.7M385.0 489.3h.7M379.8 497.5h.7M384.8 510.6h.7M379.6 479.0h.7M379.9 519.4h.7M388.7 489.9h.7M378.9 461.3h.7M398.9 459.8h.7M398.2 516.4h.7M379.0 471.9h.7M385.6 462.4h.7M386.4 497.7h.7M393.8 462.8h.7M384.6 446.4h.7M379.4 508.9h.7M386.4 486.4h.7M381.9 472.8h.7M383.1 478.3h.7M393.0 483.5h.7M398.9 465.0h.7M380.3 490.9h.7M378.2 504.0h.7M388.3 437.4h.7M385.9 437.1h.7M384.6 461.6h.7M382.7 504.3h.7M388.2 466.2h.7M386.4 493.8h.7M385.3 481.7h.7M400.5 501.5h.7M382.2 449.9h.7M399.0 488.0h.7M386.3 428.8h.7M394.8 500.6h.7M387.9 500.1h.7M384.8 489.4h.7M384.0 504.6h.7M400.6 460.1h.7M392.7 472.8h.7M386.3 452.4h.7M395.2 491.6h.7M389.3 452.5h.7M382.0 488.3h.7M399.2 476.0h.7M381.6 500.4h.7M381.7 489.2h.7M391.1 458.4h.7M390.3 479.1h.7M383.9 477.8h.7M382.4 493.5h.7M388.2 472.8h.7M386.6 479.7h.7M388.6 495.2h.7M396.3 485.8h.7M382.7 487.8h.7M385.8 476.8h.7M390.1 455.6h.7M388.0 486.7h.7M389.0 437.0h.7M384.9 502.8h.7M389.4 471.1h.7M384.4 471.3h.7M400.4 490.2h.7M388.6 443.1h.7M383.5 493.0h.7M384.2 462.2h.7M381.2 449.1h.7M382.8 481.2h.7M397.7 447.5h.7M395.5 502.5h.7M389.6 491.8h.7M380.8 467.7h.7M380.3 487.7h.7M383.5 499.7h.7M384.7 487.3h.7M386.6 497.8h.7M396.0 496.8h.7M380.7 457.2h.7M387.6 468.5h.7M381.5 483.5h.7M387.0 464.0h.7M392.4 446.1h.7M395.7 496.7h.7M377.6 457.6h.7M400.5 474.2h.7M385.1 480.7h.7M400.5 504.2h.7M386.4 471.8h.7M386.8 492.6h.7M398.2 512.2h.7M385.1 442.5h.7M400.2 499.4h.7M400.4 469.2h.7M386.6 463.6h.7M377.8 460.4h.7M391.6 501.8h.7M381.0 489.9h.7M398.2 476.2h.7M396.2 475.3h.7M381.8 471.5h.7M398.1 441.1h.7M392.2 485.3h.7M388.8 488.7h.7M395.4 469.5h.7M387.5 484.6h.7M400.8 510.3h.7M377.8 502.1h.7M397.1 480.6h.7M396.9 442.6h.7M381.6 501.4h.7M384.5 477.8h.7M381.7 495.3h.7M380.5 477.9h.7M387.1 462.0h.7M391.6 498.7h.7M379.3 462.5h.7M400.2 496.5h.7M396.5 490.6h.7M400.6 457.3h.7M383.1 496.1h.7M381.9 451.1h.7M380.3 469.5h.7M387.0 502.8h.7M400.5 481.3h.7M397.6 473.2h.7M381.1 479.4h.7M399.7 456.7h.7M390.5 502.0h.7M397.1 515.5h.7M378.2 509.0h.7M400.3 477.6h.7M390.2 473.1h.7M396.1 461.8h.7M397.6 497.9h.7M379.5 470.6h.7M399.8 488.5h.7M385.3 506.6h.7M394.6 469.3h.7M397.3 479.4h.7M384.8 490.1h.7M381.0 446.6h.7M377.9 486.0h.7M381.5 472.2h.7M399.3 450.8h.7M378.4 509.1h.7M391.4 455.8h.7M387.5 491.3h.7M383.2 493.4h.7M391.1 477.2h.7M378.6 490.7h.7M391.1 496.2h.7M380.6 475.8h.7M381.1 453.4h.7M389.0 516.9h.7M386.3 464.1h.7M399.6 512.3h.7M397.8 501.2h.7" stroke="#000" stroke-width="1.0" fill="none"/>
<path d="M417.1 500.7h.7M413.9 511.6h.7M436.5 481.0h.7M421.3 519.8h.7M418.8 471.2h.7M433.6 457.9h.7M425.3 463.6h.7M424.0 458.5h.7M421.8 475.3h.7M434.9 483.2h.7M436.4 493.0h.7M435.2 475.5h.7M435.1 486.6h.7M430.0 462.2h.7M415.8 491.6h.7M432.8 476.2h.7M422.7 487.6h.7M421.6 476.7h.7M420.7 459.2h.7M421.2 482.1h.7M415.2 462.6h.7M416.2 510.1h.7M422.2 509.1h.7M420.1 447.6h.7M434.1 503.5h.7M424.6 507.8h.7M414.5 505.3h.7M424.1 481.6h.7M427.1 484.7h.7M413.7 469.3h.7M428.4 486.2h.7M429.7 504.7h.7M420.7 475.3h.7M434.0 459.4h.7M428.9 523.1h.7M416.8 506.6h.7M436.2 480.7h.7M420.7 472.8h.7M427.4 504.6h.7M417.5 471.7h.7M430.3 464.8h.7M421.2 482.4h.7M416.5 485.4h.7M426.1 506.4h.7M434.4 471.9h.7M431.5 492.2h.7M428.6 494.0h.7M426.2 479.7h.7M422.0 484.8h.7M416.2 509.8h.7M424.2 499.0h.7M421.3 499.5h.7M436.2 493.3h.7M416.5 478.7h.7M436.5 485.9h.7M431.5 472.2h.7M428.4 504.4h.7M430.1 504.5h.7M433.8 516.8h.7M414.8 475.8h.7M423.2 467.2h.7M425.0 482.1h.7M424.4 478.4h.7M423.2 505.9h.7M436.0 516.9h.7M421.1 489.4h.7M417.4 513.0h.7M424.1 449.1h.7M423.9 493.3h.7M432.0 488.9h.7M428.1 507.2h.7M423.9 451.0h.7M435.9 460.0h.7M418.6 503.0h.7M425.1 470.3h.7M420.9 476.4h.7M423.8 489.7h.7M416.3 470.6h.7M429.3 492.1h.7M417.0 523.2h.7M419.0 483.9h.7M428.6 445.3h.7M422.6 483.5h.7M429.6 513.5h.7M427.9 511.0h.7M431.3 481.3h.7M422.3 521.1h.7M415.7 520.2h.7M418.7 477.0h.7M415.2 466.1h.7M429.6 448.1h.7M424.9 491.8h.7M418.9 481.0h.7M425.4 461.1h.7M435.3 472.4h.7M431.6 518.2h.7M427.8 473.9h.7M418.6 445.2h.7M422.6 485.8h.7M420.8 509.6h.7M428.6 503.4h.7M433.1 513.2h.7M432.8 467.8h.7M434.7 473.7h.7M416.3 489.8h.7M427.4 478.1h.7M421.8 465.1h.7M415.6 508.2h.7M421.5 469.1h.7M414.6 498.4h.7M416.8 519.2h.7M429.4 487.9h.7M425.2 485.0h.7M436.1 491.0h.7M434.8 500.9h.7M416.3 478.5h.7M417.7 483.1h.7M434.4 508.8h.7M432.2 478.3h.7M435.2 493.8h.7M423.7 483.8h.7M427.9 485.4h.7M434.8 479.6h.7M427.8 470.5h.7M434.5 517.2h.7M417.8 506.9h.7M426.8 483.8h.7M429.5 480.9h.7M428.4 479.6h.7M433.8 442.8h.7M417.4 480.7h.7M421.9 462.5h.7M436.5 495.1h.7M427.2 485.0h.7M423.6 491.2h.7M433.7 469.4h.7M415.1 461.8h.7M434.3 505.0h.7M436.5 488.5h.7M415.3 488.6h.7M429.3 468.9h.7M430.2 486.0h.7M430.8 486.3h.7M435.4 513.4h.7M425.4 518.8h.7M424.1 467.4h.7M422.4 469.7h.7M431.6 515.8h.7M420.5 505.4h.7M432.7 492.0h.7M417.0 492.4h.7M426.0 486.9h.7M420.6 509.2h.7M418.6 508.5h.7M422.8 508.3h.7M419.3 492.3h.7M431.0 487.0h.7M420.4 493.7h.7M420.4 470.4h.7M430.8 508.8h.7M428.9 462.0h.7M433.7 495.9h.7M415.4 465.9h.7M417.0 521.8h.7M427.6 462.6h.7M414.0 493.5h.7M429.9 493.6h.7M434.6 461.6h.7M430.5 470.4h.7M431.5 498.8h.7M413.7 486.2h.7M435.4 497.5h.7M416.5 491.7h.7M430.0 511.5h.7M426.7 489.0h.7M419.0 472.2h.7M428.4 500.8h.7M420.8 514.6h.7M433.1 488.9h.7M431.9 496.0h.7M427.2 471.1h.7M426.9 498.2h.7M418.8 495.8h.7M419.4 505.5h.7M433.2 496.0h.7M421.8 451.4h.7M426.0 517.0h.7M424.8 479.7h.7M421.2 465.8h.7M419.3 482.6h.7M424.0 478.3h.7M416.8 485.5h.7M416.7 501.1h.7M431.5 484.4h.7M423.6 506.9h.7M419.4 522.2h.7M417.9 477.0h.7M421.0 482.0h.7M428.9 479.5h.7M427.8 490.8h.7M434.9 499.9h.7M431.3 486.6h.7M431.5 492.7h.7M419.6 484.9h.7M432.9 516.2h.7M427.9 485.6h.7M415.1 478.1h.7M434.3 486.7h.7M420.8 486.5h.7M432.7 453.1h.7M432.4 511.4h.7M424.1 468.4h.7M429.1 486.3h.7M420.4 475.3h.7M427.3 465.5h.7M428.1 467.2h.7M434.3 461.3h.7M413.7 482.8h.7M424.5 488.3h.7M428.3 459.4h.7M431.9 514.4h.7M425.1 463.9h.7M422.7 500.0h.7M430.1 501.5h.7M425.3 457.2h.7M415.0 483.6h.7M436.0 512.4h.7M426.6 484.3h.7M423.3 484.2h.7M420.7 460.3h.7M433.7 511.0h.7M413.9 507.6h.7M413.9 509.3h.7M429.2 508.6h.7M417.5 511.8h.7M416.2 484.2h.7M432.1 493.8h.7M432.6 495.6h.7M423.3 482.7h.7M430.5 489.2h.7M429.2 485.3h.7M425.6 484.8h.7M423.7 494.4h.7M414.1 481.6h.7M434.0 510.5h.7M425.8 493.4h.7M423.3 480.4h.7M426.0 485.9h.7M429.6 500.2h.7M417.8 493.4h.7M418.8 510.3h.7M426.3 493.0h.7M421.7 504.4h.7M421.0 512.2h.7M435.3 486.1h.7M431.5 493.6h.7M425.5 490.5h.7M425.0 477.9h.7M421.1 477.8h.7M422.5 470.8h.7M414.5 454.8h.7M431.8 481.2h.7M422.9 507.6h.7M429.8 512.4h.7M433.6 484.8h.7M423.8 492.0h.7M416.5 494.7h.7M416.4 472.1h.7M415.5 479.0h.7M422.4 471.5h.7M419.9 505.8h.7M418.8 487.9h.7M419.5 516.2h.7M414.6 439.0h.7M430.0 495.6h.7M421.7 493.8h.7M425.9 458.8h.7M435.9 472.0h.7M422.3 470.4h.7M431.5 483.7h.7M419.4 488.1h.7M417.6 456.2h.7M416.6 492.2h.7M416.6 472.2h.7M416.1 447.5h.7M427.4 460.1h.7M425.9 479.3h.7M425.9 489.8h.7M431.1 480.4h.7M426.9 509.8h.7M423.9 462.1h.7M425.7 506.6h.7M423.5 512.2h.7M425.0 508.0h.7M416.8 497.0h.7M429.7 467.9h.7M430.8 508.8h.7M418.7 488.5h.7M434.7 493.8h.7M432.1 466.2h.7M418.6 502.3h.7M423.6 483.8h.7M416.8 516.4h.7M434.7 475.6h.7M414.4 502.7h.7M434.1 516.7h.7M419.6 505.7h.7M415.2 469.3h.7M426.7 489.3h.7M415.2 484.5h.7M415.7 505.2h.7M416.1 486.3h.7M416.3 495.7h.7M426.1 500.0h.7M417.2 505.8h.7M435.6 510.1h.7M417.7 510.5h.7M429.0 516.7h.7M424.6 469.8h.7M425.1 477.5h.7M435.7 500.1h.7M426.2 501.9h.7M434.1 496.4h.7M436.5 462.1h.7M419.5 516.3h.7M427.7 515.9h.7M430.6 510.3h.7M428.8 488.6h.7M431.8 453.1h.7M427.9 497.5h.7M427.4 491.3h.7M415.8 515.9h.7M434.4 491.6h.7M429.6 498.2h.7M425.5 504.0h.7M417.7 489.0h.7M428.3 495.8h.7M425.5 463.2h.7M417.7 474.9h.7M436.2 479.0h.7M420.9 500.1h.7M416.9 499.3h.7M415.1 483.6h.7M422.4 477.9h.7M434.7 507.1h.7M433.2 508.1h.7M430.1 488.5h.7M430.2 502.4h.7M420.9 486.3h.7M424.8 497.2h.7M414.3 486.5h.7M432.9 459.9h.7M427.0 518.9h.7M413.7 487.7h.7M419.9 489.6h.7M432.3 503.9h.7M417.1 497.6h.7M435.2 459.5h.7M427.9 480.5h.7M419.4 497.7h.7M421.3 453.8h.7M434.1 520.0h.7M433.9 472.3h.7M415.5 482.6h.7M434.3 477.8h.7M430.1 491.7h.7M435.9 486.4h.7M414.5 511.2h.7M424.1 499.9h.7M417.0 498.6h.7M415.9 491.4h.7M433.9 467.0h.7M424.0 484.9h.7M436.3 509.9h.7M421.4 458.7h.7M415.3 478.3h.7M418.5 516.1h.7M436.4 490.3h.7M413.7 517.3h.7M414.6 452.7h.7M427.9 506.0h.7M436.2 512.4h.7M416.2 467.2h.7M417.1 491.8h.7M418.4 480.5h.7M434.3 488.4h.7M417.4 458.5h.7M428.5 503.4h.7M422.1 481.3h.7M423.2 482.5h.7M422.7 475.0h.7M435.8 517.4h.7M422.9 492.5h.7M415.8 507.6h.7M429.6 492.7h.7M419.8 497.8h.7M417.1 498.9h.7M433.6 482.0h.7M428.4 473.8h.7M430.9 487.6h.7M423.2 495.0h.7M417.3 487.1h.7M423.0 508.0h.7M416.9 489.9h.7M424.1 489.8h.7M413.5 455.8h.7M418.8 471.8h.7M431.0 469.5h.7M425.2 477.7h.7M432.5 492.8h.7M436.3 513.7h.7M421.5 510.2h.7M435.5 497.9h.7M434.5 488.0h.7M435.8 464.7h.7M435.0 476.1h.7M416.9 507.0h.7M433.1 497.0h.7M429.5 501.8h.7M428.4 492.2h.7M428.0 448.7h.7M417.0 497.1h.7M430.8 517.7h.7M432.7 462.3h.7M422.5 499.3h.7M423.5 462.8h.7M430.4 465.7h.7M435.9 504.8h.7M415.0 452.6h.7M415.0 456.1h.7M433.6 478.3h.7M425.4 505.2h.7M419.8 489.4h.7M415.6 507.5h.7M427.8 498.2h.7M435.1 519.6h.7M418.8 515.2h.7M428.1 498.1h.7M436.3 511.1h.7M436.5 506.8h.7M425.5 509.6h.7M426.2 437.8h.7M433.4 482.5h.7M423.7 458.1h.7M417.6 478.5h.7M430.3 487.7h.7M430.7 485.0h.7M432.3 508.8h.7M422.1 478.7h.7M434.8 514.9h.7M430.7 495.3h.7M413.8 473.4h.7M428.3 492.2h.7M433.3 505.1h.7M422.0 499.2h.7M428.2 481.4h.7M415.1 479.4h.7M436.5 457.4h.7M431.6 470.4h.7M424.3 484.5h.7M420.4 478.4h.7M422.1 452.1h.7M420.9 510.9h.7M419.7 491.3h.7M436.5 492.0h.7M426.4 493.7h.7M420.8 491.4h.7M420.1 485.7h.7M430.7 484.3h.7M416.1 518.3h.7M429.8 485.0h.7M434.5 455.6h.7M436.0 474.1h.7M424.9 489.8h.7M413.6 510.8h.7M435.0 483.6h.7M424.8 513.2h.7M415.3 462.6h.7M426.0 498.5h.7M424.8 496.5h.7M425.3 486.4h.7M433.6 480.7h.7M428.5 510.4h.7M421.8 459.0h.7M425.0 513.1h.7M420.8 518.2h.7M416.3 503.2h.7M416.3 516.1h.7M417.2 467.5h.7M425.9 520.3h.7M430.0 476.4h.7M414.9 477.4h.7M425.0 470.3h.7M418.1 463.5h.7M429.5 523.0h.7M419.8 462.7h.7M419.9 472.5h.7M417.7 514.9h.7M432.2 491.7h.7M435.2 467.8h.7M417.1 473.9h.7M416.7 485.4h.7M414.8 480.8h.7M430.1 459.5h.7M426.3 509.9h.7M425.8 457.9h.7M432.3 473.3h.7M432.4 510.3h.7M436.4 479.8h.7M424.1 499.6h.7M421.8 484.9h.7M420.1 507.0h.7M420.0 495.5h.7M422.7 469.7h.7M433.1 446.5h.7M416.2 483.8h.7M433.9 493.9h.7M426.5 497.4h.7M421.0 471.2h.7M423.8 487.0h.7M427.8 519.4h.7M415.4 502.9h.7M436.2 479.7h.7M417.4 501.8h.7M431.2 473.6h.7M432.0 470.6h.7M436.3 486.7h.7M435.9 516.3h.7M418.1 473.2h.7M420.1 501.0h.7M416.6 499.4h.7M421.2 483.1h.7M429.7 466.0h.7M419.4 523.2h.7M433.4 505.1h.7M415.3 511.4h.7M431.2 519.8h.7M427.7 484.6h.7M420.1 474.5h.7M422.6 522.7h.7M433.0 478.2h.7M420.5 503.4h.7M429.1 504.8h.7M416.7 455.4h.7M419.1 486.4h.7M418.8 481.9h.7M433.0 518.8h.7M422.8 479.4h.7M416.1 507.9h.7M427.3 518.7h.7M428.4 502.3h.7M417.3 477.4h.7M432.6 489.2h.7M420.6 496.1h.7M419.6 449.1h.7M414.2 466.8h.7M423.5 507.5h.7M430.7 464.5h.7M429.4 475.1h.7M432.2 480.5h.7M420.1 494.6h.7M418.4 518.1h.7M416.6 495.9h.7M436.4 500.6h.7M420.4 473.1h.7M414.7 459.7h.7M430.8 503.5h.7M414.9 466.0h.7M430.3 508.1h.7M420.0 499.8h.7M427.1 455.4h.7M432.4 472.7h.7M417.4 500.4h.7M421.4 502.9h.7M421.0 463.4h.7M430.0 457.1h.7M430.4 479.5h.7M424.6 493.4h.7M417.3 504.3h.7M424.7 449.2h.7M420.5 494.8h.7M434.1 493.9h.7M432.7 510.4h.7M424.2 511.2h.7M427.3 503.3h.7M429.5 495.5h.7M419.0 476.8h.7M414.7 497.8h.7M418.4 485.7h.7M435.0 519.1h.7M425.0 506.8h.7M436.1 483.3h.7M415.9 482.5h.7M425.1 464.4h.7M418.3 450.3h.7M418.1 491.4h.7M417.4 513.9h.7M421.1 505.7h.7M430.7 499.7h.7M420.7 474.8h.7M422.8 517.8h.7M434.7 486.4h.7M416.2 483.2h.7M418.3 514.3h.7M425.2 476.2h.7M418.6 518.4h.7M428.3 447.3h.7M434.0 522.4h.7M428.6 455.7h.7M418.1 507.4h.7M419.6 503.4h.7M422.8 515.4h.7M429.1 506.3h.7M424.8 504.8h.7M414.7 459.4h.7M427.1 505.2h.7M434.3 482.4h.7M424.8 492.7h.7M420.2 510.6h.7M423.1 437.3h.7M421.8 508.5h.7M429.4 467.3h.7M433.8 467.2h.7M421.7 482.7h.7M432.7 472.6h.7M425.5 486.6h.7M434.8 476.9h.7M422.5 478.3h.7M416.6 500.2h.7M422.3 503.3h.7M427.5 478.5h.7M415.2 493.5h.7M422.0 489.1h.7M426.4 498.9h.7M429.7 479.5h.7M435.4 446.7h.7M417.6 507.0h.7M423.2 497.5h.7M428.4 461.3h.7M432.8 470.0h.7M423.3 489.2h.7M414.0 488.4h.7M426.8 507.2h.7M431.1 476.8h.7M417.2 473.4h.7M425.7 474.6h.7M431.2 465.9h.7M426.5 493.9h.7M413.7 515.1h.7M424.1 500.9h.7M415.4 461.0h.7M434.3 483.1h.7M431.3 488.9h.7M434.2 482.1h.7M424.9 498.2h.7M432.8 516.1h.7M421.6 488.7h.7M431.8 483.3h.7M435.4 493.7h.7M424.3 510.8h.7M426.1 493.3h.7M430.4 485.9h.7M425.4 452.0h.7M430.1 479.1h.7M417.5 479.7h.7M431.8 512.7h.7M433.4 490.5h.7M418.0 495.5h.7M419.3 466.0h.7M422.8 509.6h.7M418.8 498.1h.7M419.1 442.7h.7M419.0 474.3h.7M428.1 488.4h.7M431.0 501.7h.7M435.2 460.4h.7M413.9 502.2h.7M429.3 503.2h.7M420.6 467.7h.7M419.9 500.7h.7M424.4 478.1h.7M429.8 509.6h.7M432.5 446.5h.7M423.8 500.4h.7M429.1 478.7h.7M425.8 472.6h.7M426.4 487.6h.7M428.7 518.9h.7M420.8 517.1h.7M418.4 516.3h.7M432.9 489.7h.7M433.9 465.0h.7M421.9 487.2h.7M415.3 475.9h.7M425.5 472.6h.7M426.7 511.6h.7M418.9 490.2h.7M414.2 489.3h.7M426.3 477.5h.7M419.1 438.0h.7M425.1 520.7h.7M423.1 488.5h.7M436.1 477.5h.7M427.3 509.1h.7M414.6 503.9h.7M430.8 478.5h.7M423.1 490.5h.7M431.6 489.2h.7M416.1 497.9h.7M432.6 494.9h.7M431.6 449.7h.7M414.0 496.1h.7M422.8 508.2h.7M432.6 464.6h.7M416.4 461.1h.7M420.6 472.5h.7M423.5 510.4h.7M423.3 482.5h.7M420.1 490.9h.7M422.6 509.5h.7M423.2 481.5h.7M433.0 498.4h.7M426.2 496.7h.7M429.1 494.4h.7M430.7 507.3h.7M428.9 499.1h.7M414.5 500.8h.7M422.8 465.1h.7M432.3 479.3h.7M427.8 458.9h.7M414.2 447.7h.7M424.6 449.2h.7M413.7 514.3h.7M430.9 492.8h.7M422.6 471.5h.7M435.5 497.4h.7M432.8 500.8h.7M435.0 466.4h.7M436.1 507.7h.7M425.2 504.7h.7M416.2 486.6h.7M418.5 508.0h.7M423.8 515.1h.7M432.5 505.2h.7M419.7 493.0h.7M436.1 485.8h.7M422.2 515.7h.7M414.5 473.7h.7M420.5 468.7h.7M415.5 489.2h.7M415.6 493.8h.7M424.0 515.9h.7M432.8 483.5h.7M421.7 506.3h.7M427.3 480.8h.7M426.2 502.9h.7M418.7 511.1h.7M414.7 491.0h.7M414.0 491.6h.7M425.9 489.9h.7M422.2 483.6h.7M413.8 479.5h.7M425.4 505.6h.7M424.6 482.1h.7M428.7 486.0h.7M430.4 519.6h.7M420.9 515.3h.7M432.6 509.0h.7M436.1 517.1h.7M431.6 460.8h.7M415.3 470.7h.7M436.3 473.5h.7M424.4 491.4h.7M434.7 494.6h.7M421.4 516.3h.7M419.8 458.5h.7M420.4 495.4h.7M423.2 481.5h.7M423.5 475.6h.7M413.7 505.6h.7M419.0 516.0h.7M428.0 486.9h.7M415.5 448.2h.7M427.1 482.8h.7M422.9 484.7h.7M427.6 487.5h.7M431.6 455.6h.7M418.1 449.0h.7M423.5 476.4h.7M421.0 495.9h.7M421.6 470.2h.7M423.3 463.2h.7M417.5 459.7h.7M434.5 478.7h.7M420.4 478.1h.7M421.6 494.9h.7M427.9 503.3h.7M429.3 505.9h.7M425.2 499.5h.7M427.8 489.6h.7M419.9 460.4h.7M431.7 499.1h.7M432.2 439.3h.7M420.2 500.1h.7M432.7 503.3h.7M434.0 470.7h.7M436.3 499.5h.7M428.3 486.4h.7M414.8 518.5h.7M418.7 506.7h.7M429.6 466.3h.7M426.7 513.7h.7M430.9 480.7h.7M429.6 518.3h.7M430.1 511.3h.7M422.7 515.1h.7M418.8 484.9h.7M436.4 460.4h.7M430.5 473.4h.7M435.2 474.9h.7M419.3 512.2h.7M416.2 514.4h.7M425.3 500.9h.7M431.8 507.4h.7M430.7 488.6h.7M415.6 448.3h.7M435.9 497.3h.7M422.2 503.5h.7M415.4 522.5h.7M431.9 516.8h.7M428.2 474.6h.7M424.0 471.3h.7M436.2 459.3h.7M430.4 510.3h.7M420.3 495.3h.7M428.1 477.0h.7M432.4 498.5h.7M420.4 483.8h.7M429.9 502.5h.7M424.3 479.9h.7M415.8 503.2h.7M422.3 476.6h.7M431.8 508.9h.7M434.2 495.7h.7M417.0 469.3h.7M417.8 463.7h.7M435.7 495.7h.7M422.4 509.1h.7M421.4 467.5h.7M433.3 469.7h.7M417.0 487.1h.7M430.5 510.0h.7M434.2 477.7h.7M430.1 485.2h.7M419.6 471.0h.7M426.4 485.5h.7M423.4 491.3h.7M434.6 455.3h.7M436.3 501.2h.7M424.5 518.4h.7M415.8 515.0h.7M432.8 460.2h.7M418.9 502.2h.7M422.5 494.5h.7M422.9 480.5h.7M418.2 498.2h.7M419.6 446.8h.7M426.2 465.8h.7M420.0 484.5h.7M417.7 477.5h.7M423.3 500.4h.7M416.9 456.0h.7M414.7 468.3h.7M427.2 507.9h.7M416.2 481.8h.7M422.6 507.5h.7M436.5 484.7h.7M417.3 463.2h.7M425.6 441.8h.7M436.1 462.2h.7M434.7 491.6h.7M435.2 496.2h.7M414.1 490.0h.7M424.5 502.4h.7M414.5 491.3h.7M431.3 484.3h.7M414.2 495.9h.7M430.6 488.5h.7M416.0 479.7h.7M426.6 490.0h.7M424.2 477.2h.7M429.2 460.2h.7M418.3 483.8h.7M415.1 502.2h.7M414.0 487.8h.7M427.1 473.2h.7M427.9 482.3h.7M417.5 507.6h.7M423.2 494.8h.7M436.4 492.8h.7M414.6 502.1h.7M419.0 475.4h.7M428.3 500.3h.7M430.2 486.2h.7M414.3 495.9h.7M433.3 458.9h.7M421.2 501.9h.7M421.0 467.8h.7M420.7 513.1h.7M423.3 492.1h.7M429.9 502.3h.7M416.2 503.3h.7M425.6 491.3h.7M430.4 465.8h.7M427.0 506.8h.7M434.4 492.6h.7M426.1 457.4h.7M427.2 516.9h.7M432.9 451.1h.7M417.9 500.7h.7M429.9 517.3h.7M431.8 471.9h.7M429.4 483.1h.7M425.6 488.4h.7M436.2 497.8h.7M416.6 491.3h.7M420.0 509.2h.7M418.0 484.9h.7M424.1 475.1h.7M424.9 490.9h.7M431.6 458.0h.7M417.7 508.6h.7M433.9 477.4h.7M415.2 457.0h.7M428.5 490.8h.7M424.1 500.4h.7M420.1 493.1h.7M421.6 508.1h.7M424.6 496.5h.7M419.3 476.5h.7M422.8 515.2h.7M419.9 519.2h.7M420.3 478.3h.7M422.3 465.5h.7M419.3 489.3h.7M433.0 480.4h.7M415.9 514.2h.7M418.7 515.1h.7M423.9 501.2h.7M417.2 478.1h.7M422.7 486.6h.7M422.9 467.4h.7M436.0 488.4h.7M425.2 503.4h.7M415.3 462.6h.7M417.4 505.5h.7M422.1 479.3h.7M433.9 488.3h.7M423.2 452.1h.7M414.3 482.5h.7M419.8 467.1h.7M429.2 465.8h.7M428.3 505.3h.7M427.1 471.3h.7M415.3 480.1h.7M419.2 519.3h.7M419.1 486.5h.7M431.5 480.5h.7M417.2 502.3h.7M422.4 487.7h.7M436.0 484.7h.7M418.9 472.3h.7M427.0 472.4h.7M414.3 456.0h.7M426.3 482.0h.7M425.2 478.6h.7M418.0 507.7h.7M419.1 473.3h.7M428.8 518.3h.7M427.0 499.0h.7M415.4 495.1h.7M432.6 498.4h.7M427.6 521.2h.7M420.0 467.0h.7M414.1 445.1h.7M417.2 500.4h.7M414.2 497.8h.7M431.8 472.4h.7M427.1 508.8h.7M417.6 504.7h.7M419.1 493.8h.7M414.2 500.5h.7M432.5 493.1h.7M427.2 470.5h.7M420.8 479.4h.7M435.1 502.7h.7M421.7 506.4h.7M425.2 439.7h.7M427.2 489.3h.7M428.6 486.6h.7M421.1 504.4h.7M435.7 482.8h.7M419.1 501.9h.7M427.5 512.9h.7M426.5 512.7h.7M414.0 505.6h.7M433.4 459.0h.7M416.5 459.6h.7M417.0 457.6h.7M431.9 486.4h.7M421.9 496.2h.7M423.9 486.5h.7M427.3 484.6h.7M418.9 496.9h.7M418.4 490.5h.7M413.6 489.5h.7M432.5 485.3h.7M418.6 501.2h.7M436.1 466.4h.7M426.4 479.9h.7M417.2 509.9h.7M423.1 490.4h.7M427.4 471.4h.7M430.7 507.4h.7M432.3 506.2h.7M419.3 511.2h.7M413.5 493.5h.7M417.3 455.3h.7M435.1 481.3h.7M422.1 494.3h.7M436.5 483.4h.7M436.3 477.8h.7M419.8 516.1h.7M431.3 493.1h.7M415.3 476.1h.7M420.9 484.9h.7M430.6 507.3h.7M424.0 466.0h.7M421.8 507.4h.7M415.2 485.8h.7M432.1 460.8h.7M423.1 493.3h.7M425.2 484.6h.7M425.7 499.3h.7M429.6 489.7h.7M434.7 477.3h.7M416.4 472.4h.7M419.8 508.6h.7M414.7 491.0h.7M434.7 491.8h.7M431.6 519.3h.7M418.5 485.7h.7M432.1 515.5h.7M432.7 498.9h.7M434.4 476.6h.7M424.4 486.6h.7M435.0 498.2h.7M425.0 471.5h.7M431.3 481.0h.7M427.1 501.3h.7M417.9 486.8h.7M430.4 482.6h.7M417.9 508.8h.7M429.3 487.7h.7M421.5 484.1h.7M417.9 488.3h.7M424.8 484.9h.7M433.6 472.3h.7M421.2 498.8h.7M414.2 510.5h.7M419.8 510.5h.7M416.1 514.6h.7M433.2 513.4h.7M429.8 473.2h.7M418.6 488.1h.7M430.7 505.2h.7M415.7 464.1h.7M420.0 503.9h.7M416.8 509.3h.7M431.6 479.6h.7M428.8 486.2h.7M434.9 499.6h.7M428.9 467.7h.7M417.2 459.2h.7M415.6 493.9h.7M421.7 469.1h.7M435.4 483.8h.7M425.5 462.5h.7M434.3 510.1h.7M418.9 489.3h.7M418.6 481.6h.7M430.2 501.8h.7M429.6 481.0h.7M425.6 514.9h.7M426.9 469.6h.7M429.6 505.8h.7M422.7 486.9h.7M432.6 518.3h.7M431.6 510.2h.7M423.4 488.5h.7M432.7 499.1h.7M418.9 494.9h.7M433.7 494.2h.7M426.0 487.9h.7M426.7 491.9h.7M433.1 463.6h.7M431.6 496.3h.7M416.0 456.1h.7M431.6 483.9h.7M432.2 496.7h.7M415.5 460.9h.7M422.5 507.7h.7M429.5 496.5h.7M415.0 461.2h.7M413.5 484.0h.7M417.8 517.9h.7M421.2 494.6h.7M414.5 516.9h.7M426.9 486.7h.7M427.3 516.2h.7M433.3 476.0h.7M423.5 476.8h.7M433.6 505.8h.7M430.5 442.4h.7M422.7 456.5h.7M419.3 485.7h.7M429.2 499.3h.7M422.3 506.4h.7M423.5 495.8h.7M432.0 483.5h.7M414.1 519.3h.7M422.3 469.5h.7M429.6 444.6h.7M428.2 522.2h.7M425.4 507.3h.7M416.4 499.4h.7M413.6 521.2h.7M434.3 481.5h.7M424.2 494.4h.7M433.9 457.2h.7M418.8 464.8h.7M414.5 485.0h.7M421.1 484.7h.7M422.5 484.5h.7M436.0 505.7h.7M420.7 490.4h.7M413.9 476.0h.7M427.2 502.4h.7M420.9 468.0h.7M419.2 516.2h.7M417.6 454.6h.7M429.8 516.7h.7M414.3 480.9h.7M420.5 467.6h.7M427.3 485.0h.7M433.7 474.4h.7M422.7 513.3h.7M414.4 483.2h.7M425.0 511.3h.7M421.1 496.9h.7M418.2 457.6h.7M423.3 497.4h.7M434.3 464.3h.7M417.8 477.6h.7M435.7 456.2h.7M429.7 505.0h.7M419.9 518.1h.7M420.2 499.7h.7M431.4 505.4h.7M436.5 456.9h.7M429.1 488.8h.7M429.7 485.8h.7M423.5 497.7h.7M425.0 521.9h.7M418.1 516.1h.7M421.8 489.8h.7M435.0 479.8h.7M416.9 499.1h.7M433.5 489.3h.7M432.2 465.8h.7M420.3 462.6h.7M424.6 496.0h.7M429.7 505.0h.7M416.3 454.6h.7M435.5 501.2h.7M414.4 520.9h.7M436.4 509.2h.7M428.0 458.4h.7M429.1 485.6h.7M435.1 480.1h.7M421.2 465.9h.7M434.3 475.6h.7M415.1 495.9h.7M430.9 504.9h.7M432.4 507.1h.7M432.4 475.1h.7M427.8 470.8h.7M418.5 490.2h.7M414.6 515.9h.7M428.6 499.5h.7M423.5 490.3h.7M429.1 504.8h.7M434.3 498.5h.7M424.8 449.3h.7M432.6 509.5h.7M423.1 480.7h.7M431.6 517.6h.7M416.7 506.0h.7M421.4 495.6h.7M436.4 490.4h.7M432.9 489.2h.7M427.4 502.5h.7M435.1 474.3h.7M435.0 510.6h.7M414.4 502.1h.7M418.8 471.6h.7M413.7 487.0h.7M415.5 483.1h.7M426.6 517.5h.7M416.4 480.2h.7M414.7 486.1h.7M434.7 494.7h.7M425.0 451.0h.7M430.5 470.2h.7M432.9 464.4h.7M427.2 480.7h.7M431.1 497.1h.7M430.3 478.5h.7M433.9 476.1h.7M420.8 459.2h.7M435.3 508.4h.7M429.2 479.1h.7M418.4 521.5h.7M435.7 460.6h.7M425.0 492.3h.7M418.6 445.0h.7M435.2 503.4h.7M433.9 496.7h.7M421.9 513.5h.7M433.6 494.1h.7M427.3 460.4h.7M436.1 494.6h.7M431.4 510.6h.7M418.0 453.3h.7M425.5 483.1h.7M436.4 506.8h.7M417.3 510.2h.7M426.0 502.8h.7M432.2 491.2h.7M426.4 505.3h.7M431.1 494.9h.7M427.0 478.3h.7M433.8 453.5h.7M417.9 458.6h.7M430.9 457.1h.7M413.6 445.9h.7M414.1 474.7h.7M431.2 517.5h.7M425.4 495.1h.7M427.9 497.9h.7M430.0 507.9h.7M419.3 458.9h.7M433.2 494.6h.7M430.8 505.3h.7M434.3 468.1h.7M433.5 464.5h.7M434.7 466.3h.7M415.4 487.0h.7M426.7 487.0h.7M426.4 490.5h.7M428.6 486.9h.7M434.0 489.9h.7M414.8 485.9h.7M432.8 458.6h.7M436.5 511.5h.7M414.8 457.1h.7M427.5 473.3h.7M416.6 490.0h.7M429.3 461.3h.7M424.8 508.3h.7M427.4 450.7h.7M414.1 485.2h.7M425.7 513.2h.7M416.0 503.8h.7M414.9 476.1h.7M422.9 484.5h.7M434.7 503.4h.7M432.9 482.4h.7M428.8 458.4h.7M428.0 497.0h.7M432.6 493.8h.7M417.0 492.8h.7M422.7 514.2h.7M429.5 464.8h.7M421.4 498.1h.7M435.8 480.3h.7M416.9 473.6h.7M434.6 449.1h.7M436.3 472.9h.7M420.0 507.2h.7M430.9 514.3h.7M414.0 493.8h.7M435.4 474.8h.7M427.0 487.0h.7M423.9 475.8h.7M416.2 480.9h.7M424.9 484.2h.7M419.0 511.6h.7M417.9 466.1h.7M425.4 472.4h.7M420.2 474.7h.7M432.4 494.8h.7M416.8 493.7h.7M431.4 468.0h.7M413.6 478.2h.7M419.8 483.0h.7M423.0 510.3h.7M415.9 480.2h.7M427.4 455.7h.7M413.8 485.3h.7M420.2 464.1h.7M434.9 444.1h.7M423.2 473.1h.7M434.1 490.9h.7M429.0 469.5h.7M423.4 474.8h.7M434.1 472.9h.7M436.0 516.1h.7M429.8 489.8h.7M423.7 470.9h.7M429.0 491.3h.7M423.7 467.2h.7M421.6 483.5h.7M430.7 512.2h.7M426.2 454.6h.7M425.4 512.2h.7M426.0 495.8h.7M433.3 477.8h.7M434.2 466.4h.7M419.8 482.2h.7M433.6 464.2h.7M418.2 490.1h.7M428.0 492.8h.7M428.8 500.9h.7M414.4 496.6h.7M421.1 489.5h.7M435.0 520.5h.7M424.9 498.0h.7M425.3 467.7h.7M422.2 514.0h.7M434.3 494.3h.7M423.3 502.9h.7M432.0 502.6h.7M432.7 453.5h.7M428.7 502.8h.7M416.3 486.2h.7M432.1 492.9h.7M423.2 494.8h.7M416.6 474.4h.7M434.9 466.4h.7M431.9 501.4h.7M424.8 479.7h.7M432.4 497.7h.7M427.3 474.4h.7M431.1 491.4h.7M423.1 458.8h.7M414.7 462.0h.7M418.4 509.9h.7M435.2 489.4h.7M426.7 477.1h.7M419.2 468.7h.7M421.6 521.1h.7M429.8 509.3h.7M426.8 500.0h.7M425.2 485.2h.7M422.9 516.1h.7M418.9 479.7h.7M420.9 511.7h.7M424.6 474.0h.7M421.3 453.4h.7M431.5 507.5h.7M418.0 468.5h.7M432.2 475.5h.7M424.7 469.7h.7M422.5 474.6h.7M429.0 438.4h.7M424.0 487.8h.7M434.9 460.2h.7M427.1 481.6h.7M431.5 503.7h.7M423.7 480.9h.7M422.9 480.6h.7M430.5 491.1h.7M434.9 513.1h.7M433.9 470.3h.7M434.9 490.4h.7M418.5 489.6h.7M431.7 503.7h.7M421.4 482.2h.7M416.1 499.7h.7M415.3 486.3h.7M422.8 465.2h.7M419.2 496.1h.7M422.3 446.8h.7M415.7 504.6h.7M431.9 499.9h.7M421.3 485.2h.7M434.6 474.2h.7M421.9 498.3h.7M419.2 475.8h.7M433.7 501.3h.7M425.0 476.4h.7M421.1 483.2h.7M425.8 472.5h.7M429.9 483.5h.7M418.8 455.1h.7M421.9 505.5h.7M426.7 461.1h.7M425.4 514.0h.7M431.0 497.5h.7M424.1 453.8h.7M430.8 517.7h.7M425.6 509.7h.7M427.5 501.0h.7M432.9 483.5h.7M428.1 513.6h.7M421.6 473.8h.7M429.0 512.0h.7M420.6 470.4h.7M423.1 471.8h.7M429.1 493.9h.7M429.7 473.6h.7M419.2 449.8h.7M421.9 484.1h.7M434.7 486.7h.7M427.2 496.8h.7M425.5 508.1h.7M416.6 481.2h.7M423.6 513.7h.7M422.7 517.2h.7M424.3 452.4h.7M428.3 452.9h.7M436.1 459.1h.7M419.4 488.8h.7M425.5 488.6h.7M433.2 484.2h.7M417.2 455.3h.7M424.6 464.2h.7M427.3 509.7h.7M431.8 462.0h.7M416.1 499.4h.7M421.2 464.9h.7M434.5 495.1h.7M430.9 516.3h.7M417.2 443.1h.7M432.4 477.6h.7M435.6 494.9h.7M430.1 503.3h.7M422.0 501.8h.7M424.2 459.5h.7M430.8 488.1h.7M428.6 493.1h.7M435.6 486.7h.7M417.3 466.9h.7M415.8 460.1h.7M430.7 481.1h.7M425.8 498.4h.7M416.9 507.6h.7M434.8 518.6h.7M417.1 451.3h.7M413.7 477.2h.7M416.3 494.4h.7M427.4 469.9h.7M432.4 511.4h.7M425.6 505.6h.7M421.5 506.2h.7M433.5 477.8h.7M417.7 470.6h.7M419.1 461.0h.7M431.4 490.7h.7M420.6 495.5h.7M435.6 469.2h.7M414.7 478.5h.7M427.2 478.6h.7M424.3 459.8h.7M430.8 494.9h.7M423.5 501.0h.7M415.6 510.4h.7M429.2 509.1h.7M430.8 456.9h.7M414.9 517.6h.7M422.9 501.1h.7M435.4 474.7h.7M416.6 478.8h.7M420.6 492.5h.7M426.8 495.3h.7M430.7 485.4h.7M429.4 500.2h.7M436.1 475.1h.7M415.7 468.2h.7M417.8 481.3h.7M419.7 488.7h.7M431.5 461.0h.7M416.3 483.2h.7M421.7 478.9h.7M416.8 489.0h.7M421.2 505.7h.7M433.3 480.2h.7M419.5 452.5h.7M435.9 481.7h.7M421.6 474.7h.7M429.7 510.5h.7" stroke="#000" stroke-width="1.0" fill="none"/>
<path d="M451.1 512.9h.7M456.0 498.2h.7M447.7 501.0h.7M444.0 501.2h.7M462.9 490.0h.7M461.4 479.0h.7M451.3 483.2h.7M447.6 484.3h.7M459.0 503.4h.7M450.5 490.7h.7M441.7 471.7h.7M460.0 515.7h.7M444.3 490.9h.7M451.4 501.2h.7M441.0 506.2h.7M452.1 501.1h.7M451.2 512.8h.7M444.0 484.4h.7M450.1 499.8h.7M450.0 517.8h.7M452.6 504.3h.7M459.7 512.7h.7M443.0 517.9h.7M455.2 498.6h.7M443.3 513.8h.7M444.3 461.6h.7M446.6 489.6h.7M462.0 484.4h.7M444.1 498.7h.7M457.6 486.1h.7M441.6 496.4h.7M462.2 493.8h.7M443.1 482.0h.7M443.4 505.0h.7M460.2 496.8h.7M450.7 480.6h.7M445.0 517.2h.7M445.5 470.2h.7M441.2 522.2h.7M442.5 501.6h.7M447.8 511.6h.7M454.4 513.8h.7M452.1 502.9h.7M457.5 512.5h.7M451.4 513.7h.7M448.5 482.3h.7M457.2 503.9h.7M451.2 506.8h.7M455.3 476.0h.7M442.0 513.8h.7M441.2 509.6h.7M456.8 462.6h.7M452.4 474.5h.7M455.5 470.3h.7M461.9 496.5h.7M452.5 516.8h.7M454.2 514.8h.7M461.7 504.5h.7M441.2 520.3h.7M459.6 516.6h.7M454.9 512.3h.7M443.4 475.0h.7M450.8 513.8h.7M442.8 491.3h.7M456.5 492.7h.7M458.6 480.2h.7M460.8 499.7h.7M443.5 506.1h.7M449.4 492.6h.7M445.2 480.2h.7M458.9 487.4h.7M450.3 503.7h.7M463.8 485.3h.7M455.8 501.0h.7M442.0 492.4h.7M450.0 501.6h.7M444.0 509.4h.7M444.6 510.2h.7M454.9 476.0h.7M450.3 507.5h.7M452.7 473.1h.7M455.0 489.0h.7M447.7 501.9h.7M454.9 509.1h.7M442.6 495.4h.7M447.6 466.1h.7M462.9 507.9h.7M459.6 500.6h.7M446.7 486.6h.7M458.9 518.2h.7M450.0 479.9h.7M451.1 506.8h.7M451.7 475.2h.7M445.3 467.7h.7M463.2 484.3h.7M457.9 522.1h.7M463.2 469.9h.7M444.6 480.7h.7M447.4 510.8h.7M457.7 477.0h.7M442.6 492.7h.7M457.9 494.1h.7M443.2 499.1h.7M442.2 500.5h.7M450.4 499.0h.7M462.2 512.6h.7M447.8 474.6h.7M462.8 494.6h.7M444.1 509.4h.7M458.3 479.2h.7M442.8 510.5h.7M461.2 473.9h.7M458.8 510.1h.7M451.4 490.8h.7M441.1 492.9h.7M450.2 486.9h.7M453.0 499.9h.7M441.7 484.2h.7M449.1 500.3h.7M460.1 517.2h.7M450.5 499.7h.7M450.3 483.5h.7M462.4 509.1h.7M455.2 478.1h.7M444.2 507.6h.7M454.5 487.8h.7M454.3 512.3h.7M462.4 478.9h.7M451.4 491.0h.7M448.4 514.7h.7M441.6 510.7h.7M459.9 493.9h.7M442.6 492.0h.7M446.9 506.2h.7M457.7 506.8h.7M441.1 509.6h.7M456.2 495.5h.7M463.4 509.6h.7M461.3 477.0h.7M442.8 467.4h.7M462.8 511.1h.7M461.5 501.1h.7M444.4 516.0h.7M453.0 501.6h.7M450.5 516.8h.7M459.2 473.9h.7M449.4 463.8h.7M462.9 478.3h.7M442.0 490.3h.7M444.3 483.7h.7M441.5 490.0h.7M444.9 505.4h.7M455.2 466.4h.7M453.3 483.2h.7M447.7 503.5h.7M450.4 485.2h.7M444.0 494.8h.7M450.8 479.2h.7M455.6 492.1h.7M454.7 504.3h.7M443.1 501.2h.7M463.6 499.1h.7M442.2 463.1h.7M447.3 508.7h.7M460.3 507.7h.7M454.6 473.3h.7M450.8 491.0h.7M448.2 477.7h.7M452.5 490.8h.7M449.1 479.1h.7M459.2 502.1h.7M456.3 481.7h.7M452.9 482.4h.7M455.8 483.6h.7M458.4 491.3h.7M456.6 504.9h.7M452.9 504.0h.7M459.2 484.0h.7M461.6 491.9h.7M462.6 510.5h.7M455.6 468.1h.7M440.7 520.9h.7M447.9 472.6h.7M452.3 493.7h.7M447.7 518.8h.7M441.9 517.2h.7M451.5 507.7h.7M441.2 487.0h.7M441.2 502.9h.7M457.4 484.3h.7M449.5 497.6h.7M458.8 505.4h.7M446.9 482.9h.7M460.0 494.2h.7M443.1 471.8h.7M458.3 499.4h.7M445.3 510.3h.7M457.0 484.2h.7M458.4 512.1h.7M455.4 491.6h.7M463.2 504.1h.7M443.4 499.6h.7M445.1 504.2h.7M443.3 516.9h.7M443.6 495.1h.7M448.8 469.2h.7M457.5 515.1h.7M461.0 474.3h.7M445.7 475.2h.7M460.4 489.9h.7M444.7 496.7h.7M443.8 489.7h.7M453.6 492.3h.7M458.8 496.3h.7M440.9 481.5h.7M461.3 513.8h.7M445.7 501.2h.7M445.8 517.5h.7M458.9 505.6h.7M440.8 489.1h.7M447.0 480.6h.7M454.7 499.0h.7M441.9 481.6h.7M456.0 476.0h.7M446.3 459.2h.7M456.2 484.8h.7M447.2 483.8h.7M444.8 480.3h.7M448.1 503.0h.7M453.7 493.0h.7M452.8 522.0h.7M449.1 512.7h.7M444.5 496.9h.7M451.8 504.0h.7M463.1 517.0h.7M451.9 498.3h.7M450.9 483.3h.7M461.9 493.0h.7M447.3 487.6h.7M452.1 482.1h.7M452.4 519.9h.7M461.5 519.4h.7M448.7 486.0h.7M445.7 504.8h.7M452.9 458.5h.7M444.1 474.9h.7M461.4 517.3h.7M451.6 500.7h.7M441.7 510.4h.7M457.1 492.3h.7M461.4 504.2h.7M455.4 499.1h.7M456.3 490.3h.7M445.7 494.5h.7M458.7 506.2h.7M461.2 491.8h.7M457.6 505.1h.7M456.6 506.6h.7M457.6 513.5h.7M461.2 487.6h.7M462.6 484.6h.7M461.6 509.2h.7M449.0 485.8h.7M459.3 464.1h.7M442.4 500.1h.7M447.4 500.1h.7M444.3 479.5h.7M442.2 482.1h.7M463.1 492.8h.7M453.4 514.3h.7M443.9 480.5h.7M462.0 494.4h.7M447.2 479.8h.7M456.9 492.4h.7M442.8 490.5h.7M450.4 508.2h.7M457.8 489.8h.7M450.8 510.3h.7M450.5 477.6h.7M449.8 490.9h.7M453.9 516.7h.7M445.1 521.1h.7M463.3 497.5h.7M461.8 501.1h.7M447.8 519.7h.7M452.8 482.0h.7M451.8 517.2h.7M452.4 500.3h.7M449.5 517.4h.7M451.5 504.3h.7M448.9 506.5h.7M453.9 472.2h.7M441.4 500.6h.7M461.0 503.1h.7M447.0 516.7h.7M461.4 495.1h.7M463.5 479.2h.7M455.8 479.3h.7M444.2 520.0h.7M447.6 487.7h.7M450.3 497.3h.7M461.1 510.4h.7M458.8 497.5h.7M461.9 469.3h.7M442.6 497.5h.7M458.1 473.6h.7M463.5 486.5h.7M441.3 489.9h.7M450.7 480.7h.7M449.0 504.7h.7M461.2 515.4h.7M461.9 499.1h.7M458.2 476.7h.7M457.2 483.4h.7M442.2 503.8h.7M445.9 496.6h.7M457.1 470.3h.7M452.4 495.8h.7M457.4 491.4h.7M463.6 487.3h.7M459.7 494.8h.7M452.9 470.1h.7M445.6 466.4h.7M445.8 480.8h.7M457.2 497.0h.7M446.8 498.2h.7M446.4 477.2h.7M460.0 479.4h.7M456.5 491.2h.7M453.3 512.7h.7M444.9 503.1h.7M452.2 489.9h.7M452.1 514.3h.7M452.3 510.7h.7M444.3 476.9h.7M456.2 493.1h.7M450.8 492.0h.7M461.3 485.1h.7M442.9 503.7h.7M453.8 502.2h.7M459.8 469.9h.7M454.3 514.5h.7M445.2 500.2h.7M448.6 504.6h.7M442.2 502.2h.7M442.9 508.9h.7M453.1 493.3h.7M454.3 505.2h.7M461.6 467.3h.7M446.0 507.0h.7M456.3 502.4h.7M449.2 517.0h.7M454.3 496.6h.7M462.7 507.3h.7M451.3 479.4h.7M452.6 521.0h.7M453.6 497.0h.7M462.7 514.8h.7M463.8 501.9h.7M449.8 472.7h.7M455.7 518.5h.7M461.0 503.5h.7M446.3 478.4h.7M442.9 503.0h.7M455.0 504.2h.7M443.6 487.6h.7M458.7 479.0h.7M449.8 512.3h.7M453.7 507.9h.7M463.0 500.3h.7M447.9 514.9h.7M462.4 511.6h.7M455.7 484.3h.7M459.7 512.4h.7M463.1 500.8h.7M450.9 484.3h.7M454.4 496.6h.7M456.1 479.1h.7M455.8 513.4h.7M460.8 478.6h.7M441.7 513.6h.7M448.5 488.2h.7M442.6 515.6h.7M454.5 498.3h.7M458.7 514.1h.7M463.5 514.6h.7M446.6 498.4h.7M455.6 518.6h.7M450.5 512.2h.7M454.4 517.3h.7M446.1 495.3h.7M462.3 470.8h.7M447.1 485.3h.7M453.8 489.9h.7M459.9 495.0h.7M455.7 516.9h.7M445.3 477.4h.7M441.0 511.8h.7M460.4 480.9h.7M447.4 513.8h.7M453.8 510.2h.7M454.7 503.3h.7M445.4 501.3h.7M445.7 468.7h.7M462.8 470.1h.7M452.6 507.8h.7M456.3 488.7h.7M459.8 521.0h.7M441.5 502.8h.7M455.6 471.4h.7M442.4 485.0h.7M462.7 486.3h.7M446.6 489.4h.7M443.1 497.3h.7M461.4 498.8h.7M451.2 486.2h.7M463.8 514.8h.7M452.7 489.9h.7M458.4 494.9h.7M459.6 507.0h.7M446.4 495.5h.7M453.1 479.0h.7M459.1 499.5h.7M451.4 491.3h.7M453.2 518.5h.7M460.8 506.2h.7M443.4 505.9h.7M452.7 507.2h.7M459.1 479.1h.7M448.1 478.4h.7M452.2 485.4h.7M441.1 505.5h.7M445.0 521.4h.7M459.6 514.8h.7M460.9 485.3h.7M450.8 490.9h.7M443.2 502.9h.7M460.2 471.3h.7M460.8 478.2h.7M461.4 504.2h.7M448.1 520.9h.7M450.2 503.5h.7M463.8 493.7h.7M459.6 478.8h.7M453.2 481.8h.7M452.7 516.2h.7M463.3 478.9h.7M446.4 512.7h.7M461.0 490.5h.7M462.5 473.6h.7M453.8 484.3h.7M444.8 497.2h.7M451.4 510.1h.7M442.8 476.6h.7M444.8 509.5h.7M443.1 482.2h.7M456.3 501.2h.7M454.8 497.6h.7M446.4 477.0h.7M449.7 490.2h.7M462.1 484.4h.7M451.4 520.5h.7M443.9 515.2h.7M455.5 497.2h.7M447.3 480.5h.7M444.2 501.0h.7M460.5 474.2h.7M463.7 515.5h.7M456.9 515.0h.7M455.5 478.6h.7M441.7 507.9h.7M455.8 508.5h.7M451.6 461.8h.7M459.9 491.0h.7M442.7 517.9h.7M452.1 480.8h.7M452.1 502.8h.7M462.2 513.3h.7M440.9 471.1h.7M454.3 503.4h.7M460.3 486.8h.7M442.0 480.8h.7M463.1 516.2h.7M460.0 503.6h.7M461.4 483.7h.7M455.4 487.8h.7M457.3 518.6h.7M455.4 507.6h.7M456.4 500.5h.7M449.2 490.9h.7M446.8 473.8h.7M454.1 474.3h.7M441.4 488.0h.7M456.6 488.2h.7M460.1 498.1h.7M448.0 476.7h.7M445.1 475.9h.7M443.1 486.8h.7M445.6 503.9h.7M450.5 473.9h.7M447.3 492.9h.7M457.0 483.5h.7M445.4 504.7h.7M444.7 498.1h.7M457.7 486.2h.7M458.6 501.0h.7M441.2 514.9h.7M445.4 505.8h.7M454.6 493.1h.7M461.6 513.1h.7M461.4 512.3h.7M449.4 516.7h.7M459.8 488.1h.7M456.9 485.1h.7M444.7 508.2h.7M456.3 495.6h.7M447.0 507.4h.7M444.3 489.5h.7M458.0 494.5h.7M463.3 476.4h.7M456.1 478.4h.7M461.9 496.5h.7M450.5 496.9h.7M462.7 491.5h.7M457.3 486.9h.7M450.7 520.1h.7M445.2 504.9h.7M445.6 488.8h.7M451.6 518.7h.7M460.8 478.6h.7M448.4 477.6h.7M462.5 480.3h.7M456.0 512.7h.7M447.5 477.9h.7M455.1 479.6h.7M447.6 515.1h.7M453.8 491.0h.7M441.0 464.3h.7M445.5 493.5h.7M456.2 503.8h.7M444.5 491.9h.7M445.4 484.8h.7M457.4 502.0h.7M449.4 498.7h.7M453.6 501.9h.7M444.5 493.5h.7M456.8 494.6h.7M447.4 473.0h.7M460.4 491.6h.7M462.6 501.1h.7M454.0 512.4h.7M453.3 478.7h.7M463.7 501.8h.7M456.1 505.1h.7M463.8 485.2h.7M445.9 506.3h.7M446.7 481.9h.7M449.6 480.0h.7M443.2 494.1h.7M455.5 505.9h.7M459.6 504.7h.7M446.5 469.7h.7M443.0 514.2h.7M459.2 503.9h.7M449.2 507.5h.7M447.6 519.8h.7M463.1 489.5h.7M442.8 494.5h.7M463.1 493.8h.7M451.8 505.2h.7M459.2 495.1h.7M456.2 487.9h.7M449.5 496.9h.7M457.4 508.9h.7M448.7 516.8h.7M460.1 506.5h.7M450.6 501.3h.7M453.8 512.7h.7M443.0 482.1h.7M449.6 503.8h.7M461.6 487.4h.7M446.9 512.7h.7M452.3 490.4h.7M448.0 506.9h.7M448.5 484.6h.7M454.9 505.9h.7M443.3 501.3h.7M458.3 486.1h.7M444.0 513.2h.7M454.6 509.5h.7M448.4 499.5h.7M444.2 505.3h.7M461.8 491.9h.7M460.9 475.6h.7M444.6 512.4h.7M447.4 492.9h.7M462.9 509.2h.7M456.6 515.5h.7M453.1 493.7h.7M441.2 517.4h.7M454.9 498.5h.7M444.6 521.2h.7M459.8 499.6h.7M443.5 501.8h.7M461.8 475.2h.7M458.2 497.3h.7M456.6 499.0h.7M447.2 464.6h.7M460.8 512.8h.7M447.4 475.8h.7M442.0 517.3h.7M462.0 494.1h.7M441.4 519.0h.7M458.5 468.2h.7M452.4 500.5h.7M447.9 492.9h.7M453.7 508.4h.7M453.7 507.3h.7M453.5 489.2h.7M445.6 500.8h.7M463.6 468.1h.7M446.9 518.6h.7M457.1 468.5h.7M442.6 509.6h.7M455.7 484.7h.7M450.7 510.0h.7M449.2 486.0h.7M451.7 471.3h.7M446.0 505.2h.7M449.4 493.9h.7M451.6 487.6h.7M455.9 514.4h.7M451.4 515.7h.7M446.5 503.2h.7M458.8 503.8h.7M457.5 471.2h.7M447.8 496.2h.7M442.6 496.5h.7M442.3 506.8h.7M460.3 503.3h.7M449.9 516.3h.7M450.3 513.8h.7M462.0 493.1h.7M445.2 508.8h.7M459.4 481.9h.7M452.6 516.6h.7M454.4 500.6h.7M450.8 506.4h.7M450.6 494.9h.7M440.7 471.5h.7M454.9 486.2h.7M451.7 508.7h.7M448.6 492.6h.7M441.7 499.3h.7M449.8 500.2h.7M456.8 512.7h.7M456.5 520.0h.7M452.1 484.2h.7M463.9 508.4h.7M445.2 489.2h.7M443.0 476.9h.7M442.7 511.9h.7M448.4 502.8h.7M442.3 499.5h.7M450.1 491.6h.7M449.6 482.8h.7M444.8 512.3h.7M446.8 509.4h.7M448.5 493.3h.7M451.7 517.9h.7M461.1 471.5h.7M457.9 482.1h.7M441.6 484.9h.7M452.2 497.3h.7M463.7 488.0h.7M442.5 502.7h.7M452.7 488.6h.7M461.5 489.8h.7M447.9 487.2h.7M450.6 483.0h.7M462.7 478.8h.7M455.6 515.1h.7M451.1 488.3h.7M457.1 476.9h.7M452.6 503.8h.7M453.9 502.5h.7M447.3 473.3h.7M457.9 470.1h.7M463.0 515.2h.7M455.9 510.7h.7M455.6 488.5h.7M462.9 509.8h.7M448.5 500.2h.7M444.5 469.8h.7M454.6 506.9h.7M456.2 492.1h.7M459.8 498.9h.7M450.2 514.9h.7M463.0 511.7h.7M448.5 484.5h.7M456.0 493.3h.7M457.2 508.0h.7M454.9 478.2h.7M447.7 502.3h.7M458.3 520.5h.7M453.3 512.9h.7M448.0 488.9h.7M461.1 516.7h.7M457.4 501.2h.7M440.8 485.9h.7M461.3 494.4h.7M455.8 519.1h.7M462.8 510.4h.7M457.4 481.9h.7M448.8 488.9h.7M453.8 511.1h.7M446.6 479.4h.7M445.6 517.0h.7M453.4 509.9h.7M443.9 489.6h.7M446.7 492.9h.7M461.3 500.6h.7M446.0 514.9h.7M458.4 492.7h.7M461.1 514.4h.7M443.6 486.3h.7M462.1 489.6h.7M461.0 499.8h.7M461.7 492.5h.7M461.9 507.4h.7M447.7 460.1h.7M454.4 473.1h.7M445.3 499.6h.7M456.0 501.1h.7M457.2 487.8h.7M453.1 475.6h.7M447.6 477.8h.7M453.1 474.3h.7M459.2 480.8h.7M455.9 476.9h.7M443.2 504.9h.7M441.4 512.2h.7M462.0 503.8h.7M452.7 497.1h.7M463.8 479.5h.7M460.1 508.8h.7M442.3 474.5h.7M460.1 500.9h.7M441.4 479.3h.7M461.7 493.5h.7M458.7 474.5h.7M455.8 468.5h.7M447.3 496.9h.7M450.7 486.6h.7M450.7 477.2h.7M455.6 488.5h.7M450.2 504.9h.7M450.7 475.5h.7M447.8 507.1h.7M441.9 495.4h.7M452.4 502.1h.7M459.9 498.2h.7M446.8 460.6h.7M457.8 499.5h.7M459.2 480.2h.7M454.5 491.3h.7M444.5 495.1h.7M457.0 498.9h.7M460.7 507.8h.7M462.2 505.3h.7M463.1 486.6h.7M442.5 481.3h.7M458.6 512.1h.7M451.2 515.9h.7M448.9 490.4h.7M457.2 497.8h.7M460.1 504.0h.7M463.0 520.8h.7M447.7 478.7h.7M447.1 467.6h.7M460.3 475.1h.7M462.8 499.6h.7M454.4 487.9h.7M444.5 519.0h.7M450.6 493.2h.7M459.8 471.8h.7M457.8 489.6h.7M447.0 493.0h.7M451.9 498.5h.7M463.3 501.1h.7M445.0 497.1h.7M446.4 477.5h.7M461.2 513.6h.7M458.9 517.8h.7M457.4 501.0h.7M456.2 499.5h.7M441.2 494.1h.7M456.5 493.5h.7M453.6 495.8h.7M451.1 486.1h.7M461.0 493.4h.7M460.0 507.3h.7M442.7 495.1h.7M460.6 479.2h.7M442.4 503.3h.7M458.7 471.5h.7M443.2 483.0h.7M460.6 461.6h.7M456.8 464.2h.7M454.3 504.6h.7M454.0 482.5h.7M453.2 507.3h.7M443.4 479.1h.7M444.0 458.4h.7M451.7 484.6h.7M446.2 509.4h.7M441.9 495.3h.7M463.1 492.5h.7M454.0 506.9h.7M454.4 487.6h.7M462.2 480.9h.7M458.0 483.4h.7M441.6 492.4h.7M442.6 504.7h.7M458.5 491.6h.7M459.2 489.9h.7M446.1 480.7h.7M452.2 501.4h.7M450.1 489.1h.7M448.9 518.7h.7M454.8 510.1h.7M451.5 495.4h.7M463.6 479.7h.7M446.0 508.8h.7M443.5 503.4h.7M459.4 486.8h.7M447.9 499.8h.7M450.4 495.6h.7M461.8 514.5h.7M441.5 483.8h.7M455.0 520.7h.7M456.8 476.6h.7M450.9 492.1h.7M454.8 511.7h.7M455.6 475.7h.7M463.9 512.4h.7M454.2 485.0h.7M458.6 484.0h.7M463.7 482.7h.7M451.1 487.1h.7M441.2 489.7h.7M454.8 492.7h.7M442.2 508.7h.7M461.2 506.0h.7M463.5 504.0h.7M445.8 497.2h.7M446.1 490.1h.7M457.8 484.6h.7M462.7 491.9h.7M452.6 468.3h.7M450.1 463.9h.7M452.7 507.1h.7M462.5 502.3h.7M463.1 485.3h.7M449.0 464.4h.7M463.5 472.9h.7M444.0 484.0h.7M453.5 515.6h.7M448.4 517.4h.7M461.4 504.0h.7M443.0 515.8h.7M453.6 510.4h.7M458.7 468.9h.7M454.2 508.4h.7M445.0 481.0h.7M463.4 476.8h.7M462.7 499.5h.7M458.6 482.1h.7M452.5 494.3h.7M449.3 485.1h.7M448.5 470.9h.7M462.8 477.6h.7M446.7 484.2h.7M444.1 491.0h.7M445.3 505.9h.7M443.6 516.2h.7M461.8 489.2h.7M444.7 486.9h.7M444.7 518.1h.7M458.6 495.5h.7M445.3 522.1h.7M444.2 500.7h.7M448.0 489.6h.7M453.1 485.9h.7M444.0 489.8h.7M451.1 491.1h.7M449.5 508.5h.7M453.0 496.0h.7M443.9 498.7h.7M459.9 508.8h.7M458.8 486.7h.7M458.4 507.8h.7M443.6 484.3h.7M454.7 504.6h.7M449.0 500.3h.7M442.2 482.2h.7M452.6 509.8h.7M454.5 492.2h.7M454.4 497.7h.7M457.8 490.6h.7M443.5 473.4h.7M447.4 490.8h.7M448.4 485.9h.7M457.6 479.2h.7M447.7 479.7h.7M461.1 502.6h.7M441.7 512.7h.7M445.5 492.7h.7M443.6 514.4h.7M457.9 499.4h.7M444.6 502.3h.7M441.1 487.2h.7M452.6 504.2h.7M444.7 504.2h.7M449.1 485.6h.7M463.7 502.3h.7M450.9 493.4h.7M458.1 489.9h.7M448.0 479.1h.7M447.2 483.5h.7M462.3 475.1h.7M462.6 497.4h.7M441.2 494.7h.7M457.8 510.8h.7M455.9 487.4h.7M461.9 478.5h.7M450.1 495.0h.7M445.9 522.2h.7M450.1 514.6h.7M453.6 515.3h.7M458.2 479.4h.7M459.0 490.5h.7M463.6 507.3h.7M453.1 498.7h.7M454.7 477.1h.7M454.7 517.3h.7M445.3 504.6h.7M451.7 521.9h.7M441.8 471.7h.7M455.0 522.5h.7M448.5 485.2h.7M444.5 502.0h.7M456.8 491.8h.7M443.9 481.1h.7M449.2 496.1h.7M450.8 484.6h.7M454.8 506.4h.7M442.9 488.0h.7M459.0 494.0h.7M461.0 485.0h.7M442.4 497.3h.7M460.3 493.3h.7M450.7 489.5h.7M460.6 481.6h.7M456.6 490.0h.7M447.5 502.0h.7M445.8 502.3h.7M457.2 493.5h.7M445.9 517.0h.7M449.4 471.2h.7M452.3 483.6h.7M459.8 477.9h.7M448.2 488.4h.7M461.3 508.7h.7M446.4 516.7h.7M448.2 482.2h.7M456.0 506.8h.7M448.0 476.0h.7M449.7 471.9h.7M441.9 480.1h.7M441.5 494.8h.7M459.0 521.5h.7M453.3 475.7h.7M443.8 512.1h.7M453.5 489.5h.7M463.7 518.4h.7M456.9 493.8h.7M462.2 504.7h.7M447.3 499.4h.7M447.7 501.9h.7M454.9 484.7h.7M449.7 512.6h.7M442.2 510.9h.7M463.6 485.8h.7M441.9 482.1h.7M460.1 483.4h.7M459.0 504.4h.7M462.4 498.8h.7M446.3 473.8h.7M448.0 492.9h.7M456.6 482.0h.7M451.8 510.0h.7M443.2 507.4h.7M455.9 462.9h.7M461.4 498.5h.7M446.2 516.1h.7M448.9 502.1h.7M457.7 501.5h.7M445.1 474.2h.7M453.0 508.3h.7M447.9 494.2h.7M443.6 512.0h.7M444.9 494.8h.7M446.9 482.0h.7M454.7 509.8h.7M456.1 506.9h.7M447.7 484.1h.7M455.3 493.2h.7M448.3 491.8h.7M448.3 461.5h.7M456.6 491.1h.7M452.6 512.5h.7M442.3 482.6h.7M463.7 475.2h.7M441.9 494.9h.7M454.5 488.9h.7M451.4 509.9h.7M461.7 509.6h.7M443.8 484.7h.7M447.4 487.2h.7M443.0 495.4h.7M448.4 486.6h.7M444.5 469.1h.7M444.7 512.5h.7M463.3 498.5h.7M451.6 521.5h.7M457.1 492.9h.7M458.0 506.0h.7M441.5 494.6h.7M459.3 518.7h.7M456.0 489.0h.7M459.1 509.3h.7M457.7 509.1h.7M442.4 482.9h.7M463.3 506.6h.7M445.7 483.8h.7M442.0 513.4h.7M445.0 502.5h.7M445.9 462.9h.7M447.6 493.7h.7M457.0 510.8h.7M443.4 479.4h.7M450.8 476.8h.7M452.1 495.1h.7M452.1 490.6h.7M452.0 517.1h.7M447.1 488.0h.7M444.7 494.1h.7M448.7 506.1h.7M453.3 506.6h.7M450.4 489.4h.7M449.1 493.4h.7M452.7 515.3h.7M456.2 489.8h.7M448.1 492.4h.7M442.3 501.0h.7M445.1 467.2h.7M449.2 515.1h.7M448.0 494.4h.7M441.0 471.4h.7M445.1 514.6h.7M463.5 514.9h.7M461.9 509.4h.7M463.8 489.8h.7M441.7 501.7h.7M456.7 513.9h.7M450.0 499.1h.7M461.9 511.7h.7M461.8 513.4h.7M453.2 477.8h.7M443.2 507.2h.7M450.6 506.9h.7M450.9 493.0h.7M459.4 508.9h.7M443.1 485.8h.7M452.7 496.2h.7M449.3 473.3h.7M452.1 489.4h.7M450.5 518.4h.7M451.0 487.7h.7M457.3 502.9h.7M460.1 490.8h.7M459.6 513.1h.7M457.4 514.4h.7M442.1 494.4h.7M443.9 522.2h.7M459.7 483.5h.7M450.4 504.4h.7M453.5 490.4h.7M456.8 516.3h.7M447.3 481.3h.7M441.4 477.6h.7M452.4 512.9h.7M455.1 521.4h.7M440.8 495.7h.7M449.8 518.3h.7M463.6 490.1h.7M457.6 482.1h.7M446.9 487.5h.7M454.0 501.1h.7M456.0 503.3h.7M453.5 474.0h.7M443.3 479.6h.7M451.0 490.3h.7M447.1 513.5h.7M459.8 469.0h.7M451.8 503.0h.7M451.5 501.2h.7M457.3 515.2h.7M449.0 495.2h.7M452.9 503.6h.7M457.0 491.3h.7M457.8 512.7h.7M454.2 492.0h.7M441.3 503.0h.7M442.2 518.6h.7M461.9 461.0h.7M445.3 461.6h.7M452.1 507.9h.7M452.3 476.4h.7M462.6 521.6h.7M454.5 498.2h.7M461.5 508.0h.7M455.2 512.4h.7M444.0 505.8h.7M456.1 481.9h.7M461.8 478.0h.7M456.4 495.7h.7M463.4 492.8h.7M444.1 482.8h.7M454.7 490.5h.7M446.3 481.6h.7M455.0 500.0h.7M442.6 501.1h.7M460.5 497.7h.7M448.2 494.0h.7M447.4 493.1h.7M454.4 508.5h.7M459.4 479.2h.7M451.6 516.9h.7M442.1 491.9h.7M454.4 508.8h.7M460.9 491.9h.7M452.3 496.2h.7M454.1 496.7h.7M462.5 507.9h.7M443.7 482.5h.7M450.1 498.8h.7M451.8 487.6h.7M463.0 498.4h.7M453.7 517.4h.7M458.5 474.4h.7M451.5 506.8h.7M449.3 493.2h.7M456.3 473.9h.7M454.0 513.3h.7M461.2 485.7h.7M441.8 473.4h.7M449.1 495.7h.7M447.7 502.0h.7M461.1 467.2h.7M450.3 467.8h.7M450.5 469.6h.7M448.0 492.7h.7M450.3 489.3h.7M441.2 514.9h.7M449.4 517.6h.7M458.0 513.6h.7M447.2 480.9h.7M462.8 485.7h.7M462.1 499.6h.7M456.8 490.4h.7M455.7 508.3h.7M451.0 506.5h.7M455.5 517.5h.7M462.1 521.0h.7M454.6 490.2h.7M446.3 489.2h.7M447.8 492.8h.7M441.7 502.8h.7M456.4 498.2h.7M454.8 517.5h.7M457.5 511.3h.7M459.3 477.7h.7M444.4 486.3h.7M463.1 472.3h.7M447.4 513.8h.7M443.1 464.7h.7M445.0 515.0h.7M442.0 493.5h.7M454.4 502.2h.7M441.8 485.4h.7M463.2 500.3h.7M461.6 484.5h.7M461.7 490.5h.7M459.4 502.2h.7M450.0 497.0h.7M458.8 502.0h.7M451.3 513.3h.7M458.0 475.0h.7M451.6 513.9h.7M444.0 476.8h.7M441.0 504.8h.7M448.3 518.3h.7M462.6 516.5h.7M460.8 497.5h.7M446.1 464.0h.7M451.0 520.7h.7M462.4 518.1h.7M458.3 483.2h.7M454.5 502.0h.7M462.2 473.2h.7M457.1 517.5h.7M452.3 480.2h.7M458.1 488.6h.7M462.2 472.8h.7M445.9 513.3h.7M447.7 513.5h.7M463.1 512.2h.7M454.4 512.6h.7M449.7 482.7h.7M445.1 494.1h.7M460.4 507.5h.7M459.7 504.8h.7M452.7 522.3h.7M458.1 473.0h.7M440.7 496.4h.7M462.6 487.5h.7M463.4 499.2h.7M453.5 498.0h.7M443.5 475.7h.7M446.4 468.1h.7M461.8 514.5h.7M453.8 482.2h.7M458.0 509.8h.7M462.5 519.9h.7M458.0 512.6h.7M463.6 490.9h.7M463.7 473.1h.7M459.2 471.2h.7M462.0 498.0h.7M459.2 509.8h.7M445.1 510.1h.7M454.1 515.8h.7M461.6 477.8h.7M450.5 476.0h.7M463.3 466.0h.7M449.2 521.2h.7M441.5 484.5h.7M457.5 499.7h.7M454.4 502.1h.7M444.7 508.8h.7M462.5 473.2h.7M450.6 505.7h.7M444.5 468.7h.7M445.4 508.0h.7M463.8 466.8h.7M455.0 515.2h.7M452.4 515.6h.7M454.0 515.8h.7M446.8 491.9h.7M449.4 500.4h.7M450.3 503.9h.7M443.5 476.8h.7M441.2 516.3h.7M450.4 497.8h.7M446.8 495.4h.7M461.7 501.9h.7M444.4 506.9h.7M459.0 485.7h.7M454.1 515.9h.7M449.1 475.2h.7M448.8 485.9h.7M453.1 504.6h.7M459.2 504.3h.7M459.9 482.6h.7M447.1 483.2h.7M445.2 498.9h.7M462.7 517.2h.7M455.0 498.3h.7M445.8 496.7h.7M461.0 515.5h.7M446.9 504.9h.7M457.9 495.7h.7M461.0 498.5h.7M454.2 500.6h.7M443.5 472.1h.7M450.4 516.2h.7M441.3 497.8h.7M448.2 516.3h.7M459.8 513.9h.7M456.2 497.5h.7M444.6 494.0h.7M442.7 491.5h.7M447.4 492.2h.7M446.2 501.7h.7M444.2 479.8h.7M463.2 505.6h.7M463.3 485.8h.7M461.3 512.0h.7M460.7 477.7h.7M457.1 519.5h.7M443.4 473.6h.7M453.0 505.9h.7M459.2 508.3h.7M447.3 494.6h.7M442.7 489.9h.7M450.8 513.8h.7M452.6 497.2h.7M448.9 505.0h.7M443.1 518.8h.7M455.2 516.8h.7M460.1 506.6h.7M460.2 516.0h.7M448.6 509.8h.7M454.4 498.8h.7M448.6 493.2h.7M446.2 495.7h.7M449.9 500.1h.7M457.5 469.4h.7M457.1 494.8h.7M454.7 470.8h.7M460.4 482.2h.7M460.6 520.6h.7M441.8 486.1h.7M463.4 483.4h.7M458.1 490.0h.7M461.2 482.0h.7M449.0 489.8h.7M457.8 460.9h.7M452.6 508.7h.7M443.0 504.2h.7M450.7 504.9h.7M457.7 459.1h.7M450.0 501.8h.7M456.7 486.4h.7M461.4 485.1h.7M443.6 518.5h.7M457.1 492.4h.7M443.1 473.3h.7M441.8 492.3h.7M450.6 513.1h.7M444.2 489.1h.7M462.2 507.6h.7M454.5 473.2h.7M447.5 489.5h.7M457.1 494.2h.7M447.0 460.8h.7M455.6 480.6h.7M450.0 473.7h.7M463.7 483.8h.7M453.9 476.5h.7M459.4 516.0h.7M457.0 468.0h.7M451.9 492.5h.7M448.7 488.4h.7M450.1 465.0h.7M461.8 491.3h.7M446.8 506.8h.7M445.4 497.3h.7M446.9 514.0h.7M459.3 479.6h.7M448.8 497.9h.7M463.2 490.0h.7M446.9 522.5h.7M444.5 497.8h.7M454.2 520.6h.7M457.7 511.1h.7M463.9 492.3h.7M457.9 487.9h.7M457.8 488.1h.7M461.7 504.4h.7M446.9 487.2h.7M444.7 492.1h.7M445.6 491.3h.7M456.8 498.4h.7M460.2 478.6h.7M463.5 487.7h.7M441.5 469.7h.7M452.2 471.0h.7M446.4 497.7h.7M457.8 504.6h.7M444.1 476.6h.7M457.5 496.4h.7M459.6 506.5h.7M453.9 504.3h.7M450.0 502.5h.7M460.1 482.1h.7M446.5 509.3h.7M461.3 493.6h.7" stroke="#000" stroke-width="1.0" fill="none"/>
<defs><linearGradient id="fc" x1="0" y1="0" x2="0" y2="1"><stop offset="0" stop-color="#e41c24"/><stop offset="0.12" stop-color="#e6363c"/><stop offset="0.3" stop-color="#f0898c"/><stop offset="0.44" stop-color="#fbdfe0"/><stop offset="0.5" stop-color="#ffffff"/><stop offset="0.56" stop-color="#e2e3f0"/><stop offset="0.72" stop-color="#8d93c7"/><stop offset="0.88" stop-color="#4660aa"/><stop offset="1" stop-color="#2c4c9b"/></linearGradient></defs>
<text x="8.08" y="500.30" font-size="11.34" font-weight="bold" fill="#000" textLength="9.32" lengthAdjust="spacingAndGlyphs">G</text>
<text x="46.10" y="497.20" font-size="9.07" textLength="102.32" lengthAdjust="spacingAndGlyphs">CD34+ mtRunx1 AML cells</text>
<line x1="56.5" y1="499.7" x2="138.4" y2="499.7" stroke="#555" stroke-width="1.1"/>
<text x="70.40" y="509.80" font-size="8.64" text-anchor="middle">11</text>
<text x="99.50" y="509.80" font-size="8.64" text-anchor="middle">12</text>
<text x="128.30" y="509.80" font-size="8.64" text-anchor="middle">13</text>
<rect x="55.40" y="512.20" width="28.85" height="11.71" fill="#d3d2e8"/>
<rect x="84.20" y="512.20" width="28.95" height="11.71" fill="#f3f5fb"/>
<rect x="113.10" y="512.20" width="28.65" height="11.71" fill="#3a50a4"/>
<text x="52.49" y="521.60" font-size="8.21" text-anchor="end" textLength="26.04" lengthAdjust="spacingAndGlyphs">RUNX1</text>
<rect x="55.40" y="523.86" width="28.85" height="11.71" fill="#a9aad6"/>
<rect x="84.20" y="523.86" width="28.95" height="11.71" fill="#d2d1e9"/>
<rect x="113.10" y="523.86" width="28.65" height="11.71" fill="#7479bd"/>
<text x="52.49" y="533.30" font-size="8.21" text-anchor="end" textLength="21.44" lengthAdjust="spacingAndGlyphs">c-Myc</text>
<rect x="55.40" y="535.52" width="28.85" height="11.71" fill="#b4b4dc"/>
<rect x="84.20" y="535.52" width="28.95" height="11.71" fill="#e8e8f4"/>
<rect x="113.10" y="535.52" width="28.65" height="11.71" fill="#6166b3"/>
<text x="52.49" y="544.80" font-size="8.21" text-anchor="end" textLength="21.44" lengthAdjust="spacingAndGlyphs">MCL1</text>
<rect x="55.40" y="547.18" width="28.85" height="11.71" fill="#e7e8f4"/>
<rect x="84.20" y="547.18" width="28.95" height="11.71" fill="#f6f6fb"/>
<rect x="113.10" y="547.18" width="28.65" height="11.71" fill="#8d8fca"/>
<text x="28.95" y="556.20" font-size="8.21" textLength="21.34" lengthAdjust="spacingAndGlyphs">BCL-x</text>
<text x="50.40" y="557.80" font-size="3.89">L</text>
<rect x="55.40" y="558.84" width="28.85" height="11.71" fill="#fff2f2"/>
<rect x="84.20" y="558.84" width="28.95" height="11.71" fill="#f8c5c8"/>
<rect x="113.10" y="558.84" width="28.65" height="11.71" fill="#fbd8da"/>
<text x="52.49" y="567.60" font-size="8.21" text-anchor="end" textLength="18.44" lengthAdjust="spacingAndGlyphs">MPO</text>
<rect x="55.40" y="512.20" width="86.30" height="58.30" fill="none" stroke="#333" stroke-width="0.9"/>
<rect x="152.60" y="512.40" width="11.10" height="58.10" fill="url(#fc)" stroke="#333" stroke-width="0.9"/>
<text x="166.40" y="515.30" font-size="8.64">2</text>
<line x1="152.6" y1="526.9250000000001" x2="154.0" y2="526.9250000000001" stroke="#231f20" stroke-width="0.8"/>
<line x1="162.3" y1="526.9250000000001" x2="163.7" y2="526.9250000000001" stroke="#231f20" stroke-width="0.8"/>
<text x="166.40" y="529.83" font-size="8.64">1</text>
<line x1="152.6" y1="541.45" x2="154.0" y2="541.45" stroke="#231f20" stroke-width="0.8"/>
<line x1="162.3" y1="541.45" x2="163.7" y2="541.45" stroke="#231f20" stroke-width="0.8"/>
<text x="166.40" y="544.35" font-size="8.64">0</text>
<line x1="152.6" y1="555.975" x2="154.0" y2="555.975" stroke="#231f20" stroke-width="0.8"/>
<line x1="162.3" y1="555.975" x2="163.7" y2="555.975" stroke="#231f20" stroke-width="0.8"/>
<text x="166.40" y="558.88" font-size="8.64">−1</text>
<text x="166.40" y="573.40" font-size="8.64">−2</text>
<text x="48.69" y="582.70" font-size="9.29" textLength="100.14" lengthAdjust="spacingAndGlyphs">CD117 Hi, CD123 Hi, CD244 Hi,</text>
<text x="68.29" y="593.10" font-size="9.29" textLength="60.94" lengthAdjust="spacingAndGlyphs">CD86 Lo, CD11b Lo</text>
<text x="179.40" y="508.72" font-size="8.64" textLength="64.78" lengthAdjust="spacingAndGlyphs" transform="rotate(90 179.40 508.72)">(100 nM HHT/Ctrl)</text>
<text x="189.20" y="519.52" font-size="8.64" textLength="44.78" lengthAdjust="spacingAndGlyphs" transform="rotate(90 189.20 519.52)">Fold-change</text>
<text x="8.58" y="609.40" font-size="11.34" font-weight="bold" fill="#000" textLength="8.72" lengthAdjust="spacingAndGlyphs">H</text>
<text x="46.10" y="606.70" font-size="9.07" textLength="102.32" lengthAdjust="spacingAndGlyphs">CD34+ mtRunx1 AML cells</text>
<line x1="56.5" y1="609.2" x2="138.4" y2="609.2" stroke="#555" stroke-width="1.1"/>
<text x="70.40" y="619.30" font-size="8.64" text-anchor="middle">11</text>
<text x="99.50" y="619.30" font-size="8.64" text-anchor="middle">12</text>
<text x="128.30" y="619.30" font-size="8.64" text-anchor="middle">13</text>
<rect x="55.40" y="621.70" width="28.85" height="11.52" fill="#c6c4e3"/>
<rect x="84.20" y="621.70" width="28.95" height="11.52" fill="#f3f1f7"/>
<rect x="113.10" y="621.70" width="28.65" height="11.52" fill="#8483c2"/>
<text x="51.89" y="631.00" font-size="8.21" text-anchor="end" textLength="22.04" lengthAdjust="spacingAndGlyphs">c-Myc</text>
<rect x="55.40" y="633.18" width="28.85" height="11.52" fill="#bcb9df"/>
<rect x="84.20" y="633.18" width="28.95" height="11.52" fill="#f7f8fd"/>
<rect x="113.10" y="633.18" width="28.65" height="11.52" fill="#4c5bad"/>
<text x="51.89" y="641.80" font-size="8.21" text-anchor="end" textLength="17.54" lengthAdjust="spacingAndGlyphs">PU.1</text>
<rect x="55.40" y="644.65" width="28.85" height="11.52" fill="#f2f4fb"/>
<rect x="84.20" y="644.65" width="28.95" height="11.52" fill="#f7f8fd"/>
<rect x="113.10" y="644.65" width="28.65" height="11.52" fill="#cbc8e5"/>
<text x="28.65" y="653.50" font-size="8.21" textLength="21.64" lengthAdjust="spacingAndGlyphs">BCL-x</text>
<text x="50.40" y="655.10" font-size="3.89">L</text>
<rect x="55.40" y="656.12" width="28.85" height="11.52" fill="#fdeeee"/>
<rect x="84.20" y="656.12" width="28.95" height="11.52" fill="#ffffff"/>
<rect x="113.10" y="656.12" width="28.65" height="11.52" fill="#fde0e2"/>
<text x="51.89" y="665.00" font-size="8.21" text-anchor="end" textLength="18.94" lengthAdjust="spacingAndGlyphs">MPO</text>
<rect x="55.40" y="621.70" width="86.30" height="45.90" fill="none" stroke="#333" stroke-width="0.9"/>
<rect x="152.60" y="621.90" width="11.10" height="45.70" fill="url(#fc)" stroke="#333" stroke-width="0.9"/>
<text x="166.40" y="624.80" font-size="8.64">2</text>
<line x1="152.6" y1="633.325" x2="154.0" y2="633.325" stroke="#231f20" stroke-width="0.8"/>
<line x1="162.3" y1="633.325" x2="163.7" y2="633.325" stroke="#231f20" stroke-width="0.8"/>
<text x="166.40" y="636.23" font-size="8.64">1</text>
<line x1="152.6" y1="644.7500000000001" x2="154.0" y2="644.7500000000001" stroke="#231f20" stroke-width="0.8"/>
<line x1="162.3" y1="644.7500000000001" x2="163.7" y2="644.7500000000001" stroke="#231f20" stroke-width="0.8"/>
<text x="166.40" y="647.65" font-size="8.64">0</text>
<line x1="152.6" y1="656.1750000000001" x2="154.0" y2="656.1750000000001" stroke="#231f20" stroke-width="0.8"/>
<line x1="162.3" y1="656.1750000000001" x2="163.7" y2="656.1750000000001" stroke="#231f20" stroke-width="0.8"/>
<text x="166.40" y="659.08" font-size="8.64">−1</text>
<text x="166.40" y="670.50" font-size="8.64">−2</text>
<text x="48.69" y="679.30" font-size="9.29" textLength="100.14" lengthAdjust="spacingAndGlyphs">CD117 Hi, CD123 Hi, CD244 Hi,</text>
<text x="68.29" y="689.40" font-size="9.29" textLength="60.94" lengthAdjust="spacingAndGlyphs">CD86 Lo, CD11b Lo</text>
<text x="178.60" y="616.52" font-size="8.64" textLength="55.78" lengthAdjust="spacingAndGlyphs" transform="rotate(90 178.60 616.52)">(1μM OTX/Ctrl)</text>
<text x="188.90" y="622.52" font-size="8.64" textLength="43.78" lengthAdjust="spacingAndGlyphs" transform="rotate(90 188.90 622.52)">Fold-change</text>
<text x="255.88" y="585.70" font-size="11.34" font-weight="bold" fill="#000" textLength="3.32" lengthAdjust="spacingAndGlyphs">I</text>
<text x="283.00" y="649.09" font-size="8.86" textLength="56.90" lengthAdjust="spacingAndGlyphs" transform="rotate(-90 283.00 649.09)">CD34+mtRunx1</text>
<text x="292.20" y="637.59" font-size="8.86" textLength="34.90" lengthAdjust="spacingAndGlyphs" transform="rotate(-90 292.20 637.59)">AML cells</text>
<text x="303.60" y="611.90" font-size="8.42" text-anchor="end">11</text>
<text x="303.60" y="622.90" font-size="8.42" text-anchor="end">12</text>
<text x="303.60" y="634.00" font-size="8.42" text-anchor="end">13</text>
<text x="313.81" y="600.00" font-size="8.86" textLength="13.40" lengthAdjust="spacingAndGlyphs">Ctrl</text>
<text x="337.21" y="590.50" font-size="8.86" textLength="22.90" lengthAdjust="spacingAndGlyphs">0.1μM</text>
<text x="348.75" y="599.60" font-size="8.86" text-anchor="middle" textLength="15.60" lengthAdjust="spacingAndGlyphs">HHT</text>
<text x="366.61" y="590.50" font-size="8.86" textLength="22.70" lengthAdjust="spacingAndGlyphs">1.0μM</text>
<text x="378.05" y="599.60" font-size="8.86" text-anchor="middle" textLength="16.60" lengthAdjust="spacingAndGlyphs">OTX</text>
<text x="395.81" y="590.50" font-size="8.86" textLength="22.50" lengthAdjust="spacingAndGlyphs">0.1μM</text>
<text x="407.15" y="599.60" font-size="8.86" text-anchor="middle" textLength="15.80" lengthAdjust="spacingAndGlyphs">Ven</text>
<rect x="306.30" y="602.60" width="29.35" height="11.48" fill="#198a42"/>
<rect x="335.60" y="602.60" width="28.95" height="11.48" fill="#eef6ee"/>
<rect x="364.50" y="602.60" width="29.25" height="11.48" fill="#c6e4c6"/>
<rect x="393.70" y="602.60" width="28.95" height="11.48" fill="#cbe6ca"/>
<rect x="306.30" y="614.03" width="29.35" height="11.48" fill="#35994a"/>
<rect x="335.60" y="614.03" width="28.95" height="11.48" fill="#eff7ef"/>
<rect x="364.50" y="614.03" width="29.25" height="11.48" fill="#b0d8b0"/>
<rect x="393.70" y="614.03" width="28.95" height="11.48" fill="#74bd78"/>
<rect x="306.30" y="625.47" width="29.35" height="11.48" fill="#7cc07f"/>
<rect x="335.60" y="625.47" width="28.95" height="11.48" fill="#f7fbf7"/>
<rect x="364.50" y="625.47" width="29.25" height="11.48" fill="#f5faf5"/>
<rect x="393.70" y="625.47" width="28.95" height="11.48" fill="#fdfefd"/>
<rect x="306.30" y="602.60" width="116.30" height="34.30" fill="none" stroke="#333" stroke-width="0.9"/>
<defs><linearGradient id="gr" x1="0" y1="0" x2="0" y2="1"><stop offset="0" stop-color="#0f8538"/><stop offset="0.5" stop-color="#6cbd6e"/><stop offset="1" stop-color="#f4fbf4"/></linearGradient></defs>
<rect x="433.40" y="602.60" width="11.00" height="34.30" fill="url(#gr)" stroke="#333" stroke-width="0.9"/>
<text x="447.50" y="606.10" font-size="8.21">8</text>
<line x1="433.4" y1="611.1750000000001" x2="434.8" y2="611.1750000000001" stroke="#231f20" stroke-width="0.8"/>
<line x1="443.0" y1="611.1750000000001" x2="444.4" y2="611.1750000000001" stroke="#231f20" stroke-width="0.8"/>
<text x="447.50" y="613.88" font-size="8.21">6</text>
<line x1="433.4" y1="619.75" x2="434.8" y2="619.75" stroke="#231f20" stroke-width="0.8"/>
<line x1="443.0" y1="619.75" x2="444.4" y2="619.75" stroke="#231f20" stroke-width="0.8"/>
<text x="447.50" y="622.45" font-size="8.21">4</text>
<line x1="433.4" y1="628.325" x2="434.8" y2="628.325" stroke="#231f20" stroke-width="0.8"/>
<line x1="443.0" y1="628.325" x2="444.4" y2="628.325" stroke="#231f20" stroke-width="0.8"/>
<text x="447.50" y="631.03" font-size="8.21">2</text>
<text x="447.50" y="639.60" font-size="8.21">0</text>
<text x="468.40" y="592.61" font-size="8.86" textLength="53.90" lengthAdjust="spacingAndGlyphs" transform="rotate(90 468.40 592.61)">% of stem cells</text>
<text x="458.40" y="590.51" font-size="8.86" textLength="58.80" lengthAdjust="spacingAndGlyphs" transform="rotate(90 458.40 590.51)">(relative to total)</text>
<text x="353.31" y="646.50" font-size="8.86" textLength="23.30" lengthAdjust="spacingAndGlyphs">16 hrs</text>
<line x1="308.8" y1="643.5" x2="345" y2="643.5" stroke="#231f20" stroke-width="1.0"/>
<line x1="385" y1="643.5" x2="421.3" y2="643.5" stroke="#231f20" stroke-width="1.0"/>
<text x="306.51" y="658.50" font-size="8.86" textLength="78.80" lengthAdjust="spacingAndGlyphs">Stem cells defined by:</text>
<text x="306.51" y="668.00" font-size="8.86" textLength="115.10" lengthAdjust="spacingAndGlyphs">CD117 Hi, CD123 Hi, CD244 Hi,</text>
<text x="306.51" y="677.30" font-size="8.86" textLength="71.30" lengthAdjust="spacingAndGlyphs">CD86 Lo, CD11b Lo</text>
<rect x="0.5" y="0.5" width="518.8" height="697.8" fill="none" stroke="#110d0f" stroke-width="1.2"/>
</svg>
</body></html>
